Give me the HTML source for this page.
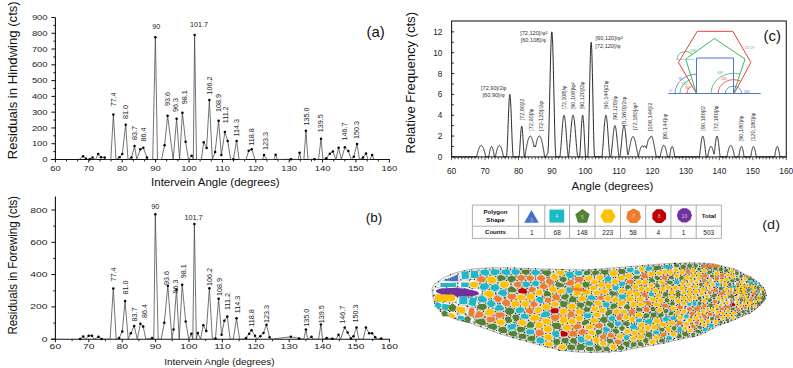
<!DOCTYPE html>
<html><head><meta charset="utf-8"><style>
html,body{margin:0;padding:0;background:#fff;}
body{width:793px;height:368px;overflow:hidden;position:relative;font-family:"Liberation Sans", sans-serif;}
</style></head><body>
<svg width="793" height="368" viewBox="0 0 793 368" style="position:absolute;left:0;top:0">
<g font-family='"Liberation Sans", sans-serif'>
<line x1="55.4" y1="17.48" x2="55.4" y2="160.00" stroke="#111" stroke-width="1.1"/>
<line x1="50.9" y1="159.5" x2="389.90" y2="159.5" stroke="#111" stroke-width="1.1"/>
<line x1="51.4" y1="159.50" x2="55.4" y2="159.50" stroke="#111" stroke-width="1"/>
<line x1="53.4" y1="151.61" x2="55.4" y2="151.61" stroke="#111" stroke-width="1"/>
<line x1="51.4" y1="143.72" x2="55.4" y2="143.72" stroke="#111" stroke-width="1"/>
<line x1="53.4" y1="135.83" x2="55.4" y2="135.83" stroke="#111" stroke-width="1"/>
<line x1="51.4" y1="127.94" x2="55.4" y2="127.94" stroke="#111" stroke-width="1"/>
<line x1="53.4" y1="120.05" x2="55.4" y2="120.05" stroke="#111" stroke-width="1"/>
<line x1="51.4" y1="112.16" x2="55.4" y2="112.16" stroke="#111" stroke-width="1"/>
<line x1="53.4" y1="104.27" x2="55.4" y2="104.27" stroke="#111" stroke-width="1"/>
<line x1="51.4" y1="96.38" x2="55.4" y2="96.38" stroke="#111" stroke-width="1"/>
<line x1="53.4" y1="88.49" x2="55.4" y2="88.49" stroke="#111" stroke-width="1"/>
<line x1="51.4" y1="80.60" x2="55.4" y2="80.60" stroke="#111" stroke-width="1"/>
<line x1="53.4" y1="72.71" x2="55.4" y2="72.71" stroke="#111" stroke-width="1"/>
<line x1="51.4" y1="64.82" x2="55.4" y2="64.82" stroke="#111" stroke-width="1"/>
<line x1="53.4" y1="56.93" x2="55.4" y2="56.93" stroke="#111" stroke-width="1"/>
<line x1="51.4" y1="49.04" x2="55.4" y2="49.04" stroke="#111" stroke-width="1"/>
<line x1="53.4" y1="41.15" x2="55.4" y2="41.15" stroke="#111" stroke-width="1"/>
<line x1="51.4" y1="33.26" x2="55.4" y2="33.26" stroke="#111" stroke-width="1"/>
<line x1="53.4" y1="25.37" x2="55.4" y2="25.37" stroke="#111" stroke-width="1"/>
<line x1="51.4" y1="17.48" x2="55.4" y2="17.48" stroke="#111" stroke-width="1"/>
<text x="47.60" y="162.10" font-size="7.6" text-anchor="end" transform="translate(47.60,0) scale(1.24,1) translate(-47.60,0)" fill="#222">0</text>
<text x="47.60" y="146.32" font-size="7.6" text-anchor="end" transform="translate(47.60,0) scale(1.24,1) translate(-47.60,0)" fill="#222">100</text>
<text x="47.60" y="130.54" font-size="7.6" text-anchor="end" transform="translate(47.60,0) scale(1.24,1) translate(-47.60,0)" fill="#222">200</text>
<text x="47.60" y="114.76" font-size="7.6" text-anchor="end" transform="translate(47.60,0) scale(1.24,1) translate(-47.60,0)" fill="#222">300</text>
<text x="47.60" y="98.98" font-size="7.6" text-anchor="end" transform="translate(47.60,0) scale(1.24,1) translate(-47.60,0)" fill="#222">400</text>
<text x="47.60" y="83.20" font-size="7.6" text-anchor="end" transform="translate(47.60,0) scale(1.24,1) translate(-47.60,0)" fill="#222">500</text>
<text x="47.60" y="67.42" font-size="7.6" text-anchor="end" transform="translate(47.60,0) scale(1.24,1) translate(-47.60,0)" fill="#222">600</text>
<text x="47.60" y="51.64" font-size="7.6" text-anchor="end" transform="translate(47.60,0) scale(1.24,1) translate(-47.60,0)" fill="#222">700</text>
<text x="47.60" y="35.86" font-size="7.6" text-anchor="end" transform="translate(47.60,0) scale(1.24,1) translate(-47.60,0)" fill="#222">800</text>
<text x="47.60" y="20.08" font-size="7.6" text-anchor="end" transform="translate(47.60,0) scale(1.24,1) translate(-47.60,0)" fill="#222">900</text>
<line x1="55.40" y1="159.5" x2="55.40" y2="162.50" stroke="#111" stroke-width="1"/>
<text x="55.40" y="170.90" font-size="7.6" text-anchor="middle" transform="translate(55.40,0) scale(1.24,1) translate(-55.40,0)" fill="#222">60</text>
<line x1="66.53" y1="159.5" x2="66.53" y2="161.50" stroke="#111" stroke-width="0.9"/>
<line x1="77.67" y1="159.5" x2="77.67" y2="161.50" stroke="#111" stroke-width="0.9"/>
<line x1="88.80" y1="159.5" x2="88.80" y2="162.50" stroke="#111" stroke-width="1"/>
<text x="88.80" y="170.90" font-size="7.6" text-anchor="middle" transform="translate(88.80,0) scale(1.24,1) translate(-88.80,0)" fill="#222">70</text>
<line x1="99.93" y1="159.5" x2="99.93" y2="161.50" stroke="#111" stroke-width="0.9"/>
<line x1="111.07" y1="159.5" x2="111.07" y2="161.50" stroke="#111" stroke-width="0.9"/>
<line x1="122.20" y1="159.5" x2="122.20" y2="162.50" stroke="#111" stroke-width="1"/>
<text x="122.20" y="170.90" font-size="7.6" text-anchor="middle" transform="translate(122.20,0) scale(1.24,1) translate(-122.20,0)" fill="#222">80</text>
<line x1="133.33" y1="159.5" x2="133.33" y2="161.50" stroke="#111" stroke-width="0.9"/>
<line x1="144.47" y1="159.5" x2="144.47" y2="161.50" stroke="#111" stroke-width="0.9"/>
<line x1="155.60" y1="159.5" x2="155.60" y2="162.50" stroke="#111" stroke-width="1"/>
<text x="155.60" y="170.90" font-size="7.6" text-anchor="middle" transform="translate(155.60,0) scale(1.24,1) translate(-155.60,0)" fill="#222">90</text>
<line x1="166.73" y1="159.5" x2="166.73" y2="161.50" stroke="#111" stroke-width="0.9"/>
<line x1="177.87" y1="159.5" x2="177.87" y2="161.50" stroke="#111" stroke-width="0.9"/>
<line x1="189.00" y1="159.5" x2="189.00" y2="162.50" stroke="#111" stroke-width="1"/>
<text x="189.00" y="170.90" font-size="7.6" text-anchor="middle" transform="translate(189.00,0) scale(1.24,1) translate(-189.00,0)" fill="#222">100</text>
<line x1="200.13" y1="159.5" x2="200.13" y2="161.50" stroke="#111" stroke-width="0.9"/>
<line x1="211.27" y1="159.5" x2="211.27" y2="161.50" stroke="#111" stroke-width="0.9"/>
<line x1="222.40" y1="159.5" x2="222.40" y2="162.50" stroke="#111" stroke-width="1"/>
<text x="222.40" y="170.90" font-size="7.6" text-anchor="middle" transform="translate(222.40,0) scale(1.24,1) translate(-222.40,0)" fill="#222">110</text>
<line x1="233.53" y1="159.5" x2="233.53" y2="161.50" stroke="#111" stroke-width="0.9"/>
<line x1="244.67" y1="159.5" x2="244.67" y2="161.50" stroke="#111" stroke-width="0.9"/>
<line x1="255.80" y1="159.5" x2="255.80" y2="162.50" stroke="#111" stroke-width="1"/>
<text x="255.80" y="170.90" font-size="7.6" text-anchor="middle" transform="translate(255.80,0) scale(1.24,1) translate(-255.80,0)" fill="#222">120</text>
<line x1="266.93" y1="159.5" x2="266.93" y2="161.50" stroke="#111" stroke-width="0.9"/>
<line x1="278.07" y1="159.5" x2="278.07" y2="161.50" stroke="#111" stroke-width="0.9"/>
<line x1="289.20" y1="159.5" x2="289.20" y2="162.50" stroke="#111" stroke-width="1"/>
<text x="289.20" y="170.90" font-size="7.6" text-anchor="middle" transform="translate(289.20,0) scale(1.24,1) translate(-289.20,0)" fill="#222">130</text>
<line x1="300.33" y1="159.5" x2="300.33" y2="161.50" stroke="#111" stroke-width="0.9"/>
<line x1="311.47" y1="159.5" x2="311.47" y2="161.50" stroke="#111" stroke-width="0.9"/>
<line x1="322.60" y1="159.5" x2="322.60" y2="162.50" stroke="#111" stroke-width="1"/>
<text x="322.60" y="170.90" font-size="7.6" text-anchor="middle" transform="translate(322.60,0) scale(1.24,1) translate(-322.60,0)" fill="#222">140</text>
<line x1="333.73" y1="159.5" x2="333.73" y2="161.50" stroke="#111" stroke-width="0.9"/>
<line x1="344.87" y1="159.5" x2="344.87" y2="161.50" stroke="#111" stroke-width="0.9"/>
<line x1="356.00" y1="159.5" x2="356.00" y2="162.50" stroke="#111" stroke-width="1"/>
<text x="356.00" y="170.90" font-size="7.6" text-anchor="middle" transform="translate(356.00,0) scale(1.24,1) translate(-356.00,0)" fill="#222">150</text>
<line x1="367.13" y1="159.5" x2="367.13" y2="161.50" stroke="#111" stroke-width="0.9"/>
<line x1="378.27" y1="159.5" x2="378.27" y2="161.50" stroke="#111" stroke-width="0.9"/>
<line x1="389.40" y1="159.5" x2="389.40" y2="162.50" stroke="#111" stroke-width="1"/>
<text x="389.40" y="170.90" font-size="7.6" text-anchor="middle" transform="translate(389.40,0) scale(1.24,1) translate(-389.40,0)" fill="#222">160</text>
<polyline fill="none" stroke="#444" stroke-width="0.75" points="79.00,159.50 83.10,156.34 86.00,158.71 88.00,159.50 89.70,159.18 92.50,157.45 95.50,159.50 98.20,153.98 101.00,157.13 104.70,157.45 105.50,159.50 110.80,159.50 113.40,114.53 116.00,159.50 119.50,157.13 122.30,153.98 125.70,124.78 128.00,159.50 131.50,157.45 134.50,146.09 136.80,159.50 140.30,149.24 143.30,147.66 146.90,157.45 148.30,159.50 152.70,159.50 155.40,37.20 157.50,159.50 161.50,159.50 164.60,145.30 167.60,115.79 173.20,159.50 176.60,118.79 179.60,159.50 182.40,112.79 185.60,141.83 188.50,159.50 191.60,155.71 193.30,159.50 194.60,35.00 196.50,159.50 201.40,159.50 203.70,142.14 206.60,147.98 209.40,100.01 212.30,159.50 215.10,152.08 218.60,120.84 221.40,155.08 224.90,132.04 227.70,140.88 230.60,159.50 233.40,159.34 236.60,140.88 239.10,159.50 246.00,159.50 248.70,150.82 251.70,149.24 255.00,159.50 262.50,159.50 264.00,155.08 267.00,159.50 274.00,159.50 275.60,154.77 277.40,159.50 290.90,159.18 298.20,159.50 299.60,152.71 301.20,159.50 303.90,159.50 305.90,130.78 308.00,159.50 314.50,159.18 318.60,159.50 321.00,138.67 323.00,159.50 326.30,158.24 329.80,153.66 332.90,151.61 335.90,159.50 338.60,147.82 341.40,159.50 344.80,147.35 348.30,150.98 351.30,159.50 353.80,156.66 357.00,143.88 359.50,159.50 363.00,157.61 366.00,153.50 368.00,159.50 370.00,159.50 372.10,155.08 374.20,159.50"/>
<circle cx="83.10" cy="156.34" r="1.25" fill="#000"/>
<circle cx="86.00" cy="158.71" r="1.25" fill="#000"/>
<circle cx="89.70" cy="159.18" r="1.25" fill="#000"/>
<circle cx="92.50" cy="157.45" r="1.25" fill="#000"/>
<circle cx="98.20" cy="153.98" r="1.25" fill="#000"/>
<circle cx="101.00" cy="157.13" r="1.25" fill="#000"/>
<circle cx="104.70" cy="157.45" r="1.25" fill="#000"/>
<circle cx="113.40" cy="114.53" r="1.25" fill="#000"/>
<circle cx="119.50" cy="157.13" r="1.25" fill="#000"/>
<circle cx="122.30" cy="153.98" r="1.25" fill="#000"/>
<circle cx="125.70" cy="124.78" r="1.25" fill="#000"/>
<circle cx="131.50" cy="157.45" r="1.25" fill="#000"/>
<circle cx="134.50" cy="146.09" r="1.25" fill="#000"/>
<circle cx="140.30" cy="149.24" r="1.25" fill="#000"/>
<circle cx="143.30" cy="147.66" r="1.25" fill="#000"/>
<circle cx="146.90" cy="157.45" r="1.25" fill="#000"/>
<circle cx="155.40" cy="37.20" r="1.25" fill="#000"/>
<circle cx="164.60" cy="145.30" r="1.25" fill="#000"/>
<circle cx="167.60" cy="115.79" r="1.25" fill="#000"/>
<circle cx="176.60" cy="118.79" r="1.25" fill="#000"/>
<circle cx="182.40" cy="112.79" r="1.25" fill="#000"/>
<circle cx="185.60" cy="141.83" r="1.25" fill="#000"/>
<circle cx="191.60" cy="155.71" r="1.25" fill="#000"/>
<circle cx="194.60" cy="35.00" r="1.25" fill="#000"/>
<circle cx="203.70" cy="142.14" r="1.25" fill="#000"/>
<circle cx="206.60" cy="147.98" r="1.25" fill="#000"/>
<circle cx="209.40" cy="100.01" r="1.25" fill="#000"/>
<circle cx="215.10" cy="152.08" r="1.25" fill="#000"/>
<circle cx="218.60" cy="120.84" r="1.25" fill="#000"/>
<circle cx="221.40" cy="155.08" r="1.25" fill="#000"/>
<circle cx="224.90" cy="132.04" r="1.25" fill="#000"/>
<circle cx="227.70" cy="140.88" r="1.25" fill="#000"/>
<circle cx="233.40" cy="159.34" r="1.25" fill="#000"/>
<circle cx="236.60" cy="140.88" r="1.25" fill="#000"/>
<circle cx="248.70" cy="150.82" r="1.25" fill="#000"/>
<circle cx="251.70" cy="149.24" r="1.25" fill="#000"/>
<circle cx="264.00" cy="155.08" r="1.25" fill="#000"/>
<circle cx="275.60" cy="154.77" r="1.25" fill="#000"/>
<circle cx="290.90" cy="159.18" r="1.25" fill="#000"/>
<circle cx="299.60" cy="152.71" r="1.25" fill="#000"/>
<circle cx="305.90" cy="130.78" r="1.25" fill="#000"/>
<circle cx="314.50" cy="159.18" r="1.25" fill="#000"/>
<circle cx="321.00" cy="138.67" r="1.25" fill="#000"/>
<circle cx="326.30" cy="158.24" r="1.25" fill="#000"/>
<circle cx="329.80" cy="153.66" r="1.25" fill="#000"/>
<circle cx="332.90" cy="151.61" r="1.25" fill="#000"/>
<circle cx="338.60" cy="147.82" r="1.25" fill="#000"/>
<circle cx="344.80" cy="147.35" r="1.25" fill="#000"/>
<circle cx="348.30" cy="150.98" r="1.25" fill="#000"/>
<circle cx="353.80" cy="156.66" r="1.25" fill="#000"/>
<circle cx="357.00" cy="143.88" r="1.25" fill="#000"/>
<circle cx="363.00" cy="157.61" r="1.25" fill="#000"/>
<circle cx="366.00" cy="153.50" r="1.25" fill="#000"/>
<circle cx="372.10" cy="155.08" r="1.25" fill="#000"/>
<text x="0" y="0" font-size="7.2" fill="#222" transform="translate(115.60,106.50) rotate(-90)">77.4</text>
<text x="0" y="0" font-size="7.2" fill="#222" transform="translate(127.90,119.00) rotate(-90)">81.0</text>
<text x="0" y="0" font-size="7.2" fill="#222" transform="translate(136.70,140.00) rotate(-90)">83.7</text>
<text x="0" y="0" font-size="7.2" fill="#222" transform="translate(145.50,141.50) rotate(-90)">86.4</text>
<text x="156.20" y="29.40" font-size="7.2" text-anchor="middle" fill="#222">90</text>
<text x="199.00" y="27.00" font-size="7.2" text-anchor="middle" fill="#222">101.7</text>
<text x="0" y="0" font-size="7.2" fill="#222" transform="translate(169.80,106.00) rotate(-90)">93.6</text>
<text x="0" y="0" font-size="7.2" fill="#222" transform="translate(178.10,112.00) rotate(-90)">96.3</text>
<text x="0" y="0" font-size="7.2" fill="#222" transform="translate(186.50,104.20) rotate(-90)">98.1</text>
<text x="0" y="0" font-size="7.2" fill="#222" transform="translate(211.60,94.50) rotate(-90)">106.2</text>
<text x="0" y="0" font-size="7.2" fill="#222" transform="translate(220.70,112.00) rotate(-90)">108.9</text>
<text x="0" y="0" font-size="7.2" fill="#222" transform="translate(228.30,123.30) rotate(-90)">111.2</text>
<text x="0" y="0" font-size="7.2" fill="#222" transform="translate(238.80,136.50) rotate(-90)">114.3</text>
<text x="0" y="0" font-size="7.2" fill="#222" transform="translate(253.90,145.70) rotate(-90)">118.8</text>
<text x="0" y="0" font-size="7.2" fill="#222" transform="translate(268.40,150.00) rotate(-90)">123.3</text>
<text x="0" y="0" font-size="7.2" fill="#222" transform="translate(309.40,125.50) rotate(-90)">135.0</text>
<text x="0" y="0" font-size="7.2" fill="#222" transform="translate(323.40,132.20) rotate(-90)">139.5</text>
<text x="0" y="0" font-size="7.2" fill="#222" transform="translate(346.50,140.50) rotate(-90)">146.7</text>
<text x="0" y="0" font-size="7.2" fill="#222" transform="translate(359.20,139.00) rotate(-90)">150.3</text>
<text x="0" y="0" font-size="13.6" fill="#111" transform="translate(17.00,159.30) rotate(-90)" textLength="158" lengthAdjust="spacingAndGlyphs">Residuals in Hindwing (cts)</text>
<text x="215.30" y="186.20" font-size="11.5" text-anchor="middle" fill="#111">Intervein Angle (degrees)</text>
<text x="366.50" y="37.00" font-size="15" fill="#111">(a)</text>
<line x1="55.4" y1="196.43" x2="55.4" y2="339.70" stroke="#111" stroke-width="1.1"/>
<line x1="50.9" y1="339.2" x2="389.90" y2="339.2" stroke="#111" stroke-width="1.1"/>
<line x1="51.4" y1="339.20" x2="55.4" y2="339.20" stroke="#111" stroke-width="1"/>
<line x1="53.4" y1="323.05" x2="55.4" y2="323.05" stroke="#111" stroke-width="1"/>
<line x1="51.4" y1="306.90" x2="55.4" y2="306.90" stroke="#111" stroke-width="1"/>
<line x1="53.4" y1="290.75" x2="55.4" y2="290.75" stroke="#111" stroke-width="1"/>
<line x1="51.4" y1="274.60" x2="55.4" y2="274.60" stroke="#111" stroke-width="1"/>
<line x1="53.4" y1="258.45" x2="55.4" y2="258.45" stroke="#111" stroke-width="1"/>
<line x1="51.4" y1="242.30" x2="55.4" y2="242.30" stroke="#111" stroke-width="1"/>
<line x1="53.4" y1="226.15" x2="55.4" y2="226.15" stroke="#111" stroke-width="1"/>
<line x1="51.4" y1="210.00" x2="55.4" y2="210.00" stroke="#111" stroke-width="1"/>
<text x="47.60" y="341.80" font-size="7.4" text-anchor="end" transform="translate(47.60,0) scale(1.4,1) translate(-47.60,0)" fill="#222">0</text>
<text x="47.60" y="309.50" font-size="7.4" text-anchor="end" transform="translate(47.60,0) scale(1.4,1) translate(-47.60,0)" fill="#222">200</text>
<text x="47.60" y="277.20" font-size="7.4" text-anchor="end" transform="translate(47.60,0) scale(1.4,1) translate(-47.60,0)" fill="#222">400</text>
<text x="47.60" y="244.90" font-size="7.4" text-anchor="end" transform="translate(47.60,0) scale(1.4,1) translate(-47.60,0)" fill="#222">600</text>
<text x="47.60" y="212.60" font-size="7.4" text-anchor="end" transform="translate(47.60,0) scale(1.4,1) translate(-47.60,0)" fill="#222">800</text>
<line x1="55.40" y1="339.2" x2="55.40" y2="342.20" stroke="#111" stroke-width="1"/>
<text x="55.40" y="349.00" font-size="7.4" text-anchor="middle" transform="translate(55.40,0) scale(1.4,1) translate(-55.40,0)" fill="#222">60</text>
<line x1="72.10" y1="339.2" x2="72.10" y2="341.20" stroke="#111" stroke-width="0.9"/>
<line x1="88.80" y1="339.2" x2="88.80" y2="342.20" stroke="#111" stroke-width="1"/>
<text x="88.80" y="349.00" font-size="7.4" text-anchor="middle" transform="translate(88.80,0) scale(1.4,1) translate(-88.80,0)" fill="#222">70</text>
<line x1="105.50" y1="339.2" x2="105.50" y2="341.20" stroke="#111" stroke-width="0.9"/>
<line x1="122.20" y1="339.2" x2="122.20" y2="342.20" stroke="#111" stroke-width="1"/>
<text x="122.20" y="349.00" font-size="7.4" text-anchor="middle" transform="translate(122.20,0) scale(1.4,1) translate(-122.20,0)" fill="#222">80</text>
<line x1="138.90" y1="339.2" x2="138.90" y2="341.20" stroke="#111" stroke-width="0.9"/>
<line x1="155.60" y1="339.2" x2="155.60" y2="342.20" stroke="#111" stroke-width="1"/>
<text x="155.60" y="349.00" font-size="7.4" text-anchor="middle" transform="translate(155.60,0) scale(1.4,1) translate(-155.60,0)" fill="#222">90</text>
<line x1="172.30" y1="339.2" x2="172.30" y2="341.20" stroke="#111" stroke-width="0.9"/>
<line x1="189.00" y1="339.2" x2="189.00" y2="342.20" stroke="#111" stroke-width="1"/>
<text x="189.00" y="349.00" font-size="7.4" text-anchor="middle" transform="translate(189.00,0) scale(1.4,1) translate(-189.00,0)" fill="#222">100</text>
<line x1="205.70" y1="339.2" x2="205.70" y2="341.20" stroke="#111" stroke-width="0.9"/>
<line x1="222.40" y1="339.2" x2="222.40" y2="342.20" stroke="#111" stroke-width="1"/>
<text x="222.40" y="349.00" font-size="7.4" text-anchor="middle" transform="translate(222.40,0) scale(1.4,1) translate(-222.40,0)" fill="#222">110</text>
<line x1="239.10" y1="339.2" x2="239.10" y2="341.20" stroke="#111" stroke-width="0.9"/>
<line x1="255.80" y1="339.2" x2="255.80" y2="342.20" stroke="#111" stroke-width="1"/>
<text x="255.80" y="349.00" font-size="7.4" text-anchor="middle" transform="translate(255.80,0) scale(1.4,1) translate(-255.80,0)" fill="#222">120</text>
<line x1="272.50" y1="339.2" x2="272.50" y2="341.20" stroke="#111" stroke-width="0.9"/>
<line x1="289.20" y1="339.2" x2="289.20" y2="342.20" stroke="#111" stroke-width="1"/>
<text x="289.20" y="349.00" font-size="7.4" text-anchor="middle" transform="translate(289.20,0) scale(1.4,1) translate(-289.20,0)" fill="#222">130</text>
<line x1="305.90" y1="339.2" x2="305.90" y2="341.20" stroke="#111" stroke-width="0.9"/>
<line x1="322.60" y1="339.2" x2="322.60" y2="342.20" stroke="#111" stroke-width="1"/>
<text x="322.60" y="349.00" font-size="7.4" text-anchor="middle" transform="translate(322.60,0) scale(1.4,1) translate(-322.60,0)" fill="#222">140</text>
<line x1="339.30" y1="339.2" x2="339.30" y2="341.20" stroke="#111" stroke-width="0.9"/>
<line x1="356.00" y1="339.2" x2="356.00" y2="342.20" stroke="#111" stroke-width="1"/>
<text x="356.00" y="349.00" font-size="7.4" text-anchor="middle" transform="translate(356.00,0) scale(1.4,1) translate(-356.00,0)" fill="#222">150</text>
<line x1="372.70" y1="339.2" x2="372.70" y2="341.20" stroke="#111" stroke-width="0.9"/>
<line x1="389.40" y1="339.2" x2="389.40" y2="342.20" stroke="#111" stroke-width="1"/>
<text x="389.40" y="349.00" font-size="7.4" text-anchor="middle" transform="translate(389.40,0) scale(1.4,1) translate(-389.40,0)" fill="#222">160</text>
<polyline fill="none" stroke="#444" stroke-width="0.75" points="78.50,339.20 80.20,338.88 83.20,336.45 85.70,339.20 88.70,335.65 92.00,335.65 94.20,339.20 98.50,336.78 101.60,338.88 102.80,339.20 110.10,339.20 113.30,288.49 116.20,339.20 119.20,337.91 122.30,331.45 125.10,300.92 128.20,339.20 130.80,333.22 134.20,325.96 137.30,339.20 140.40,323.70 143.20,326.44 145.80,339.20 152.20,337.91 153.80,339.20 155.30,214.20 158.20,339.20 161.20,339.20 164.30,322.73 167.80,285.74 172.00,339.20 173.50,329.51 176.50,289.46 179.20,339.20 182.20,284.77 185.70,321.60 188.80,339.20 191.40,333.87 192.80,339.20 194.40,224.05 196.30,339.20 197.80,332.90 200.60,339.20 203.30,325.15 206.30,331.12 209.40,288.33 212.40,339.20 215.50,338.39 218.60,298.66 221.60,334.84 224.30,320.63 227.30,316.59 230.20,339.20 233.30,339.20 236.50,318.37 239.60,339.20 243.00,339.20 246.10,337.91 249.20,333.71 251.50,330.32 255.00,335.65 256.80,339.20 260.30,336.13 263.50,332.90 266.50,324.66 269.60,337.26 271.80,339.20 290.80,336.78 299.10,338.39 303.80,339.20 305.90,329.51 307.60,339.20 311.50,336.78 313.00,339.20 318.60,339.20 320.90,324.50 322.60,339.20 326.70,337.91 332.40,338.72 336.00,339.20 338.50,334.68 340.50,339.20 344.70,327.41 347.70,332.58 350.90,338.39 353.50,336.13 356.50,327.41 358.80,339.20 363.20,339.20 365.90,327.57 369.10,333.22 372.10,333.22 375.20,337.26 377.70,339.20 381.20,338.39 383.00,339.20"/>
<circle cx="80.20" cy="338.88" r="1.25" fill="#000"/>
<circle cx="83.20" cy="336.45" r="1.25" fill="#000"/>
<circle cx="88.70" cy="335.65" r="1.25" fill="#000"/>
<circle cx="92.00" cy="335.65" r="1.25" fill="#000"/>
<circle cx="98.50" cy="336.78" r="1.25" fill="#000"/>
<circle cx="101.60" cy="338.88" r="1.25" fill="#000"/>
<circle cx="113.30" cy="288.49" r="1.25" fill="#000"/>
<circle cx="119.20" cy="337.91" r="1.25" fill="#000"/>
<circle cx="122.30" cy="331.45" r="1.25" fill="#000"/>
<circle cx="125.10" cy="300.92" r="1.25" fill="#000"/>
<circle cx="130.80" cy="333.22" r="1.25" fill="#000"/>
<circle cx="134.20" cy="325.96" r="1.25" fill="#000"/>
<circle cx="140.40" cy="323.70" r="1.25" fill="#000"/>
<circle cx="143.20" cy="326.44" r="1.25" fill="#000"/>
<circle cx="152.20" cy="337.91" r="1.25" fill="#000"/>
<circle cx="155.30" cy="214.20" r="1.25" fill="#000"/>
<circle cx="164.30" cy="322.73" r="1.25" fill="#000"/>
<circle cx="167.80" cy="285.74" r="1.25" fill="#000"/>
<circle cx="173.50" cy="329.51" r="1.25" fill="#000"/>
<circle cx="176.50" cy="289.46" r="1.25" fill="#000"/>
<circle cx="182.20" cy="284.77" r="1.25" fill="#000"/>
<circle cx="185.70" cy="321.60" r="1.25" fill="#000"/>
<circle cx="191.40" cy="333.87" r="1.25" fill="#000"/>
<circle cx="194.40" cy="224.05" r="1.25" fill="#000"/>
<circle cx="197.80" cy="332.90" r="1.25" fill="#000"/>
<circle cx="203.30" cy="325.15" r="1.25" fill="#000"/>
<circle cx="206.30" cy="331.12" r="1.25" fill="#000"/>
<circle cx="209.40" cy="288.33" r="1.25" fill="#000"/>
<circle cx="215.50" cy="338.39" r="1.25" fill="#000"/>
<circle cx="218.60" cy="298.66" r="1.25" fill="#000"/>
<circle cx="221.60" cy="334.84" r="1.25" fill="#000"/>
<circle cx="224.30" cy="320.63" r="1.25" fill="#000"/>
<circle cx="227.30" cy="316.59" r="1.25" fill="#000"/>
<circle cx="236.50" cy="318.37" r="1.25" fill="#000"/>
<circle cx="246.10" cy="337.91" r="1.25" fill="#000"/>
<circle cx="249.20" cy="333.71" r="1.25" fill="#000"/>
<circle cx="251.50" cy="330.32" r="1.25" fill="#000"/>
<circle cx="255.00" cy="335.65" r="1.25" fill="#000"/>
<circle cx="260.30" cy="336.13" r="1.25" fill="#000"/>
<circle cx="263.50" cy="332.90" r="1.25" fill="#000"/>
<circle cx="266.50" cy="324.66" r="1.25" fill="#000"/>
<circle cx="269.60" cy="337.26" r="1.25" fill="#000"/>
<circle cx="290.80" cy="336.78" r="1.25" fill="#000"/>
<circle cx="299.10" cy="338.39" r="1.25" fill="#000"/>
<circle cx="305.90" cy="329.51" r="1.25" fill="#000"/>
<circle cx="311.50" cy="336.78" r="1.25" fill="#000"/>
<circle cx="320.90" cy="324.50" r="1.25" fill="#000"/>
<circle cx="326.70" cy="337.91" r="1.25" fill="#000"/>
<circle cx="332.40" cy="338.72" r="1.25" fill="#000"/>
<circle cx="338.50" cy="334.68" r="1.25" fill="#000"/>
<circle cx="344.70" cy="327.41" r="1.25" fill="#000"/>
<circle cx="347.70" cy="332.58" r="1.25" fill="#000"/>
<circle cx="350.90" cy="338.39" r="1.25" fill="#000"/>
<circle cx="353.50" cy="336.13" r="1.25" fill="#000"/>
<circle cx="356.50" cy="327.41" r="1.25" fill="#000"/>
<circle cx="365.90" cy="327.57" r="1.25" fill="#000"/>
<circle cx="369.10" cy="333.22" r="1.25" fill="#000"/>
<circle cx="372.10" cy="333.22" r="1.25" fill="#000"/>
<circle cx="375.20" cy="337.26" r="1.25" fill="#000"/>
<circle cx="381.20" cy="338.39" r="1.25" fill="#000"/>
<text x="0" y="0" font-size="7.2" fill="#222" transform="translate(116.20,281.50) rotate(-90)">77.4</text>
<text x="0" y="0" font-size="7.2" fill="#222" transform="translate(127.60,294.50) rotate(-90)">81.0</text>
<text x="0" y="0" font-size="7.2" fill="#222" transform="translate(136.80,321.50) rotate(-90)">83.7</text>
<text x="0" y="0" font-size="7.2" fill="#222" transform="translate(146.60,318.00) rotate(-90)">86.4</text>
<text x="155.20" y="209.30" font-size="7.2" text-anchor="middle" fill="#222">90</text>
<text x="193.50" y="220.00" font-size="7.2" text-anchor="middle" fill="#222">101.7</text>
<text x="0" y="0" font-size="7.2" fill="#222" transform="translate(168.50,285.00) rotate(-90)">93.6</text>
<text x="0" y="0" font-size="7.2" fill="#222" transform="translate(178.10,293.50) rotate(-90)">96.3</text>
<text x="0" y="0" font-size="7.2" fill="#222" transform="translate(186.40,278.20) rotate(-90)">98.1</text>
<text x="0" y="0" font-size="7.2" fill="#222" transform="translate(212.20,286.00) rotate(-90)">106.2</text>
<text x="0" y="0" font-size="7.2" fill="#222" transform="translate(222.20,296.00) rotate(-90)">108.9</text>
<text x="0" y="0" font-size="7.2" fill="#222" transform="translate(230.10,310.00) rotate(-90)">111.2</text>
<text x="0" y="0" font-size="7.2" fill="#222" transform="translate(239.70,313.30) rotate(-90)">114.3</text>
<text x="0" y="0" font-size="7.2" fill="#222" transform="translate(253.80,326.80) rotate(-90)">118.8</text>
<text x="0" y="0" font-size="7.2" fill="#222" transform="translate(268.80,323.00) rotate(-90)">123.3</text>
<text x="0" y="0" font-size="7.2" fill="#222" transform="translate(308.90,326.80) rotate(-90)">135.0</text>
<text x="0" y="0" font-size="7.2" fill="#222" transform="translate(323.90,323.20) rotate(-90)">139.5</text>
<text x="0" y="0" font-size="7.2" fill="#222" transform="translate(345.20,323.70) rotate(-90)">146.7</text>
<text x="0" y="0" font-size="7.2" fill="#222" transform="translate(357.60,322.50) rotate(-90)">150.3</text>
<text x="0" y="0" font-size="12.5" fill="#111" transform="translate(16.80,334.60) rotate(-90)" textLength="138.8" lengthAdjust="spacingAndGlyphs">Residuals in Forewing (cts)</text>
<text x="219.40" y="364.60" font-size="9.9" text-anchor="middle" fill="#111">Intervein Angle (degrees)</text>
<text x="365.80" y="222.00" font-size="13.5" fill="#111">(b)</text>
</g>
<g font-family='"Liberation Sans", sans-serif'>
<rect x="451.60" y="21.0" width="334.70" height="135.90" fill="none" stroke="#222" stroke-width="1.1"/>
<line x1="451.60" y1="156.90" x2="454.20" y2="156.90" stroke="#222" stroke-width="1"/>
<text x="442.40" y="160.00" font-size="9.3" text-anchor="end" fill="#222" transform="translate(442.40,0) scale(0.88,1) translate(-442.40,0)">0</text>
<line x1="451.60" y1="146.48" x2="453.80" y2="146.48" stroke="#222" stroke-width="1"/>
<line x1="451.60" y1="136.06" x2="454.20" y2="136.06" stroke="#222" stroke-width="1"/>
<text x="442.40" y="139.16" font-size="9.3" text-anchor="end" fill="#222" transform="translate(442.40,0) scale(0.88,1) translate(-442.40,0)">2</text>
<line x1="451.60" y1="125.64" x2="453.80" y2="125.64" stroke="#222" stroke-width="1"/>
<line x1="451.60" y1="115.22" x2="454.20" y2="115.22" stroke="#222" stroke-width="1"/>
<text x="442.40" y="118.32" font-size="9.3" text-anchor="end" fill="#222" transform="translate(442.40,0) scale(0.88,1) translate(-442.40,0)">4</text>
<line x1="451.60" y1="104.80" x2="453.80" y2="104.80" stroke="#222" stroke-width="1"/>
<line x1="451.60" y1="94.38" x2="454.20" y2="94.38" stroke="#222" stroke-width="1"/>
<text x="442.40" y="97.48" font-size="9.3" text-anchor="end" fill="#222" transform="translate(442.40,0) scale(0.88,1) translate(-442.40,0)">6</text>
<line x1="451.60" y1="83.96" x2="453.80" y2="83.96" stroke="#222" stroke-width="1"/>
<line x1="451.60" y1="73.54" x2="454.20" y2="73.54" stroke="#222" stroke-width="1"/>
<text x="442.40" y="76.64" font-size="9.3" text-anchor="end" fill="#222" transform="translate(442.40,0) scale(0.88,1) translate(-442.40,0)">8</text>
<line x1="451.60" y1="63.12" x2="453.80" y2="63.12" stroke="#222" stroke-width="1"/>
<line x1="451.60" y1="52.70" x2="454.20" y2="52.70" stroke="#222" stroke-width="1"/>
<text x="442.40" y="55.80" font-size="9.3" text-anchor="end" fill="#222" transform="translate(442.40,0) scale(0.88,1) translate(-442.40,0)">10</text>
<line x1="451.60" y1="42.28" x2="453.80" y2="42.28" stroke="#222" stroke-width="1"/>
<line x1="451.60" y1="31.86" x2="454.20" y2="31.86" stroke="#222" stroke-width="1"/>
<text x="442.40" y="34.96" font-size="9.3" text-anchor="end" fill="#222" transform="translate(442.40,0) scale(0.88,1) translate(-442.40,0)">12</text>
<line x1="451.60" y1="156.90" x2="451.60" y2="160.20" stroke="#333" stroke-width="0.8"/>
<text x="451.60" y="173.80" font-size="9.3" text-anchor="middle" fill="#222" transform="translate(451.60,0) scale(0.9,1) translate(-451.60,0)">60</text>
<line x1="454.95" y1="156.90" x2="454.95" y2="159.30" stroke="#333" stroke-width="0.8"/>
<line x1="458.29" y1="156.90" x2="458.29" y2="159.30" stroke="#333" stroke-width="0.8"/>
<line x1="461.64" y1="156.90" x2="461.64" y2="159.30" stroke="#333" stroke-width="0.8"/>
<line x1="464.99" y1="156.90" x2="464.99" y2="159.30" stroke="#333" stroke-width="0.8"/>
<line x1="468.34" y1="156.90" x2="468.34" y2="159.30" stroke="#333" stroke-width="0.8"/>
<line x1="471.68" y1="156.90" x2="471.68" y2="159.30" stroke="#333" stroke-width="0.8"/>
<line x1="475.03" y1="156.90" x2="475.03" y2="159.30" stroke="#333" stroke-width="0.8"/>
<line x1="478.38" y1="156.90" x2="478.38" y2="159.30" stroke="#333" stroke-width="0.8"/>
<line x1="481.72" y1="156.90" x2="481.72" y2="159.30" stroke="#333" stroke-width="0.8"/>
<line x1="485.07" y1="156.90" x2="485.07" y2="160.20" stroke="#333" stroke-width="0.8"/>
<text x="485.07" y="173.80" font-size="9.3" text-anchor="middle" fill="#222" transform="translate(485.07,0) scale(0.9,1) translate(-485.07,0)">70</text>
<line x1="488.42" y1="156.90" x2="488.42" y2="159.30" stroke="#333" stroke-width="0.8"/>
<line x1="491.76" y1="156.90" x2="491.76" y2="159.30" stroke="#333" stroke-width="0.8"/>
<line x1="495.11" y1="156.90" x2="495.11" y2="159.30" stroke="#333" stroke-width="0.8"/>
<line x1="498.46" y1="156.90" x2="498.46" y2="159.30" stroke="#333" stroke-width="0.8"/>
<line x1="501.81" y1="156.90" x2="501.81" y2="159.30" stroke="#333" stroke-width="0.8"/>
<line x1="505.15" y1="156.90" x2="505.15" y2="159.30" stroke="#333" stroke-width="0.8"/>
<line x1="508.50" y1="156.90" x2="508.50" y2="159.30" stroke="#333" stroke-width="0.8"/>
<line x1="511.85" y1="156.90" x2="511.85" y2="159.30" stroke="#333" stroke-width="0.8"/>
<line x1="515.19" y1="156.90" x2="515.19" y2="159.30" stroke="#333" stroke-width="0.8"/>
<line x1="518.54" y1="156.90" x2="518.54" y2="160.20" stroke="#333" stroke-width="0.8"/>
<text x="518.54" y="173.80" font-size="9.3" text-anchor="middle" fill="#222" transform="translate(518.54,0) scale(0.9,1) translate(-518.54,0)">80</text>
<line x1="521.89" y1="156.90" x2="521.89" y2="159.30" stroke="#333" stroke-width="0.8"/>
<line x1="525.23" y1="156.90" x2="525.23" y2="159.30" stroke="#333" stroke-width="0.8"/>
<line x1="528.58" y1="156.90" x2="528.58" y2="159.30" stroke="#333" stroke-width="0.8"/>
<line x1="531.93" y1="156.90" x2="531.93" y2="159.30" stroke="#333" stroke-width="0.8"/>
<line x1="535.27" y1="156.90" x2="535.27" y2="159.30" stroke="#333" stroke-width="0.8"/>
<line x1="538.62" y1="156.90" x2="538.62" y2="159.30" stroke="#333" stroke-width="0.8"/>
<line x1="541.97" y1="156.90" x2="541.97" y2="159.30" stroke="#333" stroke-width="0.8"/>
<line x1="545.32" y1="156.90" x2="545.32" y2="159.30" stroke="#333" stroke-width="0.8"/>
<line x1="548.66" y1="156.90" x2="548.66" y2="159.30" stroke="#333" stroke-width="0.8"/>
<line x1="552.01" y1="156.90" x2="552.01" y2="160.20" stroke="#333" stroke-width="0.8"/>
<text x="552.01" y="173.80" font-size="9.3" text-anchor="middle" fill="#222" transform="translate(552.01,0) scale(0.9,1) translate(-552.01,0)">90</text>
<line x1="555.36" y1="156.90" x2="555.36" y2="159.30" stroke="#333" stroke-width="0.8"/>
<line x1="558.70" y1="156.90" x2="558.70" y2="159.30" stroke="#333" stroke-width="0.8"/>
<line x1="562.05" y1="156.90" x2="562.05" y2="159.30" stroke="#333" stroke-width="0.8"/>
<line x1="565.40" y1="156.90" x2="565.40" y2="159.30" stroke="#333" stroke-width="0.8"/>
<line x1="568.75" y1="156.90" x2="568.75" y2="159.30" stroke="#333" stroke-width="0.8"/>
<line x1="572.09" y1="156.90" x2="572.09" y2="159.30" stroke="#333" stroke-width="0.8"/>
<line x1="575.44" y1="156.90" x2="575.44" y2="159.30" stroke="#333" stroke-width="0.8"/>
<line x1="578.79" y1="156.90" x2="578.79" y2="159.30" stroke="#333" stroke-width="0.8"/>
<line x1="582.13" y1="156.90" x2="582.13" y2="159.30" stroke="#333" stroke-width="0.8"/>
<line x1="585.48" y1="156.90" x2="585.48" y2="160.20" stroke="#333" stroke-width="0.8"/>
<text x="585.48" y="173.80" font-size="9.3" text-anchor="middle" fill="#222" transform="translate(585.48,0) scale(0.9,1) translate(-585.48,0)">100</text>
<line x1="588.83" y1="156.90" x2="588.83" y2="159.30" stroke="#333" stroke-width="0.8"/>
<line x1="592.17" y1="156.90" x2="592.17" y2="159.30" stroke="#333" stroke-width="0.8"/>
<line x1="595.52" y1="156.90" x2="595.52" y2="159.30" stroke="#333" stroke-width="0.8"/>
<line x1="598.87" y1="156.90" x2="598.87" y2="159.30" stroke="#333" stroke-width="0.8"/>
<line x1="602.22" y1="156.90" x2="602.22" y2="159.30" stroke="#333" stroke-width="0.8"/>
<line x1="605.56" y1="156.90" x2="605.56" y2="159.30" stroke="#333" stroke-width="0.8"/>
<line x1="608.91" y1="156.90" x2="608.91" y2="159.30" stroke="#333" stroke-width="0.8"/>
<line x1="612.26" y1="156.90" x2="612.26" y2="159.30" stroke="#333" stroke-width="0.8"/>
<line x1="615.60" y1="156.90" x2="615.60" y2="159.30" stroke="#333" stroke-width="0.8"/>
<line x1="618.95" y1="156.90" x2="618.95" y2="160.20" stroke="#333" stroke-width="0.8"/>
<text x="618.95" y="173.80" font-size="9.3" text-anchor="middle" fill="#222" transform="translate(618.95,0) scale(0.9,1) translate(-618.95,0)">110</text>
<line x1="622.30" y1="156.90" x2="622.30" y2="159.30" stroke="#333" stroke-width="0.8"/>
<line x1="625.64" y1="156.90" x2="625.64" y2="159.30" stroke="#333" stroke-width="0.8"/>
<line x1="628.99" y1="156.90" x2="628.99" y2="159.30" stroke="#333" stroke-width="0.8"/>
<line x1="632.34" y1="156.90" x2="632.34" y2="159.30" stroke="#333" stroke-width="0.8"/>
<line x1="635.69" y1="156.90" x2="635.69" y2="159.30" stroke="#333" stroke-width="0.8"/>
<line x1="639.03" y1="156.90" x2="639.03" y2="159.30" stroke="#333" stroke-width="0.8"/>
<line x1="642.38" y1="156.90" x2="642.38" y2="159.30" stroke="#333" stroke-width="0.8"/>
<line x1="645.73" y1="156.90" x2="645.73" y2="159.30" stroke="#333" stroke-width="0.8"/>
<line x1="649.07" y1="156.90" x2="649.07" y2="159.30" stroke="#333" stroke-width="0.8"/>
<line x1="652.42" y1="156.90" x2="652.42" y2="160.20" stroke="#333" stroke-width="0.8"/>
<text x="652.42" y="173.80" font-size="9.3" text-anchor="middle" fill="#222" transform="translate(652.42,0) scale(0.9,1) translate(-652.42,0)">120</text>
<line x1="655.77" y1="156.90" x2="655.77" y2="159.30" stroke="#333" stroke-width="0.8"/>
<line x1="659.11" y1="156.90" x2="659.11" y2="159.30" stroke="#333" stroke-width="0.8"/>
<line x1="662.46" y1="156.90" x2="662.46" y2="159.30" stroke="#333" stroke-width="0.8"/>
<line x1="665.81" y1="156.90" x2="665.81" y2="159.30" stroke="#333" stroke-width="0.8"/>
<line x1="669.15" y1="156.90" x2="669.15" y2="159.30" stroke="#333" stroke-width="0.8"/>
<line x1="672.50" y1="156.90" x2="672.50" y2="159.30" stroke="#333" stroke-width="0.8"/>
<line x1="675.85" y1="156.90" x2="675.85" y2="159.30" stroke="#333" stroke-width="0.8"/>
<line x1="679.20" y1="156.90" x2="679.20" y2="159.30" stroke="#333" stroke-width="0.8"/>
<line x1="682.54" y1="156.90" x2="682.54" y2="159.30" stroke="#333" stroke-width="0.8"/>
<line x1="685.89" y1="156.90" x2="685.89" y2="160.20" stroke="#333" stroke-width="0.8"/>
<text x="685.89" y="173.80" font-size="9.3" text-anchor="middle" fill="#222" transform="translate(685.89,0) scale(0.9,1) translate(-685.89,0)">130</text>
<line x1="689.24" y1="156.90" x2="689.24" y2="159.30" stroke="#333" stroke-width="0.8"/>
<line x1="692.58" y1="156.90" x2="692.58" y2="159.30" stroke="#333" stroke-width="0.8"/>
<line x1="695.93" y1="156.90" x2="695.93" y2="159.30" stroke="#333" stroke-width="0.8"/>
<line x1="699.28" y1="156.90" x2="699.28" y2="159.30" stroke="#333" stroke-width="0.8"/>
<line x1="702.62" y1="156.90" x2="702.62" y2="159.30" stroke="#333" stroke-width="0.8"/>
<line x1="705.97" y1="156.90" x2="705.97" y2="159.30" stroke="#333" stroke-width="0.8"/>
<line x1="709.32" y1="156.90" x2="709.32" y2="159.30" stroke="#333" stroke-width="0.8"/>
<line x1="712.67" y1="156.90" x2="712.67" y2="159.30" stroke="#333" stroke-width="0.8"/>
<line x1="716.01" y1="156.90" x2="716.01" y2="159.30" stroke="#333" stroke-width="0.8"/>
<line x1="719.36" y1="156.90" x2="719.36" y2="160.20" stroke="#333" stroke-width="0.8"/>
<text x="719.36" y="173.80" font-size="9.3" text-anchor="middle" fill="#222" transform="translate(719.36,0) scale(0.9,1) translate(-719.36,0)">140</text>
<line x1="722.71" y1="156.90" x2="722.71" y2="159.30" stroke="#333" stroke-width="0.8"/>
<line x1="726.05" y1="156.90" x2="726.05" y2="159.30" stroke="#333" stroke-width="0.8"/>
<line x1="729.40" y1="156.90" x2="729.40" y2="159.30" stroke="#333" stroke-width="0.8"/>
<line x1="732.75" y1="156.90" x2="732.75" y2="159.30" stroke="#333" stroke-width="0.8"/>
<line x1="736.10" y1="156.90" x2="736.10" y2="159.30" stroke="#333" stroke-width="0.8"/>
<line x1="739.44" y1="156.90" x2="739.44" y2="159.30" stroke="#333" stroke-width="0.8"/>
<line x1="742.79" y1="156.90" x2="742.79" y2="159.30" stroke="#333" stroke-width="0.8"/>
<line x1="746.14" y1="156.90" x2="746.14" y2="159.30" stroke="#333" stroke-width="0.8"/>
<line x1="749.48" y1="156.90" x2="749.48" y2="159.30" stroke="#333" stroke-width="0.8"/>
<line x1="752.83" y1="156.90" x2="752.83" y2="160.20" stroke="#333" stroke-width="0.8"/>
<text x="752.83" y="173.80" font-size="9.3" text-anchor="middle" fill="#222" transform="translate(752.83,0) scale(0.9,1) translate(-752.83,0)">150</text>
<line x1="756.18" y1="156.90" x2="756.18" y2="159.30" stroke="#333" stroke-width="0.8"/>
<line x1="759.52" y1="156.90" x2="759.52" y2="159.30" stroke="#333" stroke-width="0.8"/>
<line x1="762.87" y1="156.90" x2="762.87" y2="159.30" stroke="#333" stroke-width="0.8"/>
<line x1="766.22" y1="156.90" x2="766.22" y2="159.30" stroke="#333" stroke-width="0.8"/>
<line x1="769.57" y1="156.90" x2="769.57" y2="159.30" stroke="#333" stroke-width="0.8"/>
<line x1="772.91" y1="156.90" x2="772.91" y2="159.30" stroke="#333" stroke-width="0.8"/>
<line x1="776.26" y1="156.90" x2="776.26" y2="159.30" stroke="#333" stroke-width="0.8"/>
<line x1="779.61" y1="156.90" x2="779.61" y2="159.30" stroke="#333" stroke-width="0.8"/>
<line x1="782.95" y1="156.90" x2="782.95" y2="159.30" stroke="#333" stroke-width="0.8"/>
<line x1="786.30" y1="156.90" x2="786.30" y2="160.20" stroke="#333" stroke-width="0.8"/>
<text x="786.30" y="173.80" font-size="9.3" text-anchor="middle" fill="#222" transform="translate(786.30,0) scale(0.9,1) translate(-786.30,0)">160</text>
<polyline fill="none" stroke="#111" stroke-width="0.9" stroke-linejoin="round" points="451.60,156.90 451.70,156.90 451.80,156.90 451.90,156.90 452.00,156.90 452.10,156.90 452.20,156.90 452.30,156.90 452.40,156.90 452.50,156.90 452.60,156.90 452.70,156.90 452.80,156.90 452.91,156.90 453.01,156.90 453.11,156.90 453.21,156.90 453.31,156.90 453.41,156.90 453.51,156.90 453.61,156.90 453.71,156.90 453.81,156.90 453.91,156.90 454.01,156.90 454.11,156.90 454.21,156.90 454.31,156.90 454.41,156.90 454.51,156.90 454.61,156.90 454.71,156.90 454.81,156.90 454.91,156.90 455.01,156.90 455.11,156.90 455.21,156.90 455.32,156.90 455.42,156.90 455.52,156.90 455.62,156.90 455.72,156.90 455.82,156.90 455.92,156.90 456.02,156.90 456.12,156.90 456.22,156.90 456.32,156.90 456.42,156.90 456.52,156.90 456.62,156.90 456.72,156.90 456.82,156.90 456.92,156.90 457.02,156.90 457.12,156.90 457.22,156.90 457.32,156.90 457.42,156.90 457.52,156.90 457.62,156.90 457.73,156.90 457.83,156.90 457.93,156.90 458.03,156.90 458.13,156.90 458.23,156.90 458.33,156.90 458.43,156.90 458.53,156.90 458.63,156.90 458.73,156.90 458.83,156.90 458.93,156.90 459.03,156.90 459.13,156.90 459.23,156.90 459.33,156.90 459.43,156.90 459.53,156.90 459.63,156.90 459.73,156.90 459.83,156.90 459.93,156.90 460.03,156.90 460.13,156.90 460.24,156.90 460.34,156.90 460.44,156.90 460.54,156.90 460.64,156.90 460.74,156.90 460.84,156.90 460.94,156.90 461.04,156.90 461.14,156.90 461.24,156.90 461.34,156.90 461.44,156.90 461.54,156.90 461.64,156.90 461.74,156.90 461.84,156.90 461.94,156.90 462.04,156.90 462.14,156.90 462.24,156.90 462.34,156.90 462.44,156.90 462.54,156.90 462.65,156.90 462.75,156.90 462.85,156.90 462.95,156.90 463.05,156.90 463.15,156.90 463.25,156.90 463.35,156.90 463.45,156.90 463.55,156.90 463.65,156.90 463.75,156.90 463.85,156.90 463.95,156.90 464.05,156.90 464.15,156.90 464.25,156.90 464.35,156.90 464.45,156.90 464.55,156.90 464.65,156.90 464.75,156.90 464.85,156.90 464.95,156.90 465.05,156.90 465.16,156.90 465.26,156.90 465.36,156.90 465.46,156.90 465.56,156.90 465.66,156.90 465.76,156.90 465.86,156.90 465.96,156.90 466.06,156.90 466.16,156.90 466.26,156.90 466.36,156.90 466.46,156.90 466.56,156.90 466.66,156.90 466.76,156.90 466.86,156.90 466.96,156.90 467.06,156.90 467.16,156.90 467.26,156.90 467.36,156.90 467.46,156.90 467.57,156.90 467.67,156.90 467.77,156.90 467.87,156.90 467.97,156.90 468.07,156.90 468.17,156.90 468.27,156.90 468.37,156.90 468.47,156.90 468.57,156.90 468.67,156.90 468.77,156.90 468.87,156.90 468.97,156.90 469.07,156.90 469.17,156.90 469.27,156.90 469.37,156.90 469.47,156.90 469.57,156.90 469.67,156.90 469.77,156.90 469.87,156.90 469.98,156.90 470.08,156.90 470.18,156.90 470.28,156.90 470.38,156.90 470.48,156.90 470.58,156.90 470.68,156.90 470.78,156.90 470.88,156.90 470.98,156.90 471.08,156.90 471.18,156.90 471.28,156.90 471.38,156.90 471.48,156.90 471.58,156.90 471.68,156.90 471.78,156.90 471.88,156.90 471.98,156.90 472.08,156.90 472.18,156.90 472.28,156.90 472.38,156.90 472.49,156.90 472.59,156.90 472.69,156.90 472.79,156.90 472.89,156.90 472.99,156.90 473.09,156.90 473.19,156.90 473.29,156.90 473.39,156.90 473.49,156.90 473.59,156.90 473.69,156.90 473.79,156.90 473.89,156.90 473.99,156.90 474.09,156.90 474.19,156.90 474.29,156.90 474.39,156.90 474.49,156.90 474.59,156.90 474.69,156.90 474.79,156.90 474.90,156.90 475.00,156.90 475.10,156.90 475.20,156.90 475.30,156.90 475.40,156.90 475.50,156.90 475.60,156.90 475.70,156.90 475.80,156.90 475.90,156.90 476.00,156.90 476.10,156.90 476.20,156.90 476.30,156.90 476.40,156.90 476.50,156.90 476.60,156.90 476.70,156.69 476.80,156.18 476.90,155.71 477.00,155.26 477.10,154.83 477.20,154.41 477.30,153.99 477.41,153.59 477.51,153.20 477.61,152.82 477.71,152.44 477.81,152.07 477.91,151.71 478.01,151.36 478.11,151.02 478.21,150.68 478.31,150.36 478.41,150.04 478.51,149.73 478.61,149.44 478.71,149.15 478.81,148.87 478.91,148.60 479.01,148.34 479.11,148.09 479.21,147.85 479.31,147.62 479.41,147.40 479.51,147.19 479.61,147.00 479.71,146.81 479.82,146.64 479.92,146.47 480.02,146.32 480.12,146.18 480.22,146.05 480.32,145.94 480.42,145.83 480.52,145.74 480.62,145.66 480.72,145.59 480.82,145.54 480.92,145.49 481.02,145.46 481.12,145.44 481.22,145.44 481.32,145.44 481.42,145.46 481.52,145.49 481.62,145.54 481.72,145.59 481.82,145.66 481.92,145.74 482.02,145.83 482.12,145.94 482.23,146.05 482.33,146.18 482.43,146.32 482.53,146.47 482.63,146.64 482.73,146.81 482.83,147.00 482.93,147.19 483.03,147.40 483.13,147.62 483.23,147.85 483.33,148.09 483.43,148.34 483.53,148.60 483.63,148.87 483.73,149.15 483.83,149.44 483.93,149.73 484.03,150.04 484.13,150.36 484.23,150.68 484.33,151.02 484.43,151.36 484.53,151.71 484.63,152.07 484.74,152.44 484.84,152.82 484.94,153.20 485.04,153.59 485.14,153.99 485.24,154.41 485.34,154.83 485.44,155.26 485.54,155.71 485.64,156.18 485.74,156.69 485.84,156.90 485.94,156.90 486.04,156.90 486.14,156.90 486.24,156.90 486.34,156.90 486.44,156.90 486.54,156.90 486.64,156.90 486.74,156.90 486.84,156.90 486.94,156.90 487.04,156.90 487.15,156.90 487.25,156.90 487.35,156.90 487.45,156.90 487.55,156.90 487.65,156.90 487.75,156.90 487.85,156.90 487.95,156.90 488.05,156.90 488.15,156.90 488.25,156.90 488.35,156.90 488.45,156.90 488.55,156.90 488.65,156.90 488.75,156.90 488.85,156.90 488.95,156.10 489.05,155.42 489.15,154.77 489.25,154.15 489.35,153.55 489.45,152.97 489.55,152.42 489.66,151.89 489.76,151.37 489.86,150.88 489.96,150.41 490.06,149.96 490.16,149.54 490.26,149.14 490.36,148.77 490.46,148.42 490.56,148.10 490.66,147.81 490.76,147.54 490.86,147.30 490.96,147.10 491.06,146.92 491.16,146.77 491.26,146.65 491.36,146.56 491.46,146.51 491.56,146.48 491.66,146.49 491.76,146.52 491.86,146.59 491.96,146.69 492.07,146.82 492.17,146.97 492.27,147.16 492.37,147.38 492.47,147.63 492.57,147.90 492.67,148.20 492.77,148.53 492.87,148.89 492.97,149.27 493.07,149.68 493.17,150.11 493.27,150.56 493.37,151.04 493.47,151.54 493.57,152.06 493.67,152.60 493.77,153.16 493.87,153.75 493.97,154.35 494.07,154.98 494.17,155.64 494.27,156.35 494.37,156.90 494.48,156.90 494.58,156.90 494.68,156.90 494.78,156.90 494.88,156.90 494.98,156.90 495.08,156.90 495.18,156.90 495.28,156.90 495.38,156.90 495.48,156.47 495.58,155.92 495.68,155.41 495.78,154.92 495.88,154.44 495.98,153.98 496.08,153.53 496.18,153.09 496.28,152.66 496.38,152.24 496.48,151.83 496.58,151.44 496.68,151.05 496.78,150.68 496.88,150.31 496.99,149.96 497.09,149.61 497.19,149.28 497.29,148.96 497.39,148.66 497.49,148.36 497.59,148.08 497.69,147.81 497.79,147.56 497.89,147.32 497.99,147.09 498.09,146.88 498.19,146.68 498.29,146.49 498.39,146.32 498.49,146.16 498.59,146.02 498.69,145.90 498.79,145.78 498.89,145.69 498.99,145.61 499.09,145.54 499.19,145.49 499.29,145.46 499.40,145.44 499.50,145.44 499.60,145.45 499.70,145.48 499.80,145.52 499.90,145.58 500.00,145.66 500.10,145.75 500.20,145.86 500.30,145.98 500.40,146.11 500.50,146.27 500.60,146.43 500.70,146.61 500.80,146.81 500.90,147.02 501.00,147.24 501.10,147.48 501.20,147.73 501.30,147.99 501.40,148.27 501.50,148.56 501.60,148.86 501.70,149.18 501.81,149.50 501.91,149.84 502.01,150.19 502.11,150.55 502.21,150.92 502.31,151.31 502.41,151.70 502.51,152.11 502.61,152.52 502.71,152.95 502.81,153.38 502.91,153.83 503.01,154.29 503.11,154.76 503.21,155.24 503.31,155.75 503.41,156.28 503.51,156.90 503.61,156.90 503.71,156.90 503.81,156.90 503.91,156.90 504.01,156.90 504.11,156.90 504.21,156.90 504.32,156.90 504.42,156.90 504.52,156.90 504.62,156.90 504.72,156.90 504.82,156.90 504.92,156.90 505.02,156.90 505.12,156.90 505.22,156.90 505.32,156.90 505.42,156.90 505.52,156.90 505.62,156.90 505.72,156.90 505.82,156.90 505.92,156.90 506.02,156.90 506.12,156.90 506.22,156.90 506.32,156.90 506.42,156.77 506.52,156.40 506.62,155.77 506.73,154.91 506.83,153.80 506.93,152.48 507.03,150.93 507.13,149.18 507.23,147.24 507.33,145.13 507.43,142.86 507.53,140.45 507.63,137.93 507.73,135.30 507.83,132.60 507.93,129.84 508.03,127.04 508.13,124.24 508.23,121.44 508.33,118.68 508.43,115.98 508.53,113.35 508.63,110.83 508.73,108.42 508.83,106.15 508.93,104.04 509.03,102.10 509.13,100.35 509.24,98.80 509.34,97.48 509.44,96.37 509.54,95.51 509.64,94.88 509.74,94.51 509.84,94.38 509.94,94.51 510.04,94.88 510.14,95.51 510.24,96.37 510.34,97.48 510.44,98.80 510.54,100.35 510.64,102.10 510.74,104.04 510.84,106.15 510.94,108.42 511.04,110.83 511.14,113.35 511.24,115.98 511.34,118.68 511.44,121.44 511.54,124.24 511.65,127.04 511.75,129.84 511.85,132.60 511.95,135.30 512.05,137.93 512.15,140.45 512.25,142.86 512.35,145.13 512.45,147.24 512.55,149.18 512.65,150.93 512.75,152.48 512.85,153.80 512.95,154.91 513.05,155.77 513.15,156.40 513.25,156.77 513.35,156.90 513.45,156.90 513.55,156.90 513.65,156.90 513.75,156.90 513.85,156.90 513.95,156.90 514.06,156.90 514.16,156.90 514.26,156.90 514.36,156.90 514.46,156.90 514.56,156.90 514.66,156.90 514.76,156.90 514.86,156.90 514.96,156.90 515.06,156.90 515.16,156.90 515.26,156.90 515.36,156.90 515.46,156.90 515.56,156.90 515.66,156.90 515.76,156.90 515.86,156.90 515.96,156.90 516.06,156.90 516.16,156.90 516.26,156.90 516.36,156.90 516.46,156.90 516.57,156.90 516.67,156.90 516.77,156.90 516.87,156.90 516.97,156.90 517.07,156.90 517.17,156.90 517.27,156.90 517.37,156.90 517.47,156.90 517.57,156.90 517.67,156.90 517.77,156.90 517.87,156.90 517.97,156.90 518.07,156.90 518.17,156.90 518.27,156.90 518.37,156.90 518.47,156.90 518.57,156.90 518.67,156.90 518.77,156.90 518.87,156.90 518.98,156.90 519.08,156.84 519.18,156.38 519.28,155.62 519.38,154.65 519.48,153.50 519.58,152.20 519.68,150.79 519.78,149.27 519.88,147.67 519.98,146.02 520.08,144.33 520.18,142.63 520.28,140.93 520.38,139.25 520.48,137.60 520.58,136.02 520.68,134.51 520.78,133.08 520.88,131.76 520.98,130.55 521.08,129.47 521.18,128.53 521.28,127.74 521.38,127.10 521.49,126.62 521.59,126.31 521.69,126.17 521.79,126.20 521.89,126.40 521.99,126.76 522.09,127.30 522.19,127.99 522.29,128.83 522.39,129.82 522.49,130.94 522.59,132.19 522.69,133.55 522.79,135.00 522.89,136.54 522.99,138.15 523.09,139.80 523.19,141.49 523.29,143.20 523.39,144.90 523.49,146.58 523.59,148.21 523.69,149.78 523.79,151.27 523.90,152.65 524.00,153.90 524.10,155.00 524.20,155.90 524.30,156.57 524.40,156.90 524.50,156.90 524.60,156.90 524.70,156.90 524.80,156.90 524.90,156.90 525.00,156.57 525.10,155.76 525.20,155.01 525.30,154.29 525.40,153.60 525.50,152.93 525.60,152.27 525.70,151.63 525.80,151.00 525.90,150.38 526.00,149.78 526.10,149.18 526.20,148.60 526.31,148.03 526.41,147.46 526.51,146.91 526.61,146.38 526.71,145.85 526.81,145.33 526.91,144.83 527.01,144.34 527.11,143.86 527.21,143.39 527.31,142.93 527.41,142.49 527.51,142.06 527.61,141.64 527.71,141.24 527.81,140.85 527.91,140.48 528.01,140.12 528.11,139.77 528.21,139.44 528.31,139.12 528.41,138.82 528.51,138.53 528.61,138.26 528.71,138.00 528.82,137.76 528.92,137.53 529.02,137.32 529.12,137.12 529.22,136.95 529.32,136.78 529.42,136.64 529.52,136.51 529.62,136.39 529.72,136.30 529.82,136.22 529.92,136.15 530.02,136.11 530.12,136.07 530.22,136.06 530.32,136.06 530.42,136.08 530.52,136.12 530.62,136.17 530.72,136.24 530.82,136.33 530.92,136.43 531.02,136.55 531.12,136.68 531.23,136.84 531.33,137.00 531.43,137.19 531.53,137.39 531.63,137.60 531.73,137.83 531.83,138.08 531.93,138.34 532.03,138.62 532.13,138.92 532.23,139.22 532.33,139.55 532.43,139.88 532.53,140.23 532.63,140.60 532.73,140.98 532.83,141.37 532.93,141.78 533.03,142.20 533.13,142.64 533.23,143.08 533.33,143.54 533.43,144.01 533.53,144.50 533.63,144.99 533.74,145.50 533.84,146.02 533.94,146.55 534.04,146.77 534.14,146.51 534.24,146.32 534.34,146.19 534.44,146.08 534.54,146.01 534.64,145.96 534.74,145.94 534.84,145.95 534.94,145.98 535.04,146.03 535.14,146.11 535.24,146.23 535.34,146.38 535.44,146.58 535.54,146.91 535.64,146.38 535.74,145.85 535.84,145.33 535.94,144.83 536.04,144.34 536.15,143.86 536.25,143.39 536.35,142.93 536.45,142.49 536.55,142.06 536.65,141.64 536.75,141.24 536.85,140.85 536.95,140.48 537.05,140.12 537.15,139.77 537.25,139.44 537.35,139.12 537.45,138.82 537.55,138.53 537.65,138.26 537.75,138.00 537.85,137.76 537.95,137.53 538.05,137.32 538.15,137.12 538.25,136.95 538.35,136.78 538.45,136.64 538.56,136.51 538.66,136.39 538.76,136.30 538.86,136.22 538.96,136.15 539.06,136.11 539.16,136.07 539.26,136.06 539.36,136.06 539.46,136.08 539.56,136.12 539.66,136.17 539.76,136.24 539.86,136.33 539.96,136.43 540.06,136.55 540.16,136.68 540.26,136.84 540.36,137.00 540.46,137.19 540.56,137.39 540.66,137.60 540.76,137.83 540.86,138.08 540.96,138.34 541.07,138.62 541.17,138.92 541.27,139.22 541.37,139.55 541.47,139.88 541.57,140.23 541.67,140.60 541.77,140.98 541.87,141.37 541.97,141.78 542.07,142.20 542.17,142.64 542.27,143.08 542.37,143.54 542.47,144.01 542.57,144.50 542.67,144.99 542.77,145.50 542.87,146.02 542.97,146.55 543.07,147.10 543.17,147.65 543.27,148.22 543.37,148.79 543.48,149.38 543.58,149.98 543.68,150.59 543.78,151.21 543.88,151.84 543.98,152.49 544.08,153.15 544.18,153.83 544.28,154.53 544.38,155.25 544.48,156.02 544.58,156.90 544.68,156.90 544.78,156.90 544.88,156.90 544.98,156.90 545.08,156.90 545.18,156.90 545.28,156.90 545.38,156.90 545.48,156.90 545.58,156.90 545.68,156.90 545.78,156.90 545.88,156.90 545.99,156.90 546.09,156.53 546.19,156.21 546.29,155.91 546.39,155.63 546.49,155.36 546.59,155.12 546.69,154.89 546.79,154.68 546.89,154.49 546.99,154.32 547.09,154.17 547.19,154.04 547.29,153.94 547.39,153.86 547.49,153.81 547.59,153.78 547.69,153.76 547.79,153.48 547.89,152.88 547.99,151.95 548.09,150.70 548.19,149.14 548.29,147.27 548.40,145.11 548.50,142.67 548.60,139.96 548.70,137.00 548.80,133.81 548.90,130.40 549.00,126.79 549.10,123.01 549.20,119.09 549.30,115.05 549.40,110.69 549.50,106.10 549.60,101.44 549.70,96.74 549.80,92.02 549.90,87.32 550.00,82.66 550.10,78.07 550.20,73.57 550.30,69.19 550.40,64.95 550.50,60.88 550.60,57.00 550.70,53.33 550.81,49.89 550.91,46.71 551.01,43.80 551.11,41.18 551.21,38.85 551.31,36.85 551.41,35.17 551.51,33.82 551.61,32.83 551.71,32.18 551.81,31.88 551.91,31.94 552.01,32.35 552.11,33.12 552.21,34.23 552.31,35.69 552.41,37.48 552.51,39.59 552.61,42.02 552.71,44.74 552.81,47.74 552.91,51.01 553.01,54.53 553.11,58.27 553.21,62.22 553.32,66.35 553.42,70.64 553.52,75.06 553.62,79.59 553.72,84.21 553.82,88.89 553.92,93.59 554.02,98.31 554.12,102.99 554.22,107.63 554.32,112.20 554.42,116.66 554.52,121.00 554.62,125.19 554.72,129.20 554.82,133.01 554.92,136.60 555.02,139.96 555.12,143.05 555.22,145.87 555.32,148.39 555.42,150.61 555.52,152.51 555.62,154.08 555.73,155.31 555.83,156.19 555.93,156.72 556.03,156.90 556.13,156.90 556.23,156.90 556.33,156.90 556.43,156.90 556.53,156.90 556.63,156.90 556.73,156.90 556.83,156.90 556.93,156.90 557.03,156.90 557.13,156.90 557.23,156.90 557.33,156.90 557.43,156.90 557.53,156.90 557.63,156.90 557.73,156.90 557.83,156.90 557.93,156.90 558.03,156.90 558.14,156.90 558.24,156.90 558.34,156.90 558.44,156.90 558.54,156.90 558.64,156.90 558.74,156.90 558.84,156.90 558.94,156.90 559.04,156.90 559.14,156.90 559.24,156.90 559.34,156.90 559.44,156.90 559.54,156.90 559.64,156.90 559.74,156.90 559.84,156.79 559.94,156.42 560.04,155.89 560.14,155.22 560.24,154.43 560.34,153.54 560.44,152.57 560.54,151.51 560.65,150.38 560.75,149.19 560.85,147.94 560.95,146.64 561.05,145.30 561.15,143.93 561.25,142.53 561.35,141.10 561.45,139.67 561.55,138.22 561.65,136.78 561.75,135.34 561.85,133.91 561.95,132.49 562.05,131.10 562.15,129.74 562.25,128.41 562.35,127.12 562.45,125.88 562.55,124.68 562.65,123.54 562.75,122.46 562.85,121.44 562.95,120.48 563.06,119.60 563.16,118.79 563.26,118.05 563.36,117.40 563.46,116.83 563.56,116.34 563.66,115.94 563.76,115.63 563.86,115.40 563.96,115.27 564.06,115.22 564.16,115.27 564.26,115.40 564.36,115.63 564.46,115.94 564.56,116.34 564.66,116.83 564.76,117.40 564.86,118.05 564.96,118.79 565.06,119.60 565.16,120.48 565.26,121.44 565.36,122.46 565.46,123.54 565.57,124.68 565.67,125.88 565.77,127.12 565.87,128.41 565.97,129.74 566.07,131.10 566.17,132.49 566.27,133.91 566.37,135.34 566.47,136.78 566.57,138.22 566.67,139.67 566.77,141.10 566.87,142.53 566.97,143.93 567.07,145.30 567.17,146.64 567.27,147.94 567.37,149.19 567.47,150.38 567.57,151.51 567.67,152.57 567.77,153.54 567.87,154.43 567.98,155.22 568.08,155.89 568.18,156.42 568.28,156.79 568.38,156.87 568.48,156.62 568.58,156.21 568.68,155.67 568.78,155.04 568.88,154.31 568.98,153.50 569.08,152.62 569.18,151.68 569.28,150.67 569.38,149.61 569.48,148.51 569.58,147.36 569.68,146.17 569.78,144.95 569.88,143.71 569.98,142.45 570.08,141.16 570.18,139.87 570.28,138.57 570.39,137.27 570.49,135.96 570.59,134.67 570.69,133.39 570.79,132.12 570.89,130.87 570.99,129.64 571.09,128.45 571.19,127.28 571.29,126.15 571.39,125.06 571.49,124.02 571.59,123.01 571.69,122.06 571.79,121.16 571.89,120.31 571.99,119.53 572.09,118.80 572.19,118.13 572.29,117.53 572.39,117.00 572.49,116.53 572.59,116.13 572.69,115.81 572.79,115.55 572.90,115.37 573.00,115.26 573.10,115.22 573.20,115.26 573.30,115.37 573.40,115.55 573.50,115.81 573.60,116.13 573.70,116.53 573.80,117.00 573.90,117.53 574.00,118.13 574.10,118.80 574.20,119.53 574.30,120.31 574.40,121.16 574.50,122.06 574.60,123.01 574.70,124.02 574.80,125.06 574.90,126.15 575.00,127.28 575.10,128.45 575.20,129.64 575.31,130.87 575.41,132.12 575.51,133.39 575.61,134.67 575.71,135.96 575.81,137.27 575.91,138.57 576.01,139.87 576.11,141.16 576.21,142.45 576.31,143.71 576.41,144.95 576.51,146.17 576.61,147.36 576.71,148.51 576.81,149.61 576.91,150.67 577.01,151.68 577.11,152.62 577.21,153.50 577.31,154.31 577.41,155.04 577.51,155.67 577.61,156.21 577.71,156.62 577.82,156.87 577.92,156.90 578.02,156.90 578.12,156.90 578.22,156.90 578.32,156.90 578.42,156.90 578.52,156.90 578.62,156.90 578.72,156.90 578.82,156.90 578.92,156.90 579.02,156.90 579.12,156.90 579.22,156.90 579.32,156.90 579.42,156.90 579.52,156.90 579.62,156.71 579.72,156.09 579.82,155.18 579.92,154.06 580.02,152.74 580.12,151.27 580.23,149.66 580.33,147.94 580.43,146.12 580.53,144.23 580.63,142.28 580.73,140.29 580.83,138.29 580.93,136.27 581.03,134.28 581.13,132.31 581.23,130.39 581.33,128.53 581.43,126.74 581.53,125.04 581.63,123.44 581.73,121.96 581.83,120.60 581.93,119.38 582.03,118.30 582.13,117.37 582.23,116.61 582.33,116.00 582.43,115.57 582.53,115.31 582.64,115.22 582.74,115.31 582.84,115.57 582.94,116.00 583.04,116.61 583.14,117.37 583.24,118.30 583.34,119.38 583.44,120.60 583.54,121.96 583.64,123.44 583.74,125.04 583.84,126.74 583.94,128.53 584.04,130.39 584.14,132.31 584.24,134.28 584.34,136.27 584.44,138.29 584.54,140.29 584.64,142.28 584.74,144.23 584.84,146.12 584.94,147.94 585.04,149.66 585.15,151.27 585.25,152.74 585.35,154.06 585.45,155.18 585.55,156.09 585.65,156.71 585.75,156.90 585.85,156.90 585.95,156.90 586.05,156.90 586.15,156.90 586.25,156.90 586.35,156.90 586.45,156.90 586.55,156.90 586.65,156.90 586.75,156.90 586.85,156.90 586.95,156.90 587.05,156.90 587.15,156.90 587.25,156.90 587.35,156.90 587.45,156.90 587.56,156.90 587.66,156.90 587.76,156.67 587.86,155.98 587.96,154.83 588.06,153.25 588.16,151.22 588.26,148.79 588.36,145.95 588.46,142.75 588.56,139.19 588.66,135.32 588.76,131.16 588.86,126.75 588.96,122.11 589.06,117.30 589.16,112.34 589.26,107.28 589.36,102.16 589.46,97.02 589.56,91.90 589.66,86.84 589.76,81.88 589.86,77.07 589.96,72.43 590.07,68.02 590.17,63.86 590.27,59.99 590.37,56.43 590.47,53.23 590.57,50.39 590.67,47.96 590.77,45.93 590.87,44.35 590.97,43.20 591.07,42.51 591.17,42.28 591.27,42.51 591.37,43.20 591.47,44.35 591.57,45.93 591.67,47.96 591.77,50.39 591.87,53.23 591.97,56.43 592.07,59.99 592.17,63.86 592.27,68.02 592.37,72.43 592.48,77.07 592.58,81.88 592.68,86.84 592.78,91.90 592.88,97.02 592.98,102.16 593.08,107.28 593.18,112.34 593.28,117.30 593.38,122.11 593.48,126.75 593.58,131.16 593.68,135.32 593.78,139.19 593.88,142.75 593.98,145.95 594.08,148.79 594.18,151.22 594.28,153.25 594.38,154.83 594.48,155.98 594.58,156.67 594.68,156.90 594.78,156.90 594.89,156.90 594.99,156.90 595.09,156.90 595.19,156.90 595.29,156.90 595.39,156.90 595.49,156.90 595.59,156.90 595.69,156.90 595.79,156.90 595.89,156.90 595.99,156.90 596.09,156.90 596.19,156.90 596.29,156.90 596.39,156.90 596.49,156.90 596.59,156.90 596.69,156.90 596.79,156.90 596.89,156.90 596.99,156.90 597.09,156.90 597.19,156.90 597.29,156.90 597.40,156.90 597.50,156.90 597.60,156.90 597.70,156.90 597.80,156.90 597.90,156.90 598.00,156.90 598.10,156.90 598.20,156.90 598.30,156.90 598.40,156.90 598.50,156.90 598.60,156.90 598.70,156.90 598.80,156.90 598.90,156.90 599.00,156.90 599.10,156.90 599.20,156.90 599.30,156.90 599.40,156.90 599.50,156.90 599.60,156.90 599.70,156.90 599.81,156.90 599.91,156.90 600.01,156.90 600.11,156.90 600.21,156.90 600.31,156.90 600.41,156.90 600.51,156.90 600.61,156.90 600.71,156.90 600.81,156.90 600.91,156.90 601.01,156.90 601.11,156.90 601.21,156.90 601.31,156.90 601.41,156.90 601.51,156.90 601.61,156.90 601.71,156.90 601.81,156.86 601.91,156.54 602.01,156.03 602.11,155.36 602.22,154.56 602.32,153.65 602.42,152.64 602.52,151.55 602.62,150.37 602.72,149.13 602.82,147.83 602.92,146.47 603.02,145.07 603.12,143.64 603.22,142.17 603.32,140.69 603.42,139.19 603.52,137.69 603.62,136.18 603.72,134.69 603.82,133.21 603.92,131.75 604.02,130.32 604.12,128.92 604.22,127.56 604.32,126.25 604.42,124.99 604.52,123.79 604.62,122.65 604.73,121.58 604.83,120.57 604.93,119.65 605.03,118.80 605.13,118.04 605.23,117.36 605.33,116.77 605.43,116.28 605.53,115.87 605.63,115.57 605.73,115.36 605.83,115.24 605.93,115.23 606.03,115.31 606.13,115.49 606.23,115.76 606.33,116.13 606.43,116.60 606.53,117.16 606.63,117.80 606.73,118.54 606.83,119.36 606.93,120.26 607.03,121.23 607.14,122.28 607.24,123.40 607.34,124.58 607.44,125.82 607.54,127.12 607.64,128.46 607.74,129.85 607.84,131.27 607.94,132.72 608.04,134.19 608.14,135.68 608.24,137.18 608.34,138.69 608.44,140.19 608.54,141.68 608.64,143.15 608.74,144.60 608.84,146.01 608.94,147.38 609.04,148.70 609.14,149.97 609.24,151.16 609.34,152.29 609.44,153.33 609.54,154.27 609.65,155.11 609.75,155.82 609.85,156.39 609.95,156.78 610.05,156.90 610.15,156.90 610.25,156.90 610.35,156.90 610.45,156.90 610.55,156.90 610.65,156.90 610.75,156.82 610.85,156.54 610.95,156.13 611.05,155.62 611.15,155.02 611.25,154.35 611.35,153.61 611.45,152.81 611.55,151.95 611.65,151.04 611.75,150.10 611.85,149.11 611.95,148.10 612.06,147.06 612.16,146.00 612.26,144.92 612.36,143.83 612.46,142.74 612.56,141.65 612.66,140.56 612.76,139.48 612.86,138.41 612.96,137.37 613.06,136.34 613.16,135.34 613.26,134.37 613.36,133.44 613.46,132.55 613.56,131.69 613.66,130.88 613.76,130.12 613.86,129.42 613.96,128.76 614.06,128.16 614.16,127.63 614.26,127.15 614.36,126.73 614.47,126.38 614.57,126.10 614.67,125.88 614.77,125.74 614.87,125.66 614.97,125.64 615.07,125.70 615.17,125.83 615.27,126.02 615.37,126.28 615.47,126.61 615.57,127.00 615.67,127.46 615.77,127.98 615.87,128.56 615.97,129.19 616.07,129.88 616.17,130.63 616.27,131.42 616.37,132.26 616.47,133.14 616.57,134.06 616.67,135.02 616.77,136.01 616.87,137.02 616.98,138.06 617.08,139.12 617.18,140.20 617.28,141.28 617.38,142.38 617.48,143.47 617.58,144.56 617.68,145.64 617.78,146.71 617.88,147.75 617.98,148.78 618.08,149.77 618.18,150.73 618.28,151.65 618.38,152.53 618.48,153.35 618.58,154.11 618.68,154.81 618.78,155.43 618.88,155.97 618.98,156.41 619.08,156.74 619.18,156.90 619.28,156.90 619.39,156.90 619.49,156.90 619.59,156.90 619.69,156.90 619.79,156.82 619.89,156.54 619.99,156.13 620.09,155.62 620.19,155.02 620.29,154.35 620.39,153.61 620.49,152.81 620.59,151.95 620.69,151.04 620.79,150.10 620.89,149.11 620.99,148.10 621.09,147.06 621.19,146.00 621.29,144.92 621.39,143.83 621.49,142.74 621.59,141.65 621.69,140.56 621.79,139.48 621.90,138.41 622.00,137.37 622.10,136.34 622.20,135.34 622.30,134.37 622.40,133.44 622.50,132.55 622.60,131.69 622.70,130.88 622.80,130.12 622.90,129.42 623.00,128.76 623.10,128.16 623.20,127.63 623.30,127.15 623.40,126.73 623.50,126.38 623.60,126.10 623.70,125.88 623.80,125.74 623.90,125.66 624.00,125.64 624.10,125.70 624.20,125.83 624.31,126.02 624.41,126.28 624.51,126.61 624.61,127.00 624.71,127.46 624.81,127.98 624.91,128.56 625.01,129.19 625.11,129.88 625.21,130.63 625.31,131.42 625.41,132.26 625.51,133.14 625.61,134.06 625.71,135.02 625.81,136.01 625.91,137.02 626.01,138.06 626.11,139.12 626.21,140.20 626.31,141.28 626.41,142.38 626.51,143.47 626.61,144.56 626.72,145.64 626.82,146.71 626.92,147.75 627.02,148.78 627.12,149.77 627.22,150.73 627.32,151.65 627.42,152.53 627.52,153.35 627.62,153.99 627.72,154.41 627.82,154.71 627.92,154.88 628.02,154.92 628.12,154.82 628.22,154.53 628.32,154.06 628.42,153.58 628.52,153.09 628.62,152.59 628.72,152.07 628.82,151.55 628.92,151.03 629.02,150.50 629.12,149.96 629.23,149.42 629.33,148.89 629.43,148.35 629.53,147.81 629.63,147.28 629.73,146.75 629.83,146.23 629.93,145.71 630.03,145.20 630.13,144.69 630.23,144.20 630.33,143.71 630.43,143.23 630.53,142.77 630.63,142.31 630.73,141.87 630.83,141.45 630.93,141.03 631.03,140.63 631.13,140.25 631.23,139.89 631.33,139.54 631.43,139.20 631.53,138.89 631.64,138.59 631.74,138.31 631.84,138.06 631.94,137.82 632.04,137.60 632.14,137.40 632.24,137.22 632.34,137.07 632.44,136.93 632.54,136.82 632.64,136.73 632.74,136.66 632.84,136.61 632.94,136.59 633.04,136.58 633.14,136.60 633.24,136.64 633.34,136.70 633.44,136.79 633.54,136.89 633.64,137.02 633.74,137.17 633.84,137.34 633.94,137.53 634.04,137.74 634.15,137.97 634.25,138.23 634.35,138.50 634.45,138.79 634.55,139.10 634.65,139.42 634.75,139.77 634.85,140.13 634.95,140.51 635.05,140.90 635.15,141.31 635.25,141.73 635.35,142.17 635.45,142.61 635.55,143.08 635.65,143.55 635.75,144.03 635.85,144.53 635.95,145.03 636.05,145.54 636.15,146.05 636.25,146.58 636.35,147.10 636.45,147.64 636.56,148.17 636.66,148.71 636.76,149.25 636.86,149.78 636.96,150.32 637.06,150.85 637.16,151.38 637.26,151.90 637.36,152.42 637.46,152.92 637.56,153.42 637.66,153.91 637.76,154.38 637.86,154.83 637.96,155.26 638.06,155.67 638.16,156.06 638.26,156.40 638.36,156.70 638.46,156.31 638.56,155.79 638.66,155.31 638.76,154.84 638.86,154.39 638.97,153.95 639.07,153.52 639.17,153.10 639.27,152.69 639.37,152.29 639.47,151.90 639.57,151.52 639.67,151.16 639.77,150.80 639.87,150.45 639.97,150.12 640.07,149.79 640.17,149.48 640.27,149.18 640.37,148.89 640.47,148.61 640.57,148.35 640.67,148.10 640.77,147.86 640.87,147.63 640.97,147.42 641.07,147.22 641.17,147.04 641.27,146.87 641.37,146.71 641.48,146.57 641.58,146.44 641.68,146.33 641.78,146.23 641.88,146.15 641.98,146.08 642.08,146.03 642.18,145.99 642.28,145.97 642.38,145.96 642.48,145.97 642.58,145.99 642.68,146.03 642.78,146.08 642.88,146.15 642.98,146.23 643.08,146.33 643.18,146.44 643.28,146.57 643.38,146.71 643.48,146.87 643.58,147.04 643.68,147.22 643.78,147.04 643.89,146.76 643.99,146.53 644.09,146.34 644.19,146.17 644.29,146.03 644.39,145.92 644.49,145.83 644.59,145.76 644.69,145.72 644.79,145.71 644.89,145.71 644.99,145.75 645.09,145.81 645.19,145.89 645.29,146.01 645.39,146.14 645.49,146.31 645.59,146.50 645.69,146.71 645.79,146.96 645.89,147.23 645.99,147.54 646.09,147.82 646.19,147.93 646.29,148.00 646.40,148.13 646.50,147.65 646.60,147.16 646.70,146.66 646.80,146.16 646.90,145.66 647.00,145.17 647.10,144.69 647.20,144.21 647.30,143.75 647.40,143.29 647.50,142.86 647.60,142.43 647.70,142.02 647.80,141.63 647.90,141.26 648.00,140.91 648.10,140.58 648.20,140.27 648.30,139.98 648.40,139.71 648.50,139.47 648.60,139.25 648.70,139.06 648.81,138.89 648.91,138.74 649.01,138.63 649.11,138.54 649.21,138.48 649.31,138.45 649.41,138.45 649.51,138.48 649.61,138.56 649.71,138.70 649.81,138.56 649.91,138.23 650.01,137.92 650.11,137.64 650.21,137.38 650.31,137.14 650.41,136.92 650.51,136.73 650.61,136.56 650.71,136.41 650.81,136.29 650.91,136.20 651.01,136.13 651.11,136.08 651.22,136.06 651.32,136.07 651.42,136.09 651.52,136.15 651.62,136.23 651.72,136.33 651.82,136.46 651.92,136.61 652.02,136.79 652.12,136.99 652.22,137.21 652.32,137.46 652.42,137.73 652.52,138.02 652.62,138.34 652.72,138.67 652.82,139.02 652.92,139.40 653.02,139.79 653.12,140.20 653.22,140.63 653.32,141.08 653.42,141.54 653.52,142.02 653.62,142.51 653.73,143.01 653.83,143.53 653.93,144.06 654.03,144.60 654.13,145.15 654.23,145.70 654.33,146.27 654.43,146.84 654.53,147.41 654.63,147.99 654.73,148.57 654.83,149.14 654.93,149.72 655.03,150.30 655.13,150.87 655.23,151.44 655.33,152.00 655.43,152.56 655.53,153.10 655.63,153.63 655.73,154.14 655.83,154.63 655.93,155.11 656.03,155.56 656.14,155.97 656.24,156.35 656.34,156.68 656.44,156.90 656.54,156.90 656.64,156.90 656.74,156.90 656.84,156.90 656.94,156.90 657.04,156.90 657.14,156.90 657.24,156.90 657.34,156.90 657.44,156.90 657.54,156.90 657.64,156.90 657.74,156.90 657.84,156.90 657.94,156.90 658.04,156.90 658.14,156.90 658.24,156.90 658.34,156.90 658.44,156.90 658.55,156.90 658.65,156.90 658.75,156.90 658.85,156.90 658.95,156.90 659.05,156.90 659.15,156.90 659.25,156.90 659.35,156.90 659.45,156.90 659.55,156.90 659.65,156.90 659.75,156.90 659.85,156.90 659.95,156.90 660.05,156.90 660.15,156.90 660.25,156.43 660.35,155.82 660.45,155.25 660.55,154.71 660.65,154.18 660.75,153.67 660.85,153.18 660.95,152.69 661.06,152.22 661.16,151.77 661.26,151.33 661.36,150.90 661.46,150.48 661.56,150.08 661.66,149.69 661.76,149.32 661.86,148.96 661.96,148.62 662.06,148.29 662.16,147.98 662.26,147.69 662.36,147.41 662.46,147.15 662.56,146.91 662.66,146.68 662.76,146.47 662.86,146.29 662.96,146.11 663.06,145.96 663.16,145.83 663.26,145.72 663.36,145.62 663.47,145.55 663.57,145.49 663.67,145.46 663.77,145.44 663.87,145.44 663.97,145.47 664.07,145.51 664.17,145.57 664.27,145.65 664.37,145.75 664.47,145.87 664.57,146.01 664.67,146.17 664.77,146.35 664.87,146.54 664.97,146.75 665.07,146.99 665.17,147.23 665.27,147.50 665.37,147.78 665.47,148.08 665.57,148.40 665.67,148.73 665.77,149.08 665.87,149.44 665.98,149.82 666.08,150.21 666.18,150.62 666.28,151.04 666.38,151.47 666.48,151.92 666.58,152.38 666.68,152.85 666.78,153.34 666.88,153.84 666.98,154.35 667.08,154.88 667.18,155.44 667.28,156.01 667.38,156.65 667.48,156.90 667.58,156.90 667.68,156.90 667.78,156.90 667.88,156.90 667.98,156.90 668.08,156.90 668.18,156.90 668.28,156.90 668.39,156.90 668.49,156.90 668.59,156.90 668.69,156.90 668.79,156.90 668.89,156.90 668.99,156.90 669.09,156.90 669.19,156.90 669.29,156.90 669.39,156.90 669.49,156.90 669.59,156.90 669.69,156.58 669.79,155.78 669.89,155.05 669.99,154.37 670.09,153.70 670.19,153.07 670.29,152.46 670.39,151.88 670.49,151.32 670.59,150.78 670.69,150.27 670.80,149.80 670.90,149.34 671.00,148.92 671.10,148.53 671.20,148.17 671.30,147.85 671.40,147.55 671.50,147.29 671.60,147.07 671.70,146.88 671.80,146.73 671.90,146.61 672.00,146.53 672.10,146.49 672.20,146.48 672.30,146.51 672.40,146.58 672.50,146.69 672.60,146.83 672.70,147.00 672.80,147.22 672.90,147.46 673.00,147.75 673.10,148.06 673.20,148.41 673.31,148.79 673.41,149.20 673.51,149.64 673.61,150.11 673.71,150.61 673.81,151.14 673.91,151.69 674.01,152.26 674.11,152.86 674.21,153.49 674.31,154.14 674.41,154.82 674.51,155.53 674.61,156.30 674.71,156.90 674.81,156.90 674.91,156.90 675.01,156.90 675.11,156.90 675.21,156.90 675.31,156.90 675.41,156.90 675.51,156.90 675.61,156.90 675.72,156.90 675.82,156.90 675.92,156.90 676.02,156.90 676.12,156.90 676.22,156.90 676.32,156.90 676.42,156.90 676.52,156.90 676.62,156.90 676.72,156.90 676.82,156.90 676.92,156.90 677.02,156.90 677.12,156.90 677.22,156.90 677.32,156.90 677.42,156.90 677.52,156.90 677.62,156.90 677.72,156.90 677.82,156.90 677.92,156.90 678.02,156.90 678.12,156.90 678.23,156.90 678.33,156.90 678.43,156.90 678.53,156.90 678.63,156.90 678.73,156.90 678.83,156.90 678.93,156.90 679.03,156.90 679.13,156.90 679.23,156.90 679.33,156.90 679.43,156.90 679.53,156.90 679.63,156.90 679.73,156.90 679.83,156.90 679.93,156.90 680.03,156.90 680.13,156.90 680.23,156.90 680.33,156.90 680.43,156.90 680.53,156.90 680.64,156.90 680.74,156.90 680.84,156.90 680.94,156.90 681.04,156.90 681.14,156.90 681.24,156.90 681.34,156.90 681.44,156.90 681.54,156.90 681.64,156.90 681.74,156.90 681.84,156.90 681.94,156.90 682.04,156.90 682.14,156.90 682.24,156.90 682.34,156.90 682.44,156.90 682.54,156.90 682.64,156.90 682.74,156.90 682.84,156.90 682.94,156.90 683.05,156.90 683.15,156.90 683.25,156.90 683.35,156.90 683.45,156.90 683.55,156.90 683.65,156.90 683.75,156.90 683.85,156.90 683.95,156.90 684.05,156.90 684.15,156.90 684.25,156.90 684.35,156.90 684.45,156.90 684.55,156.90 684.65,156.90 684.75,156.90 684.85,156.90 684.95,156.90 685.05,156.90 685.15,156.90 685.25,156.90 685.35,156.90 685.45,156.90 685.56,156.90 685.66,156.90 685.76,156.90 685.86,156.90 685.96,156.90 686.06,156.90 686.16,156.90 686.26,156.90 686.36,156.90 686.46,156.90 686.56,156.90 686.66,156.90 686.76,156.90 686.86,156.90 686.96,156.90 687.06,156.90 687.16,156.90 687.26,156.90 687.36,156.90 687.46,156.90 687.56,156.90 687.66,156.90 687.76,156.90 687.86,156.90 687.97,156.90 688.07,156.90 688.17,156.90 688.27,156.90 688.37,156.90 688.47,156.90 688.57,156.90 688.67,156.90 688.77,156.90 688.87,156.90 688.97,156.90 689.07,156.90 689.17,156.90 689.27,156.90 689.37,156.90 689.47,156.90 689.57,156.90 689.67,156.90 689.77,156.90 689.87,156.90 689.97,156.90 690.07,156.90 690.17,156.90 690.27,156.90 690.37,156.90 690.48,156.90 690.58,156.90 690.68,156.90 690.78,156.90 690.88,156.90 690.98,156.90 691.08,156.90 691.18,156.90 691.28,156.90 691.38,156.90 691.48,156.90 691.58,156.90 691.68,156.90 691.78,156.90 691.88,156.90 691.98,156.90 692.08,156.90 692.18,156.90 692.28,156.90 692.38,156.90 692.48,156.90 692.58,156.90 692.68,156.90 692.78,156.90 692.89,156.90 692.99,156.90 693.09,156.90 693.19,156.90 693.29,156.90 693.39,156.90 693.49,156.90 693.59,156.90 693.69,156.90 693.79,156.90 693.89,156.90 693.99,156.90 694.09,156.90 694.19,156.90 694.29,156.90 694.39,156.90 694.49,156.90 694.59,156.90 694.69,156.90 694.79,156.90 694.89,156.90 694.99,156.90 695.09,156.90 695.19,156.90 695.30,156.90 695.40,156.90 695.50,156.90 695.60,156.90 695.70,156.90 695.80,156.90 695.90,156.90 696.00,156.90 696.10,156.90 696.20,156.90 696.30,156.90 696.40,156.90 696.50,156.90 696.60,156.90 696.70,156.90 696.80,156.90 696.90,156.90 697.00,156.90 697.10,156.90 697.20,156.90 697.30,156.90 697.40,156.90 697.50,156.90 697.60,156.90 697.70,156.90 697.81,156.90 697.91,156.90 698.01,156.90 698.11,156.90 698.21,156.90 698.31,156.90 698.41,156.90 698.51,156.90 698.61,156.90 698.71,156.90 698.81,156.90 698.91,156.90 699.01,156.90 699.11,156.90 699.21,156.90 699.31,156.81 699.41,156.36 699.51,155.79 699.61,155.15 699.71,154.44 699.81,153.69 699.91,152.91 700.01,152.10 700.11,151.27 700.22,150.43 700.32,149.58 700.42,148.72 700.52,147.87 700.62,147.02 700.72,146.18 700.82,145.35 700.92,144.54 701.02,143.75 701.12,142.98 701.22,142.24 701.32,141.53 701.42,140.86 701.52,140.22 701.62,139.61 701.72,139.05 701.82,138.53 701.92,138.06 702.02,137.63 702.12,137.26 702.22,136.93 702.32,136.65 702.42,136.43 702.52,136.25 702.63,136.14 702.73,136.07 702.83,136.06 702.93,136.11 703.03,136.21 703.13,136.36 703.23,136.57 703.33,136.83 703.43,137.14 703.53,137.50 703.63,137.91 703.73,138.37 703.83,138.88 703.93,139.42 704.03,140.01 704.13,140.64 704.23,141.30 704.33,142.00 704.43,142.73 704.53,143.49 704.63,144.27 704.73,145.08 704.83,145.90 704.93,146.74 705.03,147.58 705.14,148.44 705.24,149.29 705.34,150.15 705.44,150.99 705.54,151.83 705.64,152.64 705.74,153.43 705.84,154.20 705.94,154.92 706.04,155.58 706.14,156.18 706.24,156.68 706.34,156.90 706.44,156.90 706.54,156.90 706.64,156.90 706.74,156.90 706.84,156.90 706.94,156.90 707.04,156.90 707.14,156.90 707.24,156.90 707.34,156.90 707.44,156.90 707.55,156.90 707.65,156.90 707.75,156.23 707.85,155.66 707.95,155.11 708.05,154.59 708.15,154.09 708.25,153.60 708.35,153.12 708.45,152.66 708.55,152.21 708.65,151.78 708.75,151.36 708.85,150.96 708.95,150.57 709.05,150.19 709.15,149.83 709.25,149.49 709.35,149.17 709.45,148.86 709.55,148.56 709.65,148.29 709.75,148.03 709.85,147.80 709.95,147.58 710.06,147.38 710.16,147.20 710.26,147.04 710.36,146.90 710.46,146.78 710.56,146.68 710.66,146.60 710.76,146.54 710.86,146.50 710.96,146.48 711.06,146.48 711.16,146.51 711.26,146.55 711.36,146.62 711.46,146.71 711.56,146.81 711.66,146.94 711.76,147.09 711.86,147.25 711.96,147.44 712.06,147.65 712.16,147.87 712.26,148.12 712.36,148.38 712.47,148.66 712.57,148.96 712.67,149.27 712.77,149.60 712.87,149.95 712.97,150.32 713.07,150.70 713.17,151.09 713.27,151.50 713.37,151.92 713.47,152.36 713.57,152.81 713.67,153.28 713.77,153.76 713.87,154.15 713.97,154.15 714.07,154.03 714.17,153.85 714.27,153.64 714.37,153.26 714.47,152.37 714.57,151.46 714.67,150.53 714.77,149.59 714.88,148.65 714.98,147.70 715.08,146.77 715.18,145.84 715.28,144.93 715.38,144.05 715.48,143.19 715.58,142.37 715.68,141.58 715.78,140.83 715.88,140.13 715.98,139.47 716.08,138.87 716.18,138.31 716.28,137.82 716.38,137.38 716.48,137.00 716.58,136.68 716.68,136.43 716.78,136.24 716.88,136.12 716.98,136.06 717.08,136.07 717.18,136.15 717.28,136.30 717.39,136.51 717.49,136.78 717.59,137.12 717.69,137.52 717.79,137.97 717.89,138.49 717.99,139.06 718.09,139.69 718.19,140.36 718.29,141.08 718.39,141.84 718.49,142.64 718.59,143.48 718.69,144.34 718.79,145.23 718.89,146.15 718.99,147.08 719.09,148.02 719.19,148.96 719.29,149.91 719.39,150.84 719.49,151.77 719.59,152.67 719.69,153.54 719.80,154.38 719.90,155.16 720.00,155.87 720.10,156.48 720.20,156.90 720.30,156.90 720.40,156.90 720.50,156.90 720.60,156.90 720.70,156.90 720.80,156.90 720.90,156.90 721.00,156.90 721.10,156.90 721.20,156.90 721.30,156.90 721.40,156.90 721.50,156.90 721.60,156.90 721.70,156.90 721.80,156.90 721.90,156.90 722.00,156.90 722.10,156.90 722.20,156.90 722.31,156.90 722.41,156.90 722.51,156.90 722.61,156.90 722.71,156.90 722.81,156.90 722.91,156.90 723.01,156.90 723.11,156.90 723.21,156.90 723.31,156.90 723.41,156.90 723.51,156.90 723.61,156.90 723.71,156.90 723.81,156.90 723.91,156.90 724.01,156.90 724.11,156.90 724.21,156.90 724.31,156.90 724.41,156.90 724.51,156.90 724.61,156.90 724.72,156.90 724.82,156.90 724.92,156.90 725.02,156.90 725.12,156.90 725.22,156.90 725.32,156.90 725.42,156.90 725.52,156.90 725.62,156.90 725.72,156.90 725.82,156.90 725.92,156.90 726.02,156.90 726.12,156.90 726.22,156.90 726.32,156.90 726.42,156.90 726.52,156.90 726.62,156.90 726.72,156.90 726.82,156.90 726.92,156.90 727.02,156.25 727.13,155.69 727.23,155.15 727.33,154.64 727.43,154.14 727.53,153.66 727.63,153.19 727.73,152.74 727.83,152.29 727.93,151.86 728.03,151.43 728.13,151.02 728.23,150.63 728.33,150.24 728.43,149.87 728.53,149.51 728.63,149.16 728.73,148.83 728.83,148.51 728.93,148.20 729.03,147.91 729.13,147.64 729.23,147.38 729.33,147.13 729.43,146.90 729.53,146.69 729.64,146.49 729.74,146.31 729.84,146.15 729.94,146.00 730.04,145.87 730.14,145.75 730.24,145.66 730.34,145.58 730.44,145.52 730.54,145.47 730.64,145.45 730.74,145.44 730.84,145.45 730.94,145.47 731.04,145.52 731.14,145.58 731.24,145.66 731.34,145.75 731.44,145.87 731.54,146.00 731.64,146.15 731.74,146.31 731.84,146.49 731.94,146.69 732.05,146.90 732.15,147.13 732.25,147.38 732.35,147.64 732.45,147.91 732.55,148.20 732.65,148.51 732.75,148.83 732.85,149.16 732.95,149.51 733.05,149.87 733.15,150.24 733.25,150.63 733.35,151.02 733.45,151.43 733.55,151.86 733.65,152.29 733.75,152.74 733.85,153.19 733.95,153.66 734.05,154.14 734.15,154.64 734.25,155.15 734.35,155.69 734.45,156.25 734.56,156.90 734.66,156.90 734.76,156.90 734.86,156.90 734.96,156.90 735.06,156.90 735.16,156.90 735.26,156.90 735.36,156.90 735.46,156.90 735.56,156.90 735.66,156.90 735.76,156.90 735.86,156.90 735.96,156.90 736.06,156.90 736.16,156.90 736.26,156.90 736.36,156.90 736.46,156.90 736.56,156.90 736.66,156.90 736.76,156.90 736.86,156.90 736.97,156.90 737.07,156.90 737.17,156.90 737.27,156.90 737.37,156.90 737.47,156.90 737.57,156.90 737.67,156.90 737.77,156.90 737.87,156.90 737.97,156.90 738.07,156.90 738.17,156.90 738.27,156.90 738.37,156.90 738.47,156.90 738.57,156.90 738.67,156.90 738.77,156.90 738.87,156.59 738.97,155.82 739.07,155.12 739.17,154.45 739.27,153.81 739.38,153.20 739.48,152.61 739.58,152.04 739.68,151.49 739.78,150.97 739.88,150.47 739.98,150.00 740.08,149.55 740.18,149.14 740.28,148.74 740.38,148.38 740.48,148.05 740.58,147.75 740.68,147.47 740.78,147.23 740.88,147.03 740.98,146.85 741.08,146.71 741.18,146.60 741.28,146.53 741.38,146.49 741.48,146.48 741.58,146.51 741.68,146.57 741.78,146.67 741.89,146.80 741.99,146.96 742.09,147.16 742.19,147.39 742.29,147.65 742.39,147.94 742.49,148.27 742.59,148.62 742.69,149.00 742.79,149.41 742.89,149.85 742.99,150.31 743.09,150.80 743.19,151.32 743.29,151.85 743.39,152.41 743.49,153.00 743.59,153.61 743.69,154.24 743.79,154.89 743.89,155.58 743.99,156.32 744.09,156.90 744.19,156.90 744.30,156.90 744.40,156.90 744.50,156.90 744.60,156.90 744.70,156.90 744.80,156.90 744.90,156.90 745.00,156.90 745.10,156.90 745.20,156.90 745.30,156.90 745.40,156.90 745.50,156.90 745.60,156.90 745.70,156.90 745.80,156.90 745.90,156.90 746.00,156.90 746.10,156.90 746.20,156.90 746.30,156.90 746.40,156.90 746.50,156.90 746.60,156.90 746.70,156.90 746.81,156.90 746.91,156.90 747.01,156.90 747.11,156.90 747.21,156.90 747.31,156.90 747.41,156.90 747.51,156.90 747.61,156.90 747.71,156.90 747.81,156.90 747.91,156.90 748.01,156.90 748.11,156.90 748.21,156.90 748.31,156.90 748.41,156.90 748.51,156.90 748.61,156.90 748.71,156.90 748.81,156.90 748.91,156.90 749.01,156.90 749.11,156.90 749.22,156.90 749.32,156.90 749.42,156.90 749.52,156.90 749.62,156.90 749.72,156.90 749.82,156.90 749.92,156.90 750.02,156.90 750.12,156.90 750.22,156.90 750.32,156.90 750.42,156.90 750.52,156.90 750.62,156.90 750.72,156.90 750.82,156.90 750.92,156.09 751.02,155.38 751.12,154.72 751.22,154.09 751.32,153.48 751.42,152.89 751.52,152.32 751.63,151.78 751.73,151.26 751.83,150.76 751.93,150.29 752.03,149.83 752.13,149.41 752.23,149.01 752.33,148.64 752.43,148.29 752.53,147.97 752.63,147.68 752.73,147.43 752.83,147.20 752.93,147.00 753.03,146.83 753.13,146.70 753.23,146.60 753.33,146.53 753.43,146.49 753.53,146.48 753.63,146.51 753.73,146.57 753.83,146.66 753.93,146.78 754.03,146.94 754.14,147.13 754.24,147.35 754.34,147.59 754.44,147.87 754.54,148.18 754.64,148.52 754.74,148.88 754.84,149.27 754.94,149.69 755.04,150.13 755.14,150.60 755.24,151.09 755.34,151.60 755.44,152.14 755.54,152.70 755.64,153.28 755.74,153.88 755.84,154.51 755.94,155.16 756.04,155.85 756.14,156.60 756.24,156.90 756.34,156.90 756.44,156.90 756.55,156.90 756.65,156.90 756.75,156.90 756.85,156.90 756.95,156.90 757.05,156.90 757.15,156.90 757.25,156.90 757.35,156.90 757.45,156.90 757.55,156.90 757.65,156.90 757.75,156.90 757.85,156.90 757.95,156.90 758.05,156.90 758.15,156.90 758.25,156.90 758.35,156.90 758.45,156.90 758.55,156.90 758.65,156.90 758.75,156.90 758.85,156.90 758.96,156.90 759.06,156.90 759.16,156.90 759.26,156.90 759.36,156.90 759.46,156.90 759.56,156.90 759.66,156.90 759.76,156.90 759.86,156.90 759.96,156.90 760.06,156.90 760.16,156.90 760.26,156.90 760.36,156.90 760.46,156.90 760.56,156.90 760.66,156.90 760.76,156.90 760.86,156.90 760.96,156.90 761.06,156.90 761.16,156.90 761.26,156.90 761.36,156.90 761.47,156.90 761.57,156.90 761.67,156.90 761.77,156.90 761.87,156.90 761.97,156.90 762.07,156.90 762.17,156.90 762.27,156.90 762.37,156.90 762.47,156.90 762.57,156.90 762.67,156.90 762.77,156.90 762.87,156.90 762.97,156.90 763.07,156.90 763.17,156.90 763.27,156.90 763.37,156.90 763.47,156.90 763.57,156.90 763.67,156.90 763.77,156.90 763.88,156.90 763.98,156.90 764.08,156.90 764.18,156.90 764.28,156.90 764.38,156.90 764.48,156.90 764.58,156.90 764.68,156.90 764.78,156.90 764.88,156.90 764.98,156.90 765.08,156.90 765.18,156.90 765.28,156.90 765.38,156.90 765.48,156.90 765.58,156.90 765.68,156.90 765.78,156.90 765.88,156.90 765.98,156.90 766.08,156.90 766.18,156.90 766.28,156.90 766.39,156.90 766.49,156.90 766.59,156.90 766.69,156.90 766.79,156.90 766.89,156.90 766.99,156.90 767.09,156.90 767.19,156.90 767.29,156.90 767.39,156.90 767.49,156.90 767.59,156.90 767.69,156.90 767.79,156.90 767.89,156.90 767.99,156.90 768.09,156.90 768.19,156.90 768.29,156.90 768.39,156.90 768.49,156.90 768.59,156.90 768.69,156.90 768.80,156.90 768.90,156.90 769.00,156.90 769.10,156.90 769.20,156.90 769.30,156.90 769.40,156.90 769.50,156.90 769.60,156.90 769.70,156.90 769.80,156.90 769.90,156.90 770.00,156.90 770.10,156.90 770.20,156.90 770.30,156.90 770.40,156.90 770.50,156.90 770.60,156.90 770.70,156.90 770.80,156.90 770.90,156.90 771.00,156.90 771.10,156.90 771.21,156.90 771.31,156.90 771.41,156.90 771.51,156.90 771.61,156.90 771.71,156.90 771.81,156.90 771.91,156.90 772.01,156.90 772.11,156.90 772.21,156.90 772.31,156.90 772.41,156.90 772.51,156.90 772.61,156.90 772.71,156.90 772.81,156.90 772.91,156.90 773.01,156.90 773.11,156.90 773.21,156.90 773.31,156.90 773.41,156.90 773.51,156.90 773.61,156.90 773.72,156.90 773.82,156.90 773.92,156.90 774.02,156.90 774.12,156.90 774.22,156.90 774.32,156.90 774.42,156.90 774.52,156.90 774.62,156.90 774.72,156.32 774.82,155.58 774.92,154.89 775.02,154.24 775.12,153.61 775.22,153.00 775.32,152.41 775.42,151.85 775.52,151.32 775.62,150.80 775.72,150.31 775.82,149.85 775.92,149.41 776.02,149.00 776.13,148.62 776.23,148.27 776.33,147.94 776.43,147.65 776.53,147.39 776.63,147.16 776.73,146.96 776.83,146.80 776.93,146.67 777.03,146.57 777.13,146.51 777.23,146.48 777.33,146.49 777.43,146.53 777.53,146.60 777.63,146.71 777.73,146.85 777.83,147.03 777.93,147.23 778.03,147.47 778.13,147.75 778.23,148.05 778.33,148.38 778.43,148.74 778.53,149.14 778.64,149.55 778.74,150.00 778.84,150.47 778.94,150.97 779.04,151.49 779.14,152.04 779.24,152.61 779.34,153.20 779.44,153.81 779.54,154.45 779.64,155.12 779.74,155.82 779.84,156.59 779.94,156.90 780.04,156.90 780.14,156.90 780.24,156.90 780.34,156.90 780.44,156.90 780.54,156.90 780.64,156.90 780.74,156.90 780.84,156.90 780.94,156.90 781.05,156.90 781.15,156.90 781.25,156.90 781.35,156.90 781.45,156.90 781.55,156.90 781.65,156.90 781.75,156.90 781.85,156.90 781.95,156.90 782.05,156.90 782.15,156.90 782.25,156.90 782.35,156.90 782.45,156.90 782.55,156.90 782.65,156.90 782.75,156.90 782.85,156.90 782.95,156.90 783.05,156.90 783.15,156.90 783.25,156.90 783.35,156.90 783.46,156.90 783.56,156.90 783.66,156.90 783.76,156.90 783.86,156.90 783.96,156.90 784.06,156.90 784.16,156.90 784.26,156.90 784.36,156.90 784.46,156.90 784.56,156.90 784.66,156.90 784.76,156.90 784.86,156.90 784.96,156.90 785.06,156.90 785.16,156.90 785.26,156.90 785.36,156.90 785.46,156.90 785.56,156.90 785.66,156.90 785.76,156.90 785.86,156.90 785.97,156.90 786.07,156.90 786.17,156.90 786.27,156.90"/>
<text x="0" y="0" font-size="13" fill="#111" transform="translate(415.2,153.5) rotate(-90)" textLength="141.5" lengthAdjust="spacingAndGlyphs">Relative Frequency (cts)</text>
<text x="571.5" y="189.5" font-size="11.5" fill="#111">Angle (degrees)</text>
<text x="763.5" y="40.5" font-size="15" fill="#111">(c)</text>
<text x="493.70" y="90.30" font-size="5.6" fill="#333" text-anchor="middle">[72,90]/2φ</text>
<text x="493.70" y="97.30" font-size="5.6" fill="#333" text-anchor="middle">[60,90]/φ</text>
<text x="533.80" y="34.50" font-size="5.6" fill="#333" text-anchor="middle">[72,120]/φ²</text>
<text x="533.40" y="41.50" font-size="5.6" fill="#333" text-anchor="middle">[60,108]/φ</text>
<text x="609.20" y="40.20" font-size="5.6" fill="#333" text-anchor="middle">[90,120]/φ²</text>
<text x="608.00" y="48.30" font-size="5.6" fill="#333" text-anchor="middle">[72,120]/φ</text>
<text x="0" y="0" font-size="5.6" fill="#333" transform="translate(524.40,120.50) rotate(-90)">[72,90]/2</text>
<text x="0" y="0" font-size="5.6" fill="#333" transform="translate(533.30,130.90) rotate(-90)">[72,60]/φ</text>
<text x="0" y="0" font-size="5.6" fill="#333" transform="translate(543.00,130.90) rotate(-90)" textLength="29.9" lengthAdjust="spacingAndGlyphs">[72-120]/2φ</text>
<text x="0" y="0" font-size="5.6" fill="#333" transform="translate(565.80,109.30) rotate(-90)" textLength="23.7" lengthAdjust="spacingAndGlyphs">[72,108]/φ</text>
<text x="0" y="0" font-size="5.6" fill="#333" transform="translate(575.10,109.30) rotate(-90)" textLength="27" lengthAdjust="spacingAndGlyphs">[90,108]/φ²</text>
<text x="0" y="0" font-size="5.6" fill="#333" transform="translate(584.40,109.30) rotate(-90)" textLength="27.8" lengthAdjust="spacingAndGlyphs">[90,120]/2φ</text>
<text x="0" y="0" font-size="5.6" fill="#333" transform="translate(607.80,109.20) rotate(-90)" textLength="28.5" lengthAdjust="spacingAndGlyphs">[90,144]/2φ</text>
<text x="0" y="0" font-size="5.6" fill="#333" transform="translate(617.40,120.30) rotate(-90)" textLength="24.4" lengthAdjust="spacingAndGlyphs">[90,120]/φ</text>
<text x="0" y="0" font-size="5.6" fill="#333" transform="translate(626.40,126.00) rotate(-90)" textLength="29.4" lengthAdjust="spacingAndGlyphs">[0,360]/2φ</text>
<text x="0" y="0" font-size="5.6" fill="#333" transform="translate(637.20,130.30) rotate(-90)" textLength="27.7" lengthAdjust="spacingAndGlyphs">[72,180]/φ²</text>
<text x="0" y="0" font-size="5.6" fill="#333" transform="translate(651.70,131.30) rotate(-90)" textLength="28.7" lengthAdjust="spacingAndGlyphs">[108,144]/2</text>
<text x="0" y="0" font-size="5.6" fill="#333" transform="translate(667.30,139.60) rotate(-90)" textLength="25.7" lengthAdjust="spacingAndGlyphs">[90,144]/φ</text>
<text x="0" y="0" font-size="5.6" fill="#333" transform="translate(704.50,130.90) rotate(-90)">[90,180]/2</text>
<text x="0" y="0" font-size="5.6" fill="#333" transform="translate(718.30,130.90) rotate(-90)">[72,180]/φ</text>
<text x="0" y="0" font-size="5.6" fill="#333" transform="translate(743.20,141.30) rotate(-90)">[90,180]/φ</text>
<text x="0" y="0" font-size="5.6" fill="#333" transform="translate(755.10,141.30) rotate(-90)">[120,180]/φ</text>
<g fill="none" stroke-width="1.0">
<polygon points="697.2,31.3 732.8,31.3 750.9,62.4 734.1,93.5 696.5,93.5 678.5,62.4" stroke="#e8403c"/>
<polygon points="714.6,38.5 745,59.1 733.5,93.5 696.5,93.5 685.7,59.1" stroke="#3cb56a"/>
<polyline points="696.5,93.5 696.5,58 733.5,58 733.5,93.5" stroke="#4a78d0"/>
<line x1="668.3" y1="93.5" x2="760.7" y2="93.5" stroke="#4a78d0"/>
<line x1="676.2" y1="59.4" x2="694.1" y2="59.4" stroke="#7f9fdc" stroke-width="0.6"/>
<path d="M696.50,74.15 A21.5,19.35 0 0 0 675.00,93.50" stroke="#4a78d0" stroke-width="0.8"/>
<path d="M690.82,79.46 A16.6,14.94 0 0 0 679.90,93.50" stroke="#3cb56a" stroke-width="0.8"/>
<path d="M691.75,86.10 A9.5,8.55 0 0 0 687.00,93.50" stroke="#e8403c" stroke-width="0.8"/>
<path d="M740.45,74.24 A22.5,20.25 0 0 0 711.00,93.50" stroke="#3cb56a" stroke-width="0.8"/>
<path d="M740.73,81.26 A15.4,13.86 0 0 0 718.10,93.50" stroke="#e8403c" stroke-width="0.8"/>
<path d="M741.70,93.50 A8.2,7.38 0 0 0 725.30,93.50" stroke="#4a78d0" stroke-width="0.8"/>
<path d="M692.21,54.18 A8.5,7.65 0 0 0 677.20,59.10" stroke="#3cb56a" stroke-width="0.8"/>
</g>
<text x="678.5" y="79.5" font-size="3.2" fill="#4a78d0">90°</text>
<text x="681.5" y="84.5" font-size="3.2" fill="#3cb56a">120°</text>
<text x="685.5" y="88.5" font-size="3.2" fill="#e8403c">60°</text>
<text x="669.5" y="92" font-size="3.2" fill="#4a78d0">0°</text>
<text x="717" y="73.5" font-size="3.2" fill="#3cb56a">108°</text>
<text x="721" y="80" font-size="3.2" fill="#e8403c">120°</text>
<text x="743.8" y="92.6" font-size="3.2" fill="#4a78d0">180°</text>
<text x="690" y="51.5" font-size="3.2" fill="#3cb56a">108°</text>
<text x="744.2" y="49.2" font-size="3.2" fill="#999">133.29°</text>
</g>
<g font-family='"Liberation Sans", sans-serif'>
<line x1="472.4" y1="205.1" x2="472.4" y2="238.4" stroke="#999" stroke-width="0.8"/>
<line x1="518.6" y1="205.1" x2="518.6" y2="238.4" stroke="#999" stroke-width="0.8"/>
<line x1="544.8" y1="205.1" x2="544.8" y2="238.4" stroke="#999" stroke-width="0.8"/>
<line x1="569.6" y1="205.1" x2="569.6" y2="238.4" stroke="#999" stroke-width="0.8"/>
<line x1="595.0" y1="205.1" x2="595.0" y2="238.4" stroke="#999" stroke-width="0.8"/>
<line x1="620.5" y1="205.1" x2="620.5" y2="238.4" stroke="#999" stroke-width="0.8"/>
<line x1="645.7" y1="205.1" x2="645.7" y2="238.4" stroke="#999" stroke-width="0.8"/>
<line x1="670.9" y1="205.1" x2="670.9" y2="238.4" stroke="#999" stroke-width="0.8"/>
<line x1="696.2" y1="205.1" x2="696.2" y2="238.4" stroke="#999" stroke-width="0.8"/>
<line x1="721.4" y1="205.1" x2="721.4" y2="238.4" stroke="#999" stroke-width="0.8"/>
<line x1="472.4" y1="205.1" x2="721.4" y2="205.1" stroke="#999" stroke-width="0.8"/>
<line x1="472.4" y1="226.2" x2="721.4" y2="226.2" stroke="#999" stroke-width="0.8"/>
<line x1="472.4" y1="238.4" x2="721.4" y2="238.4" stroke="#999" stroke-width="0.8"/>
<text x="495.5" y="214.3" font-size="6.1" font-weight="bold" text-anchor="middle" fill="#111">Polygon</text>
<text x="495.5" y="221.9" font-size="6.1" font-weight="bold" text-anchor="middle" fill="#111">Shape</text>
<text x="495.5" y="234.4" font-size="6.1" font-weight="bold" text-anchor="middle" fill="#111">Counts</text>
<text x="708.8" y="218.2" font-size="6.1" font-weight="bold" text-anchor="middle" fill="#111">Total</text>
<text x="531.70" y="234.6" font-size="6.5" text-anchor="middle" fill="#222">1</text>
<text x="557.20" y="234.6" font-size="6.5" text-anchor="middle" fill="#222">68</text>
<text x="582.30" y="234.6" font-size="6.5" text-anchor="middle" fill="#222">148</text>
<text x="607.75" y="234.6" font-size="6.5" text-anchor="middle" fill="#222">223</text>
<text x="633.10" y="234.6" font-size="6.5" text-anchor="middle" fill="#222">58</text>
<text x="658.30" y="234.6" font-size="6.5" text-anchor="middle" fill="#222">4</text>
<text x="683.55" y="234.6" font-size="6.5" text-anchor="middle" fill="#222">1</text>
<text x="708.80" y="234.6" font-size="6.5" text-anchor="middle" fill="#222">503</text>
<polygon points="531.5,210.0 524.2,222.7 538.8,222.7" fill="#4472c4"/>
<text x="531.5" y="221.5" font-size="4.6" text-anchor="middle" fill="#b5c7ea">3</text>
<rect x="549.4" y="209.6" width="14.8" height="13.0" fill="#1fb8c6"/>
<text x="556.8" y="218.2" font-size="4.8" text-anchor="middle" fill="#c8f0f4">4</text>
<polygon points="582.50,209.00 589.73,214.25 586.97,222.75 578.03,222.75 575.27,214.25" fill="#548235"/>
<polygon points="615.60,216.20 611.80,222.78 604.20,222.78 600.40,216.20 604.20,209.62 611.80,209.62" fill="#ffc000"/>
<polygon points="633.60,208.60 639.54,211.46 641.01,217.89 636.90,223.05 630.30,223.05 626.19,217.89 627.66,211.46" fill="#ed7d31"/>
<polygon points="666.04,219.03 662.03,223.04 656.37,223.04 652.36,219.03 652.36,213.37 656.37,209.36 662.03,209.36 666.04,213.37" fill="#c00000"/>
<polygon points="691.90,215.40 690.47,219.81 686.72,222.53 682.08,222.53 678.33,219.81 676.90,215.40 678.33,210.99 682.08,208.27 686.72,208.27 690.47,210.99" fill="#7030a0"/>
<text x="582.5" y="218.8" font-size="5" text-anchor="middle" fill="#c0d4b4">5</text>
<text x="608" y="218.3" font-size="5" text-anchor="middle" fill="#fff0c0">6</text>
<text x="633.6" y="218.3" font-size="5" text-anchor="middle" fill="#fbd9c0">7</text>
<text x="659.2" y="218.3" font-size="5" text-anchor="middle" fill="#f0b8b8">8</text>
<text x="684.4" y="217.5" font-size="5" text-anchor="middle" fill="#dccbea">10</text>
<text x="762.3" y="229.0" font-size="13.4" fill="#222" transform="translate(762.3,0) scale(1.08,1) translate(-762.3,0)">(d)</text>
</g>
<g>
<polygon points="432.0,288.5 433.8,284.8 437.2,282.1 441.5,279.2 446.2,276.4 453.0,273.6 460.0,271.5 472.3,269.0 490.5,267.8 510.7,267.8 530.9,268.6 551.0,269.2 571.2,269.8 590.0,269.8 604.2,268.6 636.2,266.0 660.0,264.0 687.0,262.8 712.7,263.5 735.2,269.2 751.2,277.3 760.0,283.5 764.1,288.5 766.3,295.0 764.0,301.3 757.0,308.0 751.2,312.6 735.0,319.5 719.2,325.4 700.0,335.1 681.2,339.2 661.0,343.8 640.9,347.2 620.7,351.3 600.5,352.3 580.4,352.3 560.2,350.3 540.0,345.2 505.2,335.5 495.1,332.1 479.0,326.5 469.0,322.6 457.6,319.8 447.8,315.8 439.7,310.9 434.8,303.5 432.4,295.5" fill="#f7f7f7" stroke="#888" stroke-width="0.6"/>
<path d="M510.2,306.5 L505.7,307.7 L503.8,311.3 L506.3,315.5 L510.6,315.8 L515.5,313.2 L514.5,308.5ZM551.3,314.3 L549.4,317.5 L552.5,322.1 L558.3,321.5 L561.0,315.8 L558.9,314.1ZM642.1,272.7 L645.4,271.8 L644.8,266.5 L642.6,265.7 L637.1,266.9 L635.8,268.0ZM517.1,280.4 L511.0,284.0 L511.0,284.6 L517.7,289.0 L522.1,286.9 L521.8,282.0ZM707.7,306.6 L710.6,307.9 L713.3,307.2 L714.1,304.3 L711.7,302.6 L707.4,303.1 L707.3,303.2ZM640.3,275.0 L641.3,278.7 L642.3,279.3 L647.8,279.1 L649.6,277.3 L646.6,272.1 L645.4,271.8 L642.1,272.7ZM640.9,340.5 L645.7,344.7 L648.0,344.5 L648.1,344.4 L649.8,338.6 L645.3,337.0ZM606.2,333.6 L611.1,331.4 L611.8,329.1 L604.8,325.1 L601.6,329.0 L603.8,332.9ZM653.1,270.1 L655.4,271.5 L660.8,270.1 L662.3,268.4 L661.8,265.9 L659.1,264.8 L653.7,265.5 L652.8,266.1ZM687.9,313.2 L682.2,314.8 L684.7,320.0 L690.7,316.9ZM724.3,303.2 L718.9,302.4 L718.1,303.4 L719.9,306.9 L724.2,306.8 L725.2,305.1ZM559.7,330.2 L560.0,337.8 L568.5,336.8 L568.4,331.5 L561.1,329.4ZM578.4,343.2 L575.8,344.9 L576.0,349.9 L578.4,351.2 L584.5,350.8 L586.0,346.3 L583.9,343.4ZM728.8,272.4 L729.5,268.9 L729.4,268.8 L725.5,267.7 L724.7,267.8 L722.4,272.2 L724.6,273.3ZM752.1,300.3 L753.3,303.7 L755.9,303.7 L757.5,301.6 L756.3,299.6 L753.8,299.3ZM637.2,290.5 L641.2,292.8 L644.5,291.7 L644.8,286.2 L641.7,285.2 L639.9,285.6ZM603.8,301.2 L604.9,295.4 L601.1,294.1 L596.3,296.6 L596.2,299.5 L603.0,301.6ZM630.1,347.5 L630.4,341.7 L629.0,340.7 L623.3,340.7 L621.8,344.2 L626.6,348.4ZM661.0,276.5 L655.5,274.6 L652.4,277.1 L657.3,281.5 L660.9,279.3ZM731.5,311.4 L730.3,313.3 L731.6,315.3 L735.9,315.8 L737.3,312.3 L735.3,310.9ZM673.4,284.7 L673.4,280.5 L668.4,279.6 L665.9,281.2 L666.1,284.2 L672.2,285.4ZM713.7,315.9 L714.3,314.8 L713.3,312.8 L709.9,311.5 L707.0,312.4 L706.2,313.5 L708.4,317.1ZM575.2,276.2 L573.6,271.6 L569.4,270.6 L565.9,271.6 L564.3,275.3 L568.5,279.0 L573.1,278.9ZM526.5,328.5 L524.7,332.4 L527.8,335.6 L534.5,334.9 L535.5,329.1 L535.0,328.7ZM669.6,294.6 L674.2,294.7 L676.6,291.2 L671.7,288.9 L667.6,290.9ZM491.4,298.7 L497.7,303.6 L500.0,303.4 L504.4,297.9 L495.9,293.9ZM632.2,278.5 L634.7,280.5 L641.3,278.7 L640.3,275.0 L633.4,274.5ZM728.6,296.0 L728.9,297.8 L733.5,298.9 L735.3,295.4 L731.2,294.2ZM582.0,308.9 L584.1,312.8 L591.5,312.3 L590.7,307.0 L585.5,305.9ZM642.4,318.0 L644.0,319.5 L650.5,317.9 L649.5,312.8 L643.3,312.5ZM622.8,320.7 L622.3,315.2 L620.1,314.2 L615.4,315.2 L615.8,320.4 L622.1,321.2ZM743.4,305.9 L741.7,308.4 L741.9,309.0 L745.8,310.3 L748.4,308.9 L748.6,307.9 L745.9,305.6ZM572.0,325.6 L572.4,329.2 L576.9,330.9 L583.4,327.3 L583.4,326.8 L579.9,322.8 L577.7,322.5ZM511.0,284.6 L505.9,289.1 L508.4,293.1 L516.8,293.1 L517.7,289.0ZM565.6,315.8 L568.8,318.2 L574.4,317.5 L576.2,315.4 L573.8,310.6 L569.2,310.2ZM644.2,301.7 L637.2,302.0 L637.3,306.4 L643.1,307.5 L645.3,306.0ZM661.5,292.6 L659.5,291.9 L655.4,293.6 L654.7,296.4 L657.1,298.5 L662.8,297.1ZM664.9,327.3 L665.5,331.8 L668.6,333.4 L671.8,331.3 L670.6,326.5 L667.5,325.5ZM520.4,301.8 L516.2,299.6 L511.3,300.9 L510.2,306.5 L514.5,308.5 L520.4,305.8ZM625.3,293.7 L627.3,295.8 L632.2,295.5 L634.3,290.8 L631.6,289.0 L626.3,290.2ZM549.3,286.0 L547.3,289.3 L552.8,293.8 L556.4,293.0 L557.8,288.6 L553.6,285.0ZM525.9,294.8 L526.3,299.6 L529.8,301.2 L534.6,300.0 L536.6,296.4 L534.1,293.6 L528.2,292.9ZM685.9,264.0 L687.1,268.2 L690.1,268.8 L692.9,267.6 L692.8,264.0 L689.8,263.0ZM617.1,327.6 L621.5,332.6 L622.0,332.7 L627.1,327.5 L622.1,324.9ZM537.8,287.6 L541.0,282.4 L535.7,279.1 L530.7,282.2 L531.3,285.7ZM697.5,284.5 L700.2,287.5 L703.2,286.7 L703.8,283.2 L700.6,281.4ZM663.3,274.9 L667.3,274.8 L668.2,269.9 L662.3,268.4 L660.8,270.1ZM536.6,296.4 L542.6,296.1 L543.9,290.3 L538.0,288.1 L534.1,293.6ZM717.6,281.5 L720.9,278.3 L718.3,275.8 L715.3,276.0 L713.4,278.6 L714.8,281.6 L715.0,281.7ZM544.7,325.5 L550.5,324.8 L552.5,322.1 L549.4,317.5 L541.1,318.1 L540.1,320.2ZM724.3,303.2 L725.2,305.1 L730.4,304.9 L731.3,302.9 L726.5,300.2ZM510.6,269.4 L507.5,268.2 L500.6,269.4 L500.4,273.5 L506.9,276.7 L511.1,274.6ZM605.9,282.6 L610.1,282.5 L613.5,277.6 L608.7,274.9 L604.7,276.1 L603.3,280.8ZM490.1,284.5 L489.2,289.4 L495.7,292.9 L500.9,288.5 L497.9,282.8ZM705.1,319.2 L700.2,317.1 L698.1,320.3 L700.6,323.4 L704.3,322.1ZM703.1,296.6 L705.6,293.4 L705.3,292.4 L699.7,291.0 L697.5,294.9 L697.7,295.2ZM693.2,284.3 L692.2,286.6 L693.8,289.3 L698.9,289.5 L700.2,287.5 L697.5,284.5ZM550.7,296.7 L544.1,297.1 L543.7,303.0 L549.9,303.9 L553.0,300.6ZM577.6,301.4 L577.1,297.4 L571.3,294.7 L570.8,294.8 L567.2,300.7 L569.1,302.9 L575.7,303.0ZM743.6,274.4 L740.8,273.3 L736.8,276.6 L741.4,279.0 L744.8,275.8ZM740.2,284.1 L744.2,284.4 L746.6,282.2 L746.7,281.8 L741.5,279.7 L739.3,281.9ZM650.3,312.1 L655.9,311.9 L656.8,307.6 L652.2,305.5 L649.7,306.7ZM707.1,264.7 L704.1,263.4 L699.8,264.2 L699.6,266.6 L702.1,268.5 L706.2,268.1ZM569.3,343.3 L566.5,344.8 L566.5,349.7 L571.8,351.1 L576.0,349.9 L575.8,344.9ZM634.3,290.8 L632.2,295.5 L635.6,298.1 L640.6,295.8 L641.2,292.8 L637.2,290.5ZM594.8,328.9 L587.1,330.7 L586.7,333.6 L593.5,336.5 L595.6,335.7 L594.8,328.9ZM549.1,277.1 L547.0,277.5 L544.1,281.8 L549.3,286.0 L553.6,285.0 L555.7,281.4ZM607.6,337.9 L614.4,338.6 L614.9,338.2 L615.7,335.1 L611.1,331.4 L606.2,333.6ZM514.5,308.5 L515.5,313.2 L519.2,314.4 L524.7,312.2 L525.3,308.3 L520.4,305.8ZM569.1,302.9 L566.7,307.7 L569.2,310.2 L573.8,310.6 L577.1,308.2 L575.7,303.0ZM671.4,300.4 L673.5,300.3 L676.3,297.6 L674.2,294.7 L669.6,294.6 L667.7,297.0ZM697.7,295.2 L697.5,294.9 L693.5,294.3 L690.8,297.0 L693.7,300.5 L696.3,300.5ZM604.8,324.6 L599.3,321.7 L593.7,324.6 L594.8,328.9 L594.8,328.9 L601.6,329.0 L604.8,325.1ZM583.2,288.5 L588.6,288.2 L590.9,284.9 L589.4,282.0 L584.4,280.5 L581.0,283.0ZM611.8,329.1 L615.4,327.4 L613.5,321.8 L608.9,321.4 L604.8,324.6 L604.8,325.1ZM576.4,337.2 L569.5,337.5 L569.3,343.3 L575.8,344.9 L578.4,343.2ZM744.3,299.0 L748.0,297.7 L748.3,296.8 L746.2,294.6 L743.0,295.1 L742.0,297.6ZM649.8,338.6 L648.1,344.4 L653.6,344.9 L657.4,342.8 L657.1,341.2 L651.6,338.1ZM698.1,320.3 L693.8,320.6 L692.3,323.1 L696.9,325.6 L700.2,324.3 L700.6,323.4ZM681.8,314.6 L680.3,310.5 L677.4,309.7 L674.3,311.3 L674.5,314.9 L676.7,316.2ZM730.1,278.5 L729.3,277.4 L725.2,276.9 L722.9,278.4 L724.9,281.7 L727.6,282.3 L728.7,281.9ZM651.6,338.1 L657.1,341.2 L660.9,337.5 L659.2,334.9 L653.6,335.0ZM685.8,306.5 L685.2,306.9 L684.8,308.2 L688.5,312.0 L693.2,310.4 L693.2,307.0 L692.6,306.6ZM668.2,269.9 L667.3,274.8 L668.0,275.3 L673.0,274.9 L674.8,272.9 L671.0,268.8ZM622.0,332.7 L621.5,332.6 L615.7,335.1 L614.9,338.2 L622.8,340.1 L623.9,334.2ZM516.1,276.1 L511.1,274.6 L506.9,276.7 L506.4,280.3 L511.0,284.0 L517.1,280.4ZM520.8,319.0 L519.2,314.4 L515.5,313.2 L510.6,315.8 L514.0,322.5 L516.1,323.0ZM687.4,297.0 L685.7,295.4 L682.1,295.2 L679.3,297.7 L681.7,300.7 L685.7,300.6ZM560.3,295.0 L556.4,293.0 L552.8,293.8 L550.7,296.7 L553.0,300.6 L559.2,301.1 L560.9,299.9ZM684.2,275.3 L680.5,275.1 L677.4,279.0 L680.2,280.8 L684.8,279.9ZM660.5,332.8 L665.5,331.8 L664.9,327.3 L659.0,326.9 L657.7,329.1ZM590.5,323.2 L593.7,324.6 L599.3,321.7 L599.0,318.7 L592.5,316.9 L589.2,319.5ZM734.5,278.8 L736.8,276.6 L733.5,273.8 L731.1,274.0 L729.3,277.4 L730.1,278.5ZM735.3,310.9 L737.3,312.3 L739.8,312.0 L741.9,309.0 L741.7,308.4 L736.6,306.9 L736.1,307.2ZM496.8,318.8 L503.5,318.2 L506.3,315.5 L503.8,311.3 L495.3,311.7 L493.9,315.4ZM526.5,328.5 L535.0,328.7 L534.6,322.2 L528.7,320.3 L528.6,320.3 L525.2,326.6ZM626.3,290.2 L631.6,289.0 L631.7,285.2 L626.7,283.6 L623.3,287.6ZM586.5,296.2 L587.2,299.7 L593.6,301.3 L596.2,299.5 L596.3,296.6 L591.4,293.6ZM482.1,293.8 L488.9,299.1 L491.4,298.7 L495.9,293.9 L495.7,292.9 L489.2,289.4 L482.6,291.8ZM534.5,334.9 L536.8,336.8 L542.9,336.5 L545.6,333.5 L542.1,328.8 L535.5,329.1ZM591.6,340.0 L593.5,336.5 L586.7,333.6 L583.5,335.8 L585.9,340.8ZM718.8,301.2 L722.3,298.3 L721.8,296.4 L718.6,295.3 L714.7,298.5ZM516.1,323.0 L514.0,322.5 L506.2,324.5 L505.4,325.6 L508.8,330.8 L515.3,330.0 L517.5,325.3ZM714.9,287.0 L717.3,287.5 L721.2,285.5 L721.2,284.1 L717.6,281.5 L715.0,281.7ZM487.3,323.7 L485.7,326.0 L487.4,328.5 L493.9,331.0 L496.5,330.5 L499.0,326.6 L495.1,322.4ZM622.1,324.9 L627.1,327.5 L628.2,327.5 L631.5,323.2 L628.0,320.5 L622.8,320.7 L622.1,321.2ZM752.9,295.9 L752.2,295.6 L748.3,296.8 L748.0,297.7 L750.0,300.1 L752.1,300.3 L753.8,299.3ZM608.7,274.9 L613.5,277.6 L615.6,277.4 L618.5,274.7 L616.8,269.6 L613.9,269.0 L609.7,270.0ZM525.2,326.6 L528.6,320.3 L520.8,319.0 L516.1,323.0 L517.5,325.3ZM689.3,333.6 L694.1,331.5 L694.5,329.4 L689.4,327.4 L686.7,331.3ZM646.5,331.7 L644.3,334.3 L645.3,337.0 L649.8,338.6 L651.6,338.1 L653.6,335.0 L651.2,330.9ZM515.3,330.0 L518.7,333.3 L524.7,332.4 L526.5,328.5 L525.2,326.6 L517.5,325.3ZM666.8,322.6 L667.5,325.5 L670.6,326.5 L675.9,325.0 L675.6,321.2 L669.8,320.2ZM625.4,280.8 L626.2,279.4 L624.1,275.1 L618.5,274.7 L615.6,277.4 L619.4,281.3ZM649.6,277.3 L652.4,277.1 L655.5,274.6 L655.4,271.5 L653.1,270.1 L646.6,272.1ZM631.7,308.2 L628.1,310.3 L627.9,314.1 L630.3,315.7 L634.3,315.7 L636.6,312.3 L634.3,308.5ZM652.2,305.5 L652.9,302.7 L647.0,299.2 L646.3,299.3 L644.2,301.7 L645.3,306.0 L649.7,306.7ZM684.8,308.2 L680.3,310.5 L681.8,314.6 L682.2,314.8 L687.9,313.2 L688.5,312.0ZM678.3,290.8 L676.6,291.2 L674.2,294.7 L676.3,297.6 L679.3,297.7 L682.1,295.2 L679.9,291.3ZM517.2,293.5 L516.2,299.6 L520.4,301.8 L526.3,299.6 L525.9,294.8ZM599.1,281.3 L596.8,285.2 L599.7,289.0 L604.1,287.8 L605.9,282.6 L603.3,280.8ZM690.8,297.0 L693.5,294.3 L691.9,291.9 L687.7,291.7 L685.7,295.4 L687.4,297.0ZM545.7,341.1 L551.8,340.8 L554.2,338.3 L550.2,333.3 L545.6,333.5 L542.9,336.5ZM495.8,276.5 L490.1,275.2 L486.9,277.0 L486.3,282.0 L490.1,284.5 L497.9,282.8 L498.0,282.7ZM703.3,327.4 L701.4,330.1 L702.2,332.2 L705.4,332.3 L708.9,330.0 L709.3,328.6 L707.4,326.9ZM626.8,272.5 L624.1,275.1 L626.2,279.4 L632.2,278.5 L633.4,274.5 L632.4,273.3ZM607.2,316.8 L613.4,314.3 L612.0,310.0 L609.1,308.6 L607.5,308.8 L603.2,315.2ZM663.9,285.9 L662.0,286.0 L658.6,288.7 L659.5,291.9 L661.5,292.6 L666.9,290.7ZM631.6,330.1 L637.0,329.6 L638.3,328.1 L636.5,323.8 L634.5,322.9 L631.5,323.2 L628.2,327.5ZM607.5,308.8 L609.1,308.6 L611.1,302.5 L610.7,302.2 L603.8,301.2 L603.0,301.6 L601.5,306.5ZM621.0,351.2 L626.2,348.9 L626.6,348.4 L621.8,344.2 L617.5,345.4 L616.4,350.0ZM693.8,320.6 L698.1,320.3 L700.2,317.1 L700.2,317.1 L695.3,315.3 L691.7,317.1ZM615.1,350.6 L616.4,350.0 L617.5,345.4 L613.7,343.1 L608.2,345.0 L608.2,345.0 L611.6,350.4ZM536.8,336.8 L534.9,342.3 L539.5,344.6 L543.3,344.3 L545.7,341.1 L542.9,336.5ZM718.7,319.7 L719.5,319.4 L721.0,315.6 L719.5,314.3 L714.3,314.8 L713.7,315.9 L715.6,319.1ZM478.7,303.1 L475.2,307.1 L477.2,309.7 L483.5,311.4 L488.6,307.8 L485.7,303.0ZM663.5,308.7 L662.3,312.3 L666.0,315.0 L666.5,315.0 L670.1,310.1 L668.8,308.1ZM568.8,318.2 L567.5,323.2 L572.0,325.6 L577.7,322.5 L574.4,317.5ZM529.6,306.8 L533.6,308.2 L540.3,305.2 L540.4,304.8 L534.6,300.0 L529.8,301.2ZM559.6,307.6 L551.7,307.4 L549.1,310.8 L551.3,314.3 L558.9,314.1 L559.9,307.8ZM631.7,285.2 L634.6,283.6 L634.7,280.5 L632.2,278.5 L626.2,279.4 L625.4,280.8 L626.7,283.6ZM691.1,273.1 L689.2,274.5 L691.0,278.1 L694.6,278.7 L696.7,275.7 L695.2,273.2ZM500.4,273.5 L495.8,276.5 L498.0,282.7 L506.4,280.3 L506.9,276.7ZM577.6,301.4 L584.3,302.4 L587.2,299.7 L586.5,296.2 L582.3,294.7 L577.1,297.4ZM672.0,267.2 L671.5,265.2 L669.6,264.2 L664.3,264.3 L661.8,265.9 L662.3,268.4 L668.2,269.9 L671.0,268.8ZM594.4,276.8 L591.5,274.8 L583.7,276.5 L584.4,280.5 L589.4,282.0 L594.5,278.0ZM676.6,291.2 L678.3,290.8 L678.9,285.5 L673.4,284.7 L672.2,285.4 L671.7,288.9ZM696.3,300.5 L693.7,300.5 L691.8,302.0 L692.6,306.6 L693.2,307.0 L697.7,305.8 L696.8,300.7ZM741.6,291.3 L745.8,291.1 L746.8,288.1 L744.9,287.1 L741.0,288.4 L740.6,290.1ZM735.4,281.5 L734.5,278.8 L730.1,278.5 L728.7,281.9 L733.3,283.4ZM540.1,320.2 L541.1,318.1 L539.2,314.6 L534.7,313.3 L529.9,315.4 L528.7,320.3 L534.6,322.2ZM527.8,335.6 L525.9,340.0 L526.6,340.9 L533.1,342.7 L534.9,342.3 L536.8,336.8 L534.5,334.9ZM677.5,326.0 L676.2,331.5 L678.2,332.8 L680.6,332.9 L683.0,331.2 L681.8,326.1ZM736.8,294.4 L736.3,295.1 L739.9,298.1 L742.0,297.6 L743.0,295.1 L741.0,293.4ZM568.5,279.0 L564.8,283.7 L565.6,286.3 L572.8,286.6 L575.8,282.6 L573.1,278.9ZM525.6,280.2 L526.0,276.0 L520.6,273.6 L516.1,276.1 L517.1,280.4 L521.8,282.0ZM674.5,314.9 L669.0,316.4 L669.8,320.2 L675.6,321.2 L676.8,320.2 L676.7,316.2ZM626.8,272.5 L625.3,268.3 L619.8,268.1 L616.8,269.6 L618.5,274.7 L624.1,275.1ZM474.9,319.0 L474.0,322.0 L474.7,323.2 L480.7,326.4 L485.7,326.0 L487.3,323.7 L484.7,317.3ZM578.5,335.4 L576.9,330.9 L572.4,329.2 L568.4,331.5 L568.5,336.8 L569.5,337.5 L576.4,337.2ZM630.9,335.5 L636.2,336.1 L638.8,333.7 L637.0,329.6 L631.6,330.1 L630.1,334.6ZM711.7,269.8 L707.8,269.6 L705.8,273.3 L708.1,275.0 L712.8,273.5 L713.3,271.2ZM642.4,318.0 L636.2,317.6 L634.5,322.9 L636.5,323.8 L643.7,321.4 L644.0,319.5ZM583.2,276.2 L583.0,270.6 L582.6,270.3 L576.1,270.0 L573.6,271.6 L575.2,276.2ZM703.8,283.2 L707.6,282.3 L707.4,278.4 L702.4,278.2 L700.4,280.8 L700.6,281.4ZM674.8,272.9 L677.9,272.5 L680.1,269.2 L679.4,268.2 L672.0,267.2 L671.0,268.8ZM543.7,310.4 L549.1,310.8 L551.7,307.4 L549.9,303.9 L543.7,303.0 L540.4,304.8 L540.3,305.2ZM679.3,297.7 L676.3,297.6 L673.5,300.3 L677.3,304.5 L679.4,304.0 L681.7,300.7ZM500.9,288.5 L495.7,292.9 L495.9,293.9 L504.4,297.9 L505.4,297.7 L508.4,293.1 L505.9,289.1ZM500.4,273.5 L500.6,269.4 L500.3,269.1 L493.0,268.0 L489.7,269.6 L490.1,275.2 L495.8,276.5ZM608.9,321.4 L607.2,316.8 L603.2,315.2 L603.0,315.3 L599.0,318.7 L599.3,321.7 L604.8,324.6ZM550.2,333.3 L553.8,329.9 L550.5,324.8 L544.7,325.5 L542.1,328.8 L545.6,333.5ZM686.1,287.6 L684.7,285.8 L679.8,285.1 L678.9,285.5 L678.3,290.8 L679.9,291.3 L685.7,289.6ZM560.0,276.4 L553.4,271.9 L549.1,277.1 L555.7,281.4 L557.6,280.8ZM687.2,302.0 L685.8,306.5 L692.6,306.6 L691.8,302.0ZM577.1,297.4 L582.3,294.7 L581.3,290.1 L575.0,289.7 L571.3,294.7ZM508.8,330.8 L506.7,334.2 L507.0,334.9 L512.8,337.6 L513.3,337.8 L516.9,337.2 L518.7,333.3 L515.3,330.0ZM680.6,332.9 L683.6,337.4 L687.9,336.8 L689.2,335.9 L689.3,333.6 L686.7,331.3 L683.0,331.2ZM605.2,340.1 L607.6,337.9 L606.2,333.6 L603.8,332.9 L597.9,336.1 L601.1,340.1ZM613.0,285.2 L610.9,289.7 L617.2,291.8 L620.4,287.5 L617.6,284.8ZM736.1,307.2 L736.6,306.9 L737.3,304.4 L733.2,302.1 L731.3,302.9 L730.4,304.9 L731.4,306.6ZM707.9,318.2 L708.4,317.1 L706.2,313.5 L702.3,314.1 L700.2,317.1 L700.2,317.1 L705.1,319.2ZM612.0,296.9 L610.7,302.2 L611.1,302.5 L616.8,303.2 L619.9,299.8 L617.0,295.8ZM697.7,305.8 L700.2,306.5 L703.2,303.2 L700.8,300.7 L696.8,300.7ZM543.7,310.4 L540.3,305.2 L533.6,308.2 L534.7,313.3 L539.2,314.6ZM620.9,307.9 L620.9,307.9 L620.1,314.2 L622.3,315.2 L627.9,314.1 L628.1,310.3ZM599.7,289.0 L599.7,289.0 L596.8,285.2 L590.9,284.9 L588.6,288.2 L591.7,291.6ZM715.6,319.1 L713.7,315.9 L708.4,317.1 L707.9,318.2 L711.7,321.9ZM652.5,318.8 L653.1,323.4 L657.7,324.6 L661.7,320.9 L661.0,318.9 L657.2,317.2ZM562.9,269.6 L561.9,269.5 L556.0,269.8 L553.4,271.7 L553.4,271.9 L560.0,276.4 L564.3,275.3 L565.9,271.6ZM545.4,346.6 L547.8,347.2 L552.5,347.7 L554.6,346.8 L551.8,340.8 L545.7,341.1 L543.3,344.3ZM688.5,312.0 L687.9,313.2 L690.7,316.9 L691.7,317.1 L695.3,315.3 L695.5,311.8 L693.2,310.4ZM713.4,278.6 L708.0,277.9 L707.4,278.4 L707.6,282.3 L708.9,283.0 L714.8,281.6ZM757.5,301.6 L761.6,301.9 L762.2,301.2 L760.2,298.0 L758.3,297.9 L756.3,299.6ZM687.1,268.2 L684.4,269.8 L685.7,274.3 L689.2,274.5 L691.1,273.1 L690.1,268.8ZM608.2,345.0 L613.7,343.1 L614.4,338.6 L607.6,337.9 L605.2,340.1ZM574.4,317.5 L577.7,322.5 L579.9,322.8 L584.5,318.6 L582.4,315.2 L576.2,315.4ZM567.2,300.7 L570.8,294.8 L566.3,292.9 L560.3,295.0 L560.9,299.9ZM655.5,274.6 L661.0,276.5 L663.3,274.9 L660.8,270.1 L655.4,271.5ZM721.8,296.4 L722.3,298.3 L726.5,300.2 L728.9,297.8 L728.6,296.0 L725.0,294.5ZM583.9,343.4 L586.0,346.3 L593.9,346.0 L595.4,344.4 L591.6,340.0 L585.9,340.8ZM735.3,295.4 L733.5,298.9 L734.1,300.0 L738.6,299.8 L739.9,298.1 L736.3,295.1ZM713.7,265.3 L712.9,264.7 L708.7,264.1 L707.1,264.7 L706.2,268.1 L707.8,269.6 L711.7,269.8ZM547.0,277.5 L549.1,277.1 L553.4,271.9 L553.4,271.7 L549.2,269.4 L542.3,269.9 L541.1,270.7 L541.0,273.6ZM511.3,300.9 L505.4,297.7 L504.4,297.9 L500.0,303.4 L505.7,307.7 L510.2,306.5ZM566.7,307.7 L559.9,307.8 L558.9,314.1 L561.0,315.8 L565.6,315.8 L569.2,310.2ZM630.3,315.7 L628.0,320.5 L631.5,323.2 L634.5,322.9 L636.2,317.6 L634.3,315.7ZM599.0,318.7 L603.0,315.3 L598.1,311.5 L591.9,312.6 L592.5,316.9ZM665.9,281.2 L660.9,279.3 L657.3,281.5 L657.1,281.9 L662.0,286.0 L663.9,285.9 L666.1,284.2ZM714.1,304.3 L713.3,307.2 L716.7,309.3 L717.9,309.2 L719.9,306.9 L718.1,303.4ZM623.9,334.2 L622.8,340.1 L623.3,340.7 L629.0,340.7 L630.9,335.5 L630.1,334.6ZM725.6,309.1 L724.5,310.9 L726.2,313.4 L730.3,313.3 L731.5,311.4 L729.7,309.0ZM503.8,311.3 L505.7,307.7 L500.0,303.4 L497.7,303.6 L493.0,308.5 L495.3,311.7ZM719.9,306.9 L717.9,309.2 L720.3,311.4 L724.5,310.9 L725.6,309.1 L724.2,306.8ZM517.7,289.0 L516.8,293.1 L517.2,293.5 L525.9,294.8 L528.2,292.9 L527.1,288.4 L522.1,286.9ZM748.6,307.9 L751.8,306.3 L752.0,304.6 L747.6,303.2 L745.9,305.6ZM572.8,286.6 L575.0,289.7 L581.3,290.1 L583.2,288.5 L581.0,283.0 L575.8,282.6ZM687.3,281.8 L687.0,280.8 L684.8,279.9 L680.2,280.8 L679.8,285.1 L684.7,285.8ZM679.4,304.0 L677.3,304.5 L676.4,305.5 L677.4,309.7 L680.3,310.5 L684.8,308.2 L685.2,306.9ZM662.8,297.1 L657.1,298.5 L656.5,301.0 L661.3,304.0 L664.1,302.6 L663.9,297.6ZM505.4,325.6 L499.0,326.6 L496.5,330.5 L500.1,333.6 L506.7,334.2 L508.8,330.8ZM595.4,344.4 L593.9,346.0 L594.7,350.8 L597.1,351.8 L602.3,351.0 L603.0,347.0 L597.8,344.0ZM729.3,277.4 L731.1,274.0 L728.8,272.4 L724.6,273.3 L725.2,276.9ZM631.6,289.0 L634.3,290.8 L637.2,290.5 L639.9,285.6 L634.6,283.6 L631.7,285.2ZM604.1,287.8 L599.7,289.0 L599.7,289.0 L601.1,294.1 L604.9,295.4 L607.8,294.6 L609.5,290.1ZM700.8,300.7 L703.5,297.7 L703.1,296.6 L697.7,295.2 L696.3,300.5 L696.8,300.7ZM650.2,325.0 L651.3,330.7 L657.7,329.1 L659.0,326.9 L657.7,324.6 L653.1,323.4ZM527.1,288.4 L528.2,292.9 L534.1,293.6 L538.0,288.1 L537.8,287.6 L531.3,285.7ZM738.6,299.8 L740.3,302.9 L740.8,302.9 L744.4,301.1 L744.3,299.0 L742.0,297.6 L739.9,298.1ZM567.2,300.7 L560.9,299.9 L559.2,301.1 L559.6,307.6 L559.9,307.8 L566.7,307.7 L569.1,302.9ZM498.0,282.7 L497.9,282.8 L500.9,288.5 L505.9,289.1 L511.0,284.6 L511.0,284.0 L506.4,280.3ZM646.0,324.4 L643.0,327.9 L646.5,331.7 L651.2,330.9 L651.3,330.7 L650.2,325.0ZM739.3,281.9 L741.5,279.7 L741.4,279.0 L736.8,276.6 L736.8,276.6 L734.5,278.8 L735.4,281.5ZM711.1,297.2 L706.9,298.9 L707.4,303.1 L711.7,302.6 L713.4,298.5ZM755.4,286.2 L754.9,287.9 L757.1,290.2 L759.1,289.9 L761.3,287.1 L760.5,285.7 L759.3,285.1ZM731.2,294.2 L735.3,295.4 L736.3,295.1 L736.8,294.4 L735.7,290.6 L734.9,290.1 L730.9,291.8ZM731.1,286.9 L734.7,289.0 L737.4,286.2 L733.4,283.8ZM723.3,290.8 L719.3,291.2 L717.5,293.1 L718.6,295.3 L721.8,296.4 L725.0,294.5 L724.9,291.8ZM616.8,303.2 L611.1,302.5 L609.1,308.6 L612.0,310.0 L619.5,307.4ZM603.0,301.6 L596.2,299.5 L593.6,301.3 L593.8,305.1 L599.8,307.1 L601.5,306.5ZM590.5,323.2 L583.4,326.8 L583.4,327.3 L587.1,330.7 L594.8,328.9 L593.7,324.6ZM685.7,300.6 L681.7,300.7 L679.4,304.0 L685.2,306.9 L685.8,306.5 L687.2,302.0ZM709.4,285.7 L706.2,287.9 L707.0,290.2 L712.1,290.5 L713.8,287.3ZM522.1,286.9 L527.1,288.4 L531.3,285.7 L530.7,282.2 L525.6,280.2 L521.8,282.0ZM627.3,295.8 L625.2,300.0 L627.3,302.5 L628.5,302.9 L635.5,300.5 L635.6,298.1 L632.2,295.5ZM717.8,270.5 L718.7,266.5 L717.2,265.6 L713.7,265.3 L711.7,269.8 L713.3,271.2ZM691.9,291.9 L693.5,294.3 L697.5,294.9 L699.7,291.0 L698.9,289.5 L693.8,289.3ZM628.5,302.9 L627.3,302.5 L620.9,307.9 L628.1,310.3 L631.7,308.2ZM617.2,291.8 L610.9,289.7 L609.5,290.1 L607.8,294.6 L612.0,296.9 L617.0,295.8 L618.1,293.9ZM486.9,277.0 L490.1,275.2 L489.7,269.6 L485.9,268.3 L478.8,270.0 L478.8,270.1 L480.2,274.9ZM661.0,318.9 L661.7,320.9 L666.8,322.6 L669.8,320.2 L669.0,316.4 L666.5,315.0 L666.0,315.0ZM541.0,273.6 L541.1,270.7 L535.5,268.8 L530.8,270.1 L530.2,274.1 L535.6,277.0ZM559.8,337.9 L561.6,343.5 L566.5,344.8 L569.3,343.3 L569.5,337.5 L568.5,336.8 L560.0,337.8ZM682.5,325.7 L689.1,326.8 L690.9,323.5 L684.6,320.3 L684.1,320.6ZM594.7,350.8 L593.9,346.0 L586.0,346.3 L584.5,350.8 L584.5,350.9 L590.7,352.3 L591.0,352.3ZM730.3,313.3 L726.2,313.4 L724.7,315.5 L726.3,317.7 L729.5,318.1 L731.6,315.3ZM495.1,322.4 L499.0,326.6 L505.4,325.6 L506.2,324.5 L503.5,318.2 L496.8,318.8ZM711.7,322.4 L711.7,321.9 L707.9,318.2 L705.1,319.2 L704.3,322.1 L707.9,324.2ZM604.1,287.8 L609.5,290.1 L610.9,289.7 L613.0,285.2 L610.1,282.5 L605.9,282.6ZM534.6,300.0 L540.4,304.8 L543.7,303.0 L544.1,297.1 L542.6,296.1 L536.6,296.4ZM691.0,278.1 L689.2,274.5 L685.7,274.3 L684.2,275.3 L684.8,279.9 L687.0,280.8ZM761.8,302.9 L761.6,301.9 L757.5,301.6 L755.9,303.7 L757.9,305.7 L759.8,305.3 L760.1,305.1ZM604.7,276.1 L600.2,273.7 L594.4,276.8 L594.5,278.0 L599.1,281.3 L603.3,280.8ZM644.3,334.3 L638.8,333.7 L636.2,336.1 L638.1,340.5 L640.9,340.5 L645.3,337.0ZM621.8,344.2 L623.3,340.7 L622.8,340.1 L614.9,338.2 L614.4,338.6 L613.7,343.1 L617.5,345.4ZM748.9,287.7 L751.0,288.9 L754.9,287.9 L755.4,286.2 L753.0,284.3 L750.0,284.9ZM555.7,281.4 L553.6,285.0 L557.8,288.6 L564.9,287.1 L565.6,286.3 L564.8,283.7 L557.6,280.8ZM489.2,289.4 L490.1,284.5 L486.3,282.0 L479.9,283.6 L478.5,287.9 L482.6,291.8ZM583.4,326.8 L590.5,323.2 L589.2,319.5 L584.5,318.6 L579.9,322.8ZM708.1,275.0 L705.8,273.3 L702.8,273.4 L701.1,275.9 L702.4,278.2 L707.4,278.4 L708.0,277.9ZM558.3,321.5 L552.5,322.1 L550.5,324.8 L553.8,329.9 L559.7,330.2 L561.1,329.4 L562.4,324.5ZM668.4,279.6 L668.0,275.3 L667.3,274.8 L663.3,274.9 L661.0,276.5 L660.9,279.3 L665.9,281.2ZM713.8,287.3 L712.1,290.5 L713.4,292.6 L717.5,293.1 L719.3,291.2 L717.3,287.5 L714.9,287.0ZM710.8,295.3 L705.6,293.4 L703.1,296.6 L703.5,297.7 L706.9,298.9 L711.1,297.2ZM637.3,306.4 L634.3,308.5 L636.6,312.3 L643.2,312.4 L643.1,307.5ZM701.4,330.1 L696.1,328.6 L694.5,329.4 L694.1,331.5 L697.6,334.6 L700.9,333.7 L702.2,332.2ZM657.5,313.0 L657.2,317.2 L661.0,318.9 L666.0,315.0 L662.3,312.3ZM700.9,271.4 L702.1,268.5 L699.6,266.6 L695.4,268.4 L696.6,271.6ZM508.4,293.1 L505.4,297.7 L511.3,300.9 L516.2,299.6 L517.2,293.5 L516.8,293.1ZM654.5,283.5 L649.4,282.7 L646.5,285.8 L651.9,288.8 L654.3,287.5ZM666.9,290.7 L661.5,292.6 L662.8,297.1 L663.9,297.6 L667.7,297.0 L669.6,294.6 L667.6,290.9ZM615.4,327.4 L617.1,327.6 L622.1,324.9 L622.1,321.2 L615.8,320.4 L613.5,321.8ZM637.2,302.0 L635.5,300.5 L628.5,302.9 L631.7,308.2 L634.3,308.5 L637.3,306.4ZM694.6,278.7 L691.0,278.1 L687.0,280.8 L687.3,281.8 L693.1,284.1 L694.9,279.1ZM741.0,288.4 L744.9,287.1 L744.2,284.4 L740.2,284.1 L738.6,286.0ZM520.6,273.6 L520.7,269.4 L514.6,268.0 L514.5,267.9 L510.6,269.4 L511.1,274.6 L516.1,276.1ZM635.5,300.5 L637.2,302.0 L644.2,301.7 L646.3,299.3 L640.6,295.8 L635.6,298.1ZM617.0,295.8 L619.9,299.8 L625.2,300.0 L627.3,295.8 L625.3,293.7 L618.1,293.9ZM670.1,310.1 L674.3,311.3 L677.4,309.7 L676.4,305.5 L669.7,306.3 L668.8,308.1ZM718.2,324.4 L718.7,319.7 L715.6,319.1 L711.7,321.9 L711.7,322.4 L715.9,325.4ZM680.1,269.2 L684.4,269.8 L687.1,268.2 L685.9,264.0 L685.0,263.6 L680.5,264.1 L679.4,268.2ZM731.1,274.0 L733.5,273.8 L735.7,270.8 L733.9,269.1 L729.5,268.9 L728.8,272.4ZM760.2,298.0 L762.3,296.5 L760.9,294.0 L757.4,294.1 L756.6,295.2 L758.3,297.9ZM664.6,338.2 L666.5,341.0 L668.7,341.3 L673.4,339.7 L674.5,338.6 L674.4,338.4 L668.6,334.0ZM741.0,293.4 L743.0,295.1 L746.2,294.6 L747.2,292.6 L745.8,291.1 L741.6,291.3ZM657.7,324.6 L659.0,326.9 L664.9,327.3 L667.5,325.5 L666.8,322.6 L661.7,320.9ZM485.1,316.7 L484.7,317.3 L487.3,323.7 L495.1,322.4 L496.8,318.8 L493.9,315.4ZM648.7,297.3 L654.7,296.4 L655.4,293.6 L651.2,291.1 L647.7,292.6ZM675.6,321.2 L675.9,325.0 L677.5,326.0 L681.8,326.1 L682.5,325.7 L684.1,320.6 L676.8,320.2ZM631.3,266.5 L625.6,267.9 L625.3,268.3 L626.8,272.5 L632.4,273.3 L635.7,268.1ZM729.5,318.1 L730.9,320.0 L731.5,320.1 L735.4,319.2 L737.0,317.1 L735.9,315.8 L731.6,315.3ZM745.4,314.1 L746.1,313.5 L745.8,310.3 L741.9,309.0 L739.8,312.0 L743.1,314.6ZM575.8,282.6 L581.0,283.0 L584.4,280.5 L583.7,276.5 L583.2,276.2 L575.2,276.2 L573.1,278.9ZM652.9,302.7 L656.5,301.0 L657.1,298.5 L654.7,296.4 L648.7,297.3 L647.0,299.2ZM591.9,312.6 L598.1,311.5 L599.8,307.1 L593.8,305.1 L590.7,307.0 L591.5,312.3ZM583.5,335.8 L578.5,335.4 L576.4,337.2 L578.4,343.2 L583.9,343.4 L585.9,340.8ZM671.7,288.9 L672.2,285.4 L666.1,284.2 L663.9,285.9 L666.9,290.7 L667.6,290.9ZM731.5,311.4 L735.3,310.9 L736.1,307.2 L731.4,306.6 L729.7,309.0ZM693.1,284.1 L687.3,281.8 L684.7,285.8 L686.1,287.6 L692.2,286.6 L693.2,284.3ZM636.5,323.8 L638.3,328.1 L643.0,327.9 L646.0,324.4 L643.7,321.4ZM709.3,328.6 L712.7,328.2 L715.8,325.6 L715.9,325.4 L711.7,322.4 L707.9,324.2 L707.4,326.9ZM693.2,310.4 L695.5,311.8 L699.4,311.1 L701.4,308.2 L700.2,306.5 L697.7,305.8 L693.2,307.0ZM582.3,294.7 L586.5,296.2 L591.4,293.6 L591.7,291.6 L588.6,288.2 L583.2,288.5 L581.3,290.1ZM741.4,279.0 L741.5,279.7 L746.7,281.8 L747.2,281.3 L747.8,277.0 L746.8,276.2 L744.8,275.8ZM684.7,320.0 L684.6,320.3 L690.9,323.5 L692.3,323.1 L693.8,320.6 L691.7,317.1 L690.7,316.9ZM708.1,275.0 L708.0,277.9 L713.4,278.6 L715.3,276.0 L712.8,273.5ZM557.8,288.6 L556.4,293.0 L560.3,295.0 L566.3,292.9 L564.9,287.1ZM669.7,306.3 L668.3,303.5 L664.1,302.6 L661.3,304.0 L660.7,306.4 L663.5,308.7 L668.8,308.1ZM551.8,340.8 L554.6,346.8 L555.7,347.0 L561.6,343.5 L559.8,337.9 L554.2,338.3ZM757.1,290.2 L756.2,291.6 L757.4,294.1 L760.9,294.0 L762.5,292.1 L759.1,289.9ZM611.8,329.1 L611.1,331.4 L615.7,335.1 L621.5,332.6 L617.1,327.6 L615.4,327.4ZM559.2,301.1 L553.0,300.6 L549.9,303.9 L551.7,307.4 L559.6,307.6ZM746.6,282.2 L750.0,284.9 L753.0,284.3 L754.1,281.2 L753.3,280.5 L747.2,281.3 L746.7,281.8ZM650.5,317.9 L644.0,319.5 L643.7,321.4 L646.0,324.4 L650.2,325.0 L653.1,323.4 L652.5,318.8ZM702.4,278.2 L701.1,275.9 L696.7,275.7 L694.6,278.7 L694.9,279.1 L700.4,280.8ZM636.6,312.3 L634.3,315.7 L636.2,317.6 L642.4,318.0 L643.3,312.5 L643.2,312.4ZM717.3,287.5 L719.3,291.2 L723.3,290.8 L723.9,287.0 L721.2,285.5ZM649.4,282.7 L647.8,279.1 L642.3,279.3 L641.7,285.2 L644.8,286.2 L646.5,285.8ZM645.3,306.0 L643.1,307.5 L643.2,312.4 L643.3,312.5 L649.5,312.8 L650.3,312.1 L649.7,306.7ZM553.8,329.9 L550.2,333.3 L554.2,338.3 L559.8,337.9 L560.0,337.8 L559.7,330.2ZM655.9,311.9 L657.5,313.0 L662.3,312.3 L663.5,308.7 L660.7,306.4 L656.8,307.6ZM713.3,312.8 L716.7,309.3 L713.3,307.2 L710.6,307.9 L709.9,311.5ZM619.5,307.4 L612.0,310.0 L613.4,314.3 L615.4,315.2 L620.1,314.2 L620.9,307.9ZM573.8,310.6 L576.2,315.4 L582.4,315.2 L584.1,312.8 L582.0,308.9 L577.1,308.2ZM700.2,306.5 L701.4,308.2 L704.1,308.6 L707.7,306.6 L707.3,303.2 L703.2,303.2ZM673.0,274.9 L675.7,279.1 L677.4,279.0 L680.5,275.1 L677.9,272.5 L674.8,272.9ZM718.6,295.3 L717.5,293.1 L713.4,292.6 L710.8,295.3 L711.1,297.2 L713.4,298.5 L714.7,298.5ZM597.9,336.1 L595.6,335.7 L593.5,336.5 L591.6,340.0 L595.4,344.4 L597.8,344.0 L601.1,340.1ZM751.0,288.9 L751.3,292.1 L756.2,291.6 L757.1,290.2 L754.9,287.9ZM575.0,289.7 L572.8,286.6 L565.6,286.3 L564.9,287.1 L566.3,292.9 L570.8,294.8 L571.3,294.7ZM720.7,272.4 L722.4,272.2 L724.7,267.8 L721.5,266.3 L718.7,266.5 L717.8,270.5ZM590.7,307.0 L593.8,305.1 L593.6,301.3 L587.2,299.7 L584.3,302.4 L585.5,305.9ZM656.8,307.6 L660.7,306.4 L661.3,304.0 L656.5,301.0 L652.9,302.7 L652.2,305.5ZM746.8,288.1 L745.8,291.1 L747.2,292.6 L751.3,292.2 L751.3,292.1 L751.0,288.9 L748.9,287.7ZM680.2,280.8 L677.4,279.0 L675.7,279.1 L673.4,280.5 L673.4,284.7 L678.9,285.5 L679.8,285.1ZM533.6,308.2 L529.6,306.8 L525.3,308.3 L524.7,312.2 L529.9,315.4 L534.7,313.3ZM741.0,288.4 L738.6,286.0 L737.4,286.2 L734.7,289.0 L734.9,290.1 L735.7,290.6 L740.6,290.1ZM729.5,318.1 L726.3,317.7 L723.7,320.5 L724.7,322.3 L727.7,322.2 L728.6,321.9 L730.9,320.0ZM692.8,264.0 L692.9,267.6 L695.4,268.4 L699.6,266.6 L699.8,264.2 L699.4,263.9 L694.7,263.1ZM727.3,286.5 L723.9,287.0 L723.3,290.8 L724.9,291.8 L728.7,290.8 L729.0,287.3ZM561.1,329.4 L568.4,331.5 L572.4,329.2 L572.0,325.6 L567.5,323.2 L562.4,324.5ZM744.9,287.1 L746.8,288.1 L748.9,287.7 L750.0,284.9 L746.6,282.2 L744.2,284.4ZM549.4,317.5 L551.3,314.3 L549.1,310.8 L543.7,310.4 L539.2,314.6 L541.1,318.1ZM616.8,303.2 L619.5,307.4 L620.9,307.9 L620.9,307.9 L627.3,302.5 L625.2,300.0 L619.9,299.8ZM583.5,335.8 L586.7,333.6 L587.1,330.7 L583.4,327.3 L576.9,330.9 L578.5,335.4ZM721.2,285.5 L723.9,287.0 L727.3,286.5 L727.6,282.3 L724.9,281.7 L721.2,284.1ZM594.5,278.0 L589.4,282.0 L590.9,284.9 L596.8,285.2 L599.1,281.3ZM752.0,304.6 L751.8,306.3 L754.9,308.3 L757.2,307.3 L757.9,305.7 L755.9,303.7 L753.3,303.7ZM754.1,281.2 L753.0,284.3 L755.4,286.2 L759.3,285.1 L759.1,283.2 L756.1,281.3ZM476.1,297.2 L478.7,303.1 L485.7,303.0 L488.9,299.1 L482.1,293.8ZM479.9,283.6 L486.3,282.0 L486.9,277.0 L480.2,274.9 L474.5,279.4ZM737.0,317.1 L738.7,317.3 L742.2,315.9 L743.1,314.6 L739.8,312.0 L737.3,312.3 L735.9,315.8ZM657.4,342.8 L658.7,343.5 L663.7,343.2 L664.0,343.1 L666.5,341.0 L664.6,338.2 L660.9,337.5 L657.1,341.2ZM596.3,296.6 L601.1,294.1 L599.7,289.0 L591.7,291.6 L591.4,293.6ZM637.3,347.0 L637.4,347.0 L637.1,341.3 L630.4,341.7 L630.1,347.5 L631.8,347.9ZM660.9,337.5 L664.6,338.2 L668.6,334.0 L668.6,333.4 L665.5,331.8 L660.5,332.8 L659.2,334.9ZM713.4,292.6 L712.1,290.5 L707.0,290.2 L705.3,292.4 L705.6,293.4 L710.8,295.3ZM535.5,329.1 L542.1,328.8 L544.7,325.5 L540.1,320.2 L534.6,322.2 L535.0,328.7ZM713.3,312.8 L714.3,314.8 L719.5,314.3 L720.3,311.4 L717.9,309.2 L716.7,309.3ZM726.5,300.2 L726.5,300.2 L731.3,302.9 L733.2,302.1 L734.1,300.0 L733.5,298.9 L728.9,297.8ZM608.7,274.9 L609.7,270.0 L607.8,269.0 L601.6,269.3 L599.9,270.4 L600.2,273.7 L604.7,276.1ZM565.6,315.8 L561.0,315.8 L558.3,321.5 L562.4,324.5 L567.5,323.2 L568.8,318.2ZM748.6,307.9 L748.4,308.9 L751.8,311.2 L754.6,309.3 L754.9,308.3 L751.8,306.3ZM488.9,299.1 L485.7,303.0 L488.6,307.8 L493.0,308.5 L497.7,303.6 L491.4,298.7ZM740.3,302.9 L737.3,304.4 L736.6,306.9 L741.7,308.4 L743.4,305.9 L740.8,302.9ZM677.9,272.5 L680.5,275.1 L684.2,275.3 L685.7,274.3 L684.4,269.8 L680.1,269.2ZM690.8,297.0 L687.4,297.0 L685.7,300.6 L687.2,302.0 L691.8,302.0 L693.7,300.5ZM671.8,331.3 L668.6,333.4 L668.6,334.0 L674.4,338.4 L678.2,332.8 L676.2,331.5ZM485.1,316.7 L483.5,311.4 L477.2,309.7 L473.3,316.9 L474.9,319.0 L484.7,317.3ZM707.9,324.2 L704.3,322.1 L700.6,323.4 L700.2,324.3 L703.3,327.4 L707.4,326.9ZM690.1,268.8 L691.1,273.1 L695.2,273.2 L696.6,271.6 L695.4,268.4 L692.9,267.6ZM686.1,287.6 L685.7,289.6 L687.7,291.7 L691.9,291.9 L693.8,289.3 L692.2,286.6ZM673.5,300.3 L671.4,300.4 L668.3,303.5 L669.7,306.3 L676.4,305.5 L677.3,304.5ZM676.8,320.2 L684.1,320.6 L684.6,320.3 L684.7,320.0 L682.2,314.8 L681.8,314.6 L676.7,316.2ZM541.0,282.4 L537.8,287.6 L538.0,288.1 L543.9,290.3 L547.3,289.3 L549.3,286.0 L544.1,281.8ZM643.0,327.9 L638.3,328.1 L637.0,329.6 L638.8,333.7 L644.3,334.3 L646.5,331.7ZM674.4,338.4 L674.5,338.6 L678.6,339.5 L683.2,337.9 L683.6,337.4 L680.6,332.9 L678.2,332.8ZM599.8,307.1 L598.1,311.5 L603.0,315.3 L603.2,315.2 L607.5,308.8 L601.5,306.5ZM743.4,305.9 L745.9,305.6 L747.6,303.2 L747.4,302.5 L744.4,301.1 L740.8,302.9ZM699.4,311.1 L702.3,314.1 L706.2,313.5 L707.0,312.4 L704.1,308.6 L701.4,308.2ZM613.5,321.8 L615.8,320.4 L615.4,315.2 L613.4,314.3 L607.2,316.8 L608.9,321.4ZM645.4,271.8 L646.6,272.1 L653.1,270.1 L652.8,266.1 L648.2,265.2 L644.8,266.5ZM700.4,280.8 L694.9,279.1 L693.1,284.1 L693.2,284.3 L697.5,284.5 L700.6,281.4ZM651.9,288.8 L651.2,291.1 L655.4,293.6 L659.5,291.9 L658.6,288.7 L654.3,287.5ZM671.5,265.2 L672.0,267.2 L679.4,268.2 L680.5,264.1 L679.9,263.7 L675.6,263.3 L674.5,263.4ZM712.8,273.5 L715.3,276.0 L718.3,275.8 L720.7,272.4 L717.8,270.5 L713.3,271.2ZM731.4,306.6 L730.4,304.9 L725.2,305.1 L724.2,306.8 L725.6,309.1 L729.7,309.0ZM762.3,296.5 L764.5,296.7 L766.1,295.4 L765.4,292.9 L763.7,291.9 L762.5,292.1 L760.9,294.0ZM611.6,350.4 L608.2,345.0 L603.0,347.0 L602.3,351.0 L603.1,351.6 L609.1,351.9 L609.3,351.9ZM649.5,312.8 L650.5,317.9 L652.5,318.8 L657.2,317.2 L657.5,313.0 L655.9,311.9 L650.3,312.1ZM756.6,295.2 L757.4,294.1 L756.2,291.6 L751.3,292.1 L751.3,292.2 L752.2,295.6 L752.9,295.9ZM698.9,289.5 L699.7,291.0 L705.3,292.4 L707.0,290.2 L706.2,287.9 L703.2,286.7 L700.2,287.5ZM584.5,318.6 L589.2,319.5 L592.5,316.9 L591.9,312.6 L591.5,312.3 L584.1,312.8 L582.4,315.2ZM653.6,335.0 L659.2,334.9 L660.5,332.8 L657.7,329.1 L651.3,330.7 L651.2,330.9ZM495.3,311.7 L493.0,308.5 L488.6,307.8 L483.5,311.4 L485.1,316.7 L493.9,315.4ZM506.2,324.5 L514.0,322.5 L510.6,315.8 L506.3,315.5 L503.5,318.2ZM520.4,301.8 L520.4,305.8 L525.3,308.3 L529.6,306.8 L529.8,301.2 L526.3,299.6ZM520.6,273.6 L526.0,276.0 L530.2,274.1 L530.8,270.1 L528.5,268.6 L521.5,268.9 L520.7,269.4ZM664.1,302.6 L668.3,303.5 L671.4,300.4 L667.7,297.0 L663.9,297.6ZM535.7,279.1 L541.0,282.4 L544.1,281.8 L547.0,277.5 L541.0,273.6 L535.6,277.0ZM750.8,277.1 L747.8,277.0 L747.2,281.3 L753.3,280.5 L753.2,279.4ZM748.0,297.7 L744.3,299.0 L744.4,301.1 L747.4,302.5 L750.0,300.1ZM679.9,291.3 L682.1,295.2 L685.7,295.4 L687.7,291.7 L685.7,289.6ZM646.5,285.8 L644.8,286.2 L644.5,291.7 L647.7,292.6 L651.2,291.1 L651.9,288.8ZM733.4,283.8 L737.4,286.2 L738.6,286.0 L740.2,284.1 L739.3,281.9 L735.4,281.5 L733.3,283.4ZM629.0,340.7 L630.4,341.7 L637.1,341.3 L638.1,340.5 L636.2,336.1 L630.9,335.5ZM692.3,323.1 L690.9,323.5 L689.1,326.8 L689.4,327.4 L694.5,329.4 L696.1,328.6 L696.9,325.6ZM658.6,288.7 L662.0,286.0 L657.1,281.9 L654.5,283.5 L654.3,287.5ZM591.2,270.8 L591.5,274.8 L594.4,276.8 L600.2,273.7 L599.9,270.4 L595.7,269.3 L594.9,269.4ZM735.7,290.6 L736.8,294.4 L741.0,293.4 L741.6,291.3 L740.6,290.1ZM724.9,291.8 L725.0,294.5 L728.6,296.0 L731.2,294.2 L730.9,291.8 L728.7,290.8ZM700.2,317.1 L702.3,314.1 L699.4,311.1 L695.5,311.8 L695.3,315.3ZM525.9,340.0 L527.8,335.6 L524.7,332.4 L518.7,333.3 L516.9,337.2 L519.6,339.5 L520.2,339.7ZM601.6,329.0 L594.8,328.9 L595.6,335.7 L597.9,336.1 L603.8,332.9ZM736.8,276.6 L736.8,276.6 L740.8,273.3 L740.4,272.6 L737.1,270.8 L735.7,270.8 L733.5,273.8ZM666.5,315.0 L669.0,316.4 L674.5,314.9 L674.3,311.3 L670.1,310.1ZM720.9,278.3 L722.9,278.4 L725.2,276.9 L724.6,273.3 L722.4,272.2 L720.7,272.4 L718.3,275.8ZM726.3,317.7 L724.7,315.5 L721.0,315.6 L719.5,319.4 L723.7,320.5ZM622.3,315.2 L622.8,320.7 L628.0,320.5 L630.3,315.7 L627.9,314.1ZM696.9,325.6 L696.1,328.6 L701.4,330.1 L703.3,327.4 L700.2,324.3ZM719.5,314.3 L721.0,315.6 L724.7,315.5 L726.2,313.4 L724.5,310.9 L720.3,311.4ZM620.4,287.5 L617.2,291.8 L618.1,293.9 L625.3,293.7 L626.3,290.2 L623.3,287.6ZM677.5,326.0 L675.9,325.0 L670.6,326.5 L671.8,331.3 L676.2,331.5ZM763.4,287.7 L761.3,287.1 L759.1,289.9 L762.5,292.1 L763.7,291.9 L764.7,290.2 L764.7,290.1ZM707.6,282.3 L703.8,283.2 L703.2,286.7 L706.2,287.9 L709.4,285.7 L708.9,283.0ZM564.8,283.7 L568.5,279.0 L564.3,275.3 L560.0,276.4 L557.6,280.8ZM752.2,295.6 L751.3,292.2 L747.2,292.6 L746.2,294.6 L748.3,296.8ZM721.2,284.1 L724.9,281.7 L722.9,278.4 L720.9,278.3 L717.6,281.5ZM547.3,289.3 L543.9,290.3 L542.6,296.1 L544.1,297.1 L550.7,296.7 L552.8,293.8ZM751.8,311.4 L751.8,311.2 L748.4,308.9 L745.8,310.3 L746.1,313.5 L749.2,313.4 L749.6,313.3ZM528.6,320.3 L528.7,320.3 L529.9,315.4 L524.7,312.2 L519.2,314.4 L520.8,319.0ZM615.6,277.4 L613.5,277.6 L610.1,282.5 L613.0,285.2 L617.6,284.8 L619.4,281.3ZM722.3,298.3 L718.8,301.2 L718.9,302.4 L724.3,303.2 L726.5,300.2 L726.5,300.2ZM697.2,335.1 L697.6,334.6 L694.1,331.5 L689.3,333.6 L689.2,335.9 L692.5,336.7 L694.0,336.4ZM654.5,283.5 L657.1,281.9 L657.3,281.5 L652.4,277.1 L649.6,277.3 L647.8,279.1 L649.4,282.7ZM597.8,344.0 L603.0,347.0 L608.2,345.0 L608.2,345.0 L605.2,340.1 L601.1,340.1ZM635.7,268.1 L632.4,273.3 L633.4,274.5 L640.3,275.0 L642.1,272.7 L635.8,268.0ZM702.8,273.4 L700.9,271.4 L696.6,271.6 L695.2,273.2 L696.7,275.7 L701.1,275.9ZM577.1,308.2 L582.0,308.9 L585.5,305.9 L584.3,302.4 L577.6,301.4 L575.7,303.0ZM719.5,319.4 L718.7,319.7 L718.2,324.4 L720.4,324.7 L724.1,323.3 L724.7,322.3 L723.7,320.5ZM641.7,285.2 L642.3,279.3 L641.3,278.7 L634.7,280.5 L634.6,283.6 L639.9,285.6ZM683.0,331.2 L686.7,331.3 L689.4,327.4 L689.1,326.8 L682.5,325.7 L681.8,326.1ZM756.3,299.6 L758.3,297.9 L756.6,295.2 L752.9,295.9 L753.8,299.3ZM626.7,283.6 L625.4,280.8 L619.4,281.3 L617.6,284.8 L620.4,287.5 L623.3,287.6ZM591.5,274.8 L591.2,270.8 L589.1,269.8 L588.6,269.8 L583.0,270.6 L583.2,276.2 L583.7,276.5ZM640.6,295.8 L646.3,299.3 L647.0,299.2 L648.7,297.3 L647.7,292.6 L644.5,291.7 L641.2,292.8ZM673.4,280.5 L675.7,279.1 L673.0,274.9 L668.0,275.3 L668.4,279.6ZM738.6,299.8 L734.1,300.0 L733.2,302.1 L737.3,304.4 L740.3,302.9ZM728.7,290.8 L730.9,291.8 L734.9,290.1 L734.7,289.0 L731.1,286.9 L729.0,287.3ZM631.6,330.1 L628.2,327.5 L627.1,327.5 L622.0,332.7 L623.9,334.2 L630.1,334.6ZM705.8,273.3 L707.8,269.6 L706.2,268.1 L702.1,268.5 L700.9,271.4 L702.8,273.4ZM707.0,312.4 L709.9,311.5 L710.6,307.9 L707.7,306.6 L704.1,308.6ZM731.1,286.9 L733.4,283.8 L733.3,283.4 L728.7,281.9 L727.6,282.3 L727.3,286.5 L729.0,287.3ZM750.0,300.1 L747.4,302.5 L747.6,303.2 L752.0,304.6 L753.3,303.7 L752.1,300.3ZM604.9,295.4 L603.8,301.2 L610.7,302.2 L612.0,296.9 L607.8,294.6ZM714.8,281.6 L708.9,283.0 L709.4,285.7 L713.8,287.3 L714.9,287.0 L715.0,281.7ZM638.1,340.5 L637.1,341.3 L637.4,347.0 L643.0,346.7 L645.7,344.7 L640.9,340.5ZM530.7,282.2 L535.7,279.1 L535.6,277.0 L530.2,274.1 L526.0,276.0 L525.6,280.2ZM703.2,303.2 L707.3,303.2 L707.4,303.1 L706.9,298.9 L703.5,297.7 L700.8,300.7ZM713.4,298.5 L711.7,302.6 L714.1,304.3 L718.1,303.4 L718.9,302.4 L718.8,301.2 L714.7,298.5ZM566.5,344.8 L561.6,343.5 L555.7,347.0 L558.5,349.9 L559.7,350.2 L565.3,350.4 L566.5,349.7ZM764.5,296.7 L762.3,296.5 L760.2,298.0 L762.2,301.2 L763.8,300.8 L764.9,298.9 L765.2,298.0ZM458.1,274.0 L450.5,274.7 L445.8,279.4 L445.7,279.6 L446.3,280.1 L457.7,283.2 L460.9,279.8ZM469.4,271.4 L464.3,270.8 L458.1,273.9 L458.1,274.0 L460.9,279.8 L469.4,280.0 L470.6,279.3ZM474.5,279.4 L480.2,274.9 L478.8,270.1 L471.7,270.0 L469.4,271.4 L470.6,279.3ZM445.7,279.6 L438.6,281.8 L435.4,286.5 L435.5,286.7 L442.3,289.1 L446.6,287.8 L449.8,289.0 L457.2,287.1 L457.8,286.6 L457.7,283.2 L446.3,280.1ZM469.4,280.0 L460.9,279.8 L457.7,283.2 L457.8,286.6 L464.8,288.9 L469.7,287.5ZM472.1,288.6 L478.5,287.9 L479.9,283.6 L474.5,279.4 L470.6,279.3 L469.4,280.0 L469.7,287.5ZM432.9,290.3 L434.0,295.1 L442.2,294.7 L444.8,296.5 L449.8,294.3 L457.2,296.5 L457.7,296.9 L464.8,295.8 L468.8,297.2 L471.9,296.5 L476.1,297.2 L482.1,293.8 L482.6,291.8 L478.5,287.9 L472.1,288.6 L469.7,287.5 L464.8,288.9 L457.8,286.6 L457.2,287.1 L449.8,289.0 L446.6,287.8 L442.3,289.1 L435.5,286.7ZM442.2,294.7 L434.0,295.1 L433.5,295.8 L435.0,301.5 L443.4,302.0 L444.8,301.4 L449.5,303.0 L455.9,302.3 L457.7,296.9 L457.2,296.5 L449.8,294.3 L444.8,296.5ZM464.8,295.8 L457.7,296.9 L455.9,302.3 L458.6,304.7 L467.0,305.9 L468.8,297.2ZM468.8,297.2 L467.0,305.9 L467.7,306.5 L475.2,307.1 L478.7,303.1 L476.1,297.2 L471.9,296.5ZM440.6,309.4 L443.4,302.0 L435.0,301.5 L434.6,301.8 L434.8,303.5 L438.2,308.6ZM441.0,310.0 L448.4,310.5 L449.5,303.0 L444.8,301.4 L443.4,302.0 L440.6,309.4ZM449.6,311.4 L455.4,311.6 L458.6,304.7 L455.9,302.3 L449.5,303.0 L448.4,310.5ZM467.7,306.5 L467.0,305.9 L458.6,304.7 L455.4,311.6 L457.7,313.9 L465.3,313.9ZM465.9,314.6 L473.3,316.9 L477.2,309.7 L475.2,307.1 L467.7,306.5 L465.3,313.9ZM440.4,311.3 L447.8,315.8 L449.6,311.4 L448.4,310.5 L441.0,310.0ZM455.7,318.2 L457.7,313.9 L455.4,311.6 L449.6,311.4 L447.8,315.8 L447.8,315.8 L454.4,318.5ZM465.9,314.6 L465.3,313.9 L457.7,313.9 L455.7,318.2 L457.8,319.8 L462.1,320.9 L463.4,320.7ZM464.7,321.5 L468.9,322.6 L474.0,322.0 L474.9,319.0 L473.3,316.9 L465.9,314.6 L463.4,320.7Z" fill="none" stroke="#b8b8b8" stroke-width="0.45"/>
<path d="M510.6,307.6 L509.6,307.6 L506.8,308.3 L506.3,308.5 L506.0,309.0 L505.1,310.6 L505.0,311.3 L505.2,311.9 L506.4,314.1 L506.9,314.5 L507.5,314.7 L510.0,314.9 L510.8,314.8 L513.6,313.3 L514.2,312.6 L514.3,311.8 L513.9,309.8 L513.6,309.2 L513.1,308.8Z" fill="#548235"/>
<path d="M552.5,315.1 L551.9,315.3 L551.4,315.8 L550.8,316.7 L550.6,317.4 L550.9,318.2 L552.5,320.5 L553.0,321.0 L553.8,321.2 L557.0,320.8 L557.6,320.6 L558.1,320.0 L559.5,317.0 L559.6,316.4 L559.5,315.8 L559.1,315.3 L559.0,315.3 L558.1,315.0Z" fill="#ed7d31"/>
<path d="M639.7,267.1 L639.0,267.5 L638.7,268.2 L638.7,269.0 L639.2,269.6 L641.7,271.5 L642.3,271.7 L642.9,271.7 L643.4,271.5 L644.0,271.2 L644.4,270.7 L644.4,270.1 L644.2,267.9 L643.9,267.2 L643.3,266.8 L643.0,266.6 L642.2,266.6Z" fill="#ffc000"/>
<path d="M514.0,283.2 L513.6,283.7 L513.4,284.4 L513.5,285.0 L514.0,285.6 L517.1,287.6 L517.8,287.8 L518.5,287.7 L520.4,286.8 L521.0,286.2 L521.2,285.4 L521.1,283.5 L520.8,282.8 L520.1,282.3 L517.8,281.5 L517.2,281.5 L516.6,281.7Z" fill="#ed7d31"/>
<path d="M709.4,303.6 L708.7,303.8 L708.3,304.4 L708.2,305.1 L708.2,305.4 L708.5,306.0 L709.0,306.5 L710.2,307.0 L711.2,307.1 L712.0,306.9 L712.6,306.5 L712.9,305.9 L713.0,305.6 L713.0,304.7 L712.5,304.0 L711.9,303.6 L711.0,303.4Z" fill="#548235"/>
<path d="M641.5,274.6 L641.3,275.2 L641.3,275.9 L641.7,277.5 L642.0,278.0 L642.5,278.4 L643.1,278.5 L647.0,278.3 L647.9,277.9 L647.9,277.9 L648.2,277.4 L648.3,276.8 L648.1,276.2 L646.4,273.3 L646.0,272.9 L645.4,272.7 L644.8,272.7 L643.0,273.2 L642.3,273.7Z" fill="#ed7d31"/>
<path d="M643.4,339.5 L642.9,340.1 L642.9,340.9 L643.3,341.6 L645.5,343.5 L646.5,343.9 L646.5,343.9 L647.3,343.6 L647.8,342.8 L648.5,340.3 L648.6,339.7 L648.2,339.0 L647.7,338.6 L646.2,338.1 L645.5,338.0 L644.9,338.3Z" fill="#548235"/>
<path d="M605.7,332.6 L606.6,332.5 L609.5,331.2 L610.0,330.8 L610.3,330.0 L610.1,329.3 L609.6,328.8 L606.0,326.7 L605.4,326.5 L604.8,326.6 L604.2,327.0 L603.2,328.3 L602.8,329.1 L603.0,329.9 L604.1,331.7 L604.9,332.4Z" fill="#1fb8c6"/>
<path d="M654.9,266.1 L654.2,266.3 L653.8,266.9 L653.6,267.6 L653.7,268.9 L653.9,269.6 L654.4,270.0 L655.0,270.4 L655.5,270.6 L656.1,270.5 L660.0,269.6 L660.7,269.1 L661.1,268.7 L661.4,268.1 L661.4,267.5 L661.3,267.2 L661.0,266.6 L660.4,266.2 L659.3,265.7 L658.6,265.6Z" fill="#548235"/>
<path d="M688.2,314.8 L687.6,314.3 L686.7,314.3 L684.9,314.8 L684.2,315.2 L683.8,316.0 L684.0,316.8 L684.4,317.7 L684.9,318.3 L685.6,318.5 L686.3,318.4 L688.2,317.4 L688.7,316.9 L688.9,316.1 L688.6,315.3Z" fill="#1fb8c6"/>
<path d="M721.3,303.4 L720.6,303.5 L720.0,304.0 L719.7,304.7 L719.9,305.4 L719.9,305.5 L720.4,306.0 L721.2,306.2 L721.2,306.2 L721.9,306.0 L722.4,305.5 L722.6,304.9 L722.5,304.2 L722.0,303.7 L721.4,303.4Z" fill="#ffc000"/>
<path d="M562.4,330.7 L561.7,330.6 L561.1,330.9 L560.7,331.4 L560.6,332.1 L560.8,335.4 L561.0,336.1 L561.6,336.6 L562.3,336.7 L566.4,336.3 L567.1,336.0 L567.5,335.5 L567.7,334.8 L567.6,333.2 L567.3,332.4 L566.6,331.9Z" fill="#c00000"/>
<path d="M579.1,344.0 L578.3,344.3 L577.3,344.9 L576.8,345.4 L576.7,346.1 L576.7,348.6 L577.0,349.3 L577.5,349.8 L578.3,350.2 L579.0,350.3 L582.9,350.1 L583.7,349.8 L584.2,349.1 L584.8,347.1 L584.9,346.4 L584.7,345.8 L583.9,344.7 L583.4,344.3 L582.8,344.1Z" fill="#548235"/>
<path d="M724.1,270.4 L724.0,271.2 L724.3,271.9 L724.9,272.3 L725.7,272.4 L727.4,272.0 L728.1,271.6 L728.4,270.9 L728.5,270.5 L728.4,269.9 L728.1,269.3 L727.5,269.0 L726.3,268.6 L725.7,268.6 L725.1,268.8 L724.7,269.3Z" fill="#548235"/>
<path d="M754.8,300.0 L754.1,300.1 L753.6,300.6 L753.3,301.2 L753.3,301.9 L753.4,302.1 L753.9,302.8 L754.7,303.0 L754.9,303.0 L755.5,302.9 L756.0,302.5 L756.1,302.3 L756.4,301.7 L756.3,300.9 L755.8,300.4 L755.2,300.1Z" fill="#ffc000"/>
<path d="M638.9,289.0 L638.7,289.7 L638.9,290.4 L639.4,290.9 L640.8,291.7 L641.3,291.9 L641.9,291.8 L642.9,291.5 L643.6,291.0 L643.9,290.2 L644.0,287.8 L643.9,287.2 L643.5,286.7 L643.0,286.4 L642.1,286.1 L641.3,286.1 L641.0,286.1 L640.5,286.4 L640.1,286.8Z" fill="#ffc000"/>
<path d="M597.9,296.7 L597.4,297.1 L597.2,297.7 L597.2,298.4 L597.6,298.9 L598.1,299.2 L601.6,300.3 L602.4,300.3 L603.1,299.9 L603.4,299.2 L603.8,297.1 L603.8,296.5 L603.4,295.9 L602.9,295.6 L601.8,295.2 L601.2,295.1 L600.7,295.2Z" fill="#ed7d31"/>
<path d="M628.4,347.1 L629.1,346.7 L629.4,345.8 L629.6,342.9 L629.4,342.2 L628.9,341.7 L628.2,341.5 L624.7,341.5 L624.0,341.7 L623.5,342.3 L623.1,343.0 L623.0,343.9 L623.5,344.6 L626.2,347.1 L626.8,347.4 L627.5,347.4Z" fill="#548235"/>
<path d="M660.2,278.1 L659.9,277.2 L659.2,276.7 L656.3,275.7 L655.6,275.7 L655.0,276.0 L654.8,276.1 L654.4,276.7 L654.4,277.5 L654.8,278.2 L656.6,279.9 L657.4,280.3 L658.3,280.1 L659.5,279.3 L660.0,278.8 L660.2,278.2Z" fill="#548235"/>
<path d="M732.6,311.9 L732.0,312.2 L731.5,312.7 L731.4,313.4 L731.6,314.1 L731.6,314.1 L732.1,314.5 L732.7,314.7 L734.4,314.9 L735.3,314.8 L735.9,314.1 L736.1,313.6 L736.2,313.0 L736.0,312.4 L735.6,311.9 L735.5,311.9 L734.6,311.7Z" fill="#ffc000"/>
<path d="M671.0,284.5 L671.8,284.4 L672.4,283.9 L672.7,283.1 L672.7,282.3 L672.5,281.7 L672.1,281.2 L671.5,280.9 L669.1,280.4 L668.0,280.6 L667.3,281.1 L666.9,281.6 L666.7,282.3 L666.7,282.5 L666.9,283.1 L667.3,283.5 L667.8,283.8Z" fill="#548235"/>
<path d="M708.5,312.7 L708.0,313.0 L707.6,313.5 L707.6,314.1 L707.8,314.7 L708.2,315.5 L708.9,316.0 L709.7,316.1 L711.7,315.7 L712.3,315.3 L712.7,314.7 L712.7,314.0 L712.4,313.4 L711.8,313.0 L710.3,312.4 L709.4,312.4Z" fill="#ed7d31"/>
<path d="M573.8,276.6 L574.1,276.0 L574.0,275.3 L573.2,273.0 L572.8,272.4 L572.2,272.1 L569.8,271.5 L569.1,271.6 L567.2,272.1 L566.6,272.4 L566.3,272.9 L565.7,274.2 L565.6,275.0 L566.1,275.8 L568.4,277.9 L569.4,278.2 L572.0,278.1 L572.6,278.0 L573.1,277.6Z" fill="#1fb8c6"/>
<path d="M528.0,329.3 L527.2,329.6 L526.7,330.2 L526.1,331.4 L526.0,332.2 L526.4,333.0 L527.6,334.2 L528.1,334.6 L528.8,334.6 L532.8,334.2 L533.6,333.9 L534.0,333.1 L534.3,331.1 L534.2,330.3 L533.7,329.7 L533.0,329.5Z" fill="#1fb8c6"/>
<path d="M669.6,293.2 L670.1,293.7 L670.8,293.9 L673.1,293.9 L673.7,293.8 L674.3,293.3 L674.5,292.9 L674.8,292.1 L674.6,291.4 L674.0,290.8 L672.3,290.0 L671.7,289.9 L671.1,290.0 L669.9,290.6 L669.3,291.0 L669.1,291.8 L669.3,292.5Z" fill="#ffc000"/>
<path d="M493.7,297.5 L493.3,298.2 L493.4,298.9 L493.9,299.5 L497.5,302.4 L498.5,302.6 L499.0,302.6 L499.5,302.4 L499.9,302.1 L501.9,299.6 L502.2,298.8 L502.1,298.0 L501.4,297.5 L497.0,295.3 L496.1,295.2 L495.4,295.7Z" fill="#ed7d31"/>
<path d="M633.4,277.3 L633.4,278.1 L633.8,278.8 L634.3,279.2 L634.9,279.5 L635.6,279.4 L639.0,278.5 L639.6,278.1 L640.0,277.5 L640.0,276.8 L639.9,276.7 L639.5,276.0 L638.7,275.7 L635.0,275.4 L634.4,275.5 L633.9,275.9 L633.6,276.4Z" fill="#548235"/>
<path d="M729.1,296.2 L729.3,297.4 L733.2,298.4 L734.7,295.7 L731.3,294.7Z" fill="#548235"/>
<path d="M583.9,308.3 L583.5,308.8 L583.4,309.4 L583.6,310.0 L584.1,311.1 L584.7,311.7 L585.5,311.9 L589.0,311.7 L589.8,311.4 L590.2,310.8 L590.3,310.1 L590.1,308.7 L589.8,307.9 L589.0,307.5 L586.4,306.9 L585.7,306.9 L585.2,307.2Z" fill="#548235"/>
<path d="M643.3,316.9 L643.4,317.6 L643.8,318.2 L644.4,318.5 L645.1,318.5 L648.3,317.6 L649.0,317.3 L649.3,316.7 L649.4,316.0 L649.1,314.6 L648.8,314.0 L648.4,313.6 L647.8,313.4 L645.2,313.3 L644.5,313.5 L644.0,313.9 L643.7,314.5Z" fill="#548235"/>
<path d="M620.3,320.2 L621.1,320.1 L621.7,319.5 L621.9,318.7 L621.7,316.5 L621.4,315.9 L620.9,315.4 L620.4,315.2 L619.5,315.1 L617.4,315.5 L616.8,315.8 L616.4,316.4 L616.3,317.0 L616.5,318.6 L616.7,319.2 L617.1,319.6 L617.7,319.9Z" fill="#ed7d31"/>
<path d="M744.5,306.4 L743.8,306.7 L743.4,307.3 L743.3,308.0 L743.7,308.7 L744.3,309.1 L745.2,309.4 L745.7,309.4 L746.2,309.3 L746.3,309.3 L746.8,308.8 L747.0,308.2 L746.9,307.5 L746.5,307.0 L746.2,306.6 L745.7,306.4 L745.1,306.3Z" fill="#ed7d31"/>
<path d="M573.7,325.6 L573.1,326.2 L573.0,327.0 L573.1,327.8 L573.4,328.5 L574.0,328.9 L576.3,329.8 L576.9,329.8 L577.4,329.7 L580.9,327.8 L581.5,327.2 L581.6,326.4 L581.3,325.6 L579.8,324.0 L579.0,323.5 L578.3,323.4 L577.4,323.6Z" fill="#ed7d31"/>
<path d="M512.0,286.3 L511.1,286.0 L510.3,286.4 L507.9,288.5 L507.5,289.0 L507.5,289.7 L507.7,290.3 L508.5,291.6 L509.0,292.1 L509.7,292.2 L515.0,292.2 L515.6,292.1 L516.1,291.7 L516.4,291.1 L516.5,290.3 L516.5,289.5 L515.9,288.9Z" fill="#548235"/>
<path d="M567.4,314.5 L567.2,315.1 L567.3,315.8 L567.7,316.4 L568.6,317.0 L569.6,317.2 L573.4,316.8 L574.3,316.3 L574.6,316.0 L574.9,315.2 L574.8,314.5 L573.6,312.1 L573.2,311.5 L572.5,311.3 L570.5,311.1 L569.7,311.2 L569.2,311.7Z" fill="#ed7d31"/>
<path d="M643.9,303.6 L643.6,303.0 L643.1,302.6 L642.5,302.5 L639.4,302.6 L638.7,302.8 L638.2,303.4 L638.0,304.1 L638.1,304.7 L638.2,305.3 L638.6,305.8 L639.2,306.0 L642.3,306.6 L643.4,306.4 L643.6,306.2 L644.1,305.6 L644.2,304.7Z" fill="#ffc000"/>
<path d="M661.1,293.9 L660.8,293.3 L660.3,293.0 L660.0,292.9 L659.0,292.9 L656.7,293.9 L656.1,294.3 L655.8,294.9 L655.7,295.4 L655.8,296.1 L656.2,296.7 L656.7,297.2 L657.3,297.6 L658.0,297.6 L660.5,297.0 L661.1,296.6 L661.5,296.0 L661.5,295.2Z" fill="#ffc000"/>
<path d="M666.4,327.2 L665.9,327.8 L665.8,328.5 L666.1,330.6 L666.3,331.3 L666.8,331.7 L667.8,332.2 L668.5,332.3 L669.2,332.1 L670.1,331.5 L670.7,330.8 L670.7,330.0 L670.2,327.8 L669.8,327.2 L669.3,326.8 L668.3,326.5 L667.7,326.5 L667.1,326.7Z" fill="#ffc000"/>
<path d="M519.6,303.1 L519.4,302.4 L518.8,301.9 L516.6,300.7 L515.6,300.6 L512.9,301.4 L512.2,301.8 L511.9,302.5 L511.4,305.0 L511.4,305.6 L511.7,306.1 L512.2,306.5 L513.9,307.3 L514.5,307.4 L515.1,307.3 L518.7,305.7 L519.4,305.1 L519.6,304.4Z" fill="#ffc000"/>
<path d="M626.4,292.7 L626.4,293.4 L626.7,294.0 L627.2,294.5 L627.6,294.8 L628.2,294.9 L630.9,294.8 L631.6,294.6 L632.1,294.0 L632.9,292.2 L633.0,291.5 L632.8,290.9 L632.4,290.4 L632.0,290.2 L631.5,289.9 L630.9,290.0 L627.7,290.7 L627.1,291.0 L626.7,291.7Z" fill="#ffc000"/>
<path d="M550.4,286.6 L549.9,286.8 L549.5,287.2 L549.0,288.1 L548.8,288.7 L548.9,289.4 L549.3,289.9 L552.5,292.5 L553.0,292.8 L553.7,292.8 L555.0,292.5 L555.6,292.1 L556.0,291.5 L556.6,289.8 L556.6,289.0 L556.2,288.3 L553.9,286.4 L553.3,286.1 L552.7,286.1Z" fill="#ffc000"/>
<path d="M527.4,294.7 L527.0,295.2 L526.9,295.9 L527.1,298.2 L527.3,298.9 L527.9,299.4 L529.5,300.1 L530.4,300.2 L533.4,299.4 L533.9,299.2 L534.3,298.8 L535.1,297.3 L535.2,296.5 L534.9,295.8 L534.0,294.8 L533.1,294.3 L529.1,293.8 L528.5,293.9 L528.0,294.1Z" fill="#ffc000"/>
<path d="M688.1,264.1 L687.5,264.5 L687.2,265.1 L687.2,265.9 L687.4,266.8 L687.8,267.4 L688.5,267.8 L689.6,268.0 L690.4,267.9 L691.3,267.5 L691.9,267.0 L692.2,266.2 L692.1,265.5 L691.9,264.7 L691.2,264.2 L690.1,263.8 L689.3,263.8Z" fill="#548235"/>
<path d="M619.9,327.0 L619.3,327.6 L619.1,328.4 L619.5,329.1 L620.8,330.7 L621.5,331.1 L622.2,331.1 L622.9,330.7 L624.5,329.1 L624.8,328.5 L624.9,327.9 L624.6,327.3 L624.1,326.9 L622.8,326.1 L622.1,326.0 L621.5,326.1Z" fill="#548235"/>
<path d="M536.4,286.3 L537.0,286.4 L537.5,286.2 L538.0,285.7 L539.1,283.8 L539.3,283.1 L539.1,282.4 L538.7,281.9 L536.4,280.5 L535.7,280.3 L535.0,280.5 L532.4,282.1 L531.9,282.7 L531.8,283.6 L531.9,284.2 L532.2,284.9 L532.9,285.3Z" fill="#1fb8c6"/>
<path d="M699.4,283.6 L699.0,284.2 L699.0,284.9 L699.3,285.5 L699.8,286.1 L700.5,286.5 L701.2,286.5 L701.7,286.4 L702.4,286.0 L702.7,285.3 L702.9,284.5 L702.7,283.7 L702.1,283.1 L701.6,282.8 L700.7,282.6 L700.0,283.0Z" fill="#548235"/>
<path d="M664.0,269.6 L663.2,269.6 L662.6,270.1 L662.3,270.8 L662.4,271.6 L663.3,273.4 L663.8,273.9 L664.6,274.1 L665.5,274.1 L666.1,274.0 L666.6,273.6 L666.9,273.0 L667.1,271.7 L667.1,271.1 L666.7,270.5 L666.1,270.1Z" fill="#ffc000"/>
<path d="M536.5,295.0 L537.0,295.4 L537.6,295.5 L540.8,295.3 L541.7,295.0 L542.1,294.2 L542.6,292.0 L542.6,291.3 L542.3,290.8 L541.8,290.4 L539.3,289.5 L538.7,289.4 L538.1,289.5 L537.7,290.0 L535.8,292.6 L535.6,293.2 L535.6,293.8 L535.9,294.3Z" fill="#ffc000"/>
<path d="M714.9,280.1 L715.4,280.7 L716.2,280.9 L716.8,280.9 L717.7,280.5 L718.9,279.3 L719.2,278.7 L719.2,277.9 L718.9,277.3 L718.4,276.9 L718.0,276.6 L717.4,276.5 L716.3,276.6 L715.7,276.8 L715.3,277.2 L714.7,278.0 L714.4,278.7 L714.5,279.4Z" fill="#ed7d31"/>
<path d="M543.0,318.8 L542.2,319.1 L541.8,319.7 L541.7,320.5 L542.0,321.2 L544.5,324.1 L545.1,324.5 L545.8,324.5 L549.4,324.1 L550.0,323.9 L550.4,323.5 L550.9,322.9 L551.2,322.1 L550.9,321.3 L549.5,319.0 L548.9,318.6 L548.2,318.4Z" fill="#ffc000"/>
<path d="M725.9,302.2 L725.6,302.9 L725.8,303.7 L726.3,304.2 L727.1,304.4 L727.3,304.4 L728.0,304.2 L728.4,303.7 L728.6,303.0 L728.4,302.3 L727.9,301.8 L727.8,301.7 L727.1,301.5 L726.5,301.7 L726.0,302.1Z" fill="#ffc000"/>
<path d="M509.9,270.9 L509.6,270.2 L509.0,269.7 L507.8,269.2 L507.0,269.1 L502.5,269.9 L502.0,270.1 L501.6,270.6 L501.4,271.2 L501.3,272.1 L501.5,272.9 L502.1,273.4 L506.3,275.5 L506.9,275.6 L507.6,275.5 L509.3,274.5 L509.9,274.0 L510.1,273.2Z" fill="#1fb8c6"/>
<path d="M605.8,281.6 L606.6,281.8 L609.0,281.8 L609.6,281.6 L610.1,281.2 L611.5,279.1 L611.7,278.4 L611.5,277.7 L611.0,277.1 L609.1,276.1 L608.6,275.9 L608.0,275.9 L606.0,276.6 L605.4,276.9 L605.1,277.5 L604.5,279.5 L604.5,280.3 L605.0,281.0Z" fill="#1fb8c6"/>
<path d="M491.7,285.0 L491.0,285.4 L490.7,286.1 L490.3,287.9 L490.4,288.8 L491.0,289.4 L494.8,291.5 L495.6,291.6 L496.4,291.3 L499.0,289.0 L499.4,288.5 L499.5,287.9 L499.3,287.3 L497.9,284.7 L497.3,284.1 L496.4,284.0Z" fill="#1fb8c6"/>
<path d="M703.9,320.8 L703.9,320.1 L703.6,319.6 L703.1,319.2 L701.5,318.5 L700.9,318.3 L700.3,318.5 L699.8,319.0 L699.5,319.4 L699.3,320.2 L699.6,321.1 L700.2,321.8 L700.9,322.3 L701.7,322.2 L703.0,321.8 L703.6,321.5 L703.9,320.9Z" fill="#ffc000"/>
<path d="M699.4,293.1 L699.2,293.7 L699.3,294.3 L699.6,294.8 L700.2,295.1 L701.9,295.6 L702.7,295.5 L703.4,295.1 L703.7,294.7 L703.9,294.1 L703.9,293.4 L703.5,292.8 L702.9,292.5 L701.1,292.1 L700.2,292.2 L699.5,292.7Z" fill="#ffc000"/>
<path d="M694.6,285.1 L693.8,285.3 L693.3,285.9 L693.3,285.9 L693.1,286.6 L693.3,287.2 L693.8,288.0 L694.3,288.5 L694.9,288.6 L697.1,288.7 L697.9,288.5 L698.4,287.9 L698.6,287.1 L698.2,286.4 L697.5,285.6 L697.1,285.3 L696.6,285.2Z" fill="#ffc000"/>
<path d="M550.7,298.3 L550.1,297.8 L549.4,297.6 L546.1,297.8 L545.5,298.0 L545.0,298.5 L544.8,299.1 L544.7,301.0 L544.8,301.7 L545.2,302.2 L545.9,302.5 L548.9,302.9 L549.5,302.9 L550.1,302.5 L551.3,301.3 L551.6,300.5 L551.4,299.6Z" fill="#ed7d31"/>
<path d="M572.4,296.1 L571.7,296.0 L571.1,296.2 L570.6,296.6 L568.8,299.7 L568.6,300.6 L568.9,301.4 L569.1,301.6 L569.6,302.0 L570.1,302.1 L574.9,302.2 L575.8,301.9 L576.1,301.6 L576.5,301.0 L576.6,300.3 L576.4,298.7 L576.2,298.0 L575.6,297.6Z" fill="#548235"/>
<path d="M742.7,276.9 L743.0,276.3 L743.1,275.6 L742.8,275.0 L742.2,274.6 L741.6,274.4 L740.9,274.3 L740.3,274.6 L739.6,275.2 L739.2,275.7 L739.1,276.4 L739.3,277.0 L739.8,277.5 L740.4,277.8 L741.2,277.9 L742.0,277.5Z" fill="#548235"/>
<path d="M740.9,281.2 L740.5,281.9 L740.6,282.7 L741.0,283.3 L741.8,283.6 L742.2,283.6 L743.0,283.5 L743.6,282.9 L743.8,282.2 L743.5,281.4 L742.9,280.9 L742.5,280.8 L741.7,280.7 L741.0,281.1Z" fill="#ffc000"/>
<path d="M650.8,310.1 L651.1,310.7 L651.6,311.2 L652.3,311.3 L654.2,311.2 L655.0,310.9 L655.5,310.1 L655.7,309.1 L655.7,308.5 L655.4,307.9 L654.9,307.6 L652.9,306.6 L652.2,306.4 L651.6,306.6 L651.4,306.7 L650.8,307.3 L650.6,308.1Z" fill="#548235"/>
<path d="M701.9,264.5 L701.2,264.8 L700.7,265.5 L700.8,266.3 L701.2,267.0 L701.9,267.5 L702.3,267.7 L702.9,267.8 L704.7,267.5 L705.5,267.2 L705.9,266.5 L706.0,266.2 L706.0,265.6 L705.7,265.0 L705.2,264.6 L704.4,264.3 L703.6,264.2Z" fill="#548235"/>
<path d="M569.9,344.3 L568.9,344.5 L568.0,344.9 L567.5,345.5 L567.3,346.2 L567.3,348.0 L567.6,348.9 L568.4,349.4 L571.4,350.2 L572.2,350.2 L574.1,349.6 L574.6,349.3 L575.0,348.8 L575.1,348.2 L575.1,346.6 L574.9,346.1 L574.5,345.6 L574.0,345.3Z" fill="#548235"/>
<path d="M635.7,291.4 L635.0,291.7 L634.5,292.2 L633.6,294.3 L633.5,294.9 L633.6,295.5 L634.0,296.0 L635.0,296.7 L635.7,297.0 L636.5,296.9 L639.3,295.6 L639.8,295.2 L640.1,294.6 L640.2,294.2 L640.1,293.3 L639.5,292.7 L637.4,291.5 L636.6,291.3Z" fill="#ffc000"/>
<path d="M589.1,331.0 L588.5,331.3 L588.1,331.9 L588.0,332.6 L588.3,333.3 L588.9,333.7 L592.7,335.3 L593.4,335.4 L594.0,335.1 L594.5,334.6 L594.6,333.8 L594.3,331.4 L594.0,330.7 L593.4,330.3 L592.6,330.2Z" fill="#ffc000"/>
<path d="M549.4,278.3 L548.9,278.1 L548.3,278.1 L548.1,278.1 L547.2,278.7 L546.0,280.6 L545.7,281.2 L545.8,281.9 L546.2,282.4 L549.0,284.7 L549.5,284.9 L550.2,284.9 L552.5,284.4 L553.0,284.2 L553.4,283.8 L553.9,282.8 L554.1,282.2 L554.0,281.5 L553.5,281.0Z" fill="#ed7d31"/>
<path d="M607.9,336.3 L608.3,336.9 L609.1,337.2 L613.0,337.7 L613.7,337.6 L614.2,337.2 L614.5,336.6 L614.6,336.3 L614.6,335.5 L614.1,334.9 L611.6,332.8 L610.9,332.5 L610.2,332.6 L608.3,333.5 L607.8,333.9 L607.5,334.5 L607.5,335.2Z" fill="#ed7d31"/>
<path d="M516.5,308.5 L516.0,308.9 L515.7,309.4 L515.7,310.1 L516.0,311.8 L516.4,312.4 L517.0,312.8 L518.7,313.4 L519.7,313.3 L523.2,311.9 L523.8,311.4 L524.1,310.8 L524.2,309.8 L524.1,309.0 L523.5,308.4 L521.0,307.1 L520.4,306.9 L519.8,307.1Z" fill="#1fb8c6"/>
<path d="M570.5,303.7 L569.8,303.9 L569.2,304.5 L568.2,306.6 L568.1,307.5 L568.4,308.2 L569.2,309.0 L570.1,309.4 L573.1,309.7 L574.0,309.4 L575.4,308.5 L575.9,307.8 L575.9,306.9 L575.3,304.8 L574.8,304.1 L574.0,303.8Z" fill="#ffc000"/>
<path d="M671.2,299.3 L671.7,299.6 L672.2,299.7 L672.6,299.6 L673.5,299.3 L674.5,298.3 L674.8,297.8 L674.9,297.1 L674.6,296.5 L674.2,296.0 L673.8,295.5 L673.1,295.4 L670.6,295.3 L670.0,295.5 L669.5,295.9 L669.5,295.9 L669.2,296.6 L669.2,297.2 L669.6,297.8Z" fill="#ffc000"/>
<path d="M696.5,297.0 L696.5,296.3 L696.0,295.6 L695.3,295.3 L694.4,295.1 L693.8,295.2 L693.2,295.5 L692.6,296.1 L692.3,296.7 L692.2,297.4 L692.5,298.0 L693.6,299.3 L694.1,299.7 L694.7,299.8 L694.7,299.8 L695.5,299.5 L696.0,298.8Z" fill="#ffc000"/>
<path d="M595.1,327.1 L595.4,327.6 L595.9,328.0 L596.5,328.1 L600.6,328.2 L601.2,328.0 L601.6,327.7 L602.7,326.3 L603.1,325.6 L602.9,324.8 L602.3,324.2 L600.0,323.0 L599.3,322.8 L598.7,323.0 L595.6,324.6 L595.2,324.9 L594.9,325.5 L594.9,326.1Z" fill="#ed7d31"/>
<path d="M583.3,286.7 L583.9,287.4 L584.7,287.6 L587.5,287.5 L588.1,287.3 L588.6,286.9 L589.5,285.6 L589.8,284.8 L589.6,284.1 L589.1,283.2 L588.8,282.7 L588.3,282.5 L585.2,281.6 L584.6,281.6 L584.0,281.8 L582.9,282.7 L582.3,283.4 L582.4,284.3Z" fill="#548235"/>
<path d="M607.5,323.5 L607.0,324.0 L606.9,324.7 L607.1,325.3 L607.6,325.8 L611.2,327.9 L611.9,328.1 L612.5,327.9 L613.3,327.5 L613.8,327.1 L614.1,326.5 L614.0,325.8 L613.2,323.4 L612.7,322.8 L612.0,322.5 L609.7,322.2 L608.7,322.5Z" fill="#548235"/>
<path d="M576.1,339.0 L575.6,338.3 L574.7,338.1 L571.6,338.2 L570.9,338.4 L570.5,338.9 L570.3,339.6 L570.2,341.6 L570.3,342.2 L570.7,342.7 L571.2,343.0 L575.1,343.9 L575.7,343.9 L576.2,343.7 L576.6,343.5 L577.1,342.7 L577.1,341.8Z" fill="#548235"/>
<path d="M744.3,298.5 L747.7,297.3 L747.8,296.9 L746.1,295.0 L743.3,295.5 L742.6,297.4Z" fill="#ffc000"/>
<path d="M652.2,339.3 L651.4,339.1 L650.6,339.4 L650.2,340.1 L649.6,342.1 L649.6,342.9 L650.0,343.6 L650.8,343.9 L653.0,344.1 L653.8,343.9 L655.0,343.3 L655.5,342.8 L655.7,342.1 L655.5,341.4 L655.0,340.8Z" fill="#ffc000"/>
<path d="M695.6,321.2 L695.0,321.4 L694.5,321.9 L694.3,322.6 L694.5,323.3 L695.1,323.8 L696.4,324.5 L697.0,324.7 L697.6,324.6 L698.2,324.3 L698.7,324.0 L699.0,323.4 L699.0,322.7 L698.7,322.2 L698.2,321.6 L697.7,321.2 L697.0,321.1Z" fill="#ed7d31"/>
<path d="M679.5,314.6 L680.1,314.2 L680.4,313.5 L680.4,312.8 L680.0,311.8 L679.7,311.2 L679.1,310.9 L678.0,310.6 L677.0,310.7 L675.8,311.3 L675.2,311.9 L675.1,312.7 L675.1,313.7 L675.3,314.4 L675.8,314.9 L676.3,315.1 L676.8,315.3 L677.4,315.2Z" fill="#ffc000"/>
<path d="M725.9,277.6 L725.1,277.7 L724.5,278.2 L724.3,279.0 L724.5,279.7 L725.0,280.6 L725.4,281.0 L725.9,281.3 L726.9,281.5 L727.5,281.4 L728.1,281.1 L728.5,280.6 L728.8,279.8 L728.9,279.2 L728.7,278.6 L728.3,278.1 L727.7,277.9Z" fill="#ffc000"/>
<path d="M653.5,336.6 L653.3,337.3 L653.5,338.1 L654.0,338.6 L656.1,339.8 L656.9,339.9 L657.7,339.5 L659.1,338.2 L659.5,337.6 L659.6,337.0 L659.3,336.4 L659.3,336.3 L658.7,335.8 L658.1,335.6 L654.8,335.7 L654.1,335.9 L653.7,336.4Z" fill="#ffc000"/>
<path d="M688.2,307.3 L687.4,307.5 L686.9,308.1 L686.8,308.9 L687.1,309.6 L688.0,310.6 L688.7,311.0 L689.5,310.9 L691.6,310.2 L692.2,309.7 L692.5,308.9 L692.5,308.7 L692.3,308.0 L691.8,307.5 L691.1,307.3Z" fill="#ed7d31"/>
<path d="M668.4,272.8 L668.4,273.4 L668.7,274.0 L669.3,274.3 L669.9,274.4 L672.0,274.2 L672.7,273.9 L673.2,273.3 L673.3,272.6 L672.9,271.9 L671.5,270.4 L670.8,269.9 L670.0,270.0 L669.5,270.2 L669.0,270.6 L668.7,271.2Z" fill="#ffc000"/>
<path d="M617.1,335.4 L616.5,335.8 L616.3,336.4 L616.3,337.1 L616.7,337.7 L617.3,338.0 L620.8,338.8 L621.5,338.8 L622.2,338.4 L622.5,337.7 L622.9,335.3 L622.8,334.6 L622.4,334.0 L622.3,333.9 L621.6,333.6 L620.9,333.7Z" fill="#ffc000"/>
<path d="M515.6,277.6 L515.2,276.9 L514.6,276.5 L511.7,275.7 L510.7,275.8 L508.3,277.0 L507.8,277.4 L507.6,278.0 L507.4,279.1 L507.5,279.9 L507.9,280.5 L510.3,282.4 L511.1,282.7 L511.9,282.5 L515.2,280.5 L515.8,279.9 L515.9,279.0Z" fill="#548235"/>
<path d="M514.3,321.2 L514.9,321.7 L515.7,321.9 L516.5,321.6 L519.1,319.4 L519.5,318.7 L519.5,317.9 L518.8,315.8 L518.4,315.2 L517.9,314.9 L516.1,314.3 L515.6,314.3 L515.0,314.4 L513.0,315.5 L512.4,316.0 L512.2,316.7 L512.4,317.4Z" fill="#548235"/>
<path d="M686.1,298.0 L686.2,297.4 L686.0,296.7 L685.6,296.2 L684.9,296.0 L682.9,295.9 L682.4,296.0 L681.9,296.3 L681.2,296.9 L680.9,297.5 L680.8,298.2 L681.1,298.8 L681.6,299.5 L682.1,299.8 L682.7,300.0 L684.3,299.9 L685.1,299.7 L685.6,299.1Z" fill="#ffc000"/>
<path d="M559.6,296.3 L559.4,295.7 L558.9,295.2 L556.8,294.1 L555.8,294.0 L553.8,294.4 L553.0,295.0 L552.2,296.0 L552.0,296.8 L552.2,297.5 L553.1,299.2 L553.6,299.7 L554.2,299.9 L558.4,300.2 L559.2,300.0 L559.8,299.4 L559.9,298.6Z" fill="#ed7d31"/>
<path d="M683.7,277.1 L683.5,276.5 L683.0,276.1 L682.4,275.9 L681.5,275.8 L680.9,276.0 L680.3,276.4 L679.4,277.6 L679.1,278.3 L679.2,279.1 L679.8,279.7 L679.9,279.7 L680.9,279.9 L682.7,279.5 L683.3,279.2 L683.7,278.7 L683.8,278.0Z" fill="#548235"/>
<path d="M660.5,327.8 L659.8,328.0 L659.2,328.5 L659.1,329.3 L659.3,330.0 L660.3,331.3 L660.9,331.7 L661.6,331.8 L663.4,331.5 L664.0,331.2 L664.4,330.6 L664.5,329.9 L664.4,329.2 L664.2,328.6 L663.7,328.1 L663.1,328.0Z" fill="#548235"/>
<path d="M590.9,322.0 L591.2,322.5 L591.7,322.9 L593.1,323.5 L593.7,323.6 L594.3,323.4 L597.6,321.7 L598.2,321.1 L598.4,320.3 L598.4,320.3 L598.0,319.5 L597.3,319.1 L593.3,318.0 L592.7,318.0 L592.1,318.2 L590.9,319.2 L590.4,319.9 L590.5,320.7Z" fill="#ffc000"/>
<path d="M730.9,275.9 L730.7,276.5 L730.9,277.2 L731.4,277.7 L732.0,277.9 L733.5,278.1 L734.2,277.9 L734.8,277.5 L735.0,276.9 L735.0,276.2 L734.6,275.6 L733.7,274.9 L732.7,274.5 L732.3,274.6 L731.6,274.8 L731.2,275.3Z" fill="#ffc000"/>
<path d="M738.1,308.0 L737.3,308.0 L736.7,308.4 L736.3,309.1 L736.2,309.7 L736.3,310.5 L736.8,311.1 L737.1,311.3 L738.0,311.6 L738.8,311.5 L739.4,311.3 L739.8,310.9 L740.1,310.5 L740.3,309.9 L740.2,309.3 L739.9,308.7 L739.3,308.4Z" fill="#ed7d31"/>
<path d="M496.7,317.4 L497.2,317.8 L497.9,317.9 L502.6,317.5 L503.5,317.1 L504.4,316.1 L504.8,315.6 L504.8,315.0 L504.6,314.4 L503.7,312.9 L503.2,312.4 L502.5,312.2 L496.8,312.4 L496.1,312.7 L495.6,313.4 L495.2,314.5 L495.1,315.2 L495.4,315.9Z" fill="#ed7d31"/>
<path d="M526.7,325.6 L526.5,326.3 L526.7,327.0 L527.2,327.5 L527.9,327.7 L532.6,327.8 L533.3,327.6 L533.8,327.1 L534.0,326.3 L533.9,323.7 L533.6,323.0 L532.9,322.5 L530.2,321.6 L529.5,321.6 L528.9,321.8 L528.5,322.3Z" fill="#548235"/>
<path d="M626.0,288.9 L626.5,289.2 L627.2,289.2 L629.8,288.6 L630.4,288.4 L630.8,287.9 L630.9,287.3 L630.9,286.8 L630.7,285.9 L629.9,285.4 L627.8,284.8 L627.0,284.8 L626.3,285.2 L625.3,286.4 L624.9,287.1 L625.0,287.8 L625.4,288.4Z" fill="#548235"/>
<path d="M588.3,296.2 L587.7,296.8 L587.6,297.7 L587.7,298.2 L588.0,298.9 L588.7,299.3 L592.8,300.3 L593.4,300.3 L594.0,300.1 L594.9,299.5 L595.3,299.0 L595.5,298.4 L595.5,297.8 L595.3,297.1 L594.8,296.6 L592.1,294.9 L591.4,294.7 L590.6,294.9Z" fill="#1fb8c6"/>
<path d="M484.6,292.0 L484.0,292.4 L483.7,293.1 L483.8,293.8 L484.2,294.4 L488.7,297.8 L489.2,298.1 L489.7,298.1 L490.5,298.0 L491.3,297.5 L493.8,294.8 L494.2,294.1 L494.0,293.3 L493.4,292.7 L489.7,290.6 L489.1,290.5 L488.5,290.6Z" fill="#ffc000"/>
<path d="M535.6,333.8 L535.6,334.5 L536.1,335.1 L536.7,335.6 L537.6,335.9 L541.9,335.7 L542.5,335.6 L542.9,335.3 L543.8,334.3 L544.1,333.7 L544.1,333.1 L543.9,332.5 L542.1,330.2 L541.6,329.8 L540.9,329.7 L537.3,329.8 L536.7,330.0 L536.3,330.4 L536.0,331.0Z" fill="#ed7d31"/>
<path d="M590.4,339.3 L591.0,339.1 L591.4,338.6 L591.6,338.3 L591.8,337.5 L591.5,336.8 L590.9,336.3 L587.5,334.8 L586.8,334.7 L586.2,335.0 L585.5,335.4 L585.1,335.9 L584.9,336.5 L585.0,337.2 L585.9,339.0 L586.5,339.6 L587.4,339.8Z" fill="#ffc000"/>
<path d="M717.8,299.8 L718.7,300.0 L719.5,299.7 L720.5,298.9 L720.9,298.3 L720.9,297.6 L720.6,296.9 L720.0,296.5 L719.5,296.3 L718.7,296.2 L718.1,296.6 L717.3,297.2 L716.9,297.8 L716.8,298.4 L717.0,299.0 L717.4,299.5Z" fill="#ffc000"/>
<path d="M508.1,324.9 L507.5,325.2 L507.1,325.7 L507.1,326.4 L507.3,327.0 L508.7,329.2 L509.3,329.7 L510.1,329.8 L514.0,329.3 L514.6,329.0 L515.1,328.5 L516.2,326.1 L516.3,325.4 L516.1,324.7 L515.8,324.2 L515.0,323.6 L514.4,323.4 L513.6,323.4Z" fill="#1fb8c6"/>
<path d="M715.6,285.2 L715.7,285.9 L716.1,286.4 L716.7,286.6 L716.8,286.7 L717.7,286.5 L719.0,285.9 L719.6,285.4 L719.8,284.7 L719.7,284.0 L719.2,283.5 L717.9,282.5 L717.2,282.3 L716.4,282.4 L715.9,282.9 L715.6,283.6Z" fill="#1fb8c6"/>
<path d="M488.4,324.4 L487.9,324.6 L487.5,325.0 L487.3,325.3 L487.1,326.1 L487.3,326.8 L487.7,327.4 L488.4,328.0 L493.6,329.9 L494.3,330.0 L495.4,329.8 L495.9,329.6 L496.3,329.2 L497.3,327.6 L497.5,326.7 L497.2,325.9 L495.3,323.9 L494.7,323.5 L494.1,323.5Z" fill="#548235"/>
<path d="M624.2,321.4 L623.5,321.6 L623.0,322.1 L622.9,322.8 L622.9,323.6 L623.1,324.3 L623.6,324.8 L626.6,326.4 L627.2,326.6 L627.8,326.4 L628.3,326.0 L629.6,324.4 L629.8,323.7 L629.7,323.0 L629.3,322.4 L628.2,321.6 L627.2,321.3Z" fill="#548235"/>
<path d="M750.6,296.8 L750.0,297.1 L749.7,297.7 L749.7,298.4 L750.0,299.0 L750.0,299.0 L750.4,299.4 L751.0,299.5 L751.3,299.6 L751.9,299.4 L752.5,299.1 L752.8,298.5 L752.8,297.8 L752.7,297.7 L752.3,297.0 L751.7,296.6 L750.9,296.7Z" fill="#ed7d31"/>
<path d="M609.8,273.5 L609.9,274.4 L610.5,275.0 L613.3,276.6 L614.1,276.8 L614.8,276.7 L615.6,276.3 L616.9,275.1 L617.3,274.4 L617.3,273.6 L616.5,271.1 L616.1,270.5 L615.4,270.1 L614.2,269.9 L613.6,269.9 L611.2,270.4 L610.5,270.8 L610.2,271.5Z" fill="#ffc000"/>
<path d="M518.3,322.3 L517.8,322.9 L517.8,323.7 L518.2,324.4 L519.0,324.7 L523.8,325.5 L524.6,325.4 L525.2,324.8 L526.4,322.7 L526.6,322.0 L526.4,321.4 L526.0,320.9 L525.4,320.6 L521.7,320.0 L521.1,320.1 L520.5,320.3Z" fill="#ffc000"/>
<path d="M688.8,332.2 L689.5,332.5 L690.3,332.4 L691.8,331.7 L692.5,331.2 L692.7,330.4 L692.4,329.6 L691.8,329.1 L690.7,328.7 L690.0,328.6 L689.5,328.8 L689.0,329.2 L688.3,330.2 L688.1,330.8 L688.2,331.4 L688.6,332.0Z" fill="#ffc000"/>
<path d="M647.4,332.3 L646.6,332.8 L645.7,333.8 L645.4,334.5 L645.4,335.2 L645.7,335.8 L646.0,336.3 L646.5,336.6 L649.4,337.7 L650.3,337.7 L650.7,337.6 L651.5,337.0 L652.3,335.7 L652.5,335.0 L652.3,334.3 L651.3,332.5 L650.7,332.0 L649.9,331.9Z" fill="#548235"/>
<path d="M516.8,328.9 L516.7,329.7 L517.0,330.5 L518.5,331.9 L519.0,332.2 L519.6,332.3 L523.4,331.8 L524.0,331.5 L524.5,331.0 L525.2,329.3 L525.4,328.6 L525.1,327.9 L525.1,327.8 L524.7,327.5 L524.2,327.3 L519.0,326.4 L518.2,326.6 L517.5,327.2Z" fill="#548235"/>
<path d="M668.3,322.3 L667.9,322.9 L667.8,323.7 L667.9,324.2 L668.3,324.8 L668.9,325.2 L670.2,325.6 L671.0,325.6 L674.0,324.8 L674.6,324.5 L674.9,323.9 L675.0,323.3 L675.0,322.9 L674.8,322.3 L674.4,321.8 L673.8,321.6 L670.6,321.1 L670.1,321.1 L669.5,321.3Z" fill="#ffc000"/>
<path d="M623.6,280.1 L624.3,279.9 L624.7,279.4 L624.9,278.8 L624.7,278.1 L624.0,276.6 L623.5,276.0 L622.8,275.8 L619.3,275.6 L618.8,275.6 L618.3,275.9 L617.7,276.5 L617.3,277.1 L617.3,277.8 L617.7,278.5 L619.2,280.1 L619.8,280.4 L620.4,280.5Z" fill="#ffc000"/>
<path d="M649.6,275.8 L650.1,276.3 L650.9,276.4 L651.7,276.4 L652.5,276.1 L654.2,274.7 L654.6,274.2 L654.7,273.6 L654.7,272.6 L654.5,272.0 L654.0,271.5 L653.5,271.2 L653.0,271.0 L652.4,271.1 L649.4,272.0 L648.7,272.5 L648.4,273.3 L648.6,274.1Z" fill="#ffc000"/>
<path d="M632.4,309.0 L631.5,309.2 L629.5,310.4 L629.0,310.9 L628.8,311.5 L628.7,312.9 L628.9,313.6 L629.3,314.1 L630.2,314.7 L631.0,315.0 L633.1,314.9 L633.8,314.8 L634.3,314.3 L635.2,313.0 L635.5,312.2 L635.3,311.5 L634.2,309.8 L633.8,309.3 L633.2,309.1Z" fill="#ed7d31"/>
<path d="M647.8,300.5 L647.2,300.3 L646.6,300.4 L646.0,300.8 L645.5,301.4 L645.2,301.9 L645.2,302.6 L645.7,304.5 L646.1,305.2 L646.8,305.5 L649.1,305.9 L650.0,305.8 L651.0,305.2 L651.5,304.9 L651.7,304.3 L651.8,304.1 L651.7,303.2 L651.2,302.6Z" fill="#ed7d31"/>
<path d="M681.9,312.8 L682.3,313.4 L682.9,313.7 L683.6,313.7 L685.7,313.1 L686.3,312.8 L686.6,312.1 L686.7,311.4 L686.3,310.8 L685.4,309.8 L684.6,309.4 L683.7,309.5 L682.3,310.3 L681.8,310.7 L681.6,311.3 L681.6,312.0Z" fill="#ffc000"/>
<path d="M678.7,291.7 L677.9,291.6 L677.5,291.7 L676.7,292.3 L675.6,293.8 L675.4,294.7 L675.7,295.5 L676.3,296.3 L676.8,296.7 L677.4,296.9 L678.4,296.9 L679.0,296.9 L679.4,296.6 L680.3,295.8 L680.7,295.3 L680.8,294.6 L680.6,294.0 L679.7,292.4 L678.9,291.8Z" fill="#548235"/>
<path d="M519.2,294.7 L518.5,294.7 L517.9,295.2 L517.7,295.8 L517.3,298.1 L517.4,299.0 L518.0,299.6 L519.9,300.6 L520.5,300.7 L521.1,300.6 L524.4,299.4 L525.1,298.8 L525.3,297.9 L525.2,296.6 L525.0,296.0 L524.6,295.6 L524.0,295.4Z" fill="#ffc000"/>
<path d="M600.3,281.9 L599.7,282.1 L599.3,282.6 L598.2,284.3 L598.0,285.1 L598.3,285.9 L599.4,287.3 L600.1,287.8 L600.9,287.8 L602.8,287.3 L603.3,287.0 L603.7,286.5 L604.6,283.9 L604.6,283.0 L604.1,282.3 L603.5,281.9 L602.5,281.6Z" fill="#ffc000"/>
<path d="M687.2,294.2 L687.0,294.9 L687.2,295.6 L687.7,296.1 L688.4,296.3 L689.9,296.3 L690.9,295.9 L691.8,295.0 L692.1,294.5 L692.2,293.8 L692.0,293.2 L691.9,293.2 L691.4,292.7 L690.8,292.5 L689.0,292.4 L688.3,292.6 L687.7,293.2Z" fill="#ffc000"/>
<path d="M545.7,339.5 L546.2,340.1 L547.0,340.2 L550.8,340.0 L551.8,339.6 L552.2,339.1 L552.6,338.6 L552.6,337.9 L552.3,337.3 L550.3,334.7 L549.7,334.3 L549.1,334.2 L546.6,334.3 L546.0,334.4 L545.6,334.7 L544.6,335.8 L544.3,336.6 L544.5,337.5Z" fill="#ffc000"/>
<path d="M495.4,277.9 L495.0,277.3 L494.4,277.0 L490.8,276.2 L489.8,276.4 L488.3,277.2 L487.8,277.7 L487.6,278.3 L487.3,280.7 L487.5,281.4 L487.9,282.0 L489.8,283.3 L490.3,283.5 L490.9,283.5 L495.3,282.5 L496.0,282.1 L496.4,281.5 L496.4,280.7Z" fill="#ffc000"/>
<path d="M702.8,329.3 L702.5,330.0 L702.7,330.8 L703.2,331.3 L703.9,331.5 L704.8,331.6 L705.6,331.3 L707.2,330.3 L707.7,329.8 L707.8,329.0 L707.6,328.3 L707.0,327.9 L706.2,327.8 L704.3,328.0 L703.8,328.2 L703.3,328.6Z" fill="#1fb8c6"/>
<path d="M627.8,273.4 L627.1,273.4 L626.6,273.8 L625.8,274.6 L625.4,275.3 L625.5,276.2 L626.2,277.7 L626.8,278.3 L627.7,278.4 L630.7,277.9 L631.5,277.6 L631.9,276.9 L632.2,275.6 L632.2,274.8 L631.8,274.2 L631.1,273.8Z" fill="#ffc000"/>
<path d="M606.7,315.8 L607.7,315.7 L611.2,314.3 L611.8,313.9 L612.1,313.3 L612.1,312.6 L611.6,311.1 L611.3,310.6 L610.8,310.3 L609.4,309.6 L608.7,309.5 L608.1,309.6 L607.6,310.1 L605.4,313.4 L605.1,314.2 L605.4,315.0 L606.0,315.5Z" fill="#548235"/>
<path d="M664.0,287.4 L663.4,286.9 L662.7,286.7 L662.7,286.7 L661.9,287.0 L660.1,288.4 L659.7,289.1 L659.7,289.9 L659.9,290.6 L660.2,291.2 L660.8,291.6 L661.1,291.7 L662.0,291.7 L664.2,290.9 L664.8,290.4 L665.1,289.6 L664.9,288.8Z" fill="#ffc000"/>
<path d="M631.4,329.0 L632.4,329.3 L635.8,328.9 L636.4,328.7 L636.9,328.3 L637.1,327.6 L637.0,327.0 L636.1,324.9 L635.4,324.1 L634.7,323.8 L634.0,323.7 L632.5,323.8 L631.9,324.0 L631.5,324.4 L630.1,326.2 L629.8,326.9 L629.9,327.6 L630.3,328.2Z" fill="#1fb8c6"/>
<path d="M604.9,302.1 L604.2,302.2 L603.7,302.5 L603.3,303.1 L602.8,304.7 L602.8,305.4 L603.1,306.1 L603.6,306.5 L607.0,307.8 L607.7,307.8 L608.4,307.5 L608.8,306.9 L609.6,304.5 L609.6,303.7 L609.2,303.0 L608.5,302.6Z" fill="#1fb8c6"/>
<path d="M620.5,350.2 L621.4,350.2 L623.4,349.3 L624.0,348.9 L624.2,348.2 L624.2,347.5 L623.8,347.0 L622.2,345.5 L621.5,345.2 L620.9,345.2 L619.0,345.8 L618.3,346.1 L618.0,346.8 L617.7,348.1 L617.7,348.8 L618.1,349.4 L618.7,349.8Z" fill="#548235"/>
<path d="M693.7,319.1 L694.3,319.7 L695.1,319.8 L697.0,319.7 L697.6,319.5 L698.1,319.1 L698.2,318.9 L698.4,318.1 L698.1,317.3 L697.5,316.8 L695.9,316.2 L695.3,316.2 L694.8,316.3 L694.0,316.7 L693.5,317.2 L693.3,317.9 L693.5,318.7Z" fill="#ffc000"/>
<path d="M614.5,349.8 L615.1,349.7 L615.6,349.3 L615.9,348.7 L616.4,346.8 L616.3,345.9 L615.7,345.2 L614.1,344.3 L613.6,344.1 L613.0,344.2 L611.1,344.9 L610.4,345.3 L610.1,346.1 L610.3,346.9 L611.6,349.0 L612.1,349.5 L612.7,349.7Z" fill="#ffc000"/>
<path d="M538.3,337.6 L537.6,337.8 L537.1,338.5 L536.3,340.7 L536.3,341.3 L536.5,342.0 L537.0,342.4 L539.3,343.6 L540.1,343.7 L542.3,343.5 L542.8,343.3 L543.3,343.0 L544.1,341.8 L544.4,341.1 L544.2,340.3 L542.9,338.1 L542.3,337.6 L541.6,337.4Z" fill="#1fb8c6"/>
<path d="M716.5,315.3 L715.8,315.5 L715.3,316.0 L715.2,316.7 L715.4,317.4 L715.7,317.9 L716.1,318.3 L716.6,318.6 L717.8,318.8 L718.4,318.8 L719.0,318.5 L719.4,317.9 L719.7,317.0 L719.8,316.3 L719.5,315.6 L719.0,315.2 L718.3,315.1Z" fill="#ed7d31"/>
<path d="M479.7,303.9 L479.1,304.1 L478.7,304.4 L477.1,306.2 L476.7,306.8 L476.7,307.4 L477.0,308.0 L477.4,308.5 L478.1,309.0 L482.7,310.3 L483.3,310.3 L483.8,310.1 L486.4,308.3 L486.8,307.8 L487.0,307.1 L486.8,306.4 L485.6,304.6 L485.1,304.1 L484.4,303.9Z" fill="#548235"/>
<path d="M664.9,309.3 L664.2,309.6 L663.7,310.3 L663.5,311.0 L663.5,311.9 L664.0,312.6 L665.0,313.4 L665.7,313.6 L666.4,313.5 L667.0,313.1 L668.3,311.3 L668.6,310.5 L668.4,309.8 L667.8,309.2 L667.0,309.1Z" fill="#548235"/>
<path d="M570.4,318.8 L569.6,319.1 L569.2,319.8 L568.7,321.7 L568.7,322.4 L569.0,322.9 L569.4,323.3 L571.3,324.3 L572.0,324.5 L572.7,324.3 L575.2,322.9 L575.7,322.4 L575.9,321.7 L575.7,320.9 L574.4,319.1 L573.9,318.6 L573.1,318.5Z" fill="#ffc000"/>
<path d="M530.5,305.2 L530.8,306.0 L531.4,306.5 L533.1,307.1 L534.1,307.1 L537.1,305.7 L537.6,305.3 L537.9,304.7 L537.8,304.0 L537.4,303.4 L534.9,301.4 L534.3,301.1 L533.7,301.1 L531.7,301.6 L530.9,302.1 L530.6,302.9Z" fill="#ed7d31"/>
<path d="M558.7,309.9 L558.6,309.2 L558.1,308.6 L557.4,308.3 L552.8,308.3 L552.1,308.4 L551.6,308.8 L550.7,310.1 L550.4,310.9 L550.6,311.7 L551.3,312.8 L551.8,313.3 L552.5,313.4 L557.0,313.3 L557.7,313.2 L558.1,312.8 L558.4,312.1Z" fill="#c00000"/>
<path d="M627.8,280.0 L627.2,280.2 L626.8,280.7 L626.6,281.3 L626.7,281.9 L627.0,282.4 L627.3,282.9 L627.8,283.2 L631.1,284.2 L631.6,284.2 L632.2,284.0 L633.2,283.5 L633.7,283.0 L633.9,282.3 L633.9,281.5 L633.8,280.9 L633.4,280.4 L632.5,279.7 L632.0,279.4 L631.4,279.4Z" fill="#ed7d31"/>
<path d="M692.0,273.8 L691.3,274.0 L690.7,274.5 L690.5,275.2 L690.7,275.9 L691.2,276.8 L691.6,277.3 L692.2,277.5 L693.4,277.8 L694.2,277.7 L694.8,277.2 L695.3,276.4 L695.6,275.7 L695.4,274.9 L695.2,274.6 L694.7,274.1 L694.0,273.9Z" fill="#ffc000"/>
<path d="M501.2,274.8 L500.5,274.7 L499.8,274.9 L497.8,276.2 L497.3,276.7 L497.1,277.3 L497.2,277.9 L498.1,280.4 L498.4,281.0 L499.1,281.3 L499.8,281.3 L504.7,279.9 L505.4,279.5 L505.7,278.8 L505.8,278.2 L505.7,277.4 L505.1,276.8Z" fill="#548235"/>
<path d="M578.2,299.6 L578.4,300.2 L578.8,300.6 L579.4,300.9 L583.4,301.4 L584.0,301.4 L584.5,301.1 L585.7,300.0 L586.1,299.4 L586.1,298.7 L585.9,297.6 L585.6,297.0 L585.1,296.6 L583.0,295.8 L582.4,295.7 L581.8,295.8 L578.8,297.4 L578.2,298.0 L578.1,298.8Z" fill="#ffc000"/>
<path d="M663.7,265.6 L663.2,266.2 L663.0,267.0 L663.4,267.7 L664.1,268.1 L667.7,269.1 L668.6,269.0 L670.1,268.4 L670.8,267.8 L670.9,267.5 L671.1,266.5 L671.0,266.3 L670.8,265.8 L670.3,265.4 L669.7,265.1 L669.0,264.9 L664.9,265.0 L664.2,265.2Z" fill="#1fb8c6"/>
<path d="M592.4,278.6 L592.8,278.1 L592.9,277.5 L592.7,276.8 L592.3,276.4 L591.8,276.0 L591.3,275.8 L590.7,275.8 L585.9,276.9 L585.3,277.2 L584.9,277.8 L584.9,278.5 L585.0,279.0 L585.3,279.7 L585.9,280.1 L588.5,280.9 L589.2,280.9 L589.8,280.6Z" fill="#ffc000"/>
<path d="M674.3,285.6 L673.6,285.7 L673.0,286.1 L672.7,286.8 L672.6,287.5 L672.8,288.4 L673.4,289.0 L675.8,290.1 L676.5,290.2 L677.1,290.0 L677.6,289.6 L677.8,289.0 L678.0,287.5 L677.9,286.8 L677.5,286.2 L676.8,286.0Z" fill="#ffc000"/>
<path d="M693.0,304.8 L693.3,305.5 L694.0,305.9 L694.7,305.9 L695.6,305.6 L696.2,305.3 L696.6,304.7 L696.7,304.0 L696.4,302.4 L696.1,301.8 L695.6,301.3 L694.9,301.2 L694.4,301.2 L693.6,301.5 L693.2,301.8 L692.8,302.4 L692.7,303.1Z" fill="#1fb8c6"/>
<path d="M741.8,290.8 L745.5,290.7 L746.3,288.3 L744.9,287.6 L741.4,288.8 L741.1,289.9Z" fill="#ffc000"/>
<path d="M734.0,281.9 L734.4,281.2 L734.4,280.4 L734.3,280.3 L733.8,279.6 L733.1,279.3 L731.5,279.2 L730.7,279.4 L730.1,280.1 L730.1,280.1 L730.0,280.8 L730.3,281.5 L731.0,282.0 L732.4,282.4 L733.1,282.5 L733.8,282.1Z" fill="#548235"/>
<path d="M539.0,319.7 L539.7,319.0 L539.8,318.8 L540.0,318.2 L539.8,317.5 L538.9,315.8 L538.6,315.4 L538.1,315.2 L535.3,314.4 L534.3,314.4 L531.3,315.7 L530.7,316.1 L530.5,316.7 L530.0,318.4 L530.0,319.1 L530.4,319.7 L530.9,320.1 L534.2,321.1 L535.0,321.1Z" fill="#ffc000"/>
<path d="M527.4,338.6 L527.3,339.4 L527.7,340.1 L528.3,340.5 L532.7,341.7 L533.5,341.8 L533.5,341.7 L534.1,341.4 L534.5,340.8 L535.5,338.0 L535.5,337.1 L535.1,336.4 L534.7,336.1 L534.2,335.9 L533.7,335.8 L529.2,336.3 L528.5,336.6 L528.0,337.1Z" fill="#548235"/>
<path d="M679.2,326.7 L678.6,326.8 L678.1,327.2 L677.8,327.8 L677.2,330.2 L677.3,331.0 L677.8,331.7 L678.1,331.9 L678.8,332.1 L679.9,332.1 L680.7,331.9 L681.4,331.4 L681.9,330.8 L682.0,330.0 L681.5,327.8 L681.2,327.3 L680.8,326.9 L680.2,326.7Z" fill="#1fb8c6"/>
<path d="M739.9,294.4 L739.3,294.7 L738.9,295.4 L738.9,296.2 L739.4,296.8 L739.5,296.9 L740.1,297.2 L740.7,297.2 L740.8,297.2 L741.4,296.9 L741.8,296.4 L741.8,296.2 L741.9,295.4 L741.5,294.7 L741.4,294.6 L740.8,294.3 L740.1,294.3Z" fill="#ffc000"/>
<path d="M569.6,279.8 L569.0,280.0 L568.5,280.3 L566.1,283.3 L565.8,283.9 L565.9,284.6 L565.9,284.6 L566.4,285.3 L567.2,285.6 L571.7,285.7 L572.3,285.6 L572.8,285.2 L574.1,283.5 L574.4,282.6 L574.1,281.8 L573.1,280.3 L572.6,279.9 L571.9,279.8Z" fill="#ed7d31"/>
<path d="M524.0,280.0 L524.6,279.6 L524.8,278.9 L525.0,277.5 L524.8,276.7 L524.2,276.1 L521.3,274.8 L520.6,274.7 L520.0,274.9 L518.0,276.0 L517.4,276.7 L517.3,277.5 L517.6,279.0 L518.0,279.6 L518.6,280.0 L521.3,280.9 L522.3,280.8Z" fill="#ed7d31"/>
<path d="M674.9,316.0 L673.8,315.9 L671.2,316.6 L670.6,316.9 L670.2,317.5 L670.2,318.2 L670.2,318.6 L670.6,319.3 L671.4,319.7 L674.4,320.2 L675.2,320.1 L675.8,319.6 L676.0,318.8 L676.0,317.4 L675.8,316.7 L675.3,316.2Z" fill="#1fb8c6"/>
<path d="M625.3,272.9 L625.7,272.2 L625.6,271.4 L625.1,269.9 L624.6,269.3 L623.8,269.0 L620.3,268.9 L619.6,269.1 L618.8,269.5 L618.3,269.9 L618.1,270.5 L618.1,271.1 L618.8,273.1 L619.2,273.8 L620.0,274.1 L623.2,274.3 L623.8,274.2 L624.3,273.9Z" fill="#548235"/>
<path d="M475.1,321.2 L475.1,321.8 L475.3,322.4 L475.8,322.8 L480.6,325.3 L481.3,325.5 L484.6,325.3 L485.2,325.1 L485.6,324.7 L485.9,324.2 L486.2,323.6 L486.1,322.9 L484.6,319.3 L484.2,318.8 L483.7,318.5 L483.0,318.5 L476.4,319.6 L475.7,320.0 L475.3,320.6Z" fill="#548235"/>
<path d="M569.3,335.3 L569.5,336.0 L570.1,336.5 L570.8,336.7 L575.6,336.4 L576.4,336.1 L576.8,335.7 L577.3,335.0 L577.2,334.2 L576.5,332.1 L576.2,331.6 L575.7,331.3 L573.1,330.3 L572.5,330.3 L572.0,330.4 L570.0,331.6 L569.4,332.1 L569.3,332.8Z" fill="#ed7d31"/>
<path d="M631.4,333.1 L631.4,333.9 L631.8,334.6 L632.6,334.9 L635.3,335.3 L635.9,335.2 L636.4,334.9 L637.1,334.2 L637.6,333.4 L637.5,332.6 L636.9,331.3 L636.3,330.7 L635.5,330.5 L633.1,330.7 L632.3,331.0 L631.9,331.7Z" fill="#ffc000"/>
<path d="M707.3,272.0 L707.1,272.7 L707.3,273.3 L707.7,273.8 L708.3,274.1 L709.0,274.0 L711.4,273.2 L712.0,272.8 L712.3,272.2 L712.2,271.5 L711.9,270.9 L711.8,270.8 L711.0,270.5 L709.1,270.4 L708.4,270.5 L707.8,271.1Z" fill="#548235"/>
<path d="M635.9,320.9 L635.9,321.6 L636.3,322.3 L637.0,322.6 L637.7,322.6 L641.5,321.4 L642.1,320.9 L642.4,320.2 L642.3,319.5 L641.8,318.9 L641.1,318.6 L637.8,318.5 L637.2,318.6 L636.7,318.9 L636.4,319.4Z" fill="#1fb8c6"/>
<path d="M582.3,272.4 L582.1,271.7 L581.6,271.2 L581.0,271.0 L576.7,270.9 L576.0,271.1 L575.5,271.3 L575.1,271.8 L574.9,272.3 L575.0,273.0 L575.5,274.4 L576.0,275.1 L576.8,275.4 L580.9,275.4 L581.7,275.2 L582.2,274.6 L582.3,273.9Z" fill="#1fb8c6"/>
<path d="M702.2,279.6 L701.9,280.4 L702.0,281.2 L702.6,281.7 L703.4,282.2 L704.4,282.3 L705.8,282.0 L706.3,281.7 L706.7,281.2 L706.8,280.6 L706.8,280.4 L706.6,279.7 L706.1,279.2 L705.5,279.0 L703.4,279.0 L702.8,279.1 L702.3,279.5Z" fill="#ed7d31"/>
<path d="M674.9,268.3 L674.3,268.4 L673.7,268.8 L673.4,269.4 L673.4,270.0 L673.7,270.6 L674.6,271.6 L675.1,271.9 L675.8,272.0 L676.8,271.9 L677.4,271.7 L677.8,271.3 L678.2,270.8 L678.4,270.1 L678.3,269.4 L677.9,268.9 L677.2,268.6Z" fill="#ffc000"/>
<path d="M542.6,304.5 L542.1,305.1 L541.9,305.8 L542.1,306.5 L543.8,309.1 L544.3,309.5 L544.9,309.7 L547.9,309.9 L548.6,309.8 L549.1,309.4 L550.2,308.0 L550.4,307.3 L550.3,306.6 L549.7,305.3 L549.3,304.8 L548.6,304.6 L544.3,304.0 L543.4,304.1Z" fill="#ffc000"/>
<path d="M679.3,298.9 L678.9,298.5 L678.3,298.4 L677.2,298.3 L676.6,298.4 L676.2,298.7 L675.4,299.4 L675.1,300.0 L675.1,300.7 L675.4,301.4 L676.9,303.1 L677.6,303.5 L678.3,303.5 L678.4,303.4 L679.2,302.9 L680.2,301.6 L680.4,301.0 L680.4,300.4 L680.1,299.9Z" fill="#ffc000"/>
<path d="M498.3,291.9 L497.9,292.5 L497.8,293.1 L498.0,293.8 L498.6,294.2 L503.6,296.6 L504.3,296.8 L504.9,296.6 L505.4,296.1 L506.9,293.8 L507.1,293.1 L506.9,292.3 L505.8,290.5 L505.3,290.0 L504.8,289.8 L501.8,289.4 L501.2,289.5 L500.7,289.8Z" fill="#1fb8c6"/>
<path d="M499.0,273.4 L499.4,273.0 L499.6,272.3 L499.7,271.2 L499.5,270.5 L499.1,270.0 L498.5,269.7 L493.6,269.0 L492.7,269.1 L491.4,269.7 L490.8,270.3 L490.6,271.1 L490.8,273.5 L491.2,274.3 L491.9,274.7 L495.1,275.4 L496.1,275.2Z" fill="#1fb8c6"/>
<path d="M604.0,316.4 L603.2,316.3 L602.6,316.6 L600.4,318.5 L600.0,319.1 L599.9,319.7 L600.0,320.5 L600.2,321.1 L600.7,321.6 L603.9,323.2 L604.7,323.4 L605.4,323.1 L607.2,321.7 L607.7,321.0 L607.6,320.1 L606.8,318.0 L606.5,317.5 L606.0,317.2Z" fill="#548235"/>
<path d="M549.3,332.5 L550.2,332.1 L551.9,330.5 L552.2,330.0 L552.3,329.4 L552.1,328.8 L550.6,326.4 L550.0,325.9 L549.2,325.8 L545.7,326.2 L544.8,326.7 L543.8,327.9 L543.6,328.5 L543.5,329.1 L543.8,329.6 L545.6,332.0 L546.1,332.5 L546.8,332.6Z" fill="#ffc000"/>
<path d="M679.3,288.7 L679.4,289.4 L679.8,290.0 L680.4,290.3 L681.1,290.2 L684.1,289.3 L684.7,289.0 L685.0,288.4 L685.1,287.7 L684.8,287.1 L684.6,286.9 L683.8,286.4 L681.1,286.0 L680.3,286.1 L679.7,286.5 L679.5,287.2Z" fill="#ffc000"/>
<path d="M558.3,277.8 L558.5,277.2 L558.3,276.5 L557.9,276.0 L554.6,273.7 L553.9,273.5 L553.3,273.6 L552.7,274.0 L551.3,275.7 L551.0,276.4 L551.1,277.1 L551.6,277.7 L555.3,280.2 L555.9,280.4 L556.5,280.3 L556.6,280.3 L557.3,279.6Z" fill="#ffc000"/>
<path d="M688.7,302.7 L687.9,303.0 L687.4,303.7 L687.3,304.1 L687.3,304.7 L687.5,305.3 L688.0,305.7 L688.6,305.8 L690.1,305.9 L690.8,305.7 L691.4,305.0 L691.5,304.2 L691.4,303.8 L691.1,303.3 L690.6,302.8 L690.0,302.7Z" fill="#1fb8c6"/>
<path d="M576.5,296.2 L577.1,296.3 L577.7,296.1 L580.4,294.7 L580.9,294.3 L581.1,293.8 L581.1,293.2 L580.8,291.9 L580.4,291.2 L579.6,290.8 L576.2,290.6 L575.5,290.7 L574.9,291.1 L573.6,293.0 L573.3,293.7 L573.5,294.5 L574.1,295.1Z" fill="#ffc000"/>
<path d="M508.5,332.9 L508.3,333.6 L508.5,334.4 L509.1,334.9 L512.9,336.7 L513.7,336.8 L515.6,336.5 L516.2,336.3 L516.6,335.7 L517.2,334.3 L517.3,333.5 L517.0,332.8 L515.5,331.3 L515.0,331.0 L514.4,331.0 L509.9,331.5 L509.4,331.7 L508.9,332.2Z" fill="#548235"/>
<path d="M682.7,332.3 L682.2,332.8 L682.1,333.5 L682.3,334.2 L683.5,335.9 L684.1,336.4 L684.8,336.5 L687.2,336.2 L687.9,335.9 L687.9,335.9 L688.4,335.4 L688.5,334.8 L688.5,334.6 L688.4,334.0 L688.1,333.5 L686.8,332.3 L685.9,332.0 L683.7,331.9 L682.8,332.2Z" fill="#548235"/>
<path d="M604.4,339.3 L605.3,338.9 L606.0,338.2 L606.4,337.6 L606.4,336.8 L605.8,334.9 L605.5,334.3 L604.9,334.0 L604.5,333.9 L603.4,334.0 L600.6,335.6 L600.0,336.1 L599.8,336.9 L600.1,337.7 L601.0,338.8 L601.5,339.2 L602.2,339.3Z" fill="#ed7d31"/>
<path d="M614.4,285.8 L613.7,286.1 L613.2,286.6 L612.6,287.8 L612.5,288.6 L612.8,289.3 L613.5,289.7 L615.9,290.5 L616.8,290.6 L617.5,290.1 L618.6,288.6 L618.9,288.0 L618.8,287.3 L618.5,286.7 L617.8,286.0 L617.3,285.7 L616.7,285.7Z" fill="#1fb8c6"/>
<path d="M731.5,304.1 L731.3,304.8 L731.5,305.4 L732.0,305.9 L732.6,306.1 L733.8,306.3 L734.5,306.1 L735.1,305.7 L735.4,304.9 L735.2,304.2 L734.7,303.7 L733.8,303.2 L733.2,303.0 L732.5,303.1 L732.3,303.2 L731.6,303.9Z" fill="#c00000"/>
<path d="M702.2,315.4 L702.0,316.2 L702.2,317.0 L702.8,317.5 L704.6,318.3 L705.6,318.3 L706.2,318.1 L706.9,317.6 L707.1,316.8 L706.9,316.0 L706.3,315.0 L705.7,314.5 L704.9,314.4 L703.3,314.6 L702.8,314.8 L702.4,315.2Z" fill="#ed7d31"/>
<path d="M612.0,300.3 L612.0,301.0 L612.5,301.7 L613.2,302.0 L615.8,302.3 L616.4,302.2 L617.0,301.8 L618.1,300.6 L618.4,300.0 L618.5,299.4 L618.2,298.8 L617.2,297.4 L616.6,296.9 L615.8,296.9 L613.5,297.4 L612.8,297.8 L612.5,298.4Z" fill="#ffc000"/>
<path d="M698.1,304.4 L698.5,305.1 L699.1,305.5 L699.1,305.5 L699.9,305.5 L700.6,305.1 L701.4,304.2 L701.7,303.6 L701.7,302.9 L701.4,302.3 L701.0,301.8 L700.5,301.5 L699.9,301.4 L699.3,301.4 L698.5,301.6 L698.0,302.2 L697.9,303.0Z" fill="#548235"/>
<path d="M541.8,311.1 L542.1,310.6 L542.2,309.9 L542.0,309.3 L540.6,307.3 L540.1,306.8 L539.5,306.6 L538.9,306.8 L535.6,308.2 L535.1,308.6 L534.8,309.2 L534.8,309.8 L535.3,311.9 L535.6,312.5 L536.3,312.9 L538.2,313.5 L538.9,313.5 L539.6,313.1Z" fill="#ffc000"/>
<path d="M623.2,309.4 L622.3,309.4 L621.7,309.8 L621.3,310.6 L621.0,312.7 L621.2,313.6 L621.8,314.2 L622.0,314.2 L622.9,314.3 L626.1,313.6 L626.7,313.4 L627.1,312.9 L627.2,312.3 L627.3,311.9 L627.0,311.1 L626.3,310.5Z" fill="#ffc000"/>
<path d="M596.5,289.2 L597.1,288.8 L597.4,288.3 L597.5,287.6 L597.2,287.0 L596.8,286.5 L596.3,286.1 L595.7,285.9 L592.1,285.8 L591.4,285.9 L590.9,286.4 L590.3,287.3 L590.0,287.9 L590.1,288.5 L590.4,289.0 L591.3,290.0 L592.0,290.5 L592.8,290.4Z" fill="#ffc000"/>
<path d="M711.0,317.2 L710.3,317.6 L710.0,318.2 L710.0,319.0 L710.3,319.6 L710.9,320.2 L711.5,320.5 L712.1,320.6 L712.7,320.3 L713.7,319.6 L714.1,319.1 L714.2,318.4 L714.0,317.8 L713.9,317.6 L713.3,317.0 L712.4,316.9Z" fill="#548235"/>
<path d="M654.5,318.9 L653.9,319.2 L653.6,319.8 L653.5,320.4 L653.7,321.8 L654.0,322.6 L654.7,323.0 L656.8,323.6 L657.5,323.6 L658.1,323.2 L660.0,321.5 L660.4,320.9 L660.5,320.2 L660.2,319.6 L659.6,319.1 L657.6,318.3 L656.6,318.2Z" fill="#ffc000"/>
<path d="M557.4,270.6 L556.7,270.8 L556.2,271.3 L556.0,271.9 L556.2,272.6 L556.6,273.1 L559.7,275.2 L560.2,275.4 L560.8,275.4 L563.1,274.8 L563.6,274.5 L564.0,274.0 L564.5,272.9 L564.6,272.3 L564.4,271.7 L563.9,271.2 L563.0,270.6 L562.3,270.4 L561.9,270.4 L561.8,270.4Z" fill="#ffc000"/>
<path d="M545.6,345.5 L546.3,345.9 L547.8,346.3 L548.0,346.4 L551.3,346.8 L552.0,346.7 L552.6,346.2 L552.9,345.5 L552.7,344.8 L551.7,342.5 L551.1,341.9 L550.3,341.7 L546.8,341.9 L546.2,342.1 L545.7,342.5 L545.1,343.3 L544.8,343.9 L544.9,344.5 L545.2,345.1Z" fill="#ffc000"/>
<path d="M690.3,312.1 L689.7,312.5 L689.4,313.1 L689.4,313.7 L689.6,314.3 L690.6,315.6 L691.1,316.0 L691.7,316.2 L692.3,316.0 L693.9,315.2 L694.4,314.7 L694.7,314.0 L694.7,313.0 L694.6,312.3 L694.1,311.7 L693.7,311.5 L693.1,311.3 L692.5,311.4Z" fill="#ed7d31"/>
<path d="M709.8,278.8 L709.0,279.0 L708.4,279.5 L708.2,280.3 L708.2,280.8 L708.5,281.5 L709.2,282.0 L710.0,282.0 L711.3,281.7 L711.9,281.4 L712.3,280.7 L712.3,279.9 L711.8,279.3 L711.1,279.0Z" fill="#ffc000"/>
<path d="M757.7,301.2 L761.4,301.4 L761.6,301.2 L759.9,298.4 L758.5,298.4 L756.8,299.7Z" fill="#ffc000"/>
<path d="M687.7,269.1 L686.7,269.3 L686.2,269.6 L685.7,270.0 L685.5,270.6 L685.5,271.2 L685.9,272.7 L686.4,273.4 L687.2,273.7 L688.5,273.7 L689.3,273.5 L689.5,273.3 L690.0,272.7 L690.1,271.9 L689.7,270.3 L689.3,269.6 L688.6,269.3Z" fill="#ed7d31"/>
<path d="M608.0,343.1 L608.4,343.5 L609.0,343.8 L609.6,343.7 L612.2,342.8 L612.8,342.4 L613.1,341.7 L613.2,340.7 L613.2,340.0 L612.7,339.4 L612.0,339.1 L608.5,338.8 L607.9,338.8 L607.4,339.1 L607.0,339.4 L606.7,339.9 L606.6,340.6 L606.8,341.2Z" fill="#548235"/>
<path d="M576.1,316.8 L575.7,317.6 L576.0,318.5 L577.8,321.2 L578.2,321.6 L578.8,321.9 L579.0,321.9 L579.6,321.8 L580.1,321.5 L582.6,319.2 L583.0,318.7 L583.1,318.1 L582.9,317.5 L582.4,316.7 L581.9,316.2 L581.2,316.0 L577.1,316.2 L576.6,316.3 L576.1,316.7Z" fill="#ffc000"/>
<path d="M565.9,299.7 L566.7,299.6 L567.3,299.0 L568.8,296.5 L569.0,295.8 L568.7,295.0 L568.1,294.5 L566.8,294.0 L565.7,294.0 L562.3,295.2 L561.7,295.6 L561.4,296.1 L561.3,296.7 L561.5,298.1 L561.7,298.7 L562.1,299.1 L562.7,299.3Z" fill="#548235"/>
<path d="M657.3,271.8 L656.7,272.1 L656.3,272.7 L656.3,273.4 L656.6,274.1 L657.2,274.4 L660.0,275.4 L660.7,275.5 L661.3,275.2 L661.7,274.7 L661.9,274.1 L661.7,273.4 L661.0,272.0 L660.6,271.5 L660.0,271.2 L659.4,271.3Z" fill="#ffc000"/>
<path d="M724.0,295.9 L723.5,296.4 L723.3,297.2 L723.5,297.9 L724.1,298.4 L725.5,299.0 L726.3,299.1 L727.0,298.7 L727.4,298.3 L727.8,297.7 L727.8,297.1 L727.5,296.4 L727.0,296.0 L725.7,295.5 L725.1,295.4 L724.5,295.6Z" fill="#ffc000"/>
<path d="M585.5,342.6 L585.2,343.4 L585.5,344.2 L585.9,344.8 L586.4,345.3 L587.1,345.4 L592.1,345.3 L592.8,345.0 L593.3,344.4 L593.4,343.7 L593.1,343.0 L591.8,341.4 L591.2,341.0 L590.5,340.9 L586.9,341.5 L586.0,342.0Z" fill="#1fb8c6"/>
<path d="M735.1,297.2 L735.0,297.9 L735.2,298.6 L735.7,299.1 L736.4,299.3 L736.5,299.2 L737.1,299.1 L737.6,298.6 L737.8,298.0 L737.7,297.3 L737.3,296.8 L737.3,296.8 L736.5,296.4 L735.7,296.6 L735.1,297.2Z" fill="#ffc000"/>
<path d="M712.2,267.0 L712.3,266.2 L711.8,265.5 L711.1,265.1 L709.1,264.9 L708.5,264.9 L708.4,265.0 L707.8,265.3 L707.5,265.9 L707.2,267.0 L707.2,267.8 L707.6,268.4 L707.8,268.6 L708.6,269.0 L710.3,269.1 L711.1,268.9 L711.7,268.2Z" fill="#548235"/>
<path d="M543.2,270.6 L542.6,270.9 L542.1,271.3 L541.9,272.0 L541.9,272.4 L542.0,273.1 L542.5,273.6 L546.7,276.3 L547.7,276.5 L548.1,276.4 L548.9,275.9 L551.1,273.3 L551.4,272.6 L551.3,271.8 L550.7,271.2 L549.4,270.4 L548.6,270.3Z" fill="#548235"/>
<path d="M506.1,299.0 L505.4,298.9 L504.8,299.0 L504.3,299.4 L502.1,302.1 L501.8,302.8 L501.9,303.5 L502.4,304.1 L505.3,306.4 L505.9,306.6 L506.5,306.6 L508.6,306.1 L509.3,305.7 L509.6,305.0 L510.1,302.4 L510.0,301.5 L509.4,300.9Z" fill="#ed7d31"/>
<path d="M566.8,308.9 L566.4,308.6 L565.8,308.5 L561.8,308.6 L561.1,308.7 L560.7,309.2 L560.4,309.8 L559.9,313.0 L560.0,313.7 L560.4,314.3 L560.9,314.7 L561.8,315.0 L564.4,315.0 L565.0,314.8 L565.5,314.3 L567.5,311.2 L567.8,310.6 L567.7,310.0 L567.4,309.5Z" fill="#ffc000"/>
<path d="M631.7,316.5 L630.9,316.7 L630.4,317.3 L629.5,319.2 L629.3,319.8 L629.5,320.4 L629.9,320.9 L631.2,322.0 L632.2,322.3 L633.0,322.2 L633.8,321.9 L634.2,321.3 L635.0,318.6 L635.1,317.9 L634.7,317.2 L634.4,316.9 L633.9,316.6 L633.4,316.5Z" fill="#ffc000"/>
<path d="M598.1,317.6 L598.8,317.6 L599.4,317.3 L600.4,316.4 L600.8,315.7 L600.8,314.9 L600.3,314.2 L598.4,312.7 L597.9,312.5 L597.3,312.5 L594.1,313.0 L593.5,313.3 L593.1,313.9 L593.0,314.6 L593.1,315.4 L593.4,316.1 L594.1,316.6Z" fill="#ffc000"/>
<path d="M659.8,280.8 L659.4,281.3 L659.2,281.9 L659.3,282.6 L659.7,283.1 L661.8,284.9 L662.8,285.2 L663.2,285.2 L664.0,284.9 L664.8,284.3 L665.2,283.8 L665.3,283.1 L665.3,282.6 L665.0,281.9 L664.4,281.4 L661.6,280.4 L661.0,280.3 L660.4,280.5Z" fill="#ffc000"/>
<path d="M715.5,304.7 L714.8,305.0 L714.4,305.7 L714.4,305.9 L714.3,306.5 L714.6,307.0 L715.0,307.5 L716.3,308.3 L716.9,308.5 L717.6,308.4 L718.1,308.0 L718.5,307.5 L718.8,306.8 L718.7,306.0 L718.2,305.2 L717.9,304.7 L717.3,304.4 L716.7,304.4Z" fill="#ffc000"/>
<path d="M623.9,338.3 L624.0,339.1 L624.5,339.7 L625.3,339.9 L627.5,339.9 L628.3,339.7 L628.8,339.0 L629.5,337.1 L629.6,336.5 L629.4,335.9 L628.9,335.5 L628.3,335.3 L625.8,335.1 L625.1,335.2 L624.6,335.7 L624.3,336.3Z" fill="#1fb8c6"/>
<path d="M727.2,309.7 L726.5,309.9 L725.9,310.5 L725.8,311.2 L726.0,311.9 L726.1,312.1 L726.7,312.5 L727.3,312.7 L728.9,312.7 L729.6,312.4 L730.1,311.9 L730.2,311.1 L729.9,310.4 L729.8,310.3 L729.3,309.8 L728.7,309.7Z" fill="#ffc000"/>
<path d="M502.5,310.5 L503.1,310.3 L503.6,309.8 L504.0,309.0 L504.2,308.4 L504.1,307.7 L503.6,307.2 L500.2,304.6 L499.2,304.3 L498.6,304.3 L497.7,304.8 L494.9,307.7 L494.6,308.3 L494.5,308.9 L494.8,309.5 L495.3,310.2 L495.8,310.6 L496.4,310.8Z" fill="#1fb8c6"/>
<path d="M720.8,307.6 L720.3,307.7 L719.8,308.1 L719.7,308.1 L719.4,308.8 L719.5,309.5 L719.9,310.1 L720.0,310.3 L720.6,310.5 L721.1,310.6 L723.3,310.3 L723.9,310.1 L724.4,309.6 L724.5,308.9 L724.3,308.2 L724.3,308.2 L723.8,307.7 L723.0,307.5Z" fill="#ed7d31"/>
<path d="M518.1,291.3 L518.1,292.0 L518.5,292.6 L519.2,293.0 L525.1,293.8 L525.6,293.8 L526.1,293.5 L526.6,293.1 L527.0,292.5 L527.1,291.7 L526.6,289.9 L526.3,289.2 L525.7,288.9 L522.7,287.9 L521.6,288.0 L519.0,289.3 L518.6,289.7 L518.3,290.3Z" fill="#c00000"/>
<path d="M748.7,307.3 L751.4,306.0 L751.5,304.9 L747.8,303.7 L746.5,305.5Z" fill="#ffc000"/>
<path d="M574.4,285.8 L574.1,286.6 L574.4,287.4 L575.1,288.4 L575.5,288.8 L576.1,288.9 L580.4,289.3 L580.9,289.2 L581.4,288.9 L581.5,288.9 L581.9,288.2 L581.8,287.3 L580.8,284.6 L580.3,284.0 L579.6,283.7 L576.9,283.5 L576.2,283.7 L575.7,284.1Z" fill="#ffc000"/>
<path d="M685.8,282.9 L686.0,282.1 L685.8,281.3 L685.2,280.8 L685.1,280.8 L684.3,280.7 L681.9,281.2 L681.1,281.6 L680.8,282.4 L680.7,283.2 L680.8,283.9 L681.2,284.4 L681.9,284.7 L683.5,284.9 L684.2,284.8 L684.8,284.3Z" fill="#ffc000"/>
<path d="M678.5,304.9 L677.8,305.3 L677.5,305.9 L677.4,306.6 L677.8,308.3 L678.2,308.9 L678.8,309.3 L679.7,309.6 L680.7,309.5 L682.3,308.7 L682.8,308.2 L683.0,307.4 L682.8,306.7 L682.2,306.2 L679.7,304.9 L678.8,304.8Z" fill="#ed7d31"/>
<path d="M658.9,298.9 L658.3,299.1 L658.0,299.7 L657.9,300.3 L658.1,301.0 L658.5,301.4 L660.7,302.7 L661.4,302.9 L662.1,302.8 L662.5,302.6 L663.1,302.0 L663.3,301.3 L663.2,299.5 L663.0,298.8 L662.3,298.3 L661.5,298.2Z" fill="#ffc000"/>
<path d="M505.5,327.3 L504.9,326.8 L504.1,326.7 L500.1,327.3 L499.6,327.5 L499.1,327.9 L498.3,329.3 L498.1,330.0 L498.1,330.6 L498.5,331.1 L500.1,332.5 L500.9,332.9 L505.4,333.2 L506.1,333.1 L506.7,332.6 L507.3,331.6 L507.5,330.8 L507.3,330.1Z" fill="#548235"/>
<path d="M596.3,345.1 L595.5,345.5 L595.2,345.8 L594.9,346.3 L594.9,346.9 L595.3,349.5 L595.6,350.1 L596.1,350.6 L596.8,350.8 L597.6,350.9 L600.6,350.5 L601.4,350.1 L601.8,349.4 L602.0,348.4 L601.9,347.5 L601.3,346.9 L598.1,345.1 L597.2,344.9Z" fill="#548235"/>
<path d="M728.0,276.6 L728.8,276.4 L729.4,275.8 L729.7,275.3 L729.9,274.6 L729.7,274.0 L729.3,273.5 L729.2,273.4 L728.7,273.2 L728.1,273.2 L726.6,273.5 L726.0,273.9 L725.6,274.4 L725.6,275.1 L725.6,275.3 L726.0,276.0 L726.8,276.4Z" fill="#ffc000"/>
<path d="M632.4,287.8 L632.6,288.5 L633.1,289.0 L634.1,289.7 L635.0,289.9 L636.0,289.8 L636.7,289.6 L637.1,289.1 L638.1,287.4 L638.2,286.7 L638.0,285.9 L637.3,285.4 L635.3,284.6 L634.7,284.5 L634.1,284.7 L633.2,285.2 L632.7,285.7 L632.5,286.4Z" fill="#ffc000"/>
<path d="M602.0,289.2 L601.4,289.5 L601.0,290.2 L601.0,290.9 L601.6,292.8 L601.9,293.4 L602.5,293.7 L604.5,294.5 L605.4,294.5 L606.6,294.1 L607.1,293.8 L607.5,293.3 L608.1,291.8 L608.1,291.1 L607.9,290.5 L607.3,290.0 L604.4,288.8 L603.5,288.8Z" fill="#ffc000"/>
<path d="M697.6,298.2 L697.6,298.9 L697.8,299.5 L698.4,299.9 L699.0,300.0 L699.9,300.0 L700.5,299.9 L700.9,299.5 L701.4,299.0 L701.7,298.4 L701.7,297.7 L701.4,297.1 L700.7,296.7 L699.6,296.4 L698.8,296.4 L698.2,296.7 L697.8,297.4Z" fill="#548235"/>
<path d="M652.0,324.9 L651.4,325.5 L651.3,326.4 L651.6,328.4 L652.0,329.0 L652.6,329.4 L653.4,329.5 L656.7,328.6 L657.2,328.4 L657.5,328.0 L657.7,327.6 L657.9,326.9 L657.8,326.3 L657.5,325.7 L657.1,325.3 L656.6,325.0 L653.8,324.3 L652.7,324.4Z" fill="#ffc000"/>
<path d="M528.9,288.3 L528.4,288.9 L528.3,289.8 L528.7,291.2 L529.1,291.9 L529.9,292.2 L532.9,292.6 L533.6,292.5 L534.2,292.0 L535.7,289.8 L536.0,289.2 L535.9,288.6 L535.6,288.0 L535.0,287.7 L532.1,286.8 L531.5,286.7 L530.9,287.0Z" fill="#ed7d31"/>
<path d="M740.1,301.1 L740.5,301.6 L741.2,301.8 L741.9,301.7 L742.6,301.3 L743.2,300.8 L743.4,300.1 L743.2,299.4 L742.7,298.8 L742.3,298.6 L741.3,298.4 L740.8,298.6 L739.9,299.1 L739.9,299.1 L739.6,299.9 L739.8,300.7Z" fill="#548235"/>
<path d="M560.3,305.6 L560.5,306.3 L561.0,306.8 L561.7,306.9 L565.4,306.9 L566.1,306.7 L566.6,306.1 L567.7,303.8 L567.9,303.0 L567.5,302.3 L567.2,301.9 L566.3,301.4 L561.7,300.9 L560.9,301.0 L560.3,301.5 L560.1,302.3Z" fill="#548235"/>
<path d="M500.7,282.8 L500.0,283.2 L499.7,284.0 L499.9,284.8 L501.1,287.0 L501.6,287.5 L502.2,287.8 L505.0,288.1 L505.6,288.1 L506.1,287.8 L508.8,285.4 L509.2,284.7 L509.2,283.9 L508.8,283.3 L506.7,281.7 L506.1,281.4 L505.5,281.4Z" fill="#ffc000"/>
<path d="M647.0,325.3 L646.3,325.4 L645.8,325.8 L644.8,326.9 L644.5,327.5 L644.5,328.2 L644.8,328.8 L646.3,330.3 L646.8,330.7 L647.5,330.7 L649.1,330.5 L649.7,330.2 L650.2,329.6 L650.2,328.8 L649.8,326.6 L649.4,325.9 L648.6,325.5Z" fill="#ffc000"/>
<path d="M737.8,277.9 L737.0,277.7 L736.2,278.1 L735.9,278.4 L735.5,279.0 L735.5,279.8 L735.6,280.0 L736.1,280.7 L736.8,281.0 L738.1,281.1 L738.9,281.0 L739.5,280.5 L739.7,279.8 L739.5,279.0 L738.9,278.5Z" fill="#548235"/>
<path d="M712.0,300.2 L712.1,299.5 L711.9,298.9 L711.4,298.4 L710.8,298.2 L710.1,298.3 L708.6,298.9 L708.0,299.5 L707.8,300.4 L707.8,301.0 L708.1,301.6 L708.7,302.1 L709.4,302.2 L710.4,302.1 L711.0,301.8 L711.5,301.2Z" fill="#548235"/>
<path d="M757.1,286.3 L756.5,286.7 L756.2,287.3 L756.2,288.0 L756.5,288.6 L756.8,289.0 L757.4,289.3 L758.0,289.4 L758.2,289.4 L759.1,288.9 L759.5,288.3 L759.8,287.7 L759.8,287.0 L759.4,286.4 L758.8,286.1 L758.1,286.1Z" fill="#548235"/>
<path d="M733.3,291.5 L732.8,291.9 L732.5,292.6 L732.5,293.2 L732.9,293.8 L733.5,294.2 L733.8,294.3 L734.6,294.3 L735.2,293.9 L735.6,293.3 L735.6,292.5 L735.5,292.3 L735.1,291.6 L734.4,291.3 L733.6,291.4Z" fill="#ed7d31"/>
<path d="M731.8,286.8 L734.6,288.4 L736.7,286.3 L733.5,284.4Z" fill="#1fb8c6"/>
<path d="M723.5,291.8 L722.6,291.6 L720.1,291.8 L719.2,292.2 L719.0,292.5 L718.6,293.2 L718.7,294.0 L718.8,294.2 L719.6,294.9 L721.1,295.5 L721.7,295.5 L722.3,295.4 L723.6,294.5 L724.1,294.0 L724.3,293.3 L724.3,293.0 L724.1,292.3 L723.6,291.8Z" fill="#ed7d31"/>
<path d="M616.7,304.5 L616.2,304.0 L615.7,303.8 L612.7,303.5 L612.1,303.6 L611.6,303.9 L611.3,304.4 L610.4,307.0 L610.4,307.6 L610.6,308.3 L611.2,308.7 L611.6,308.9 L612.6,308.9 L616.6,307.5 L617.3,307.1 L617.6,306.3 L617.3,305.5Z" fill="#548235"/>
<path d="M599.3,306.1 L600.0,306.1 L600.6,305.8 L601.0,305.2 L601.6,303.4 L601.6,302.7 L601.3,302.0 L600.6,301.7 L597.0,300.6 L596.4,300.5 L595.8,300.7 L595.1,301.3 L594.6,301.8 L594.4,302.5 L594.5,303.6 L594.8,304.3 L595.5,304.8Z" fill="#ffc000"/>
<path d="M586.2,326.2 L585.7,326.7 L585.5,327.3 L585.6,328.0 L585.9,328.5 L586.8,329.3 L587.4,329.6 L588.1,329.6 L592.4,328.6 L593.1,328.3 L593.4,327.7 L593.5,326.9 L593.2,325.9 L592.9,325.3 L592.4,324.9 L591.1,324.3 L590.5,324.2 L589.9,324.4Z" fill="#ffc000"/>
<path d="M683.7,305.3 L684.5,305.5 L685.3,305.2 L685.7,304.5 L686.1,303.1 L686.1,302.5 L685.9,301.9 L685.3,301.5 L684.7,301.3 L682.8,301.4 L682.2,301.6 L681.7,302.0 L681.4,302.4 L681.1,303.1 L681.3,303.9 L681.9,304.4Z" fill="#ffc000"/>
<path d="M708.6,287.1 L708.1,287.6 L708.0,288.3 L708.2,289.0 L708.6,289.5 L709.3,289.7 L710.4,289.7 L711.2,289.6 L711.8,289.0 L711.9,288.2 L711.6,287.5 L711.0,287.0 L710.2,286.7 L709.5,286.7 L708.9,286.9Z" fill="#ffc000"/>
<path d="M522.8,285.3 L523.1,286.1 L523.8,286.5 L526.4,287.3 L527.0,287.4 L527.6,287.1 L529.6,285.8 L530.1,285.2 L530.2,284.4 L530.1,283.6 L529.8,283.0 L529.2,282.5 L526.1,281.4 L525.6,281.3 L525.0,281.4 L523.6,282.1 L522.9,282.6 L522.7,283.4Z" fill="#1fb8c6"/>
<path d="M627.4,301.5 L628.1,302.0 L628.9,301.9 L633.6,300.3 L634.3,299.9 L634.6,299.2 L634.5,298.5 L634.0,297.9 L632.4,296.6 L631.5,296.3 L628.6,296.5 L627.9,296.7 L627.4,297.2 L626.5,299.1 L626.3,299.9 L626.7,300.6Z" fill="#ffc000"/>
<path d="M713.1,268.4 L713.0,269.1 L713.3,269.8 L713.9,270.2 L714.6,270.3 L716.3,270.1 L717.1,269.7 L717.5,269.0 L717.7,267.9 L717.7,267.1 L717.2,266.5 L716.5,266.2 L715.1,266.1 L714.3,266.3 L713.7,266.9Z" fill="#548235"/>
<path d="M693.3,291.1 L693.1,291.9 L693.3,292.7 L693.6,293.1 L694.0,293.5 L694.5,293.7 L696.2,294.0 L697.0,293.9 L697.6,293.3 L698.2,292.2 L698.4,291.6 L698.2,290.9 L697.7,290.4 L697.1,290.1 L694.9,290.0 L694.2,290.2 L693.7,290.6Z" fill="#ffc000"/>
<path d="M628.6,304.5 L628.0,304.0 L627.3,303.9 L626.5,304.2 L624.4,306.0 L623.9,306.6 L623.9,307.3 L624.2,308.0 L624.8,308.4 L627.4,309.3 L628.0,309.4 L628.6,309.2 L629.5,308.7 L630.0,308.1 L630.2,307.4 L630.0,306.7Z" fill="#548235"/>
<path d="M611.6,290.7 L610.9,290.7 L610.2,291.0 L609.8,291.6 L609.2,293.1 L609.2,293.8 L609.4,294.4 L609.9,294.8 L611.7,295.8 L612.7,296.0 L615.9,295.3 L616.4,295.0 L616.8,294.6 L616.9,294.5 L617.1,293.9 L616.9,293.2 L616.8,293.0 L616.5,292.5 L616.0,292.2Z" fill="#548235"/>
<path d="M481.3,270.3 L480.6,270.7 L480.2,271.3 L480.3,272.1 L480.7,273.5 L481.0,274.1 L481.6,274.5 L486.2,275.9 L486.8,276.0 L487.3,275.8 L488.4,275.2 L489.0,274.6 L489.1,273.9 L488.9,271.2 L488.6,270.4 L488.0,269.9 L486.3,269.4 L485.5,269.3Z" fill="#1fb8c6"/>
<path d="M663.0,318.3 L662.6,318.9 L662.5,319.6 L662.8,320.3 L663.5,320.7 L666.0,321.5 L666.6,321.6 L667.3,321.3 L668.3,320.4 L668.8,319.8 L668.8,319.0 L668.5,317.5 L668.3,317.0 L667.8,316.6 L667.1,316.2 L666.3,316.0 L665.5,316.3Z" fill="#1fb8c6"/>
<path d="M539.6,273.6 L540.0,273.1 L540.2,272.4 L540.2,272.3 L540.0,271.5 L539.3,271.0 L535.9,269.8 L535.0,269.8 L532.4,270.5 L531.8,270.9 L531.4,271.7 L531.3,272.7 L531.4,273.5 L532.0,274.1 L534.9,275.7 L535.6,275.8 L536.3,275.6Z" fill="#1fb8c6"/>
<path d="M562.6,338.3 L561.8,338.6 L561.4,339.3 L561.4,340.1 L562.0,342.1 L562.4,342.7 L563.0,343.0 L565.8,343.8 L566.9,343.7 L567.8,343.2 L568.3,342.7 L568.5,342.0 L568.6,339.3 L568.4,338.5 L567.9,338.0 L567.1,337.8Z" fill="#548235"/>
<path d="M686.2,321.9 L685.4,321.8 L684.6,322.1 L684.2,322.7 L683.9,323.6 L683.9,324.4 L684.3,325.0 L685.0,325.4 L687.7,325.8 L688.6,325.7 L689.2,325.1 L689.2,325.1 L689.4,324.4 L689.2,323.7 L688.6,323.2Z" fill="#ffc000"/>
<path d="M586.0,348.8 L585.9,349.6 L586.3,350.3 L587.0,350.6 L590.4,351.4 L591.2,351.3 L592.7,350.7 L593.3,350.4 L593.6,349.8 L593.6,349.2 L593.4,348.0 L593.2,347.4 L592.7,347.0 L592.0,346.9 L587.5,347.0 L586.7,347.3 L586.2,348.0Z" fill="#548235"/>
<path d="M730.1,316.2 L730.3,315.5 L730.2,314.8 L729.7,314.2 L728.9,314.0 L727.3,314.0 L726.6,314.2 L726.2,314.6 L726.1,314.7 L725.9,315.5 L726.1,316.4 L726.3,316.6 L727.2,317.1 L728.4,317.3 L729.1,317.2 L729.7,316.7Z" fill="#ffc000"/>
<path d="M496.5,321.4 L496.4,322.2 L496.8,322.9 L498.8,325.1 L499.3,325.5 L500.0,325.6 L503.6,325.0 L504.2,324.8 L504.7,324.3 L504.8,323.7 L504.7,323.1 L503.4,320.0 L502.8,319.4 L502.0,319.2 L498.2,319.5 L497.5,319.8 L497.0,320.3Z" fill="#ffc000"/>
<path d="M709.1,322.9 L709.6,322.5 L709.8,321.9 L709.8,321.2 L709.4,320.6 L708.4,319.6 L707.7,319.2 L706.9,319.3 L706.3,319.5 L705.8,319.9 L705.4,320.5 L705.4,320.8 L705.3,321.4 L705.6,321.9 L706.0,322.3 L707.3,323.1 L707.9,323.3 L708.6,323.1Z" fill="#ffc000"/>
<path d="M605.5,286.1 L605.4,286.8 L605.7,287.5 L606.3,287.9 L608.9,289.0 L609.6,289.1 L610.2,288.8 L610.7,288.3 L611.6,286.3 L611.7,285.4 L611.3,284.7 L610.2,283.7 L609.2,283.3 L607.4,283.4 L606.6,283.6 L606.1,284.3Z" fill="#ffc000"/>
<path d="M536.2,298.8 L536.0,299.4 L536.1,300.0 L536.5,300.6 L539.8,303.2 L540.5,303.5 L541.3,303.4 L542.2,302.9 L542.7,302.4 L542.9,301.8 L543.2,298.5 L543.0,297.7 L542.5,297.1 L541.7,297.0 L537.9,297.1 L537.2,297.4 L536.7,297.9Z" fill="#1fb8c6"/>
<path d="M686.5,275.0 L685.7,275.2 L685.2,275.8 L685.1,276.6 L685.4,278.6 L685.6,279.3 L686.2,279.7 L686.2,279.7 L686.9,279.8 L687.6,279.6 L689.1,278.5 L689.5,278.0 L689.7,277.4 L689.5,276.7 L689.1,275.9 L688.6,275.3 L687.9,275.1Z" fill="#ffc000"/>
<path d="M761.3,302.8 L761.2,302.3 L757.7,302.1 L756.5,303.6 L758.0,305.2 L759.6,304.9 L759.7,304.8Z" fill="#548235"/>
<path d="M597.0,276.3 L596.5,276.8 L596.3,277.5 L596.4,278.1 L596.9,278.7 L598.9,280.1 L599.9,280.4 L601.8,280.1 L602.5,279.8 L602.9,279.2 L603.4,277.6 L603.4,277.0 L603.2,276.4 L602.7,276.0 L600.8,275.0 L600.2,274.8 L599.5,275.0Z" fill="#ffc000"/>
<path d="M643.6,337.4 L644.0,336.9 L644.1,336.3 L643.9,335.6 L643.5,335.2 L642.9,334.9 L639.7,334.6 L639.1,334.6 L638.6,334.9 L637.8,335.6 L637.4,336.4 L637.5,337.2 L638.2,338.9 L638.7,339.5 L639.5,339.7 L640.2,339.7 L641.0,339.4Z" fill="#ffc000"/>
<path d="M616.6,339.4 L615.8,339.4 L615.2,339.9 L614.8,340.6 L614.7,341.8 L614.8,342.6 L615.3,343.2 L617.1,344.2 L617.6,344.4 L618.2,344.4 L620.6,343.7 L621.1,343.4 L621.5,342.9 L621.7,342.4 L621.8,341.6 L621.5,340.8 L620.8,340.4Z" fill="#ed7d31"/>
<path d="M749.4,287.5 L751.1,288.4 L754.5,287.5 L754.8,286.3 L752.9,284.8 L750.4,285.3Z" fill="#ffc000"/>
<path d="M556.8,282.0 L556.0,282.6 L555.3,283.8 L555.1,284.4 L555.2,285.1 L555.6,285.6 L557.5,287.3 L558.1,287.6 L558.7,287.6 L563.1,286.7 L563.8,286.3 L564.2,285.8 L564.2,285.1 L563.9,284.4 L563.4,284.0 L558.1,281.9 L557.1,281.8Z" fill="#548235"/>
<path d="M487.7,289.0 L488.3,288.6 L488.6,288.0 L489.0,285.8 L488.9,285.0 L488.4,284.4 L486.7,283.2 L486.1,283.0 L485.6,283.0 L481.3,284.1 L480.7,284.5 L480.4,285.0 L479.8,286.8 L479.8,287.6 L480.1,288.3 L482.2,290.2 L482.8,290.6 L483.6,290.5Z" fill="#1fb8c6"/>
<path d="M582.9,325.0 L583.7,325.4 L584.6,325.3 L588.4,323.3 L588.9,322.9 L589.1,322.3 L589.1,321.6 L588.8,321.0 L588.4,320.4 L587.8,320.1 L585.5,319.6 L584.8,319.6 L584.2,319.9 L582.0,322.0 L581.6,322.6 L581.6,323.3 L581.9,323.9Z" fill="#548235"/>
<path d="M705.9,277.7 L706.6,277.5 L707.2,277.0 L707.4,276.3 L707.4,276.1 L707.2,275.4 L706.8,274.9 L706.0,274.3 L705.1,274.0 L703.8,274.1 L703.2,274.3 L702.8,274.7 L702.4,275.2 L702.1,275.9 L702.3,276.7 L702.4,276.9 L702.9,277.4 L703.6,277.6Z" fill="#ed7d31"/>
<path d="M558.5,322.7 L557.5,322.4 L553.6,322.9 L553.0,323.0 L552.6,323.4 L552.1,324.0 L551.8,324.8 L552.0,325.7 L553.8,328.5 L554.3,328.9 L554.9,329.1 L559.1,329.3 L559.7,329.2 L560.2,328.8 L560.5,328.3 L561.2,325.8 L561.1,325.0 L560.7,324.3Z" fill="#548235"/>
<path d="M667.4,276.9 L667.2,276.2 L666.7,275.7 L666.0,275.6 L664.0,275.6 L663.1,275.9 L662.3,276.5 L661.9,277.0 L661.7,277.6 L661.7,277.8 L661.9,278.6 L662.6,279.2 L665.2,280.1 L665.8,280.2 L666.4,280.0 L666.9,279.6 L667.4,279.1 L667.5,278.4Z" fill="#ed7d31"/>
<path d="M715.5,287.8 L714.6,287.9 L714.0,288.5 L713.3,289.8 L713.1,290.5 L713.3,291.2 L713.4,291.4 L713.9,291.8 L714.5,292.0 L716.6,292.3 L717.2,292.2 L717.8,291.8 L717.8,291.8 L718.1,291.1 L718.0,290.2 L717.2,288.7 L716.8,288.2 L716.2,287.9Z" fill="#ed7d31"/>
<path d="M704.8,295.5 L704.6,296.1 L704.6,296.7 L704.9,297.3 L705.5,297.6 L706.4,298.0 L707.4,298.0 L708.1,297.7 L708.7,297.3 L709.0,296.7 L709.0,296.0 L708.6,295.4 L708.1,295.0 L706.8,294.5 L705.9,294.5 L705.2,295.0Z" fill="#ffc000"/>
<path d="M638.1,307.3 L637.0,307.6 L636.5,308.0 L636.0,308.5 L635.8,309.2 L636.0,309.8 L636.7,310.9 L637.2,311.4 L637.8,311.5 L640.9,311.6 L641.7,311.4 L642.2,310.9 L642.4,310.2 L642.4,309.3 L642.2,308.7 L641.8,308.2 L641.2,307.9Z" fill="#548235"/>
<path d="M697.0,329.5 L696.2,329.5 L695.6,329.9 L695.2,330.5 L695.2,331.3 L695.6,331.9 L697.2,333.3 L697.8,333.6 L698.5,333.6 L700.1,333.2 L700.8,332.7 L700.8,332.7 L701.1,332.1 L701.1,331.4 L700.8,330.8 L700.2,330.5Z" fill="#548235"/>
<path d="M659.3,313.5 L658.7,313.7 L658.3,314.2 L658.1,314.8 L658.0,315.8 L658.2,316.6 L658.8,317.2 L660.1,317.7 L660.9,317.8 L661.5,317.6 L663.4,316.1 L663.8,315.6 L663.9,315.0 L663.8,314.4 L663.3,313.9 L662.6,313.4 L662.1,313.1 L661.6,313.1Z" fill="#548235"/>
<path d="M697.8,268.1 L697.2,268.6 L697.0,269.3 L697.2,270.1 L697.7,270.6 L698.4,270.8 L699.5,270.8 L700.3,270.5 L700.8,269.9 L700.9,269.7 L700.9,268.9 L700.4,268.1 L700.2,267.9 L699.5,267.6 L698.7,267.7Z" fill="#548235"/>
<path d="M509.6,293.9 L509.0,294.1 L508.4,294.6 L507.4,296.2 L507.2,296.9 L507.4,297.6 L507.9,298.1 L510.9,299.8 L511.9,299.9 L514.6,299.1 L515.3,298.7 L515.6,298.0 L516.0,295.5 L515.9,294.8 L515.4,294.2 L514.6,293.9Z" fill="#ed7d31"/>
<path d="M653.7,285.4 L653.5,284.7 L653.1,284.2 L652.5,283.9 L650.4,283.6 L649.7,283.7 L649.1,284.1 L648.9,284.3 L648.6,285.1 L648.7,285.9 L649.3,286.5 L651.2,287.6 L651.9,287.7 L652.5,287.6 L652.9,287.4 L653.4,286.9 L653.6,286.2Z" fill="#ffc000"/>
<path d="M663.2,295.7 L663.5,296.3 L664.1,296.7 L664.8,296.7 L666.7,296.4 L667.6,295.9 L668.1,295.2 L668.4,294.5 L668.3,293.7 L667.6,292.5 L667.2,292.0 L666.5,291.7 L665.9,291.8 L663.7,292.6 L663.1,293.0 L662.8,293.7 L662.8,294.3Z" fill="#548235"/>
<path d="M615.6,325.6 L616.1,326.3 L616.8,326.6 L617.6,326.4 L620.6,324.8 L621.1,324.3 L621.3,323.6 L621.3,323.1 L621.2,322.5 L620.7,322.0 L620.1,321.7 L616.5,321.3 L615.6,321.5 L615.4,321.6 L614.9,322.0 L614.7,322.6 L614.8,323.2Z" fill="#1fb8c6"/>
<path d="M636.5,303.0 L636.4,302.4 L636.0,301.9 L635.9,301.9 L635.3,301.6 L634.6,301.6 L631.3,302.7 L630.6,303.2 L630.4,304.0 L630.6,304.8 L631.8,306.9 L632.3,307.4 L632.9,307.6 L633.6,307.6 L634.6,307.4 L636.0,306.5 L636.4,306.0 L636.6,305.3Z" fill="#ffc000"/>
<path d="M689.9,279.7 L689.4,280.3 L689.3,281.0 L689.5,281.7 L690.1,282.2 L691.3,282.6 L692.1,282.7 L692.8,282.4 L693.2,281.8 L693.5,280.9 L693.5,280.1 L693.1,279.4 L692.4,279.0 L691.8,278.9 L690.7,279.1Z" fill="#ffc000"/>
<path d="M741.1,287.9 L744.3,286.8 L743.8,284.9 L740.4,284.6 L739.2,286.0Z" fill="#ffc000"/>
<path d="M515.0,268.9 L514.2,269.0 L512.5,269.6 L511.8,270.2 L511.6,271.0 L511.8,273.0 L512.1,273.8 L512.8,274.2 L515.4,275.0 L516.0,275.1 L516.5,274.9 L519.1,273.5 L519.6,273.0 L519.8,272.3 L519.8,271.2 L519.7,270.6 L519.3,270.1 L518.7,269.8Z" fill="#1fb8c6"/>
<path d="M637.1,298.3 L636.6,298.7 L636.3,299.4 L636.4,300.1 L636.8,300.6 L637.1,300.9 L638.0,301.2 L642.7,301.0 L643.4,300.8 L643.9,300.3 L644.0,299.6 L643.9,298.9 L643.4,298.4 L641.2,297.1 L640.5,296.9 L639.9,297.0Z" fill="#ffc000"/>
<path d="M619.8,294.6 L619.1,294.8 L618.6,295.4 L618.5,296.1 L618.7,296.8 L619.9,298.5 L620.4,298.9 L621.0,299.1 L623.8,299.2 L624.6,299.0 L625.1,298.4 L625.9,296.8 L626.0,295.9 L625.7,295.2 L625.4,294.9 L624.9,294.6 L624.4,294.5Z" fill="#1fb8c6"/>
<path d="M671.3,306.8 L670.6,307.1 L670.2,307.6 L670.0,308.3 L670.3,309.0 L670.3,309.1 L671.1,309.6 L673.6,310.4 L674.7,310.3 L675.6,309.8 L676.1,309.4 L676.3,308.9 L676.3,308.3 L676.2,307.5 L675.9,306.9 L675.3,306.5 L674.6,306.4Z" fill="#ffc000"/>
<path d="M714.1,321.0 L713.6,321.5 L713.5,322.2 L713.6,322.8 L714.1,323.3 L715.3,324.2 L716.0,324.4 L716.7,324.3 L716.8,324.3 L717.4,323.8 L717.6,323.2 L717.8,321.5 L717.7,320.8 L717.3,320.3 L716.7,320.0 L716.4,319.9 L715.8,319.9 L715.2,320.2Z" fill="#ffc000"/>
<path d="M680.5,266.9 L680.5,267.7 L680.9,268.4 L681.6,268.7 L683.7,269.0 L684.6,268.8 L685.3,268.4 L685.9,267.8 L685.9,266.9 L685.6,265.5 L685.3,264.9 L684.7,264.5 L684.1,264.4 L682.0,264.7 L681.3,265.0 L680.8,265.7Z" fill="#548235"/>
<path d="M730.9,273.0 L731.8,273.3 L732.5,273.2 L733.1,273.1 L733.5,272.7 L734.0,272.0 L734.3,271.3 L734.2,270.6 L733.7,270.0 L733.0,269.8 L731.3,269.6 L730.6,269.8 L730.1,270.2 L729.8,270.8 L729.7,271.2 L729.8,272.0 L730.3,272.6Z" fill="#ffc000"/>
<path d="M760.0,297.5 L761.7,296.3 L760.6,294.4 L757.6,294.6 L757.1,295.2 L758.6,297.5Z" fill="#ffc000"/>
<path d="M666.3,337.5 L666.0,338.0 L666.0,338.6 L666.2,339.2 L666.6,339.8 L667.0,340.2 L667.5,340.4 L668.3,340.5 L668.9,340.5 L671.3,339.7 L671.9,339.3 L672.2,338.6 L672.1,337.8 L671.7,337.2 L669.7,335.7 L669.1,335.5 L668.4,335.5 L667.8,335.9Z" fill="#1fb8c6"/>
<path d="M741.5,293.3 L743.1,294.6 L745.9,294.1 L746.6,292.7 L745.6,291.6 L742.0,291.7Z" fill="#ffc000"/>
<path d="M659.5,323.9 L659.1,324.6 L659.2,325.4 L659.6,326.0 L660.4,326.3 L664.2,326.6 L665.1,326.3 L665.9,325.7 L666.4,325.1 L666.5,324.3 L666.4,323.9 L666.0,323.3 L665.4,322.9 L662.7,322.0 L661.9,321.9 L661.3,322.3Z" fill="#ffc000"/>
<path d="M487.4,317.2 L486.7,317.6 L486.3,318.3 L486.4,319.1 L487.4,321.7 L487.8,322.2 L488.3,322.5 L489.0,322.6 L493.8,321.8 L494.4,321.5 L494.9,321.0 L495.4,319.7 L495.5,319.0 L495.2,318.3 L494.1,316.9 L493.5,316.5 L492.8,316.4Z" fill="#ed7d31"/>
<path d="M649.0,295.2 L649.4,295.8 L649.9,296.2 L650.6,296.3 L652.9,295.9 L653.6,295.7 L654.0,295.1 L654.1,294.5 L653.9,293.8 L653.5,293.3 L651.8,292.3 L651.2,292.1 L650.5,292.2 L649.6,292.6 L649.1,293.0 L648.8,293.5 L648.8,294.2Z" fill="#1fb8c6"/>
<path d="M677.9,321.0 L677.1,321.1 L676.6,321.7 L676.4,322.5 L676.5,323.8 L676.7,324.5 L677.2,324.9 L677.4,325.1 L678.1,325.3 L680.8,325.3 L681.7,325.1 L682.2,324.3 L682.6,323.0 L682.6,322.1 L682.1,321.4 L681.4,321.2Z" fill="#ed7d31"/>
<path d="M627.7,268.2 L627.0,268.6 L626.7,269.3 L626.7,270.1 L627.1,271.0 L627.5,271.6 L628.2,271.9 L631.1,272.3 L631.9,272.2 L632.5,271.7 L633.6,270.0 L633.8,269.2 L633.5,268.4 L632.9,267.9 L631.7,267.5 L630.9,267.4Z" fill="#1fb8c6"/>
<path d="M731.2,317.0 L730.9,317.6 L731.0,318.3 L731.3,318.9 L731.9,319.2 L732.6,319.2 L733.8,318.9 L734.4,318.5 L734.8,317.9 L734.8,317.1 L734.3,316.5 L733.6,316.2 L732.7,316.1 L732.0,316.2 L731.4,316.6Z" fill="#ffc000"/>
<path d="M744.2,313.7 L744.8,313.4 L745.2,312.8 L745.3,312.2 L745.2,311.7 L744.9,310.9 L744.3,310.5 L743.2,310.1 L742.3,310.1 L741.6,310.6 L741.5,310.8 L741.2,311.5 L741.3,312.2 L741.7,312.7 L742.7,313.5 L743.3,313.8 L743.9,313.8Z" fill="#548235"/>
<path d="M575.8,281.3 L576.3,281.7 L576.8,281.9 L580.3,282.2 L581.2,281.9 L582.8,280.7 L583.3,280.1 L583.4,279.3 L583.2,278.1 L582.9,277.5 L582.4,277.1 L581.8,277.0 L576.3,277.0 L575.7,277.1 L575.2,277.5 L574.7,278.1 L574.4,278.9 L574.7,279.8Z" fill="#ed7d31"/>
<path d="M650.8,297.7 L650.2,298.0 L649.8,298.5 L649.6,299.2 L649.8,299.8 L650.3,300.3 L652.3,301.5 L652.9,301.7 L653.6,301.6 L655.2,300.8 L655.7,300.4 L656.0,299.9 L656.1,299.6 L656.0,298.9 L655.6,298.2 L655.0,297.6 L654.5,297.3 L653.8,297.3Z" fill="#ffc000"/>
<path d="M592.0,310.3 L592.3,311.0 L592.9,311.4 L593.6,311.5 L596.7,310.9 L597.4,310.6 L597.8,310.1 L598.2,308.9 L598.3,308.2 L598.0,307.5 L597.3,307.1 L594.5,306.2 L593.9,306.1 L593.3,306.3 L592.3,307.0 L591.8,307.6 L591.7,308.3Z" fill="#ffc000"/>
<path d="M583.3,337.3 L582.8,336.8 L582.1,336.5 L579.3,336.3 L578.8,336.3 L578.3,336.6 L578.0,336.8 L577.6,337.5 L577.6,338.4 L578.7,341.5 L579.2,342.2 L580.0,342.4 L582.8,342.5 L583.4,342.4 L583.9,342.0 L584.4,341.4 L584.7,340.7 L584.6,339.9Z" fill="#1fb8c6"/>
<path d="M667.1,285.1 L666.3,285.2 L665.6,285.7 L665.4,286.4 L665.6,287.2 L666.7,289.1 L667.2,289.5 L667.9,289.7 L668.5,289.6 L670.3,288.8 L670.8,288.3 L671.1,287.7 L671.2,287.3 L671.1,286.6 L670.7,286.1 L670.1,285.7Z" fill="#ffc000"/>
<path d="M731.3,310.0 L731.9,310.5 L732.6,310.6 L733.7,310.4 L734.5,310.1 L734.9,309.3 L734.9,309.3 L734.9,308.5 L734.5,307.9 L733.8,307.6 L732.5,307.4 L731.8,307.5 L731.2,308.0 L731.1,308.2 L730.8,309.0 L731.1,309.8Z" fill="#548235"/>
<path d="M686.4,284.4 L686.2,285.2 L686.4,286.0 L687.0,286.5 L687.8,286.6 L689.7,286.3 L690.3,286.0 L690.8,285.4 L690.8,284.7 L690.5,284.1 L690.0,283.6 L688.7,283.1 L688.1,283.0 L687.4,283.2 L687.0,283.6Z" fill="#ffc000"/>
<path d="M638.9,323.8 L638.3,324.2 L638.0,324.9 L638.1,325.7 L638.4,326.4 L638.9,327.1 L639.7,327.3 L642.0,327.2 L642.6,327.0 L643.0,326.7 L644.3,325.2 L644.6,324.7 L644.6,324.1 L644.3,323.5 L644.0,323.1 L643.3,322.6 L642.5,322.6Z" fill="#ffc000"/>
<path d="M709.1,327.5 L709.6,327.8 L710.2,327.8 L712.0,327.6 L712.8,327.3 L713.5,326.7 L713.9,326.0 L713.9,325.1 L713.4,324.5 L712.3,323.7 L711.6,323.4 L710.8,323.5 L709.1,324.4 L708.7,324.8 L708.4,325.4 L708.3,325.9 L708.4,326.6 L708.7,327.2Z" fill="#1fb8c6"/>
<path d="M693.9,309.2 L694.1,309.9 L694.6,310.4 L695.2,310.8 L696.2,311.0 L698.4,310.6 L699.0,310.4 L699.4,310.0 L700.0,309.1 L700.2,308.5 L700.1,307.8 L699.8,307.3 L699.2,307.0 L698.0,306.6 L697.3,306.6 L694.9,307.3 L694.2,307.8 L693.9,308.6Z" fill="#ed7d31"/>
<path d="M582.8,293.3 L583.1,293.9 L583.7,294.3 L585.8,295.1 L586.4,295.2 L587.0,295.0 L589.9,293.5 L590.5,292.9 L590.6,292.0 L590.3,291.3 L588.7,289.6 L588.2,289.2 L587.6,289.1 L584.0,289.2 L583.1,289.6 L582.8,289.9 L582.4,290.5 L582.3,291.2Z" fill="#ffc000"/>
<path d="M743.7,277.7 L743.3,278.3 L743.3,279.0 L743.5,279.6 L744.1,280.0 L744.9,280.4 L745.5,280.5 L746.1,280.3 L746.6,279.9 L746.8,279.3 L747.0,278.2 L746.9,277.6 L746.5,277.0 L745.9,276.7 L745.7,276.6 L745.0,276.7 L744.4,277.0Z" fill="#ffc000"/>
<path d="M688.3,318.9 L687.8,319.5 L687.6,320.2 L687.8,320.9 L688.3,321.4 L690.3,322.4 L691.0,322.6 L691.6,322.4 L692.1,321.9 L692.5,321.3 L692.7,320.6 L692.5,319.9 L691.8,318.6 L691.3,318.1 L690.6,317.9 L689.9,318.1Z" fill="#ffc000"/>
<path d="M710.8,274.9 L710.1,275.3 L709.8,276.0 L709.9,276.7 L710.3,277.3 L711.0,277.6 L712.3,277.7 L713.0,277.6 L713.6,277.2 L713.7,277.0 L714.0,276.4 L713.9,275.7 L713.6,275.2 L713.2,274.9 L712.6,274.5 L711.8,274.5Z" fill="#548235"/>
<path d="M559.3,289.2 L558.6,289.5 L558.2,290.1 L557.8,291.5 L557.7,292.1 L558.0,292.7 L558.5,293.1 L559.8,293.9 L560.4,294.0 L561.0,293.9 L564.1,292.8 L564.7,292.4 L565.0,291.8 L565.0,291.2 L564.6,289.4 L564.3,288.8 L563.7,288.4 L563.0,288.4Z" fill="#ffc000"/>
<path d="M667.4,307.6 L668.0,307.3 L668.5,306.8 L668.7,306.2 L668.5,305.5 L668.1,304.7 L667.7,304.3 L667.1,304.0 L664.6,303.5 L663.8,303.6 L662.5,304.2 L662.1,304.6 L661.8,305.1 L661.7,305.3 L661.7,306.1 L662.2,306.7 L663.2,307.6 L663.7,307.8 L664.3,307.9Z" fill="#ed7d31"/>
<path d="M553.4,340.3 L553.1,341.0 L553.2,341.8 L554.6,344.9 L555.1,345.4 L555.9,345.7 L556.6,345.5 L559.7,343.7 L560.1,343.2 L560.3,342.7 L560.3,342.0 L559.6,339.9 L559.3,339.3 L558.8,339.0 L558.2,338.9 L555.1,339.1 L554.2,339.5Z" fill="#548235"/>
<path d="M758.4,290.6 L757.8,290.9 L757.4,291.3 L757.2,292.0 L757.3,292.6 L757.3,292.6 L757.9,293.2 L758.7,293.4 L758.7,293.4 L759.4,293.2 L759.9,292.7 L760.1,292.1 L759.9,291.4 L759.5,290.9 L759.4,290.8 L758.4,290.6Z" fill="#1fb8c6"/>
<path d="M613.0,329.4 L612.5,329.9 L612.3,330.5 L612.4,331.2 L612.8,331.7 L615.2,333.7 L615.9,334.0 L616.6,333.9 L618.5,333.1 L619.0,332.7 L619.3,332.1 L619.3,331.5 L619.0,330.9 L617.0,328.7 L616.2,328.2 L615.9,328.2 L615.1,328.3Z" fill="#548235"/>
<path d="M558.5,303.1 L558.3,302.4 L557.8,302.0 L557.2,301.8 L554.0,301.5 L553.4,301.6 L552.9,302.0 L551.6,303.3 L551.2,304.1 L551.3,304.9 L551.8,305.8 L552.3,306.4 L553.0,306.6 L557.2,306.7 L557.9,306.5 L558.5,305.9 L558.6,305.2Z" fill="#ffc000"/>
<path d="M747.1,282.0 L750.2,284.4 L752.7,283.9 L753.6,281.4 L753.2,281.0 L747.4,281.8Z" fill="#1fb8c6"/>
<path d="M645.9,319.8 L645.3,320.1 L644.9,320.7 L644.8,321.4 L645.1,322.0 L646.0,323.2 L646.4,323.6 L647.0,323.8 L649.6,324.1 L650.5,324.0 L651.5,323.4 L652.1,322.8 L652.2,322.0 L652.0,320.1 L651.7,319.4 L651.1,319.0 L650.9,318.9 L650.0,318.8Z" fill="#1fb8c6"/>
<path d="M698.0,276.5 L697.3,276.7 L696.7,277.3 L696.6,278.0 L696.9,278.8 L697.6,279.2 L699.2,279.7 L700.0,279.7 L700.7,279.2 L701.0,278.9 L701.3,278.2 L701.1,277.4 L701.0,277.2 L700.5,276.7 L699.8,276.5Z" fill="#ffc000"/>
<path d="M637.8,313.1 L637.1,313.2 L636.6,313.7 L635.9,314.7 L635.7,315.3 L635.7,315.9 L636.1,316.4 L636.1,316.5 L637.0,316.9 L640.5,317.1 L641.2,317.0 L641.7,316.6 L642.0,315.9 L642.2,314.8 L642.1,314.0 L641.6,313.4 L640.8,313.1Z" fill="#ffc000"/>
<path d="M719.5,287.1 L719.0,287.6 L718.7,288.3 L718.9,289.0 L719.2,289.6 L719.8,290.2 L720.6,290.4 L721.6,290.3 L722.2,290.1 L722.6,289.7 L722.9,289.1 L723.0,288.4 L722.9,287.5 L722.3,286.9 L721.9,286.7 L721.2,286.5 L720.6,286.6Z" fill="#548235"/>
<path d="M647.9,283.2 L648.2,282.5 L648.1,281.8 L647.7,280.7 L647.2,280.1 L646.3,279.9 L644.2,279.9 L643.6,280.1 L643.1,280.6 L642.9,281.2 L642.7,283.6 L642.7,284.2 L643.1,284.7 L643.6,285.0 L644.5,285.3 L645.2,285.4 L645.7,285.3 L646.5,284.8Z" fill="#ffc000"/>
<path d="M643.9,310.5 L644.1,311.2 L644.6,311.6 L645.2,311.8 L647.9,311.9 L648.7,311.8 L649.2,311.2 L649.4,310.4 L649.1,308.4 L648.8,307.6 L648.0,307.2 L646.0,306.9 L645.0,307.1 L644.5,307.5 L644.0,308.0 L643.8,308.7Z" fill="#ed7d31"/>
<path d="M554.7,330.7 L554.1,330.8 L553.6,331.1 L552.2,332.5 L551.9,333.0 L551.8,333.7 L552.1,334.3 L554.1,336.9 L554.6,337.3 L555.3,337.4 L557.8,337.2 L558.5,337.0 L559.0,336.5 L559.1,335.8 L559.0,332.2 L558.8,331.6 L558.3,331.1 L557.6,330.9Z" fill="#1fb8c6"/>
<path d="M656.9,310.4 L657.0,311.1 L657.3,311.7 L657.8,312.0 L658.5,312.1 L660.9,311.7 L661.6,311.4 L662.0,310.8 L662.3,309.9 L662.3,309.1 L661.9,308.4 L661.1,307.7 L660.5,307.4 L659.8,307.5 L658.2,308.0 L657.6,308.3 L657.3,309.0Z" fill="#ffc000"/>
<path d="M712.3,311.7 L713.1,311.7 L713.8,311.3 L714.4,310.7 L714.8,310.0 L714.7,309.1 L714.1,308.5 L713.7,308.3 L713.2,308.1 L712.6,308.1 L712.0,308.3 L711.4,308.7 L711.0,309.3 L710.9,309.9 L710.9,310.6 L711.3,311.2 L711.8,311.5Z" fill="#ffc000"/>
<path d="M619.8,310.2 L619.7,309.5 L619.3,309.0 L618.7,308.7 L618.0,308.7 L614.3,310.0 L613.7,310.4 L613.4,311.0 L613.4,311.7 L613.8,313.1 L614.1,313.7 L614.6,314.0 L615.1,314.2 L615.9,314.3 L618.4,313.7 L619.1,313.3 L619.5,312.5Z" fill="#ffc000"/>
<path d="M575.8,310.2 L575.4,310.6 L575.2,311.3 L575.4,311.9 L576.3,313.8 L576.8,314.3 L577.6,314.5 L581.3,314.4 L581.9,314.2 L582.4,313.8 L582.7,313.4 L582.9,312.7 L582.8,312.0 L581.9,310.2 L581.4,309.7 L580.8,309.5 L577.9,309.1 L576.9,309.4Z" fill="#ffc000"/>
<path d="M702.2,305.4 L701.8,306.1 L701.9,306.8 L702.3,307.4 L703.0,307.7 L703.5,307.8 L704.4,307.6 L706.1,306.7 L706.7,306.1 L706.8,305.3 L706.8,305.1 L706.6,304.5 L706.1,304.1 L705.4,303.9 L704.2,303.9 L703.6,304.0 L703.1,304.4Z" fill="#ed7d31"/>
<path d="M674.6,274.1 L674.3,274.7 L674.3,275.3 L674.5,275.8 L675.4,277.3 L675.9,277.8 L676.6,278.0 L677.2,277.8 L677.7,277.4 L678.7,276.1 L679.0,275.5 L679.0,274.8 L678.6,274.3 L678.1,273.7 L677.6,273.4 L677.0,273.4 L675.7,273.5 L674.8,273.9Z" fill="#ffc000"/>
<path d="M712.1,295.0 L711.7,295.7 L711.8,296.5 L712.4,297.1 L713.2,297.7 L714.0,297.8 L714.0,297.8 L714.9,297.5 L716.6,296.0 L717.1,295.3 L717.1,294.5 L716.6,293.9 L715.9,293.6 L714.3,293.4 L713.7,293.5 L713.2,293.8Z" fill="#548235"/>
<path d="M597.8,337.3 L597.0,336.8 L596.1,336.6 L595.3,336.7 L594.5,337.0 L593.8,337.6 L593.0,339.0 L592.8,339.9 L593.2,340.6 L595.2,343.0 L595.8,343.4 L596.5,343.4 L596.9,343.3 L597.8,342.9 L599.3,341.0 L599.6,340.4 L599.6,339.8 L599.4,339.2Z" fill="#ffc000"/>
<path d="M751.5,289.2 L751.7,291.6 L755.9,291.2 L756.5,290.2 L754.7,288.4Z" fill="#ffc000"/>
<path d="M567.6,287.2 L567.0,287.4 L566.5,287.7 L566.2,288.3 L566.2,288.9 L566.8,291.6 L567.1,292.2 L567.6,292.6 L569.8,293.5 L570.4,293.6 L571.0,293.4 L571.5,293.0 L573.4,290.5 L573.7,289.7 L573.4,288.8 L572.8,288.0 L572.3,287.5 L571.7,287.4Z" fill="#1fb8c6"/>
<path d="M720.3,271.4 L721.1,271.6 L721.8,271.4 L722.4,270.9 L723.1,269.4 L723.3,268.7 L723.0,268.0 L722.4,267.5 L721.7,267.2 L721.0,267.0 L720.3,267.1 L719.5,267.4 L719.0,268.2 L718.8,269.3 L718.9,270.1 L719.4,270.7Z" fill="#548235"/>
<path d="M590.0,306.1 L591.0,305.9 L592.3,305.1 L592.8,304.6 L592.9,303.9 L592.9,303.0 L592.6,302.2 L591.8,301.7 L588.1,300.8 L587.4,300.8 L586.8,301.1 L585.9,302.0 L585.5,302.7 L585.5,303.5 L585.8,304.5 L586.2,305.1 L586.9,305.4Z" fill="#548235"/>
<path d="M656.4,306.6 L657.4,306.7 L659.0,306.2 L659.7,305.7 L660.0,305.0 L659.9,304.2 L659.3,303.6 L657.1,302.3 L656.4,302.1 L655.8,302.2 L654.1,303.0 L653.6,303.4 L653.4,303.9 L653.4,304.0 L653.4,304.6 L653.6,305.1 L654.1,305.5Z" fill="#ffc000"/>
<path d="M746.9,290.0 L746.8,290.7 L747.1,291.3 L747.6,291.7 L748.3,291.8 L749.2,291.7 L749.9,291.5 L750.4,290.9 L750.5,290.2 L750.5,290.0 L750.2,289.4 L749.8,288.9 L749.2,288.6 L748.3,288.4 L748.1,288.5 L747.5,288.8 L747.0,289.4Z" fill="#548235"/>
<path d="M677.6,284.6 L678.4,284.5 L679.0,284.1 L679.2,283.4 L679.4,282.0 L679.2,281.3 L678.7,280.7 L677.5,280.0 L676.8,279.8 L676.3,279.8 L675.6,280.0 L674.8,280.5 L674.3,281.0 L674.1,281.7 L674.1,282.9 L674.3,283.5 L674.7,284.0 L675.3,284.3Z" fill="#1fb8c6"/>
<path d="M533.1,309.6 L532.8,309.0 L532.2,308.6 L530.1,307.8 L529.1,307.8 L526.8,308.7 L526.2,309.1 L525.9,309.8 L525.7,310.8 L525.9,311.6 L526.4,312.2 L529.4,314.1 L530.0,314.3 L530.7,314.2 L532.7,313.3 L533.2,312.9 L533.5,312.3 L533.5,311.7Z" fill="#ed7d31"/>
<path d="M740.5,288.5 L738.5,286.5 L737.6,286.6 L735.2,289.2 L735.3,289.8 L735.8,290.1 L740.2,289.6Z" fill="#ffc000"/>
<path d="M725.8,319.2 L725.4,320.0 L725.5,320.7 L726.1,321.4 L726.8,321.6 L727.3,321.6 L727.8,321.5 L728.0,321.4 L728.4,321.2 L728.6,321.0 L729.1,320.4 L729.1,319.6 L728.6,318.9 L727.9,318.5 L727.3,318.5 L726.6,318.5 L726.1,318.9Z" fill="#548235"/>
<path d="M694.4,264.0 L693.8,264.6 L693.5,265.3 L693.6,266.1 L693.8,266.9 L694.5,267.4 L694.9,267.5 L695.9,267.5 L697.2,266.9 L697.8,266.4 L698.1,265.7 L698.0,265.0 L697.5,264.5 L696.9,264.2 L695.2,263.9 L694.4,264.0Z" fill="#548235"/>
<path d="M724.2,289.3 L724.3,290.0 L724.6,290.6 L725.3,290.9 L726.0,290.9 L727.1,290.5 L727.8,290.1 L728.1,289.3 L728.2,288.8 L728.0,287.9 L727.4,287.4 L726.6,287.3 L725.4,287.5 L724.7,287.8 L724.3,288.6Z" fill="#ffc000"/>
<path d="M562.4,327.5 L562.4,328.3 L562.8,328.9 L563.4,329.2 L567.7,330.5 L568.3,330.5 L568.8,330.3 L570.8,329.3 L571.3,328.7 L571.5,327.9 L571.3,326.8 L571.1,326.2 L570.6,325.8 L567.9,324.4 L566.9,324.2 L563.8,325.0 L563.2,325.4 L562.8,326.0Z" fill="#ffc000"/>
<path d="M745.3,286.1 L745.5,286.6 L746.0,287.0 L746.5,287.2 L747.4,287.3 L747.7,287.2 L748.3,287.0 L748.7,286.4 L748.8,286.1 L748.9,285.2 L748.4,284.5 L747.6,283.8 L747.0,283.5 L746.4,283.5 L745.8,283.8 L745.5,284.1 L745.1,284.7 L745.1,285.5Z" fill="#ffc000"/>
<path d="M548.2,316.8 L548.8,316.5 L549.3,316.1 L549.9,315.0 L550.1,314.3 L549.8,313.6 L549.0,312.2 L548.5,311.8 L547.9,311.6 L544.6,311.3 L544.1,311.4 L543.6,311.7 L541.0,314.0 L540.7,314.6 L540.6,315.2 L540.8,315.7 L541.2,316.5 L541.7,317.0 L542.5,317.2Z" fill="#1fb8c6"/>
<path d="M618.5,302.4 L618.2,303.0 L618.1,303.6 L618.3,304.2 L619.5,306.0 L620.1,306.5 L620.9,306.6 L621.6,306.3 L625.1,303.4 L625.5,302.8 L625.6,302.0 L625.3,301.4 L625.2,301.3 L624.7,300.9 L624.2,300.8 L620.9,300.6 L620.3,300.7 L619.8,301.1Z" fill="#ffc000"/>
<path d="M582.8,334.9 L583.7,334.7 L585.5,333.5 L585.9,333.1 L586.1,332.5 L586.2,331.7 L586.1,331.0 L585.7,330.5 L584.0,329.0 L583.2,328.6 L582.4,328.8 L579.0,330.7 L578.5,331.1 L578.2,331.7 L578.3,332.4 L578.8,333.8 L579.3,334.4 L580.0,334.7Z" fill="#ed7d31"/>
<path d="M723.3,283.6 L722.8,284.1 L722.6,284.8 L722.8,285.5 L723.4,286.0 L723.6,286.1 L724.5,286.3 L725.6,286.1 L726.2,285.8 L726.6,285.4 L726.8,284.8 L726.8,284.0 L726.7,283.4 L726.3,282.9 L725.7,282.6 L725.6,282.6 L724.6,282.8Z" fill="#ffc000"/>
<path d="M595.4,279.6 L594.5,279.3 L593.7,279.6 L591.3,281.5 L590.9,282.0 L590.8,282.6 L590.9,283.2 L591.1,283.4 L591.5,284.0 L592.2,284.2 L595.5,284.3 L596.2,284.1 L596.8,283.6 L597.4,282.6 L597.6,281.9 L597.5,281.3 L597.0,280.7Z" fill="#ffc000"/>
<path d="M754.6,304.3 L754.0,304.5 L753.4,305.0 L753.2,305.7 L753.4,306.3 L753.9,306.9 L754.3,307.2 L755.0,307.4 L755.7,307.3 L755.8,307.2 L756.4,306.8 L756.6,306.2 L756.6,305.5 L756.3,304.9 L756.0,304.7 L755.6,304.4 L755.0,304.3Z" fill="#ffc000"/>
<path d="M756.3,282.2 L755.5,282.0 L754.7,282.2 L754.2,282.9 L754.1,283.2 L754.1,284.0 L754.6,284.7 L754.9,285.0 L755.5,285.3 L756.2,285.3 L756.6,285.2 L757.3,284.7 L757.6,284.0 L757.5,283.2 L757.0,282.6Z" fill="#1fb8c6"/>
<path d="M478.3,296.9 L477.8,297.4 L477.6,298.0 L477.7,298.7 L478.9,301.4 L479.4,302.0 L480.2,302.2 L484.6,302.2 L485.2,302.0 L485.7,301.7 L486.8,300.3 L487.1,299.7 L487.0,298.9 L486.5,298.4 L482.7,295.4 L482.0,295.1 L481.2,295.3Z" fill="#1fb8c6"/>
<path d="M479.6,282.2 L480.1,282.5 L480.8,282.5 L484.6,281.5 L485.3,281.1 L485.7,280.3 L485.8,278.8 L485.7,278.2 L485.4,277.6 L484.9,277.3 L481.1,276.1 L480.4,276.1 L479.8,276.3 L477.3,278.3 L476.8,279.0 L476.8,279.8 L477.3,280.5Z" fill="#ed7d31"/>
<path d="M737.0,314.7 L736.9,315.3 L737.1,315.9 L737.6,316.4 L738.2,316.6 L738.2,316.6 L738.9,316.5 L740.3,315.9 L740.9,315.5 L741.2,314.9 L741.1,314.1 L740.7,313.6 L740.1,313.1 L739.6,312.8 L739.1,312.8 L738.6,312.8 L737.9,313.1 L737.5,313.7Z" fill="#548235"/>
<path d="M659.1,340.2 L658.8,340.8 L658.7,341.5 L659.0,342.1 L659.5,342.5 L660.2,342.6 L663.2,342.5 L664.0,342.1 L664.6,341.7 L665.0,341.1 L665.1,340.5 L664.8,339.8 L664.5,339.4 L664.1,339.0 L663.6,338.8 L661.9,338.4 L661.2,338.5 L660.6,338.8Z" fill="#548235"/>
<path d="M594.2,291.6 L593.5,292.1 L593.2,292.8 L593.4,293.6 L593.9,294.2 L595.7,295.3 L596.3,295.5 L597.0,295.3 L599.2,294.2 L599.7,293.8 L599.9,293.2 L599.9,292.6 L599.6,291.4 L599.2,290.8 L598.5,290.4 L597.8,290.5Z" fill="#ffc000"/>
<path d="M631.0,345.6 L631.2,346.4 L631.8,346.9 L632.6,347.0 L635.4,346.6 L636.0,346.3 L636.4,345.8 L636.5,345.1 L636.5,343.5 L636.2,342.8 L635.7,342.3 L635.0,342.2 L632.4,342.3 L631.7,342.5 L631.3,343.0 L631.1,343.7Z" fill="#548235"/>
<path d="M661.0,336.3 L661.4,336.7 L662.0,337.0 L663.6,337.3 L664.3,337.2 L664.9,336.9 L666.5,335.2 L666.8,334.6 L666.9,334.0 L666.6,333.4 L666.1,333.0 L665.8,332.8 L664.9,332.7 L661.6,333.3 L661.0,333.5 L660.6,334.0 L660.5,334.1 L660.3,334.9 L660.6,335.6Z" fill="#ed7d31"/>
<path d="M709.1,291.0 L708.3,291.2 L707.8,291.8 L707.6,292.5 L707.9,293.3 L708.5,293.7 L709.7,294.2 L710.5,294.3 L711.2,293.9 L711.6,293.5 L711.9,292.8 L711.9,292.0 L711.4,291.4 L710.6,291.1Z" fill="#ed7d31"/>
<path d="M535.7,326.9 L535.9,327.6 L536.5,328.0 L537.2,328.2 L541.1,328.0 L541.6,327.8 L542.1,327.5 L542.9,326.4 L543.2,325.9 L543.1,325.2 L542.8,324.6 L540.5,321.9 L539.8,321.5 L538.9,321.5 L536.5,322.4 L535.8,322.9 L535.5,323.8Z" fill="#ffc000"/>
<path d="M715.5,311.5 L715.2,312.1 L715.1,312.8 L715.4,313.4 L716.0,313.8 L716.6,313.9 L718.0,313.8 L718.8,313.4 L719.2,312.7 L719.3,312.4 L719.3,311.7 L718.9,311.0 L718.3,310.5 L717.7,310.2 L717.0,310.2 L716.4,310.6Z" fill="#ffc000"/>
<path d="M731.5,299.1 L730.7,299.1 L730.1,299.6 L729.8,300.3 L729.9,301.1 L730.5,301.7 L730.7,301.8 L731.3,302.0 L732.0,301.9 L732.1,301.8 L732.6,301.4 L732.9,300.8 L732.8,300.1 L732.4,299.5 L731.8,299.2Z" fill="#ed7d31"/>
<path d="M607.2,274.6 L607.8,274.2 L608.2,273.5 L608.6,271.5 L608.5,270.7 L608.0,270.1 L607.2,269.8 L602.3,270.0 L601.5,270.3 L601.4,270.4 L600.9,270.9 L600.8,271.6 L600.9,272.5 L601.1,273.1 L601.6,273.6 L604.2,275.0 L605.3,275.1Z" fill="#548235"/>
<path d="M565.7,316.9 L564.8,316.6 L562.4,316.6 L561.6,316.8 L561.1,317.4 L559.8,320.2 L559.7,320.9 L559.8,321.5 L560.3,322.0 L562.0,323.2 L562.6,323.5 L563.2,323.5 L566.0,322.8 L566.7,322.4 L567.1,321.7 L567.6,319.4 L567.6,318.6 L567.1,317.9Z" fill="#ffc000"/>
<path d="M751.0,307.4 L750.5,307.8 L750.3,308.5 L750.4,309.2 L750.9,309.8 L751.0,309.9 L751.8,310.1 L752.6,309.9 L752.6,309.9 L753.1,309.4 L753.2,308.7 L753.1,308.1 L752.6,307.6 L752.4,307.4 L751.7,307.2 L751.0,307.4Z" fill="#548235"/>
<path d="M489.9,299.8 L489.0,300.3 L487.4,302.3 L487.0,303.1 L487.2,303.9 L488.8,306.5 L489.2,306.9 L489.8,307.1 L491.9,307.5 L492.6,307.4 L493.2,307.1 L495.3,304.8 L495.7,304.1 L495.6,303.3 L495.2,302.7 L491.7,300.0 L491.1,299.7 L490.6,299.7Z" fill="#1fb8c6"/>
<path d="M738.8,304.4 L738.3,304.8 L738.1,305.4 L738.1,306.1 L738.5,306.6 L739.1,307.0 L740.4,307.4 L741.1,307.4 L741.8,307.0 L742.1,306.4 L742.2,305.7 L741.8,305.1 L741.2,304.3 L740.4,303.9 L739.5,304.0Z" fill="#ffc000"/>
<path d="M679.5,271.5 L679.2,272.1 L679.3,272.7 L679.6,273.3 L680.4,274.0 L681.3,274.4 L683.1,274.5 L683.7,274.4 L684.2,273.9 L684.5,273.3 L684.5,272.7 L684.1,271.3 L683.6,270.6 L682.9,270.3 L681.3,270.1 L680.6,270.2 L680.0,270.7Z" fill="#ffc000"/>
<path d="M687.1,299.3 L686.9,300.0 L687.2,300.6 L687.7,301.1 L688.3,301.3 L690.4,301.3 L691.2,301.1 L691.7,300.5 L691.8,299.7 L691.5,299.0 L690.9,298.2 L690.4,297.8 L689.8,297.7 L688.7,297.7 L688.0,297.9 L687.5,298.5Z" fill="#ffc000"/>
<path d="M671.1,332.6 L670.6,333.1 L670.4,333.7 L670.6,334.4 L671.0,334.9 L673.1,336.5 L673.8,336.7 L674.5,336.6 L675.1,336.1 L676.3,334.3 L676.5,333.6 L676.4,332.9 L675.9,332.4 L675.2,332.1 L672.5,332.0 L671.6,332.2Z" fill="#ffc000"/>
<path d="M474.8,315.8 L474.6,316.6 L474.9,317.3 L475.5,317.8 L476.3,317.9 L482.6,316.8 L483.3,316.4 L483.7,315.8 L483.7,315.0 L483.0,312.8 L482.7,312.3 L482.1,311.9 L478.7,311.0 L478.1,310.9 L477.5,311.2 L477.1,311.7Z" fill="#ed7d31"/>
<path d="M703.0,323.3 L702.4,323.7 L702.1,324.3 L702.1,325.0 L702.5,325.6 L703.1,326.2 L703.6,326.5 L704.3,326.6 L705.4,326.5 L706.0,326.2 L706.5,325.7 L706.6,325.0 L706.4,324.4 L705.9,323.9 L704.7,323.2 L704.2,323.0 L703.6,323.1Z" fill="#ffc000"/>
<path d="M692.0,268.8 L691.4,269.2 L691.2,269.7 L691.2,270.4 L691.4,271.3 L691.6,271.9 L692.1,272.3 L692.7,272.4 L694.1,272.5 L694.8,272.3 L695.3,271.9 L695.6,271.2 L695.5,270.6 L695.1,269.6 L694.8,269.1 L694.3,268.8 L693.4,268.5 L692.4,268.6Z" fill="#ffc000"/>
<path d="M688.2,288.0 L687.5,288.3 L687.1,288.9 L687.0,289.7 L687.4,290.3 L687.7,290.6 L688.6,291.0 L690.8,291.1 L691.5,291.0 L692.0,290.5 L692.4,290.0 L692.6,289.3 L692.4,288.5 L692.3,288.2 L691.7,287.7 L690.9,287.5Z" fill="#ffc000"/>
<path d="M673.6,301.6 L673.1,301.2 L672.5,301.1 L672.2,301.1 L671.3,301.5 L669.9,302.9 L669.5,303.7 L669.6,304.6 L669.7,304.7 L670.3,305.2 L671.1,305.4 L673.8,305.1 L674.5,304.8 L675.0,304.2 L675.0,303.4 L674.7,302.7Z" fill="#548235"/>
<path d="M677.5,318.2 L677.6,318.9 L678.1,319.4 L678.8,319.6 L681.5,319.7 L682.2,319.6 L682.7,319.1 L683.0,318.4 L682.8,317.7 L682.3,316.5 L681.8,316.0 L681.2,315.7 L680.6,315.7 L678.4,316.4 L677.7,316.9 L677.5,317.7Z" fill="#ffc000"/>
<path d="M539.7,286.1 L539.5,286.8 L539.8,287.6 L540.4,288.1 L543.5,289.3 L544.4,289.3 L546.2,288.8 L547.1,288.1 L547.6,287.2 L547.8,286.6 L547.7,285.9 L547.3,285.4 L544.4,283.1 L543.9,282.8 L543.3,282.8 L542.1,283.0 L541.6,283.2 L541.2,283.7Z" fill="#ed7d31"/>
<path d="M639.5,328.8 L638.9,329.0 L638.4,329.4 L638.2,330.1 L638.3,330.8 L639.0,332.3 L639.4,332.8 L640.1,333.1 L643.2,333.5 L643.9,333.4 L644.4,333.0 L644.7,332.6 L645.0,332.0 L645.0,331.4 L644.7,330.8 L643.1,329.1 L642.6,328.8 L642.0,328.7Z" fill="#ffc000"/>
<path d="M676.7,336.4 L676.4,337.0 L676.5,337.7 L676.9,338.2 L677.5,338.5 L678.2,338.7 L678.9,338.6 L681.0,337.9 L681.5,337.6 L681.9,337.0 L681.9,336.4 L681.7,335.8 L680.6,334.2 L680.1,333.7 L679.5,333.6 L679.3,333.6 L678.6,333.7 L678.1,334.2Z" fill="#548235"/>
<path d="M602.0,307.5 L601.2,307.4 L600.6,307.7 L600.1,308.3 L599.4,310.3 L599.4,311.2 L599.9,311.9 L601.7,313.3 L602.4,313.6 L603.2,313.5 L603.8,313.0 L605.3,310.7 L605.6,309.9 L605.3,309.1 L604.7,308.6Z" fill="#ffc000"/>
<path d="M743.2,304.6 L743.8,305.0 L744.4,305.1 L744.9,305.0 L745.5,304.8 L745.9,304.4 L745.9,304.4 L746.2,303.6 L746.0,302.8 L745.4,302.3 L745.0,302.1 L744.4,302.0 L743.8,302.2 L743.5,302.3 L743.0,302.7 L742.7,303.3 L742.8,303.9 L743.1,304.5Z" fill="#ffc000"/>
<path d="M701.0,310.1 L700.7,310.7 L700.8,311.3 L701.1,311.8 L702.1,312.8 L702.6,313.2 L703.3,313.2 L704.1,313.1 L704.7,312.8 L705.2,312.3 L705.3,311.6 L705.0,310.9 L704.1,309.7 L703.7,309.3 L703.1,309.1 L702.6,309.1 L701.8,309.2 L701.3,309.7Z" fill="#ffc000"/>
<path d="M612.8,321.0 L613.7,320.8 L614.3,320.4 L614.8,319.9 L614.9,319.1 L614.7,316.6 L614.5,316.0 L614.1,315.5 L613.5,315.3 L612.8,315.4 L609.5,316.7 L608.9,317.1 L608.6,317.8 L608.7,318.5 L609.2,319.8 L609.6,320.4 L610.3,320.7Z" fill="#1fb8c6"/>
<path d="M645.9,269.8 L646.2,270.5 L646.9,271.0 L647.7,271.0 L651.2,269.9 L651.8,269.6 L652.1,269.0 L652.2,268.4 L652.2,267.8 L651.8,267.0 L651.0,266.5 L648.6,266.1 L647.9,266.2 L646.6,266.6 L645.9,267.2 L645.7,268.1Z" fill="#1fb8c6"/>
<path d="M694.6,281.9 L694.6,282.5 L694.8,283.1 L695.3,283.6 L695.9,283.7 L696.6,283.8 L697.2,283.7 L697.6,283.4 L698.0,283.0 L698.4,282.4 L698.4,281.6 L698.1,281.0 L697.5,280.6 L696.6,280.4 L695.9,280.3 L695.3,280.7 L694.9,281.2Z" fill="#ffc000"/>
<path d="M653.2,288.9 L652.6,289.4 L652.4,290.1 L652.6,290.8 L653.1,291.4 L654.8,292.4 L655.4,292.6 L656.1,292.5 L657.5,291.9 L658.0,291.5 L658.3,290.9 L658.3,290.3 L658.2,290.1 L657.8,289.5 L657.2,289.1 L654.9,288.5 L653.9,288.6Z" fill="#ffc000"/>
<path d="M674.4,264.3 L673.9,264.8 L673.7,265.4 L673.9,266.1 L674.3,266.6 L675.0,266.9 L677.7,267.2 L678.3,267.1 L678.9,266.8 L679.2,266.2 L679.3,266.0 L679.2,265.2 L678.8,264.5 L678.0,264.2 L675.6,264.0 L675.5,264.0 L675.1,264.1 L674.4,264.3Z" fill="#548235"/>
<path d="M715.1,271.6 L714.4,271.9 L714.0,272.6 L713.9,273.3 L714.3,274.0 L715.1,274.8 L715.6,275.1 L716.2,275.2 L717.2,275.2 L717.8,275.0 L718.3,274.6 L718.9,273.8 L719.1,273.1 L719.0,272.3 L718.5,271.8 L718.1,271.5 L717.1,271.3Z" fill="#ffc000"/>
<path d="M730.8,306.6 L730.1,305.4 L725.5,305.6 L724.8,306.8 L725.9,308.6 L729.5,308.6Z" fill="#ed7d31"/>
<path d="M764.2,292.9 L763.6,292.7 L762.9,292.8 L762.4,293.2 L762.3,293.3 L762.0,294.1 L762.1,294.9 L762.3,295.3 L762.8,295.7 L763.4,296.0 L763.6,296.0 L764.3,295.9 L764.8,295.5 L765.1,294.9 L765.1,294.2 L765.0,293.8 L764.4,293.0Z" fill="#548235"/>
<path d="M603.4,349.2 L603.5,350.0 L604.0,350.6 L604.7,350.9 L608.5,351.1 L609.2,350.9 L609.8,350.4 L610.0,349.6 L609.7,348.9 L608.5,347.0 L608.1,346.5 L607.5,346.3 L606.8,346.4 L604.5,347.3 L603.9,347.7 L603.6,348.3Z" fill="#548235"/>
<path d="M651.9,312.8 L651.1,313.1 L650.6,313.7 L650.6,314.5 L651.0,316.6 L651.3,317.2 L651.8,317.6 L652.1,317.8 L653.1,317.8 L655.6,317.0 L656.2,316.5 L656.5,315.8 L656.6,314.2 L656.5,313.5 L656.0,312.9 L656.0,312.9 L655.2,312.6Z" fill="#548235"/>
<path d="M751.8,292.5 L752.6,295.2 L753.0,295.4 L756.3,294.8 L756.8,294.1 L755.9,292.1Z" fill="#ed7d31"/>
<path d="M701.2,288.0 L700.6,288.3 L700.2,289.0 L700.3,289.7 L700.6,290.3 L701.3,290.7 L704.2,291.4 L705.0,291.3 L705.6,290.9 L705.8,290.7 L706.0,290.1 L706.0,289.4 L705.9,289.1 L705.6,288.5 L705.1,288.2 L703.6,287.6 L702.7,287.6Z" fill="#ffc000"/>
<path d="M584.7,317.3 L585.1,317.8 L585.6,318.0 L588.4,318.5 L588.9,318.5 L589.5,318.3 L591.0,317.1 L591.4,316.5 L591.5,315.8 L591.3,314.4 L591.1,313.8 L590.6,313.3 L589.9,313.2 L585.2,313.5 L584.6,313.7 L584.1,314.1 L583.9,314.4 L583.7,315.2 L583.9,316.0Z" fill="#1fb8c6"/>
<path d="M654.1,330.8 L653.5,331.1 L653.2,331.6 L653.0,332.3 L653.2,332.9 L653.6,333.6 L654.2,334.1 L654.9,334.2 L657.8,334.2 L658.6,334.0 L659.1,333.4 L659.2,332.6 L658.9,331.9 L658.0,330.7 L657.4,330.2 L656.5,330.2Z" fill="#1fb8c6"/>
<path d="M494.1,312.5 L494.1,311.8 L493.9,311.2 L492.8,309.8 L491.9,309.2 L489.4,308.8 L488.3,309.0 L485.3,311.2 L484.8,311.9 L484.8,312.7 L485.4,314.6 L485.7,315.1 L486.2,315.5 L486.9,315.6 L492.4,314.7 L493.1,314.4 L493.6,313.8Z" fill="#ffc000"/>
<path d="M506.3,322.4 L506.7,322.9 L507.2,323.2 L507.9,323.2 L511.1,322.3 L511.8,321.9 L512.1,321.2 L512.0,320.3 L510.4,317.3 L510.0,316.8 L509.3,316.6 L507.2,316.4 L506.6,316.5 L506.1,316.8 L505.2,317.7 L504.8,318.5 L504.9,319.3Z" fill="#548235"/>
<path d="M522.2,302.0 L521.5,302.5 L521.3,303.3 L521.3,304.5 L521.5,305.2 L522.0,305.7 L524.8,307.1 L525.4,307.3 L525.9,307.2 L527.9,306.5 L528.6,306.0 L528.8,305.2 L528.9,302.7 L528.7,301.9 L528.1,301.3 L526.8,300.7 L526.3,300.6 L525.7,300.7Z" fill="#ffc000"/>
<path d="M521.5,272.1 L521.7,272.9 L522.3,273.4 L525.4,274.8 L526.0,274.9 L526.5,274.8 L528.7,273.9 L529.3,273.4 L529.6,272.8 L529.8,271.4 L529.7,270.6 L529.1,270.0 L528.7,269.7 L527.9,269.5 L522.8,269.7 L522.2,269.9 L521.7,270.4 L521.5,271.0Z" fill="#548235"/>
<path d="M664.8,300.9 L664.9,301.5 L665.3,302.0 L665.9,302.3 L667.3,302.6 L668.0,302.5 L668.6,302.2 L669.3,301.5 L669.6,300.8 L669.6,300.1 L669.2,299.5 L667.9,298.3 L667.4,297.9 L666.8,297.9 L665.9,298.0 L665.3,298.3 L664.8,298.8 L664.7,299.5Z" fill="#548235"/>
<path d="M537.5,276.8 L537.0,277.4 L536.9,278.0 L537.0,278.7 L537.5,279.2 L540.7,281.2 L541.7,281.4 L543.1,281.1 L543.6,280.9 L544.0,280.5 L545.1,278.9 L545.3,278.2 L545.1,277.5 L544.6,277.0 L541.8,275.1 L541.0,274.9 L540.3,275.1Z" fill="#ed7d31"/>
<path d="M750.6,277.6 L748.2,277.5 L747.7,280.8 L752.8,280.1 L752.8,279.6Z" fill="#548235"/>
<path d="M747.9,298.2 L744.8,299.3 L744.8,300.8 L747.3,302.0 L749.4,300.1Z" fill="#ffc000"/>
<path d="M682.6,291.3 L682.0,291.7 L681.6,292.5 L681.8,293.3 L682.1,293.8 L682.6,294.3 L683.3,294.5 L684.4,294.6 L685.2,294.4 L685.8,293.9 L686.4,292.7 L686.5,291.8 L686.1,291.1 L686.1,291.0 L685.4,290.6 L684.7,290.6Z" fill="#ffc000"/>
<path d="M647.5,287.2 L646.9,287.1 L646.2,287.2 L645.7,287.7 L645.5,288.4 L645.4,290.0 L645.5,290.7 L645.8,291.2 L646.4,291.5 L647.2,291.7 L648.1,291.6 L649.6,291.0 L650.2,290.5 L650.5,289.8 L650.3,289.0 L649.8,288.5Z" fill="#ffc000"/>
<path d="M737.5,282.4 L736.8,282.5 L736.2,283.0 L736.0,283.7 L736.1,284.4 L736.7,285.0 L737.0,285.1 L737.6,285.3 L738.2,285.2 L738.7,284.8 L738.9,284.7 L739.2,284.0 L739.1,283.3 L738.6,282.7 L737.9,282.4Z" fill="#ed7d31"/>
<path d="M630.5,339.0 L630.4,339.7 L630.7,340.3 L631.2,340.7 L631.9,340.8 L635.3,340.6 L635.9,340.4 L636.4,340.0 L636.6,339.3 L636.4,338.7 L636.0,337.6 L635.5,337.0 L634.8,336.7 L632.5,336.5 L631.9,336.5 L631.4,336.9 L631.0,337.4Z" fill="#ffc000"/>
<path d="M690.6,325.4 L690.4,326.2 L690.7,327.0 L691.3,327.4 L693.8,328.4 L694.6,328.5 L695.3,328.1 L695.7,327.5 L695.8,327.0 L695.8,326.4 L695.6,325.9 L695.1,325.4 L692.9,324.2 L692.2,324.0 L691.5,324.2 L691.0,324.8Z" fill="#ed7d31"/>
<path d="M657.7,287.7 L658.4,287.7 L659.0,287.4 L659.5,287.0 L659.9,286.4 L659.9,285.6 L659.5,284.9 L657.8,283.5 L657.0,283.1 L656.2,283.3 L655.9,283.5 L655.4,284.0 L655.2,284.7 L655.1,285.9 L655.2,286.5 L655.6,287.0 L656.2,287.3Z" fill="#548235"/>
<path d="M593.0,270.9 L592.3,271.5 L592.1,272.4 L592.2,273.7 L592.4,274.3 L592.8,274.8 L593.8,275.4 L594.5,275.7 L595.2,275.5 L598.5,273.7 L599.1,273.2 L599.3,272.4 L599.2,272.1 L598.9,271.3 L598.2,270.8 L595.9,270.2 L595.4,270.1 L595.2,270.2 L594.9,270.2Z" fill="#548235"/>
<path d="M736.3,291.0 L737.1,293.9 L740.7,293.0 L741.1,291.4 L740.4,290.5Z" fill="#ffc000"/>
<path d="M727.1,291.9 L726.5,292.3 L726.1,292.8 L726.1,293.5 L726.4,294.1 L726.9,294.6 L727.9,294.9 L728.5,295.0 L729.2,294.8 L729.8,294.4 L730.3,293.8 L730.4,293.1 L730.2,292.4 L729.6,292.0 L729.1,291.7 L728.1,291.6Z" fill="#ffc000"/>
<path d="M698.9,315.9 L699.5,316.0 L700.1,315.8 L700.6,315.4 L700.8,315.1 L701.0,314.5 L701.0,313.9 L700.6,313.3 L699.7,312.4 L699.1,312.0 L698.5,312.0 L697.3,312.2 L696.7,312.4 L696.3,312.9 L696.1,313.5 L696.1,313.7 L696.3,314.6 L697.0,315.1Z" fill="#ffc000"/>
<path d="M519.7,338.5 L520.6,338.8 L524.4,339.1 L525.2,338.9 L525.8,338.2 L526.4,336.6 L526.5,335.8 L526.1,335.1 L524.9,333.8 L524.3,333.5 L523.7,333.4 L520.0,333.9 L519.4,334.2 L518.9,334.8 L518.4,336.0 L518.3,336.9 L518.7,337.6Z" fill="#548235"/>
<path d="M596.2,334.0 L596.5,334.6 L597.0,335.0 L597.6,335.2 L598.3,335.0 L601.5,333.3 L602.0,332.8 L602.2,332.1 L602.0,331.3 L601.5,330.5 L601.0,329.9 L600.3,329.8 L597.3,329.7 L596.5,329.9 L596.0,330.5 L595.9,331.3Z" fill="#548235"/>
<path d="M737.4,271.7 L736.7,271.6 L736.1,271.7 L735.6,272.1 L735.2,272.7 L734.9,273.3 L735.0,274.0 L735.4,274.6 L735.9,275.0 L736.5,275.3 L737.1,275.3 L737.7,275.0 L738.4,274.5 L738.8,273.9 L738.9,273.2 L738.7,272.6 L738.2,272.1Z" fill="#548235"/>
<path d="M668.7,313.2 L668.5,313.8 L668.6,314.5 L668.9,315.0 L669.6,315.4 L670.2,315.3 L672.6,314.7 L673.2,314.4 L673.5,313.9 L673.6,313.3 L673.6,312.9 L673.3,312.1 L672.6,311.6 L671.3,311.2 L670.5,311.2 L669.8,311.7Z" fill="#548235"/>
<path d="M720.8,277.3 L721.7,277.7 L722.2,277.7 L723.1,277.5 L723.7,277.0 L724.2,276.4 L724.3,275.7 L724.1,274.5 L723.8,273.9 L723.3,273.5 L722.6,273.1 L721.9,273.0 L721.7,273.0 L721.1,273.2 L720.7,273.6 L719.8,274.7 L719.6,275.4 L719.7,276.0 L720.0,276.6Z" fill="#ed7d31"/>
<path d="M724.6,318.6 L724.9,317.9 L724.8,317.1 L724.3,316.5 L723.5,316.2 L722.4,316.3 L721.6,316.5 L721.1,317.2 L721.0,317.5 L720.9,318.3 L721.3,319.0 L721.9,319.4 L722.6,319.6 L723.4,319.6 L724.0,319.2Z" fill="#ffc000"/>
<path d="M624.4,315.6 L623.8,315.9 L623.4,316.4 L623.3,317.1 L623.4,318.6 L623.6,319.2 L624.2,319.7 L624.9,319.8 L626.7,319.7 L627.4,319.5 L627.9,319.0 L628.8,317.0 L629.0,316.4 L628.8,315.8 L628.4,315.3 L628.3,315.2 L627.7,315.0 L627.2,315.0Z" fill="#ffc000"/>
<path d="M698.2,325.8 L697.7,326.3 L697.4,326.9 L697.4,327.6 L697.8,328.1 L698.4,328.5 L700.2,329.0 L701.0,329.0 L701.7,328.5 L701.7,328.5 L702.0,327.9 L701.9,327.2 L701.6,326.6 L700.7,325.8 L700.0,325.4 L699.1,325.4Z" fill="#548235"/>
<path d="M720.5,313.2 L720.5,313.8 L720.7,314.4 L721.2,314.8 L721.9,314.9 L723.6,314.9 L724.3,314.7 L724.7,314.3 L724.8,314.2 L725.1,313.4 L724.9,312.6 L724.7,312.3 L724.1,311.8 L723.3,311.7 L721.7,311.9 L721.0,312.2 L720.6,312.9Z" fill="#ffc000"/>
<path d="M618.9,290.8 L618.6,291.5 L618.7,292.3 L619.3,292.9 L620.0,293.1 L623.7,293.0 L624.5,292.7 L625.0,291.9 L625.2,291.3 L625.2,290.5 L624.8,289.9 L623.3,288.7 L622.5,288.3 L621.5,288.3 L620.9,288.4 L620.4,288.8Z" fill="#ffc000"/>
<path d="M676.4,327.8 L676.3,327.1 L676.0,326.4 L675.3,326.1 L674.6,326.1 L672.8,326.6 L672.2,327.0 L671.8,327.6 L671.8,328.3 L672.1,329.6 L672.6,330.3 L673.4,330.6 L674.5,330.7 L675.1,330.5 L675.6,330.2 L675.9,329.6Z" fill="#548235"/>
<path d="M763.1,288.1 L761.5,287.6 L759.7,289.8 L762.6,291.7 L763.4,291.5 L764.2,290.1Z" fill="#ffc000"/>
<path d="M708.4,284.3 L708.1,283.6 L707.5,283.2 L706.8,283.2 L705.3,283.5 L704.6,283.9 L704.2,284.6 L704.2,285.2 L704.2,285.8 L704.5,286.3 L705.0,286.7 L705.5,286.9 L706.1,286.9 L706.7,286.7 L707.9,285.9 L708.4,285.3 L708.5,284.5Z" fill="#ffc000"/>
<path d="M563.5,282.3 L564.4,282.3 L565.2,281.9 L566.5,280.2 L566.8,279.5 L566.8,278.8 L566.4,278.2 L564.7,276.7 L564.1,276.4 L563.4,276.4 L561.2,277.0 L560.6,277.3 L560.3,277.7 L559.6,279.0 L559.4,279.8 L559.7,280.5 L560.3,281.0Z" fill="#548235"/>
<path d="M748.8,293.1 L748.1,293.3 L747.6,294.0 L747.5,294.7 L747.9,295.4 L747.9,295.4 L748.6,295.8 L749.4,295.8 L749.5,295.8 L750.0,295.4 L750.4,294.8 L750.4,294.2 L750.1,293.5 L749.6,293.1 L748.9,293.0Z" fill="#548235"/>
<path d="M720.5,282.7 L721.3,283.0 L722.0,282.8 L722.8,282.3 L723.3,281.7 L723.5,281.0 L723.3,280.4 L722.9,279.7 L722.4,279.2 L721.8,279.0 L721.8,279.0 L721.2,279.1 L720.7,279.4 L719.8,280.3 L719.5,281.0 L719.5,281.8 L720.0,282.4Z" fill="#ffc000"/>
<path d="M543.8,294.5 L543.8,295.2 L544.1,295.7 L544.6,296.1 L545.2,296.2 L549.6,296.0 L550.2,295.8 L550.7,295.4 L550.9,295.0 L551.1,294.4 L551.1,293.7 L550.6,293.1 L547.7,290.7 L547.1,290.4 L546.4,290.4 L545.4,290.7 L544.7,291.1 L544.4,291.8Z" fill="#548235"/>
<path d="M747.3,310.2 L746.8,310.7 L746.5,311.4 L746.7,312.1 L747.3,312.6 L748.0,312.8 L748.5,312.8 L749.2,312.6 L749.7,312.1 L749.9,311.5 L749.7,310.8 L749.3,310.3 L749.0,310.1 L748.3,309.9 L747.6,310.0Z" fill="#548235"/>
<path d="M526.8,319.1 L527.5,319.1 L528.0,318.7 L528.4,318.1 L528.7,316.8 L528.6,315.9 L528.1,315.2 L525.2,313.5 L524.6,313.3 L524.0,313.4 L521.5,314.4 L520.9,314.8 L520.6,315.5 L520.7,316.1 L521.1,317.5 L521.6,318.1 L522.2,318.4Z" fill="#1fb8c6"/>
<path d="M615.7,278.7 L615.2,278.4 L614.6,278.3 L614.6,278.3 L614.0,278.5 L613.6,278.9 L611.8,281.4 L611.6,282.0 L611.7,282.7 L612.0,283.2 L612.9,284.0 L613.4,284.2 L613.9,284.3 L616.3,284.1 L617.0,283.9 L617.5,283.4 L618.0,282.4 L618.1,281.5 L617.7,280.8Z" fill="#ffc000"/>
<path d="M721.6,299.7 L721.1,300.4 L721.1,301.2 L721.6,301.9 L722.3,302.2 L722.8,302.3 L723.6,302.2 L724.2,301.6 L724.4,300.9 L724.2,300.1 L723.6,299.6 L723.2,299.4 L722.4,299.3 L721.7,299.6Z" fill="#ffc000"/>
<path d="M691.8,333.3 L691.3,333.7 L691.0,334.3 L691.1,335.0 L691.4,335.6 L692.0,335.9 L692.2,335.9 L692.8,335.9 L693.7,335.7 L693.9,335.7 L694.5,335.5 L695.0,335.1 L695.3,334.4 L695.3,333.7 L694.9,333.1 L694.7,332.9 L693.9,332.6 L693.2,332.7Z" fill="#548235"/>
<path d="M653.6,282.6 L654.3,282.5 L654.8,282.1 L655.1,281.5 L655.1,280.8 L654.7,280.2 L652.6,278.2 L652.1,278.0 L651.6,277.9 L650.5,278.0 L649.6,278.4 L649.4,278.6 L649.0,279.3 L649.1,280.1 L649.6,281.3 L650.0,281.9 L650.7,282.2Z" fill="#548235"/>
<path d="M600.1,342.5 L599.8,343.2 L599.9,344.0 L600.5,344.6 L602.5,345.8 L603.1,346.0 L603.7,345.9 L605.5,345.2 L606.1,344.7 L606.4,344.0 L606.2,343.2 L605.2,341.5 L604.7,341.0 L604.0,340.9 L602.1,340.9 L601.5,341.0 L601.1,341.4Z" fill="#ffc000"/>
<path d="M634.2,271.8 L634.0,272.4 L634.2,273.1 L634.7,273.7 L635.3,273.9 L638.4,274.1 L639.1,274.0 L639.7,273.5 L639.9,272.9 L639.8,272.2 L639.4,271.6 L637.2,270.0 L636.4,269.7 L635.7,269.8 L635.1,270.3Z" fill="#1fb8c6"/>
<path d="M697.8,272.2 L697.1,272.4 L696.6,272.9 L696.5,273.6 L696.7,274.3 L696.7,274.4 L697.2,274.9 L697.8,275.1 L700.0,275.1 L700.6,275.0 L701.1,274.6 L701.2,274.4 L701.5,273.8 L701.4,273.2 L701.1,272.7 L701.1,272.6 L700.6,272.3 L700.0,272.2Z" fill="#ffc000"/>
<path d="M577.5,306.6 L577.9,307.3 L578.7,307.6 L581.2,307.9 L581.7,307.9 L582.3,307.6 L583.8,306.3 L584.3,305.6 L584.2,304.8 L584.0,303.9 L583.5,303.3 L582.8,303.0 L578.4,302.3 L577.9,302.4 L577.3,302.7 L577.3,302.7 L576.8,303.4 L576.8,304.2Z" fill="#548235"/>
<path d="M720.9,320.5 L720.1,320.5 L719.5,321.0 L719.2,321.7 L719.1,322.3 L719.2,323.0 L719.6,323.6 L720.3,323.9 L721.0,323.8 L722.0,323.4 L722.5,323.0 L722.8,322.4 L722.8,321.7 L722.4,321.1 L721.8,320.7Z" fill="#548235"/>
<path d="M636.4,280.8 L635.8,281.1 L635.5,281.7 L635.4,282.4 L635.8,283.0 L636.3,283.4 L639.3,284.6 L639.9,284.6 L640.5,284.4 L641.0,284.0 L641.2,283.4 L641.4,281.4 L641.3,280.7 L640.9,280.2 L640.3,279.9 L639.6,279.9Z" fill="#ffc000"/>
<path d="M684.7,326.8 L684.0,326.8 L683.5,327.2 L683.1,327.8 L683.1,328.4 L683.3,329.4 L683.6,330.0 L684.1,330.4 L684.7,330.5 L685.6,330.6 L686.2,330.4 L686.8,329.9 L687.3,329.2 L687.5,328.6 L687.4,327.9 L687.0,327.3 L686.3,327.0Z" fill="#ffc000"/>
<path d="M755.3,296.1 L754.6,296.4 L754.2,297.1 L754.2,297.9 L754.7,298.5 L755.4,298.8 L755.4,298.8 L756.2,298.7 L756.8,298.2 L757.0,297.4 L756.8,296.7 L756.8,296.7 L756.2,296.1 L755.3,296.0Z" fill="#548235"/>
<path d="M625.2,284.2 L625.5,283.5 L625.4,282.7 L625.3,282.5 L624.7,281.8 L623.9,281.7 L620.7,282.0 L620.0,282.2 L619.6,282.7 L619.0,283.7 L618.9,284.6 L619.3,285.4 L620.4,286.4 L621.3,286.7 L622.3,286.8 L622.9,286.6 L623.3,286.3Z" fill="#1fb8c6"/>
<path d="M584.0,274.0 L584.2,274.7 L584.8,275.2 L585.7,275.3 L589.4,274.5 L590.0,274.2 L590.4,273.6 L590.5,273.0 L590.5,272.1 L590.2,271.4 L589.7,271.0 L589.2,270.7 L588.4,270.6 L585.1,271.1 L584.5,271.3 L584.1,271.9 L583.9,272.5Z" fill="#548235"/>
<path d="M641.6,294.5 L641.7,295.3 L642.3,296.0 L645.5,298.0 L646.2,298.2 L646.8,298.1 L647.3,297.7 L647.4,297.6 L647.8,297.0 L647.8,296.4 L647.3,294.0 L646.9,293.4 L646.3,293.0 L644.9,292.6 L644.1,292.6 L642.6,293.1 L642.0,293.5 L641.7,294.2Z" fill="#ed7d31"/>
<path d="M672.3,279.6 L673.1,279.5 L673.8,279.0 L674.0,278.2 L673.8,277.4 L673.1,276.3 L672.5,275.8 L671.8,275.7 L670.2,275.8 L669.5,276.1 L669.1,276.6 L668.9,277.3 L669.0,277.9 L669.3,278.7 L670.1,279.1Z" fill="#548235"/>
<path d="M737.1,300.5 L736.4,300.7 L735.9,301.3 L735.7,302.0 L735.9,302.7 L736.4,303.2 L736.7,303.3 L737.3,303.5 L738.0,303.3 L738.1,303.3 L738.6,302.8 L738.9,302.0 L738.7,301.3 L738.6,301.2 L738.1,300.7 L737.4,300.5Z" fill="#ffc000"/>
<path d="M729.5,289.4 L729.6,290.2 L730.3,290.8 L730.4,290.8 L730.9,291.0 L731.5,290.9 L731.9,290.7 L732.5,290.2 L732.7,289.5 L732.6,288.8 L732.0,288.2 L731.6,288.0 L730.9,287.8 L730.2,287.9 L729.7,288.4 L729.5,289.0Z" fill="#ffc000"/>
<path d="M624.6,331.2 L624.2,331.9 L624.3,332.7 L624.7,333.3 L625.5,333.6 L628.5,333.7 L629.3,333.5 L629.9,332.8 L630.4,331.3 L630.4,330.5 L629.9,329.8 L628.6,328.8 L628.0,328.5 L627.4,328.6 L626.8,328.9Z" fill="#ffc000"/>
<path d="M704.6,272.7 L705.3,272.5 L705.8,271.9 L706.3,271.0 L706.5,270.2 L706.2,269.5 L705.7,269.0 L704.9,268.9 L703.4,269.1 L702.7,269.4 L702.3,270.0 L702.1,270.5 L702.0,271.2 L702.4,271.9 L702.7,272.3 L703.2,272.6 L703.7,272.7Z" fill="#ffc000"/>
<path d="M706.7,310.8 L707.4,311.3 L708.2,311.3 L708.5,311.2 L709.1,310.8 L709.5,310.2 L709.6,309.4 L709.6,308.8 L709.3,308.3 L708.8,307.9 L708.3,307.7 L707.7,307.6 L707.1,307.7 L706.6,308.0 L706.0,308.6 L705.8,309.3 L706.1,310.1Z" fill="#ffc000"/>
<path d="M728.1,285.0 L728.3,285.8 L728.9,286.4 L729.7,286.5 L730.2,286.4 L731.1,285.8 L731.4,285.4 L731.6,284.8 L731.6,284.2 L731.3,283.6 L730.7,283.3 L730.0,283.0 L729.3,283.0 L728.7,283.2 L728.3,283.7 L728.1,284.3Z" fill="#548235"/>
<path d="M750.2,300.6 L747.9,302.6 L748.0,302.8 L751.9,304.1 L752.8,303.5 L751.8,300.7Z" fill="#ffc000"/>
<path d="M606.4,295.8 L605.8,296.2 L605.4,296.9 L605.0,299.1 L605.1,299.8 L605.5,300.4 L606.2,300.7 L608.9,301.1 L609.6,301.0 L610.1,300.7 L610.5,300.1 L610.9,298.4 L610.8,297.5 L610.2,296.8 L608.3,295.7 L607.7,295.6 L607.2,295.6Z" fill="#ffc000"/>
<path d="M711.6,283.1 L711.0,283.4 L710.6,284.0 L710.6,284.7 L710.9,285.3 L711.5,285.7 L712.4,286.1 L713.0,286.1 L713.6,285.9 L714.1,285.4 L714.2,284.8 L714.3,284.2 L714.1,283.6 L713.7,283.1 L713.2,282.8 L712.5,282.8Z" fill="#ffc000"/>
<path d="M639.3,341.2 L638.6,341.4 L638.1,342.0 L637.9,342.7 L638.0,344.8 L638.3,345.5 L638.8,346.0 L639.5,346.1 L642.3,346.0 L643.1,345.7 L643.1,345.7 L643.6,345.0 L643.6,344.2 L643.2,343.5 L641.0,341.6 L640.1,341.2Z" fill="#548235"/>
<path d="M529.9,281.0 L530.6,281.1 L531.2,280.9 L533.7,279.3 L534.2,278.8 L534.4,278.1 L534.2,277.4 L533.6,276.9 L530.8,275.4 L530.2,275.2 L529.6,275.3 L527.5,276.2 L526.9,276.7 L526.7,277.4 L526.6,278.6 L526.8,279.5 L527.4,280.1Z" fill="#ed7d31"/>
<path d="M703.1,302.1 L703.6,302.4 L704.1,302.5 L705.1,302.5 L705.8,302.3 L706.3,301.7 L706.5,300.9 L706.4,300.3 L706.1,299.6 L705.5,299.1 L704.6,298.8 L703.8,298.8 L703.1,299.2 L702.7,299.7 L702.3,300.3 L702.3,301.0 L702.7,301.6Z" fill="#ffc000"/>
<path d="M715.4,299.8 L714.6,299.5 L713.9,299.8 L713.3,300.4 L713.0,301.3 L712.8,301.9 L713.0,302.5 L713.5,303.0 L713.8,303.2 L714.3,303.4 L714.9,303.4 L716.2,303.2 L716.9,302.8 L717.3,302.1 L717.2,301.3 L716.7,300.6Z" fill="#ed7d31"/>
<path d="M565.7,346.5 L565.4,345.7 L564.6,345.2 L562.3,344.5 L561.7,344.5 L561.2,344.7 L558.5,346.3 L558.0,346.9 L557.9,347.7 L558.2,348.4 L558.6,348.8 L559.3,349.2 L559.7,349.3 L560.0,349.4 L564.2,349.5 L565.0,349.4 L565.5,348.9 L565.7,348.1Z" fill="#ffc000"/>
<path d="M764.2,297.1 L762.4,296.9 L760.8,298.1 L762.4,300.7 L763.5,300.4 L764.5,298.7 L764.7,298.1Z" fill="#548235"/>
<path d="M703.3,327.4m-0.6,0a0.6,0.6 0 1,0 1.2,0a0.6,0.6 0 1,0 -1.2,0M539.5,344.6m-0.6,0a0.6,0.6 0 1,0 1.2,0a0.6,0.6 0 1,0 -1.2,0M668.8,308.1m-0.6,0a0.6,0.6 0 1,0 1.2,0a0.6,0.6 0 1,0 -1.2,0M615.7,335.1m-0.6,0a0.6,0.6 0 1,0 1.2,0a0.6,0.6 0 1,0 -1.2,0M666.9,290.7m-0.6,0a0.6,0.6 0 1,0 1.2,0a0.6,0.6 0 1,0 -1.2,0M733.9,269.1m-0.6,0a0.6,0.6 0 1,0 1.2,0a0.6,0.6 0 1,0 -1.2,0M729.0,287.3m-0.6,0a0.6,0.6 0 1,0 1.2,0a0.6,0.6 0 1,0 -1.2,0M625.2,300.0m-0.6,0a0.6,0.6 0 1,0 1.2,0a0.6,0.6 0 1,0 -1.2,0M669.6,294.6m-0.6,0a0.6,0.6 0 1,0 1.2,0a0.6,0.6 0 1,0 -1.2,0M604.9,295.4m-0.6,0a0.6,0.6 0 1,0 1.2,0a0.6,0.6 0 1,0 -1.2,0M698.1,320.3m-0.6,0a0.6,0.6 0 1,0 1.2,0a0.6,0.6 0 1,0 -1.2,0M719.3,291.2m-0.6,0a0.6,0.6 0 1,0 1.2,0a0.6,0.6 0 1,0 -1.2,0M641.2,292.8m-0.6,0a0.6,0.6 0 1,0 1.2,0a0.6,0.6 0 1,0 -1.2,0M722.9,278.4m-0.6,0a0.6,0.6 0 1,0 1.2,0a0.6,0.6 0 1,0 -1.2,0M516.2,299.6m-0.6,0a0.6,0.6 0 1,0 1.2,0a0.6,0.6 0 1,0 -1.2,0M505.9,289.1m-0.6,0a0.6,0.6 0 1,0 1.2,0a0.6,0.6 0 1,0 -1.2,0M680.3,310.5m-0.6,0a0.6,0.6 0 1,0 1.2,0a0.6,0.6 0 1,0 -1.2,0M707.9,318.2m-0.6,0a0.6,0.6 0 1,0 1.2,0a0.6,0.6 0 1,0 -1.2,0M594.7,350.8m-0.6,0a0.6,0.6 0 1,0 1.2,0a0.6,0.6 0 1,0 -1.2,0M754.9,308.3m-0.6,0a0.6,0.6 0 1,0 1.2,0a0.6,0.6 0 1,0 -1.2,0M765.2,298.0m-0.6,0a0.6,0.6 0 1,0 1.2,0a0.6,0.6 0 1,0 -1.2,0M540.4,304.8m-0.6,0a0.6,0.6 0 1,0 1.2,0a0.6,0.6 0 1,0 -1.2,0M667.6,290.9m-0.6,0a0.6,0.6 0 1,0 1.2,0a0.6,0.6 0 1,0 -1.2,0M446.3,280.1m-0.6,0a0.6,0.6 0 1,0 1.2,0a0.6,0.6 0 1,0 -1.2,0M534.5,334.9m-0.6,0a0.6,0.6 0 1,0 1.2,0a0.6,0.6 0 1,0 -1.2,0M505.4,297.7m-0.6,0a0.6,0.6 0 1,0 1.2,0a0.6,0.6 0 1,0 -1.2,0M703.2,303.2m-0.6,0a0.6,0.6 0 1,0 1.2,0a0.6,0.6 0 1,0 -1.2,0M671.4,300.4m-0.6,0a0.6,0.6 0 1,0 1.2,0a0.6,0.6 0 1,0 -1.2,0M555.7,347.0m-0.6,0a0.6,0.6 0 1,0 1.2,0a0.6,0.6 0 1,0 -1.2,0M589.1,269.8m-0.6,0a0.6,0.6 0 1,0 1.2,0a0.6,0.6 0 1,0 -1.2,0M724.1,323.3m-0.6,0a0.6,0.6 0 1,0 1.2,0a0.6,0.6 0 1,0 -1.2,0M625.4,280.8m-0.6,0a0.6,0.6 0 1,0 1.2,0a0.6,0.6 0 1,0 -1.2,0M643.0,327.9m-0.6,0a0.6,0.6 0 1,0 1.2,0a0.6,0.6 0 1,0 -1.2,0M764.9,298.9m-0.6,0a0.6,0.6 0 1,0 1.2,0a0.6,0.6 0 1,0 -1.2,0M590.7,352.3m-0.6,0a0.6,0.6 0 1,0 1.2,0a0.6,0.6 0 1,0 -1.2,0M696.6,271.6m-0.6,0a0.6,0.6 0 1,0 1.2,0a0.6,0.6 0 1,0 -1.2,0M674.2,294.7m-0.6,0a0.6,0.6 0 1,0 1.2,0a0.6,0.6 0 1,0 -1.2,0M700.6,323.4m-0.6,0a0.6,0.6 0 1,0 1.2,0a0.6,0.6 0 1,0 -1.2,0M535.6,277.0m-0.6,0a0.6,0.6 0 1,0 1.2,0a0.6,0.6 0 1,0 -1.2,0M444.8,296.5m-0.6,0a0.6,0.6 0 1,0 1.2,0a0.6,0.6 0 1,0 -1.2,0M547.0,277.5m-0.6,0a0.6,0.6 0 1,0 1.2,0a0.6,0.6 0 1,0 -1.2,0M682.1,295.2m-0.6,0a0.6,0.6 0 1,0 1.2,0a0.6,0.6 0 1,0 -1.2,0M636.2,336.1m-0.6,0a0.6,0.6 0 1,0 1.2,0a0.6,0.6 0 1,0 -1.2,0M549.3,286.0m-0.6,0a0.6,0.6 0 1,0 1.2,0a0.6,0.6 0 1,0 -1.2,0M724.9,281.7m-0.6,0a0.6,0.6 0 1,0 1.2,0a0.6,0.6 0 1,0 -1.2,0M720.9,278.3m-0.6,0a0.6,0.6 0 1,0 1.2,0a0.6,0.6 0 1,0 -1.2,0M717.6,281.5m-0.6,0a0.6,0.6 0 1,0 1.2,0a0.6,0.6 0 1,0 -1.2,0M713.4,278.6m-0.6,0a0.6,0.6 0 1,0 1.2,0a0.6,0.6 0 1,0 -1.2,0M560.3,295.0m-0.6,0a0.6,0.6 0 1,0 1.2,0a0.6,0.6 0 1,0 -1.2,0M601.6,269.3m-0.6,0a0.6,0.6 0 1,0 1.2,0a0.6,0.6 0 1,0 -1.2,0M652.4,277.1m-0.6,0a0.6,0.6 0 1,0 1.2,0a0.6,0.6 0 1,0 -1.2,0M707.3,303.2m-0.6,0a0.6,0.6 0 1,0 1.2,0a0.6,0.6 0 1,0 -1.2,0M569.4,270.6m-0.6,0a0.6,0.6 0 1,0 1.2,0a0.6,0.6 0 1,0 -1.2,0M584.1,312.8m-0.6,0a0.6,0.6 0 1,0 1.2,0a0.6,0.6 0 1,0 -1.2,0M657.2,317.2m-0.6,0a0.6,0.6 0 1,0 1.2,0a0.6,0.6 0 1,0 -1.2,0M699.4,263.9m-0.6,0a0.6,0.6 0 1,0 1.2,0a0.6,0.6 0 1,0 -1.2,0M520.2,339.7m-0.6,0a0.6,0.6 0 1,0 1.2,0a0.6,0.6 0 1,0 -1.2,0M720.4,324.7m-0.6,0a0.6,0.6 0 1,0 1.2,0a0.6,0.6 0 1,0 -1.2,0M649.4,282.7m-0.6,0a0.6,0.6 0 1,0 1.2,0a0.6,0.6 0 1,0 -1.2,0M727.7,322.2m-0.6,0a0.6,0.6 0 1,0 1.2,0a0.6,0.6 0 1,0 -1.2,0M489.2,289.4m-0.6,0a0.6,0.6 0 1,0 1.2,0a0.6,0.6 0 1,0 -1.2,0M574.4,317.5m-0.6,0a0.6,0.6 0 1,0 1.2,0a0.6,0.6 0 1,0 -1.2,0M673.5,300.3m-0.6,0a0.6,0.6 0 1,0 1.2,0a0.6,0.6 0 1,0 -1.2,0M723.9,287.0m-0.6,0a0.6,0.6 0 1,0 1.2,0a0.6,0.6 0 1,0 -1.2,0M679.9,291.3m-0.6,0a0.6,0.6 0 1,0 1.2,0a0.6,0.6 0 1,0 -1.2,0M720.7,272.4m-0.6,0a0.6,0.6 0 1,0 1.2,0a0.6,0.6 0 1,0 -1.2,0M753.2,279.4m-0.6,0a0.6,0.6 0 1,0 1.2,0a0.6,0.6 0 1,0 -1.2,0M657.1,341.2m-0.6,0a0.6,0.6 0 1,0 1.2,0a0.6,0.6 0 1,0 -1.2,0M543.7,310.4m-0.6,0a0.6,0.6 0 1,0 1.2,0a0.6,0.6 0 1,0 -1.2,0M717.2,265.6m-0.6,0a0.6,0.6 0 1,0 1.2,0a0.6,0.6 0 1,0 -1.2,0M583.9,343.4m-0.6,0a0.6,0.6 0 1,0 1.2,0a0.6,0.6 0 1,0 -1.2,0M550.5,324.8m-0.6,0a0.6,0.6 0 1,0 1.2,0a0.6,0.6 0 1,0 -1.2,0M617.5,345.4m-0.6,0a0.6,0.6 0 1,0 1.2,0a0.6,0.6 0 1,0 -1.2,0M565.6,315.8m-0.6,0a0.6,0.6 0 1,0 1.2,0a0.6,0.6 0 1,0 -1.2,0M681.7,300.7m-0.6,0a0.6,0.6 0 1,0 1.2,0a0.6,0.6 0 1,0 -1.2,0M739.9,298.1m-0.6,0a0.6,0.6 0 1,0 1.2,0a0.6,0.6 0 1,0 -1.2,0M591.4,293.6m-0.6,0a0.6,0.6 0 1,0 1.2,0a0.6,0.6 0 1,0 -1.2,0M578.5,335.4m-0.6,0a0.6,0.6 0 1,0 1.2,0a0.6,0.6 0 1,0 -1.2,0M664.3,264.3m-0.6,0a0.6,0.6 0 1,0 1.2,0a0.6,0.6 0 1,0 -1.2,0M701.1,275.9m-0.6,0a0.6,0.6 0 1,0 1.2,0a0.6,0.6 0 1,0 -1.2,0M598.1,311.5m-0.6,0a0.6,0.6 0 1,0 1.2,0a0.6,0.6 0 1,0 -1.2,0M728.7,290.8m-0.6,0a0.6,0.6 0 1,0 1.2,0a0.6,0.6 0 1,0 -1.2,0M493.9,315.4m-0.6,0a0.6,0.6 0 1,0 1.2,0a0.6,0.6 0 1,0 -1.2,0M615.8,320.4m-0.6,0a0.6,0.6 0 1,0 1.2,0a0.6,0.6 0 1,0 -1.2,0M669.8,320.2m-0.6,0a0.6,0.6 0 1,0 1.2,0a0.6,0.6 0 1,0 -1.2,0M465.9,314.6m-0.6,0a0.6,0.6 0 1,0 1.2,0a0.6,0.6 0 1,0 -1.2,0M631.7,308.2m-0.6,0a0.6,0.6 0 1,0 1.2,0a0.6,0.6 0 1,0 -1.2,0M670.6,326.5m-0.6,0a0.6,0.6 0 1,0 1.2,0a0.6,0.6 0 1,0 -1.2,0M577.1,297.4m-0.6,0a0.6,0.6 0 1,0 1.2,0a0.6,0.6 0 1,0 -1.2,0M687.4,297.0m-0.6,0a0.6,0.6 0 1,0 1.2,0a0.6,0.6 0 1,0 -1.2,0M678.6,339.5m-0.6,0a0.6,0.6 0 1,0 1.2,0a0.6,0.6 0 1,0 -1.2,0M746.1,313.5m-0.6,0a0.6,0.6 0 1,0 1.2,0a0.6,0.6 0 1,0 -1.2,0M489.7,269.6m-0.6,0a0.6,0.6 0 1,0 1.2,0a0.6,0.6 0 1,0 -1.2,0M719.5,319.4m-0.6,0a0.6,0.6 0 1,0 1.2,0a0.6,0.6 0 1,0 -1.2,0M747.8,277.0m-0.6,0a0.6,0.6 0 1,0 1.2,0a0.6,0.6 0 1,0 -1.2,0M707.6,282.3m-0.6,0a0.6,0.6 0 1,0 1.2,0a0.6,0.6 0 1,0 -1.2,0M603.0,301.6m-0.6,0a0.6,0.6 0 1,0 1.2,0a0.6,0.6 0 1,0 -1.2,0M657.5,313.0m-0.6,0a0.6,0.6 0 1,0 1.2,0a0.6,0.6 0 1,0 -1.2,0M744.9,287.1m-0.6,0a0.6,0.6 0 1,0 1.2,0a0.6,0.6 0 1,0 -1.2,0M667.3,274.8m-0.6,0a0.6,0.6 0 1,0 1.2,0a0.6,0.6 0 1,0 -1.2,0M691.1,273.1m-0.6,0a0.6,0.6 0 1,0 1.2,0a0.6,0.6 0 1,0 -1.2,0M625.3,268.3m-0.6,0a0.6,0.6 0 1,0 1.2,0a0.6,0.6 0 1,0 -1.2,0M552.5,347.7m-0.6,0a0.6,0.6 0 1,0 1.2,0a0.6,0.6 0 1,0 -1.2,0M582.3,294.7m-0.6,0a0.6,0.6 0 1,0 1.2,0a0.6,0.6 0 1,0 -1.2,0M687.0,280.8m-0.6,0a0.6,0.6 0 1,0 1.2,0a0.6,0.6 0 1,0 -1.2,0M500.1,333.6m-0.6,0a0.6,0.6 0 1,0 1.2,0a0.6,0.6 0 1,0 -1.2,0M476.1,297.2m-0.6,0a0.6,0.6 0 1,0 1.2,0a0.6,0.6 0 1,0 -1.2,0M677.3,304.5m-0.6,0a0.6,0.6 0 1,0 1.2,0a0.6,0.6 0 1,0 -1.2,0M611.1,331.4m-0.6,0a0.6,0.6 0 1,0 1.2,0a0.6,0.6 0 1,0 -1.2,0M510.6,269.4m-0.6,0a0.6,0.6 0 1,0 1.2,0a0.6,0.6 0 1,0 -1.2,0M644.8,286.2m-0.6,0a0.6,0.6 0 1,0 1.2,0a0.6,0.6 0 1,0 -1.2,0M692.3,323.1m-0.6,0a0.6,0.6 0 1,0 1.2,0a0.6,0.6 0 1,0 -1.2,0M679.8,285.1m-0.6,0a0.6,0.6 0 1,0 1.2,0a0.6,0.6 0 1,0 -1.2,0M740.3,302.9m-0.6,0a0.6,0.6 0 1,0 1.2,0a0.6,0.6 0 1,0 -1.2,0M474.7,323.2m-0.6,0a0.6,0.6 0 1,0 1.2,0a0.6,0.6 0 1,0 -1.2,0M747.2,292.6m-0.6,0a0.6,0.6 0 1,0 1.2,0a0.6,0.6 0 1,0 -1.2,0M752.0,304.6m-0.6,0a0.6,0.6 0 1,0 1.2,0a0.6,0.6 0 1,0 -1.2,0M747.2,281.3m-0.6,0a0.6,0.6 0 1,0 1.2,0a0.6,0.6 0 1,0 -1.2,0M741.7,308.4m-0.6,0a0.6,0.6 0 1,0 1.2,0a0.6,0.6 0 1,0 -1.2,0M485.9,268.3m-0.6,0a0.6,0.6 0 1,0 1.2,0a0.6,0.6 0 1,0 -1.2,0M603.8,332.9m-0.6,0a0.6,0.6 0 1,0 1.2,0a0.6,0.6 0 1,0 -1.2,0M517.2,293.5m-0.6,0a0.6,0.6 0 1,0 1.2,0a0.6,0.6 0 1,0 -1.2,0M677.4,279.0m-0.6,0a0.6,0.6 0 1,0 1.2,0a0.6,0.6 0 1,0 -1.2,0M736.3,295.1m-0.6,0a0.6,0.6 0 1,0 1.2,0a0.6,0.6 0 1,0 -1.2,0M513.3,337.8m-0.6,0a0.6,0.6 0 1,0 1.2,0a0.6,0.6 0 1,0 -1.2,0M643.0,346.7m-0.6,0a0.6,0.6 0 1,0 1.2,0a0.6,0.6 0 1,0 -1.2,0M599.8,307.1m-0.6,0a0.6,0.6 0 1,0 1.2,0a0.6,0.6 0 1,0 -1.2,0M672.2,285.4m-0.6,0a0.6,0.6 0 1,0 1.2,0a0.6,0.6 0 1,0 -1.2,0M760.9,294.0m-0.6,0a0.6,0.6 0 1,0 1.2,0a0.6,0.6 0 1,0 -1.2,0M636.2,317.6m-0.6,0a0.6,0.6 0 1,0 1.2,0a0.6,0.6 0 1,0 -1.2,0M562.9,269.6m-0.6,0a0.6,0.6 0 1,0 1.2,0a0.6,0.6 0 1,0 -1.2,0M737.1,270.8m-0.6,0a0.6,0.6 0 1,0 1.2,0a0.6,0.6 0 1,0 -1.2,0M761.6,301.9m-0.6,0a0.6,0.6 0 1,0 1.2,0a0.6,0.6 0 1,0 -1.2,0M609.5,290.1m-0.6,0a0.6,0.6 0 1,0 1.2,0a0.6,0.6 0 1,0 -1.2,0M743.6,274.4m-0.6,0a0.6,0.6 0 1,0 1.2,0a0.6,0.6 0 1,0 -1.2,0M708.9,283.0m-0.6,0a0.6,0.6 0 1,0 1.2,0a0.6,0.6 0 1,0 -1.2,0M757.9,305.7m-0.6,0a0.6,0.6 0 1,0 1.2,0a0.6,0.6 0 1,0 -1.2,0M565.9,271.6m-0.6,0a0.6,0.6 0 1,0 1.2,0a0.6,0.6 0 1,0 -1.2,0M676.2,331.5m-0.6,0a0.6,0.6 0 1,0 1.2,0a0.6,0.6 0 1,0 -1.2,0M564.3,275.3m-0.6,0a0.6,0.6 0 1,0 1.2,0a0.6,0.6 0 1,0 -1.2,0M487.3,323.7m-0.6,0a0.6,0.6 0 1,0 1.2,0a0.6,0.6 0 1,0 -1.2,0M685.8,306.5m-0.6,0a0.6,0.6 0 1,0 1.2,0a0.6,0.6 0 1,0 -1.2,0M568.5,336.8m-0.6,0a0.6,0.6 0 1,0 1.2,0a0.6,0.6 0 1,0 -1.2,0M661.7,320.9m-0.6,0a0.6,0.6 0 1,0 1.2,0a0.6,0.6 0 1,0 -1.2,0M551.3,314.3m-0.6,0a0.6,0.6 0 1,0 1.2,0a0.6,0.6 0 1,0 -1.2,0M668.3,303.5m-0.6,0a0.6,0.6 0 1,0 1.2,0a0.6,0.6 0 1,0 -1.2,0M571.8,351.1m-0.6,0a0.6,0.6 0 1,0 1.2,0a0.6,0.6 0 1,0 -1.2,0M542.9,336.5m-0.6,0a0.6,0.6 0 1,0 1.2,0a0.6,0.6 0 1,0 -1.2,0M470.6,279.3m-0.6,0a0.6,0.6 0 1,0 1.2,0a0.6,0.6 0 1,0 -1.2,0M648.7,297.3m-0.6,0a0.6,0.6 0 1,0 1.2,0a0.6,0.6 0 1,0 -1.2,0M545.7,341.1m-0.6,0a0.6,0.6 0 1,0 1.2,0a0.6,0.6 0 1,0 -1.2,0M526.5,328.5m-0.6,0a0.6,0.6 0 1,0 1.2,0a0.6,0.6 0 1,0 -1.2,0M718.8,301.2m-0.6,0a0.6,0.6 0 1,0 1.2,0a0.6,0.6 0 1,0 -1.2,0M653.1,323.4m-0.6,0a0.6,0.6 0 1,0 1.2,0a0.6,0.6 0 1,0 -1.2,0M684.8,279.9m-0.6,0a0.6,0.6 0 1,0 1.2,0a0.6,0.6 0 1,0 -1.2,0M684.8,308.2m-0.6,0a0.6,0.6 0 1,0 1.2,0a0.6,0.6 0 1,0 -1.2,0M584.5,318.6m-0.6,0a0.6,0.6 0 1,0 1.2,0a0.6,0.6 0 1,0 -1.2,0M729.5,318.1m-0.6,0a0.6,0.6 0 1,0 1.2,0a0.6,0.6 0 1,0 -1.2,0M561.0,315.8m-0.6,0a0.6,0.6 0 1,0 1.2,0a0.6,0.6 0 1,0 -1.2,0M568.4,331.5m-0.6,0a0.6,0.6 0 1,0 1.2,0a0.6,0.6 0 1,0 -1.2,0M551.8,340.8m-0.6,0a0.6,0.6 0 1,0 1.2,0a0.6,0.6 0 1,0 -1.2,0M745.4,314.1m-0.6,0a0.6,0.6 0 1,0 1.2,0a0.6,0.6 0 1,0 -1.2,0M743.1,314.6m-0.6,0a0.6,0.6 0 1,0 1.2,0a0.6,0.6 0 1,0 -1.2,0M696.8,300.7m-0.6,0a0.6,0.6 0 1,0 1.2,0a0.6,0.6 0 1,0 -1.2,0M649.6,277.3m-0.6,0a0.6,0.6 0 1,0 1.2,0a0.6,0.6 0 1,0 -1.2,0M700.6,281.4m-0.6,0a0.6,0.6 0 1,0 1.2,0a0.6,0.6 0 1,0 -1.2,0M702.2,332.2m-0.6,0a0.6,0.6 0 1,0 1.2,0a0.6,0.6 0 1,0 -1.2,0M662.3,312.3m-0.6,0a0.6,0.6 0 1,0 1.2,0a0.6,0.6 0 1,0 -1.2,0M549.4,317.5m-0.6,0a0.6,0.6 0 1,0 1.2,0a0.6,0.6 0 1,0 -1.2,0M475.2,307.1m-0.6,0a0.6,0.6 0 1,0 1.2,0a0.6,0.6 0 1,0 -1.2,0M693.8,289.3m-0.6,0a0.6,0.6 0 1,0 1.2,0a0.6,0.6 0 1,0 -1.2,0M715.3,276.0m-0.6,0a0.6,0.6 0 1,0 1.2,0a0.6,0.6 0 1,0 -1.2,0M576.9,330.9m-0.6,0a0.6,0.6 0 1,0 1.2,0a0.6,0.6 0 1,0 -1.2,0M578.4,351.2m-0.6,0a0.6,0.6 0 1,0 1.2,0a0.6,0.6 0 1,0 -1.2,0M541.0,282.4m-0.6,0a0.6,0.6 0 1,0 1.2,0a0.6,0.6 0 1,0 -1.2,0M734.5,278.8m-0.6,0a0.6,0.6 0 1,0 1.2,0a0.6,0.6 0 1,0 -1.2,0M685.0,263.6m-0.6,0a0.6,0.6 0 1,0 1.2,0a0.6,0.6 0 1,0 -1.2,0M618.5,274.7m-0.6,0a0.6,0.6 0 1,0 1.2,0a0.6,0.6 0 1,0 -1.2,0M676.4,305.5m-0.6,0a0.6,0.6 0 1,0 1.2,0a0.6,0.6 0 1,0 -1.2,0M584.5,350.9m-0.6,0a0.6,0.6 0 1,0 1.2,0a0.6,0.6 0 1,0 -1.2,0M746.6,282.2m-0.6,0a0.6,0.6 0 1,0 1.2,0a0.6,0.6 0 1,0 -1.2,0M549.9,303.9m-0.6,0a0.6,0.6 0 1,0 1.2,0a0.6,0.6 0 1,0 -1.2,0M684.7,320.0m-0.6,0a0.6,0.6 0 1,0 1.2,0a0.6,0.6 0 1,0 -1.2,0M760.2,298.0m-0.6,0a0.6,0.6 0 1,0 1.2,0a0.6,0.6 0 1,0 -1.2,0M668.6,333.4m-0.6,0a0.6,0.6 0 1,0 1.2,0a0.6,0.6 0 1,0 -1.2,0M706.2,287.9m-0.6,0a0.6,0.6 0 1,0 1.2,0a0.6,0.6 0 1,0 -1.2,0M727.3,286.5m-0.6,0a0.6,0.6 0 1,0 1.2,0a0.6,0.6 0 1,0 -1.2,0M630.3,315.7m-0.6,0a0.6,0.6 0 1,0 1.2,0a0.6,0.6 0 1,0 -1.2,0M433.5,295.8m-0.6,0a0.6,0.6 0 1,0 1.2,0a0.6,0.6 0 1,0 -1.2,0M689.2,274.5m-0.6,0a0.6,0.6 0 1,0 1.2,0a0.6,0.6 0 1,0 -1.2,0M659.5,291.9m-0.6,0a0.6,0.6 0 1,0 1.2,0a0.6,0.6 0 1,0 -1.2,0M699.6,266.6m-0.6,0a0.6,0.6 0 1,0 1.2,0a0.6,0.6 0 1,0 -1.2,0M585.9,340.8m-0.6,0a0.6,0.6 0 1,0 1.2,0a0.6,0.6 0 1,0 -1.2,0M646.3,299.3m-0.6,0a0.6,0.6 0 1,0 1.2,0a0.6,0.6 0 1,0 -1.2,0M668.0,275.3m-0.6,0a0.6,0.6 0 1,0 1.2,0a0.6,0.6 0 1,0 -1.2,0M626.3,290.2m-0.6,0a0.6,0.6 0 1,0 1.2,0a0.6,0.6 0 1,0 -1.2,0M723.3,290.8m-0.6,0a0.6,0.6 0 1,0 1.2,0a0.6,0.6 0 1,0 -1.2,0M691.0,278.1m-0.6,0a0.6,0.6 0 1,0 1.2,0a0.6,0.6 0 1,0 -1.2,0M663.5,308.7m-0.6,0a0.6,0.6 0 1,0 1.2,0a0.6,0.6 0 1,0 -1.2,0M616.8,303.2m-0.6,0a0.6,0.6 0 1,0 1.2,0a0.6,0.6 0 1,0 -1.2,0M663.9,297.6m-0.6,0a0.6,0.6 0 1,0 1.2,0a0.6,0.6 0 1,0 -1.2,0M748.6,307.9m-0.6,0a0.6,0.6 0 1,0 1.2,0a0.6,0.6 0 1,0 -1.2,0M480.2,274.9m-0.6,0a0.6,0.6 0 1,0 1.2,0a0.6,0.6 0 1,0 -1.2,0M516.1,276.1m-0.6,0a0.6,0.6 0 1,0 1.2,0a0.6,0.6 0 1,0 -1.2,0M661.3,304.0m-0.6,0a0.6,0.6 0 1,0 1.2,0a0.6,0.6 0 1,0 -1.2,0M627.3,302.5m-0.6,0a0.6,0.6 0 1,0 1.2,0a0.6,0.6 0 1,0 -1.2,0M753.3,280.5m-0.6,0a0.6,0.6 0 1,0 1.2,0a0.6,0.6 0 1,0 -1.2,0M653.6,344.9m-0.6,0a0.6,0.6 0 1,0 1.2,0a0.6,0.6 0 1,0 -1.2,0M561.1,329.4m-0.6,0a0.6,0.6 0 1,0 1.2,0a0.6,0.6 0 1,0 -1.2,0M525.9,294.8m-0.6,0a0.6,0.6 0 1,0 1.2,0a0.6,0.6 0 1,0 -1.2,0M493.9,331.0m-0.6,0a0.6,0.6 0 1,0 1.2,0a0.6,0.6 0 1,0 -1.2,0M706.2,268.1m-0.6,0a0.6,0.6 0 1,0 1.2,0a0.6,0.6 0 1,0 -1.2,0M752.9,295.9m-0.6,0a0.6,0.6 0 1,0 1.2,0a0.6,0.6 0 1,0 -1.2,0M455.7,318.2m-0.6,0a0.6,0.6 0 1,0 1.2,0a0.6,0.6 0 1,0 -1.2,0M599.1,281.3m-0.6,0a0.6,0.6 0 1,0 1.2,0a0.6,0.6 0 1,0 -1.2,0M743.4,305.9m-0.6,0a0.6,0.6 0 1,0 1.2,0a0.6,0.6 0 1,0 -1.2,0M718.1,303.4m-0.6,0a0.6,0.6 0 1,0 1.2,0a0.6,0.6 0 1,0 -1.2,0M569.2,310.2m-0.6,0a0.6,0.6 0 1,0 1.2,0a0.6,0.6 0 1,0 -1.2,0M590.5,323.2m-0.6,0a0.6,0.6 0 1,0 1.2,0a0.6,0.6 0 1,0 -1.2,0M660.9,337.5m-0.6,0a0.6,0.6 0 1,0 1.2,0a0.6,0.6 0 1,0 -1.2,0M721.0,315.6m-0.6,0a0.6,0.6 0 1,0 1.2,0a0.6,0.6 0 1,0 -1.2,0M493.0,268.0m-0.6,0a0.6,0.6 0 1,0 1.2,0a0.6,0.6 0 1,0 -1.2,0M686.1,287.6m-0.6,0a0.6,0.6 0 1,0 1.2,0a0.6,0.6 0 1,0 -1.2,0M761.3,287.1m-0.6,0a0.6,0.6 0 1,0 1.2,0a0.6,0.6 0 1,0 -1.2,0M741.0,293.4m-0.6,0a0.6,0.6 0 1,0 1.2,0a0.6,0.6 0 1,0 -1.2,0M646.5,331.7m-0.6,0a0.6,0.6 0 1,0 1.2,0a0.6,0.6 0 1,0 -1.2,0M442.2,294.7m-0.6,0a0.6,0.6 0 1,0 1.2,0a0.6,0.6 0 1,0 -1.2,0M696.1,328.6m-0.6,0a0.6,0.6 0 1,0 1.2,0a0.6,0.6 0 1,0 -1.2,0M675.7,279.1m-0.6,0a0.6,0.6 0 1,0 1.2,0a0.6,0.6 0 1,0 -1.2,0M710.6,307.9m-0.6,0a0.6,0.6 0 1,0 1.2,0a0.6,0.6 0 1,0 -1.2,0M564.9,287.1m-0.6,0a0.6,0.6 0 1,0 1.2,0a0.6,0.6 0 1,0 -1.2,0M626.7,283.6m-0.6,0a0.6,0.6 0 1,0 1.2,0a0.6,0.6 0 1,0 -1.2,0M675.9,325.0m-0.6,0a0.6,0.6 0 1,0 1.2,0a0.6,0.6 0 1,0 -1.2,0M706.2,313.5m-0.6,0a0.6,0.6 0 1,0 1.2,0a0.6,0.6 0 1,0 -1.2,0M520.4,301.8m-0.6,0a0.6,0.6 0 1,0 1.2,0a0.6,0.6 0 1,0 -1.2,0M697.7,305.8m-0.6,0a0.6,0.6 0 1,0 1.2,0a0.6,0.6 0 1,0 -1.2,0M534.1,293.6m-0.6,0a0.6,0.6 0 1,0 1.2,0a0.6,0.6 0 1,0 -1.2,0M607.5,308.8m-0.6,0a0.6,0.6 0 1,0 1.2,0a0.6,0.6 0 1,0 -1.2,0M542.6,296.1m-0.6,0a0.6,0.6 0 1,0 1.2,0a0.6,0.6 0 1,0 -1.2,0M684.4,269.8m-0.6,0a0.6,0.6 0 1,0 1.2,0a0.6,0.6 0 1,0 -1.2,0M645.3,337.0m-0.6,0a0.6,0.6 0 1,0 1.2,0a0.6,0.6 0 1,0 -1.2,0M733.4,283.8m-0.6,0a0.6,0.6 0 1,0 1.2,0a0.6,0.6 0 1,0 -1.2,0M622.3,315.2m-0.6,0a0.6,0.6 0 1,0 1.2,0a0.6,0.6 0 1,0 -1.2,0M617.1,327.6m-0.6,0a0.6,0.6 0 1,0 1.2,0a0.6,0.6 0 1,0 -1.2,0M447.8,315.8m-0.6,0a0.6,0.6 0 1,0 1.2,0a0.6,0.6 0 1,0 -1.2,0M765.4,292.9m-0.6,0a0.6,0.6 0 1,0 1.2,0a0.6,0.6 0 1,0 -1.2,0M613.0,285.2m-0.6,0a0.6,0.6 0 1,0 1.2,0a0.6,0.6 0 1,0 -1.2,0M638.3,328.1m-0.6,0a0.6,0.6 0 1,0 1.2,0a0.6,0.6 0 1,0 -1.2,0M651.2,291.1m-0.6,0a0.6,0.6 0 1,0 1.2,0a0.6,0.6 0 1,0 -1.2,0M679.3,297.7m-0.6,0a0.6,0.6 0 1,0 1.2,0a0.6,0.6 0 1,0 -1.2,0M560.0,337.8m-0.6,0a0.6,0.6 0 1,0 1.2,0a0.6,0.6 0 1,0 -1.2,0M565.6,286.3m-0.6,0a0.6,0.6 0 1,0 1.2,0a0.6,0.6 0 1,0 -1.2,0M713.3,271.2m-0.6,0a0.6,0.6 0 1,0 1.2,0a0.6,0.6 0 1,0 -1.2,0M722.3,298.3m-0.6,0a0.6,0.6 0 1,0 1.2,0a0.6,0.6 0 1,0 -1.2,0M554.2,338.3m-0.6,0a0.6,0.6 0 1,0 1.2,0a0.6,0.6 0 1,0 -1.2,0M712.8,273.5m-0.6,0a0.6,0.6 0 1,0 1.2,0a0.6,0.6 0 1,0 -1.2,0M757.2,307.3m-0.6,0a0.6,0.6 0 1,0 1.2,0a0.6,0.6 0 1,0 -1.2,0M511.0,284.0m-0.6,0a0.6,0.6 0 1,0 1.2,0a0.6,0.6 0 1,0 -1.2,0M589.4,282.0m-0.6,0a0.6,0.6 0 1,0 1.2,0a0.6,0.6 0 1,0 -1.2,0M549.1,277.1m-0.6,0a0.6,0.6 0 1,0 1.2,0a0.6,0.6 0 1,0 -1.2,0M435.5,286.7m-0.6,0a0.6,0.6 0 1,0 1.2,0a0.6,0.6 0 1,0 -1.2,0M627.1,327.5m-0.6,0a0.6,0.6 0 1,0 1.2,0a0.6,0.6 0 1,0 -1.2,0M637.3,347.0m-0.6,0a0.6,0.6 0 1,0 1.2,0a0.6,0.6 0 1,0 -1.2,0M612.0,296.9m-0.6,0a0.6,0.6 0 1,0 1.2,0a0.6,0.6 0 1,0 -1.2,0M467.0,305.9m-0.6,0a0.6,0.6 0 1,0 1.2,0a0.6,0.6 0 1,0 -1.2,0M713.3,307.2m-0.6,0a0.6,0.6 0 1,0 1.2,0a0.6,0.6 0 1,0 -1.2,0M696.9,325.6m-0.6,0a0.6,0.6 0 1,0 1.2,0a0.6,0.6 0 1,0 -1.2,0M515.3,330.0m-0.6,0a0.6,0.6 0 1,0 1.2,0a0.6,0.6 0 1,0 -1.2,0M666.5,315.0m-0.6,0a0.6,0.6 0 1,0 1.2,0a0.6,0.6 0 1,0 -1.2,0M677.9,272.5m-0.6,0a0.6,0.6 0 1,0 1.2,0a0.6,0.6 0 1,0 -1.2,0M741.0,288.4m-0.6,0a0.6,0.6 0 1,0 1.2,0a0.6,0.6 0 1,0 -1.2,0M486.9,277.0m-0.6,0a0.6,0.6 0 1,0 1.2,0a0.6,0.6 0 1,0 -1.2,0M711.1,297.2m-0.6,0a0.6,0.6 0 1,0 1.2,0a0.6,0.6 0 1,0 -1.2,0M533.6,308.2m-0.6,0a0.6,0.6 0 1,0 1.2,0a0.6,0.6 0 1,0 -1.2,0M725.6,309.1m-0.6,0a0.6,0.6 0 1,0 1.2,0a0.6,0.6 0 1,0 -1.2,0M639.9,285.6m-0.6,0a0.6,0.6 0 1,0 1.2,0a0.6,0.6 0 1,0 -1.2,0M630.1,347.5m-0.6,0a0.6,0.6 0 1,0 1.2,0a0.6,0.6 0 1,0 -1.2,0M457.2,287.1m-0.6,0a0.6,0.6 0 1,0 1.2,0a0.6,0.6 0 1,0 -1.2,0M541.1,318.1m-0.6,0a0.6,0.6 0 1,0 1.2,0a0.6,0.6 0 1,0 -1.2,0M514.0,322.5m-0.6,0a0.6,0.6 0 1,0 1.2,0a0.6,0.6 0 1,0 -1.2,0M585.5,305.9m-0.6,0a0.6,0.6 0 1,0 1.2,0a0.6,0.6 0 1,0 -1.2,0M469.4,271.4m-0.6,0a0.6,0.6 0 1,0 1.2,0a0.6,0.6 0 1,0 -1.2,0M646.6,272.1m-0.6,0a0.6,0.6 0 1,0 1.2,0a0.6,0.6 0 1,0 -1.2,0M520.4,305.8m-0.6,0a0.6,0.6 0 1,0 1.2,0a0.6,0.6 0 1,0 -1.2,0M717.5,293.1m-0.6,0a0.6,0.6 0 1,0 1.2,0a0.6,0.6 0 1,0 -1.2,0M750.0,300.1m-0.6,0a0.6,0.6 0 1,0 1.2,0a0.6,0.6 0 1,0 -1.2,0M528.5,268.6m-0.6,0a0.6,0.6 0 1,0 1.2,0a0.6,0.6 0 1,0 -1.2,0M441.0,310.0m-0.6,0a0.6,0.6 0 1,0 1.2,0a0.6,0.6 0 1,0 -1.2,0M739.3,281.9m-0.6,0a0.6,0.6 0 1,0 1.2,0a0.6,0.6 0 1,0 -1.2,0M708.1,275.0m-0.6,0a0.6,0.6 0 1,0 1.2,0a0.6,0.6 0 1,0 -1.2,0M713.7,315.9m-0.6,0a0.6,0.6 0 1,0 1.2,0a0.6,0.6 0 1,0 -1.2,0M604.8,324.6m-0.6,0a0.6,0.6 0 1,0 1.2,0a0.6,0.6 0 1,0 -1.2,0M699.8,264.2m-0.6,0a0.6,0.6 0 1,0 1.2,0a0.6,0.6 0 1,0 -1.2,0M609.1,351.9m-0.6,0a0.6,0.6 0 1,0 1.2,0a0.6,0.6 0 1,0 -1.2,0M544.1,281.8m-0.6,0a0.6,0.6 0 1,0 1.2,0a0.6,0.6 0 1,0 -1.2,0M645.7,344.7m-0.6,0a0.6,0.6 0 1,0 1.2,0a0.6,0.6 0 1,0 -1.2,0M621.8,344.2m-0.6,0a0.6,0.6 0 1,0 1.2,0a0.6,0.6 0 1,0 -1.2,0M713.4,298.5m-0.6,0a0.6,0.6 0 1,0 1.2,0a0.6,0.6 0 1,0 -1.2,0M690.9,323.5m-0.6,0a0.6,0.6 0 1,0 1.2,0a0.6,0.6 0 1,0 -1.2,0M702.4,278.2m-0.6,0a0.6,0.6 0 1,0 1.2,0a0.6,0.6 0 1,0 -1.2,0M628.5,302.9m-0.6,0a0.6,0.6 0 1,0 1.2,0a0.6,0.6 0 1,0 -1.2,0M673.0,274.9m-0.6,0a0.6,0.6 0 1,0 1.2,0a0.6,0.6 0 1,0 -1.2,0M483.5,311.4m-0.6,0a0.6,0.6 0 1,0 1.2,0a0.6,0.6 0 1,0 -1.2,0M609.7,270.0m-0.6,0a0.6,0.6 0 1,0 1.2,0a0.6,0.6 0 1,0 -1.2,0M660.8,270.1m-0.6,0a0.6,0.6 0 1,0 1.2,0a0.6,0.6 0 1,0 -1.2,0M503.5,318.2m-0.6,0a0.6,0.6 0 1,0 1.2,0a0.6,0.6 0 1,0 -1.2,0M652.8,266.1m-0.6,0a0.6,0.6 0 1,0 1.2,0a0.6,0.6 0 1,0 -1.2,0M742.2,315.9m-0.6,0a0.6,0.6 0 1,0 1.2,0a0.6,0.6 0 1,0 -1.2,0M525.2,326.6m-0.6,0a0.6,0.6 0 1,0 1.2,0a0.6,0.6 0 1,0 -1.2,0M650.5,317.9m-0.6,0a0.6,0.6 0 1,0 1.2,0a0.6,0.6 0 1,0 -1.2,0M746.2,294.6m-0.6,0a0.6,0.6 0 1,0 1.2,0a0.6,0.6 0 1,0 -1.2,0M640.9,340.5m-0.6,0a0.6,0.6 0 1,0 1.2,0a0.6,0.6 0 1,0 -1.2,0M521.8,282.0m-0.6,0a0.6,0.6 0 1,0 1.2,0a0.6,0.6 0 1,0 -1.2,0M449.5,303.0m-0.6,0a0.6,0.6 0 1,0 1.2,0a0.6,0.6 0 1,0 -1.2,0M617.0,295.8m-0.6,0a0.6,0.6 0 1,0 1.2,0a0.6,0.6 0 1,0 -1.2,0M631.5,323.2m-0.6,0a0.6,0.6 0 1,0 1.2,0a0.6,0.6 0 1,0 -1.2,0M553.8,329.9m-0.6,0a0.6,0.6 0 1,0 1.2,0a0.6,0.6 0 1,0 -1.2,0M536.8,336.8m-0.6,0a0.6,0.6 0 1,0 1.2,0a0.6,0.6 0 1,0 -1.2,0M569.3,343.3m-0.6,0a0.6,0.6 0 1,0 1.2,0a0.6,0.6 0 1,0 -1.2,0M748.3,296.8m-0.6,0a0.6,0.6 0 1,0 1.2,0a0.6,0.6 0 1,0 -1.2,0M666.8,322.6m-0.6,0a0.6,0.6 0 1,0 1.2,0a0.6,0.6 0 1,0 -1.2,0M692.2,286.6m-0.6,0a0.6,0.6 0 1,0 1.2,0a0.6,0.6 0 1,0 -1.2,0M514.5,267.9m-0.6,0a0.6,0.6 0 1,0 1.2,0a0.6,0.6 0 1,0 -1.2,0M709.4,285.7m-0.6,0a0.6,0.6 0 1,0 1.2,0a0.6,0.6 0 1,0 -1.2,0M687.9,336.8m-0.6,0a0.6,0.6 0 1,0 1.2,0a0.6,0.6 0 1,0 -1.2,0M531.3,285.7m-0.6,0a0.6,0.6 0 1,0 1.2,0a0.6,0.6 0 1,0 -1.2,0M705.3,292.4m-0.6,0a0.6,0.6 0 1,0 1.2,0a0.6,0.6 0 1,0 -1.2,0M634.3,308.5m-0.6,0a0.6,0.6 0 1,0 1.2,0a0.6,0.6 0 1,0 -1.2,0M529.9,315.4m-0.6,0a0.6,0.6 0 1,0 1.2,0a0.6,0.6 0 1,0 -1.2,0M626.6,348.4m-0.6,0a0.6,0.6 0 1,0 1.2,0a0.6,0.6 0 1,0 -1.2,0M495.7,292.9m-0.6,0a0.6,0.6 0 1,0 1.2,0a0.6,0.6 0 1,0 -1.2,0M655.9,311.9m-0.6,0a0.6,0.6 0 1,0 1.2,0a0.6,0.6 0 1,0 -1.2,0M670.1,310.1m-0.6,0a0.6,0.6 0 1,0 1.2,0a0.6,0.6 0 1,0 -1.2,0M468.8,297.2m-0.6,0a0.6,0.6 0 1,0 1.2,0a0.6,0.6 0 1,0 -1.2,0M693.1,284.1m-0.6,0a0.6,0.6 0 1,0 1.2,0a0.6,0.6 0 1,0 -1.2,0M697.5,284.5m-0.6,0a0.6,0.6 0 1,0 1.2,0a0.6,0.6 0 1,0 -1.2,0M685.7,300.6m-0.6,0a0.6,0.6 0 1,0 1.2,0a0.6,0.6 0 1,0 -1.2,0M457.7,313.9m-0.6,0a0.6,0.6 0 1,0 1.2,0a0.6,0.6 0 1,0 -1.2,0M539.2,314.6m-0.6,0a0.6,0.6 0 1,0 1.2,0a0.6,0.6 0 1,0 -1.2,0M695.2,273.2m-0.6,0a0.6,0.6 0 1,0 1.2,0a0.6,0.6 0 1,0 -1.2,0M631.3,266.5m-0.6,0a0.6,0.6 0 1,0 1.2,0a0.6,0.6 0 1,0 -1.2,0M559.2,301.1m-0.6,0a0.6,0.6 0 1,0 1.2,0a0.6,0.6 0 1,0 -1.2,0M600.2,273.7m-0.6,0a0.6,0.6 0 1,0 1.2,0a0.6,0.6 0 1,0 -1.2,0M641.3,278.7m-0.6,0a0.6,0.6 0 1,0 1.2,0a0.6,0.6 0 1,0 -1.2,0M704.1,308.6m-0.6,0a0.6,0.6 0 1,0 1.2,0a0.6,0.6 0 1,0 -1.2,0M634.5,322.9m-0.6,0a0.6,0.6 0 1,0 1.2,0a0.6,0.6 0 1,0 -1.2,0M530.2,274.1m-0.6,0a0.6,0.6 0 1,0 1.2,0a0.6,0.6 0 1,0 -1.2,0M566.7,307.7m-0.6,0a0.6,0.6 0 1,0 1.2,0a0.6,0.6 0 1,0 -1.2,0M592.5,316.9m-0.6,0a0.6,0.6 0 1,0 1.2,0a0.6,0.6 0 1,0 -1.2,0M705.4,332.3m-0.6,0a0.6,0.6 0 1,0 1.2,0a0.6,0.6 0 1,0 -1.2,0M724.3,303.2m-0.6,0a0.6,0.6 0 1,0 1.2,0a0.6,0.6 0 1,0 -1.2,0M514.6,268.0m-0.6,0a0.6,0.6 0 1,0 1.2,0a0.6,0.6 0 1,0 -1.2,0M715.9,325.4m-0.6,0a0.6,0.6 0 1,0 1.2,0a0.6,0.6 0 1,0 -1.2,0M693.2,310.4m-0.6,0a0.6,0.6 0 1,0 1.2,0a0.6,0.6 0 1,0 -1.2,0M685.2,306.9m-0.6,0a0.6,0.6 0 1,0 1.2,0a0.6,0.6 0 1,0 -1.2,0M608.7,274.9m-0.6,0a0.6,0.6 0 1,0 1.2,0a0.6,0.6 0 1,0 -1.2,0M528.7,320.3m-0.6,0a0.6,0.6 0 1,0 1.2,0a0.6,0.6 0 1,0 -1.2,0M535.5,268.8m-0.6,0a0.6,0.6 0 1,0 1.2,0a0.6,0.6 0 1,0 -1.2,0M605.9,282.6m-0.6,0a0.6,0.6 0 1,0 1.2,0a0.6,0.6 0 1,0 -1.2,0M629.0,340.7m-0.6,0a0.6,0.6 0 1,0 1.2,0a0.6,0.6 0 1,0 -1.2,0M736.1,307.2m-0.6,0a0.6,0.6 0 1,0 1.2,0a0.6,0.6 0 1,0 -1.2,0M593.8,305.1m-0.6,0a0.6,0.6 0 1,0 1.2,0a0.6,0.6 0 1,0 -1.2,0M759.1,289.9m-0.6,0a0.6,0.6 0 1,0 1.2,0a0.6,0.6 0 1,0 -1.2,0M709.3,328.6m-0.6,0a0.6,0.6 0 1,0 1.2,0a0.6,0.6 0 1,0 -1.2,0M468.9,322.6m-0.6,0a0.6,0.6 0 1,0 1.2,0a0.6,0.6 0 1,0 -1.2,0M485.1,316.7m-0.6,0a0.6,0.6 0 1,0 1.2,0a0.6,0.6 0 1,0 -1.2,0M637.2,302.0m-0.6,0a0.6,0.6 0 1,0 1.2,0a0.6,0.6 0 1,0 -1.2,0M748.0,297.7m-0.6,0a0.6,0.6 0 1,0 1.2,0a0.6,0.6 0 1,0 -1.2,0M662.0,286.0m-0.6,0a0.6,0.6 0 1,0 1.2,0a0.6,0.6 0 1,0 -1.2,0M671.5,265.2m-0.6,0a0.6,0.6 0 1,0 1.2,0a0.6,0.6 0 1,0 -1.2,0M752.1,300.3m-0.6,0a0.6,0.6 0 1,0 1.2,0a0.6,0.6 0 1,0 -1.2,0M687.7,291.7m-0.6,0a0.6,0.6 0 1,0 1.2,0a0.6,0.6 0 1,0 -1.2,0M601.5,306.5m-0.6,0a0.6,0.6 0 1,0 1.2,0a0.6,0.6 0 1,0 -1.2,0M703.5,297.7m-0.6,0a0.6,0.6 0 1,0 1.2,0a0.6,0.6 0 1,0 -1.2,0M582.4,315.2m-0.6,0a0.6,0.6 0 1,0 1.2,0a0.6,0.6 0 1,0 -1.2,0M676.6,291.2m-0.6,0a0.6,0.6 0 1,0 1.2,0a0.6,0.6 0 1,0 -1.2,0M724.7,267.8m-0.6,0a0.6,0.6 0 1,0 1.2,0a0.6,0.6 0 1,0 -1.2,0M679.4,304.0m-0.6,0a0.6,0.6 0 1,0 1.2,0a0.6,0.6 0 1,0 -1.2,0M587.2,299.7m-0.6,0a0.6,0.6 0 1,0 1.2,0a0.6,0.6 0 1,0 -1.2,0M500.3,269.1m-0.6,0a0.6,0.6 0 1,0 1.2,0a0.6,0.6 0 1,0 -1.2,0M443.4,302.0m-0.6,0a0.6,0.6 0 1,0 1.2,0a0.6,0.6 0 1,0 -1.2,0M488.6,307.8m-0.6,0a0.6,0.6 0 1,0 1.2,0a0.6,0.6 0 1,0 -1.2,0M662.8,297.1m-0.6,0a0.6,0.6 0 1,0 1.2,0a0.6,0.6 0 1,0 -1.2,0M680.5,275.1m-0.6,0a0.6,0.6 0 1,0 1.2,0a0.6,0.6 0 1,0 -1.2,0M724.6,273.3m-0.6,0a0.6,0.6 0 1,0 1.2,0a0.6,0.6 0 1,0 -1.2,0M658.6,288.7m-0.6,0a0.6,0.6 0 1,0 1.2,0a0.6,0.6 0 1,0 -1.2,0M691.8,302.0m-0.6,0a0.6,0.6 0 1,0 1.2,0a0.6,0.6 0 1,0 -1.2,0M700.9,333.7m-0.6,0a0.6,0.6 0 1,0 1.2,0a0.6,0.6 0 1,0 -1.2,0M577.7,322.5m-0.6,0a0.6,0.6 0 1,0 1.2,0a0.6,0.6 0 1,0 -1.2,0M588.6,269.8m-0.6,0a0.6,0.6 0 1,0 1.2,0a0.6,0.6 0 1,0 -1.2,0M599.9,270.4m-0.6,0a0.6,0.6 0 1,0 1.2,0a0.6,0.6 0 1,0 -1.2,0M652.9,302.7m-0.6,0a0.6,0.6 0 1,0 1.2,0a0.6,0.6 0 1,0 -1.2,0M746.7,281.8m-0.6,0a0.6,0.6 0 1,0 1.2,0a0.6,0.6 0 1,0 -1.2,0M517.7,289.0m-0.6,0a0.6,0.6 0 1,0 1.2,0a0.6,0.6 0 1,0 -1.2,0M631.6,330.1m-0.6,0a0.6,0.6 0 1,0 1.2,0a0.6,0.6 0 1,0 -1.2,0M525.6,280.2m-0.6,0a0.6,0.6 0 1,0 1.2,0a0.6,0.6 0 1,0 -1.2,0M457.7,296.9m-0.6,0a0.6,0.6 0 1,0 1.2,0a0.6,0.6 0 1,0 -1.2,0M506.2,324.5m-0.6,0a0.6,0.6 0 1,0 1.2,0a0.6,0.6 0 1,0 -1.2,0M711.7,269.8m-0.6,0a0.6,0.6 0 1,0 1.2,0a0.6,0.6 0 1,0 -1.2,0M595.6,335.7m-0.6,0a0.6,0.6 0 1,0 1.2,0a0.6,0.6 0 1,0 -1.2,0M593.7,324.6m-0.6,0a0.6,0.6 0 1,0 1.2,0a0.6,0.6 0 1,0 -1.2,0M749.2,313.4m-0.6,0a0.6,0.6 0 1,0 1.2,0a0.6,0.6 0 1,0 -1.2,0M703.8,283.2m-0.6,0a0.6,0.6 0 1,0 1.2,0a0.6,0.6 0 1,0 -1.2,0M450.5,274.7m-0.6,0a0.6,0.6 0 1,0 1.2,0a0.6,0.6 0 1,0 -1.2,0M607.2,316.8m-0.6,0a0.6,0.6 0 1,0 1.2,0a0.6,0.6 0 1,0 -1.2,0M623.3,340.7m-0.6,0a0.6,0.6 0 1,0 1.2,0a0.6,0.6 0 1,0 -1.2,0M717.3,287.5m-0.6,0a0.6,0.6 0 1,0 1.2,0a0.6,0.6 0 1,0 -1.2,0M444.8,301.4m-0.6,0a0.6,0.6 0 1,0 1.2,0a0.6,0.6 0 1,0 -1.2,0M620.9,307.9m-0.6,0a0.6,0.6 0 1,0 1.2,0a0.6,0.6 0 1,0 -1.2,0M593.6,301.3m-0.6,0a0.6,0.6 0 1,0 1.2,0a0.6,0.6 0 1,0 -1.2,0M520.7,269.4m-0.6,0a0.6,0.6 0 1,0 1.2,0a0.6,0.6 0 1,0 -1.2,0M643.7,321.4m-0.6,0a0.6,0.6 0 1,0 1.2,0a0.6,0.6 0 1,0 -1.2,0M464.8,288.9m-0.6,0a0.6,0.6 0 1,0 1.2,0a0.6,0.6 0 1,0 -1.2,0M490.1,284.5m-0.6,0a0.6,0.6 0 1,0 1.2,0a0.6,0.6 0 1,0 -1.2,0M457.2,296.5m-0.6,0a0.6,0.6 0 1,0 1.2,0a0.6,0.6 0 1,0 -1.2,0M616.4,350.0m-0.6,0a0.6,0.6 0 1,0 1.2,0a0.6,0.6 0 1,0 -1.2,0M763.8,300.8m-0.6,0a0.6,0.6 0 1,0 1.2,0a0.6,0.6 0 1,0 -1.2,0M637.1,341.3m-0.6,0a0.6,0.6 0 1,0 1.2,0a0.6,0.6 0 1,0 -1.2,0M455.4,311.6m-0.6,0a0.6,0.6 0 1,0 1.2,0a0.6,0.6 0 1,0 -1.2,0M711.7,321.9m-0.6,0a0.6,0.6 0 1,0 1.2,0a0.6,0.6 0 1,0 -1.2,0M561.6,343.5m-0.6,0a0.6,0.6 0 1,0 1.2,0a0.6,0.6 0 1,0 -1.2,0M573.1,278.9m-0.6,0a0.6,0.6 0 1,0 1.2,0a0.6,0.6 0 1,0 -1.2,0M684.2,275.3m-0.6,0a0.6,0.6 0 1,0 1.2,0a0.6,0.6 0 1,0 -1.2,0M609.1,308.6m-0.6,0a0.6,0.6 0 1,0 1.2,0a0.6,0.6 0 1,0 -1.2,0M753.0,284.3m-0.6,0a0.6,0.6 0 1,0 1.2,0a0.6,0.6 0 1,0 -1.2,0M630.4,341.7m-0.6,0a0.6,0.6 0 1,0 1.2,0a0.6,0.6 0 1,0 -1.2,0M591.5,312.3m-0.6,0a0.6,0.6 0 1,0 1.2,0a0.6,0.6 0 1,0 -1.2,0M714.1,304.3m-0.6,0a0.6,0.6 0 1,0 1.2,0a0.6,0.6 0 1,0 -1.2,0M681.8,314.6m-0.6,0a0.6,0.6 0 1,0 1.2,0a0.6,0.6 0 1,0 -1.2,0M552.5,322.1m-0.6,0a0.6,0.6 0 1,0 1.2,0a0.6,0.6 0 1,0 -1.2,0M542.3,269.9m-0.6,0a0.6,0.6 0 1,0 1.2,0a0.6,0.6 0 1,0 -1.2,0M684.1,320.6m-0.6,0a0.6,0.6 0 1,0 1.2,0a0.6,0.6 0 1,0 -1.2,0M469.7,287.5m-0.6,0a0.6,0.6 0 1,0 1.2,0a0.6,0.6 0 1,0 -1.2,0M645.4,271.8m-0.6,0a0.6,0.6 0 1,0 1.2,0a0.6,0.6 0 1,0 -1.2,0M590.9,284.9m-0.6,0a0.6,0.6 0 1,0 1.2,0a0.6,0.6 0 1,0 -1.2,0M601.1,294.1m-0.6,0a0.6,0.6 0 1,0 1.2,0a0.6,0.6 0 1,0 -1.2,0M561.9,269.5m-0.6,0a0.6,0.6 0 1,0 1.2,0a0.6,0.6 0 1,0 -1.2,0M752.2,295.6m-0.6,0a0.6,0.6 0 1,0 1.2,0a0.6,0.6 0 1,0 -1.2,0M677.4,309.7m-0.6,0a0.6,0.6 0 1,0 1.2,0a0.6,0.6 0 1,0 -1.2,0M495.9,293.9m-0.6,0a0.6,0.6 0 1,0 1.2,0a0.6,0.6 0 1,0 -1.2,0M642.1,272.7m-0.6,0a0.6,0.6 0 1,0 1.2,0a0.6,0.6 0 1,0 -1.2,0M537.8,287.6m-0.6,0a0.6,0.6 0 1,0 1.2,0a0.6,0.6 0 1,0 -1.2,0M668.6,334.0m-0.6,0a0.6,0.6 0 1,0 1.2,0a0.6,0.6 0 1,0 -1.2,0M685.7,295.4m-0.6,0a0.6,0.6 0 1,0 1.2,0a0.6,0.6 0 1,0 -1.2,0M705.1,319.2m-0.6,0a0.6,0.6 0 1,0 1.2,0a0.6,0.6 0 1,0 -1.2,0M711.7,302.6m-0.6,0a0.6,0.6 0 1,0 1.2,0a0.6,0.6 0 1,0 -1.2,0M634.7,280.5m-0.6,0a0.6,0.6 0 1,0 1.2,0a0.6,0.6 0 1,0 -1.2,0M725.2,305.1m-0.6,0a0.6,0.6 0 1,0 1.2,0a0.6,0.6 0 1,0 -1.2,0M760.1,305.1m-0.6,0a0.6,0.6 0 1,0 1.2,0a0.6,0.6 0 1,0 -1.2,0M687.2,302.0m-0.6,0a0.6,0.6 0 1,0 1.2,0a0.6,0.6 0 1,0 -1.2,0M738.6,286.0m-0.6,0a0.6,0.6 0 1,0 1.2,0a0.6,0.6 0 1,0 -1.2,0M622.8,340.1m-0.6,0a0.6,0.6 0 1,0 1.2,0a0.6,0.6 0 1,0 -1.2,0M460.9,279.8m-0.6,0a0.6,0.6 0 1,0 1.2,0a0.6,0.6 0 1,0 -1.2,0M464.7,321.5m-0.6,0a0.6,0.6 0 1,0 1.2,0a0.6,0.6 0 1,0 -1.2,0M692.9,267.6m-0.6,0a0.6,0.6 0 1,0 1.2,0a0.6,0.6 0 1,0 -1.2,0M698.9,289.5m-0.6,0a0.6,0.6 0 1,0 1.2,0a0.6,0.6 0 1,0 -1.2,0M583.0,270.6m-0.6,0a0.6,0.6 0 1,0 1.2,0a0.6,0.6 0 1,0 -1.2,0M721.2,285.5m-0.6,0a0.6,0.6 0 1,0 1.2,0a0.6,0.6 0 1,0 -1.2,0M542.1,328.8m-0.6,0a0.6,0.6 0 1,0 1.2,0a0.6,0.6 0 1,0 -1.2,0M541.0,273.6m-0.6,0a0.6,0.6 0 1,0 1.2,0a0.6,0.6 0 1,0 -1.2,0M627.9,314.1m-0.6,0a0.6,0.6 0 1,0 1.2,0a0.6,0.6 0 1,0 -1.2,0M568.8,318.2m-0.6,0a0.6,0.6 0 1,0 1.2,0a0.6,0.6 0 1,0 -1.2,0M621.5,332.6m-0.6,0a0.6,0.6 0 1,0 1.2,0a0.6,0.6 0 1,0 -1.2,0M445.8,279.4m-0.6,0a0.6,0.6 0 1,0 1.2,0a0.6,0.6 0 1,0 -1.2,0M449.8,289.0m-0.6,0a0.6,0.6 0 1,0 1.2,0a0.6,0.6 0 1,0 -1.2,0M586.5,296.2m-0.6,0a0.6,0.6 0 1,0 1.2,0a0.6,0.6 0 1,0 -1.2,0M619.9,299.8m-0.6,0a0.6,0.6 0 1,0 1.2,0a0.6,0.6 0 1,0 -1.2,0M731.5,320.1m-0.6,0a0.6,0.6 0 1,0 1.2,0a0.6,0.6 0 1,0 -1.2,0M556.0,269.8m-0.6,0a0.6,0.6 0 1,0 1.2,0a0.6,0.6 0 1,0 -1.2,0M497.9,282.8m-0.6,0a0.6,0.6 0 1,0 1.2,0a0.6,0.6 0 1,0 -1.2,0M575.8,282.6m-0.6,0a0.6,0.6 0 1,0 1.2,0a0.6,0.6 0 1,0 -1.2,0M761.8,302.9m-0.6,0a0.6,0.6 0 1,0 1.2,0a0.6,0.6 0 1,0 -1.2,0M694.7,263.1m-0.6,0a0.6,0.6 0 1,0 1.2,0a0.6,0.6 0 1,0 -1.2,0M623.3,287.6m-0.6,0a0.6,0.6 0 1,0 1.2,0a0.6,0.6 0 1,0 -1.2,0M613.4,314.3m-0.6,0a0.6,0.6 0 1,0 1.2,0a0.6,0.6 0 1,0 -1.2,0M668.4,279.6m-0.6,0a0.6,0.6 0 1,0 1.2,0a0.6,0.6 0 1,0 -1.2,0M745.9,305.6m-0.6,0a0.6,0.6 0 1,0 1.2,0a0.6,0.6 0 1,0 -1.2,0M526.6,340.9m-0.6,0a0.6,0.6 0 1,0 1.2,0a0.6,0.6 0 1,0 -1.2,0M581.3,290.1m-0.6,0a0.6,0.6 0 1,0 1.2,0a0.6,0.6 0 1,0 -1.2,0M712.7,328.2m-0.6,0a0.6,0.6 0 1,0 1.2,0a0.6,0.6 0 1,0 -1.2,0M472.1,288.6m-0.6,0a0.6,0.6 0 1,0 1.2,0a0.6,0.6 0 1,0 -1.2,0M554.6,346.8m-0.6,0a0.6,0.6 0 1,0 1.2,0a0.6,0.6 0 1,0 -1.2,0M748.4,308.9m-0.6,0a0.6,0.6 0 1,0 1.2,0a0.6,0.6 0 1,0 -1.2,0M507.0,334.9m-0.6,0a0.6,0.6 0 1,0 1.2,0a0.6,0.6 0 1,0 -1.2,0M671.7,288.9m-0.6,0a0.6,0.6 0 1,0 1.2,0a0.6,0.6 0 1,0 -1.2,0M533.1,342.7m-0.6,0a0.6,0.6 0 1,0 1.2,0a0.6,0.6 0 1,0 -1.2,0M521.5,268.9m-0.6,0a0.6,0.6 0 1,0 1.2,0a0.6,0.6 0 1,0 -1.2,0M751.3,292.1m-0.6,0a0.6,0.6 0 1,0 1.2,0a0.6,0.6 0 1,0 -1.2,0M549.2,269.4m-0.6,0a0.6,0.6 0 1,0 1.2,0a0.6,0.6 0 1,0 -1.2,0M721.2,284.1m-0.6,0a0.6,0.6 0 1,0 1.2,0a0.6,0.6 0 1,0 -1.2,0M500.4,273.5m-0.6,0a0.6,0.6 0 1,0 1.2,0a0.6,0.6 0 1,0 -1.2,0M631.6,289.0m-0.6,0a0.6,0.6 0 1,0 1.2,0a0.6,0.6 0 1,0 -1.2,0M594.8,328.9m-0.6,0a0.6,0.6 0 1,0 1.2,0a0.6,0.6 0 1,0 -1.2,0M715.6,319.1m-0.6,0a0.6,0.6 0 1,0 1.2,0a0.6,0.6 0 1,0 -1.2,0M434.0,295.1m-0.6,0a0.6,0.6 0 1,0 1.2,0a0.6,0.6 0 1,0 -1.2,0M701.4,330.1m-0.6,0a0.6,0.6 0 1,0 1.2,0a0.6,0.6 0 1,0 -1.2,0M562.4,324.5m-0.6,0a0.6,0.6 0 1,0 1.2,0a0.6,0.6 0 1,0 -1.2,0M634.3,290.8m-0.6,0a0.6,0.6 0 1,0 1.2,0a0.6,0.6 0 1,0 -1.2,0M705.6,293.4m-0.6,0a0.6,0.6 0 1,0 1.2,0a0.6,0.6 0 1,0 -1.2,0M647.8,279.1m-0.6,0a0.6,0.6 0 1,0 1.2,0a0.6,0.6 0 1,0 -1.2,0M543.9,290.3m-0.6,0a0.6,0.6 0 1,0 1.2,0a0.6,0.6 0 1,0 -1.2,0M727.6,282.3m-0.6,0a0.6,0.6 0 1,0 1.2,0a0.6,0.6 0 1,0 -1.2,0M718.9,302.4m-0.6,0a0.6,0.6 0 1,0 1.2,0a0.6,0.6 0 1,0 -1.2,0M566.5,344.8m-0.6,0a0.6,0.6 0 1,0 1.2,0a0.6,0.6 0 1,0 -1.2,0M528.6,320.3m-0.6,0a0.6,0.6 0 1,0 1.2,0a0.6,0.6 0 1,0 -1.2,0M581.0,283.0m-0.6,0a0.6,0.6 0 1,0 1.2,0a0.6,0.6 0 1,0 -1.2,0M530.8,270.1m-0.6,0a0.6,0.6 0 1,0 1.2,0a0.6,0.6 0 1,0 -1.2,0M628.2,327.5m-0.6,0a0.6,0.6 0 1,0 1.2,0a0.6,0.6 0 1,0 -1.2,0M718.2,324.4m-0.6,0a0.6,0.6 0 1,0 1.2,0a0.6,0.6 0 1,0 -1.2,0M764.7,290.1m-0.6,0a0.6,0.6 0 1,0 1.2,0a0.6,0.6 0 1,0 -1.2,0M495.1,322.4m-0.6,0a0.6,0.6 0 1,0 1.2,0a0.6,0.6 0 1,0 -1.2,0M700.2,306.5m-0.6,0a0.6,0.6 0 1,0 1.2,0a0.6,0.6 0 1,0 -1.2,0M458.1,273.9m-0.6,0a0.6,0.6 0 1,0 1.2,0a0.6,0.6 0 1,0 -1.2,0M446.6,287.8m-0.6,0a0.6,0.6 0 1,0 1.2,0a0.6,0.6 0 1,0 -1.2,0M709.9,311.5m-0.6,0a0.6,0.6 0 1,0 1.2,0a0.6,0.6 0 1,0 -1.2,0M491.4,298.7m-0.6,0a0.6,0.6 0 1,0 1.2,0a0.6,0.6 0 1,0 -1.2,0M504.4,297.9m-0.6,0a0.6,0.6 0 1,0 1.2,0a0.6,0.6 0 1,0 -1.2,0M682.2,314.8m-0.6,0a0.6,0.6 0 1,0 1.2,0a0.6,0.6 0 1,0 -1.2,0M673.4,284.7m-0.6,0a0.6,0.6 0 1,0 1.2,0a0.6,0.6 0 1,0 -1.2,0M703.1,296.6m-0.6,0a0.6,0.6 0 1,0 1.2,0a0.6,0.6 0 1,0 -1.2,0M608.2,345.0m-0.6,0a0.6,0.6 0 1,0 1.2,0a0.6,0.6 0 1,0 -1.2,0M700.9,271.4m-0.6,0a0.6,0.6 0 1,0 1.2,0a0.6,0.6 0 1,0 -1.2,0M740.4,272.6m-0.6,0a0.6,0.6 0 1,0 1.2,0a0.6,0.6 0 1,0 -1.2,0M665.5,331.8m-0.6,0a0.6,0.6 0 1,0 1.2,0a0.6,0.6 0 1,0 -1.2,0M740.2,284.1m-0.6,0a0.6,0.6 0 1,0 1.2,0a0.6,0.6 0 1,0 -1.2,0M669.6,264.2m-0.6,0a0.6,0.6 0 1,0 1.2,0a0.6,0.6 0 1,0 -1.2,0M512.8,337.6m-0.6,0a0.6,0.6 0 1,0 1.2,0a0.6,0.6 0 1,0 -1.2,0M591.0,352.3m-0.6,0a0.6,0.6 0 1,0 1.2,0a0.6,0.6 0 1,0 -1.2,0M457.7,283.2m-0.6,0a0.6,0.6 0 1,0 1.2,0a0.6,0.6 0 1,0 -1.2,0M595.4,344.4m-0.6,0a0.6,0.6 0 1,0 1.2,0a0.6,0.6 0 1,0 -1.2,0M583.2,288.5m-0.6,0a0.6,0.6 0 1,0 1.2,0a0.6,0.6 0 1,0 -1.2,0M524.7,332.4m-0.6,0a0.6,0.6 0 1,0 1.2,0a0.6,0.6 0 1,0 -1.2,0M594.5,278.0m-0.6,0a0.6,0.6 0 1,0 1.2,0a0.6,0.6 0 1,0 -1.2,0M737.4,286.2m-0.6,0a0.6,0.6 0 1,0 1.2,0a0.6,0.6 0 1,0 -1.2,0M731.5,311.4m-0.6,0a0.6,0.6 0 1,0 1.2,0a0.6,0.6 0 1,0 -1.2,0M603.3,280.8m-0.6,0a0.6,0.6 0 1,0 1.2,0a0.6,0.6 0 1,0 -1.2,0M616.8,269.6m-0.6,0a0.6,0.6 0 1,0 1.2,0a0.6,0.6 0 1,0 -1.2,0M620.1,314.2m-0.6,0a0.6,0.6 0 1,0 1.2,0a0.6,0.6 0 1,0 -1.2,0M610.7,302.2m-0.6,0a0.6,0.6 0 1,0 1.2,0a0.6,0.6 0 1,0 -1.2,0M478.8,270.1m-0.6,0a0.6,0.6 0 1,0 1.2,0a0.6,0.6 0 1,0 -1.2,0M534.6,322.2m-0.6,0a0.6,0.6 0 1,0 1.2,0a0.6,0.6 0 1,0 -1.2,0M632.4,273.3m-0.6,0a0.6,0.6 0 1,0 1.2,0a0.6,0.6 0 1,0 -1.2,0M730.9,320.0m-0.6,0a0.6,0.6 0 1,0 1.2,0a0.6,0.6 0 1,0 -1.2,0M664.0,343.1m-0.6,0a0.6,0.6 0 1,0 1.2,0a0.6,0.6 0 1,0 -1.2,0M438.2,308.6m-0.6,0a0.6,0.6 0 1,0 1.2,0a0.6,0.6 0 1,0 -1.2,0M474.0,322.0m-0.6,0a0.6,0.6 0 1,0 1.2,0a0.6,0.6 0 1,0 -1.2,0M724.2,306.8m-0.6,0a0.6,0.6 0 1,0 1.2,0a0.6,0.6 0 1,0 -1.2,0M526.3,299.6m-0.6,0a0.6,0.6 0 1,0 1.2,0a0.6,0.6 0 1,0 -1.2,0M596.3,296.6m-0.6,0a0.6,0.6 0 1,0 1.2,0a0.6,0.6 0 1,0 -1.2,0M718.6,295.3m-0.6,0a0.6,0.6 0 1,0 1.2,0a0.6,0.6 0 1,0 -1.2,0M702.1,268.5m-0.6,0a0.6,0.6 0 1,0 1.2,0a0.6,0.6 0 1,0 -1.2,0M540.3,305.2m-0.6,0a0.6,0.6 0 1,0 1.2,0a0.6,0.6 0 1,0 -1.2,0M559.7,350.2m-0.6,0a0.6,0.6 0 1,0 1.2,0a0.6,0.6 0 1,0 -1.2,0M615.4,327.4m-0.6,0a0.6,0.6 0 1,0 1.2,0a0.6,0.6 0 1,0 -1.2,0M675.6,321.2m-0.6,0a0.6,0.6 0 1,0 1.2,0a0.6,0.6 0 1,0 -1.2,0M564.8,283.7m-0.6,0a0.6,0.6 0 1,0 1.2,0a0.6,0.6 0 1,0 -1.2,0M511.3,300.9m-0.6,0a0.6,0.6 0 1,0 1.2,0a0.6,0.6 0 1,0 -1.2,0M576.4,337.2m-0.6,0a0.6,0.6 0 1,0 1.2,0a0.6,0.6 0 1,0 -1.2,0M750.0,284.9m-0.6,0a0.6,0.6 0 1,0 1.2,0a0.6,0.6 0 1,0 -1.2,0M723.7,320.5m-0.6,0a0.6,0.6 0 1,0 1.2,0a0.6,0.6 0 1,0 -1.2,0M679.9,263.7m-0.6,0a0.6,0.6 0 1,0 1.2,0a0.6,0.6 0 1,0 -1.2,0M637.1,266.9m-0.6,0a0.6,0.6 0 1,0 1.2,0a0.6,0.6 0 1,0 -1.2,0M626.2,348.9m-0.6,0a0.6,0.6 0 1,0 1.2,0a0.6,0.6 0 1,0 -1.2,0M500.6,269.4m-0.6,0a0.6,0.6 0 1,0 1.2,0a0.6,0.6 0 1,0 -1.2,0M667.5,325.5m-0.6,0a0.6,0.6 0 1,0 1.2,0a0.6,0.6 0 1,0 -1.2,0M693.2,307.0m-0.6,0a0.6,0.6 0 1,0 1.2,0a0.6,0.6 0 1,0 -1.2,0M457.8,286.6m-0.6,0a0.6,0.6 0 1,0 1.2,0a0.6,0.6 0 1,0 -1.2,0M567.2,300.7m-0.6,0a0.6,0.6 0 1,0 1.2,0a0.6,0.6 0 1,0 -1.2,0M630.1,334.6m-0.6,0a0.6,0.6 0 1,0 1.2,0a0.6,0.6 0 1,0 -1.2,0M641.7,285.2m-0.6,0a0.6,0.6 0 1,0 1.2,0a0.6,0.6 0 1,0 -1.2,0M708.7,264.1m-0.6,0a0.6,0.6 0 1,0 1.2,0a0.6,0.6 0 1,0 -1.2,0M697.2,335.1m-0.6,0a0.6,0.6 0 1,0 1.2,0a0.6,0.6 0 1,0 -1.2,0M478.5,287.9m-0.6,0a0.6,0.6 0 1,0 1.2,0a0.6,0.6 0 1,0 -1.2,0M527.8,335.6m-0.6,0a0.6,0.6 0 1,0 1.2,0a0.6,0.6 0 1,0 -1.2,0M565.3,350.4m-0.6,0a0.6,0.6 0 1,0 1.2,0a0.6,0.6 0 1,0 -1.2,0M737.3,304.4m-0.6,0a0.6,0.6 0 1,0 1.2,0a0.6,0.6 0 1,0 -1.2,0M642.6,265.7m-0.6,0a0.6,0.6 0 1,0 1.2,0a0.6,0.6 0 1,0 -1.2,0M613.5,277.6m-0.6,0a0.6,0.6 0 1,0 1.2,0a0.6,0.6 0 1,0 -1.2,0M617.2,291.8m-0.6,0a0.6,0.6 0 1,0 1.2,0a0.6,0.6 0 1,0 -1.2,0M700.2,287.5m-0.6,0a0.6,0.6 0 1,0 1.2,0a0.6,0.6 0 1,0 -1.2,0M615.4,315.2m-0.6,0a0.6,0.6 0 1,0 1.2,0a0.6,0.6 0 1,0 -1.2,0M739.8,312.0m-0.6,0a0.6,0.6 0 1,0 1.2,0a0.6,0.6 0 1,0 -1.2,0M530.7,282.2m-0.6,0a0.6,0.6 0 1,0 1.2,0a0.6,0.6 0 1,0 -1.2,0M751.8,306.3m-0.6,0a0.6,0.6 0 1,0 1.2,0a0.6,0.6 0 1,0 -1.2,0M449.8,294.3m-0.6,0a0.6,0.6 0 1,0 1.2,0a0.6,0.6 0 1,0 -1.2,0M593.9,346.0m-0.6,0a0.6,0.6 0 1,0 1.2,0a0.6,0.6 0 1,0 -1.2,0M607.8,269.0m-0.6,0a0.6,0.6 0 1,0 1.2,0a0.6,0.6 0 1,0 -1.2,0M682.5,325.7m-0.6,0a0.6,0.6 0 1,0 1.2,0a0.6,0.6 0 1,0 -1.2,0M754.1,281.2m-0.6,0a0.6,0.6 0 1,0 1.2,0a0.6,0.6 0 1,0 -1.2,0M547.8,347.2m-0.6,0a0.6,0.6 0 1,0 1.2,0a0.6,0.6 0 1,0 -1.2,0M517.5,325.3m-0.6,0a0.6,0.6 0 1,0 1.2,0a0.6,0.6 0 1,0 -1.2,0M591.5,274.8m-0.6,0a0.6,0.6 0 1,0 1.2,0a0.6,0.6 0 1,0 -1.2,0M644.0,319.5m-0.6,0a0.6,0.6 0 1,0 1.2,0a0.6,0.6 0 1,0 -1.2,0M576.2,315.4m-0.6,0a0.6,0.6 0 1,0 1.2,0a0.6,0.6 0 1,0 -1.2,0M654.5,283.5m-0.6,0a0.6,0.6 0 1,0 1.2,0a0.6,0.6 0 1,0 -1.2,0M637.0,329.6m-0.6,0a0.6,0.6 0 1,0 1.2,0a0.6,0.6 0 1,0 -1.2,0M735.9,315.8m-0.6,0a0.6,0.6 0 1,0 1.2,0a0.6,0.6 0 1,0 -1.2,0M712.9,264.7m-0.6,0a0.6,0.6 0 1,0 1.2,0a0.6,0.6 0 1,0 -1.2,0M590.7,307.0m-0.6,0a0.6,0.6 0 1,0 1.2,0a0.6,0.6 0 1,0 -1.2,0M654.3,287.5m-0.6,0a0.6,0.6 0 1,0 1.2,0a0.6,0.6 0 1,0 -1.2,0M464.3,270.8m-0.6,0a0.6,0.6 0 1,0 1.2,0a0.6,0.6 0 1,0 -1.2,0M613.9,269.0m-0.6,0a0.6,0.6 0 1,0 1.2,0a0.6,0.6 0 1,0 -1.2,0M653.7,265.5m-0.6,0a0.6,0.6 0 1,0 1.2,0a0.6,0.6 0 1,0 -1.2,0M620.4,287.5m-0.6,0a0.6,0.6 0 1,0 1.2,0a0.6,0.6 0 1,0 -1.2,0M658.7,343.5m-0.6,0a0.6,0.6 0 1,0 1.2,0a0.6,0.6 0 1,0 -1.2,0M463.4,320.7m-0.6,0a0.6,0.6 0 1,0 1.2,0a0.6,0.6 0 1,0 -1.2,0M566.3,292.9m-0.6,0a0.6,0.6 0 1,0 1.2,0a0.6,0.6 0 1,0 -1.2,0M597.1,351.8m-0.6,0a0.6,0.6 0 1,0 1.2,0a0.6,0.6 0 1,0 -1.2,0M695.4,268.4m-0.6,0a0.6,0.6 0 1,0 1.2,0a0.6,0.6 0 1,0 -1.2,0M508.8,330.8m-0.6,0a0.6,0.6 0 1,0 1.2,0a0.6,0.6 0 1,0 -1.2,0M493.0,308.5m-0.6,0a0.6,0.6 0 1,0 1.2,0a0.6,0.6 0 1,0 -1.2,0M643.1,307.5m-0.6,0a0.6,0.6 0 1,0 1.2,0a0.6,0.6 0 1,0 -1.2,0M583.7,276.5m-0.6,0a0.6,0.6 0 1,0 1.2,0a0.6,0.6 0 1,0 -1.2,0M690.1,268.8m-0.6,0a0.6,0.6 0 1,0 1.2,0a0.6,0.6 0 1,0 -1.2,0M609.3,351.9m-0.6,0a0.6,0.6 0 1,0 1.2,0a0.6,0.6 0 1,0 -1.2,0M611.8,329.1m-0.6,0a0.6,0.6 0 1,0 1.2,0a0.6,0.6 0 1,0 -1.2,0M718.7,319.7m-0.6,0a0.6,0.6 0 1,0 1.2,0a0.6,0.6 0 1,0 -1.2,0M725.0,294.5m-0.6,0a0.6,0.6 0 1,0 1.2,0a0.6,0.6 0 1,0 -1.2,0M654.7,296.4m-0.6,0a0.6,0.6 0 1,0 1.2,0a0.6,0.6 0 1,0 -1.2,0M467.7,306.5m-0.6,0a0.6,0.6 0 1,0 1.2,0a0.6,0.6 0 1,0 -1.2,0M737.0,317.1m-0.6,0a0.6,0.6 0 1,0 1.2,0a0.6,0.6 0 1,0 -1.2,0M717.8,270.5m-0.6,0a0.6,0.6 0 1,0 1.2,0a0.6,0.6 0 1,0 -1.2,0M606.2,333.6m-0.6,0a0.6,0.6 0 1,0 1.2,0a0.6,0.6 0 1,0 -1.2,0M603.0,315.3m-0.6,0a0.6,0.6 0 1,0 1.2,0a0.6,0.6 0 1,0 -1.2,0M655.5,274.6m-0.6,0a0.6,0.6 0 1,0 1.2,0a0.6,0.6 0 1,0 -1.2,0M673.4,280.5m-0.6,0a0.6,0.6 0 1,0 1.2,0a0.6,0.6 0 1,0 -1.2,0M635.6,298.1m-0.6,0a0.6,0.6 0 1,0 1.2,0a0.6,0.6 0 1,0 -1.2,0M661.0,318.9m-0.6,0a0.6,0.6 0 1,0 1.2,0a0.6,0.6 0 1,0 -1.2,0M646.5,285.8m-0.6,0a0.6,0.6 0 1,0 1.2,0a0.6,0.6 0 1,0 -1.2,0M591.2,270.8m-0.6,0a0.6,0.6 0 1,0 1.2,0a0.6,0.6 0 1,0 -1.2,0M712.1,290.5m-0.6,0a0.6,0.6 0 1,0 1.2,0a0.6,0.6 0 1,0 -1.2,0M551.7,307.4m-0.6,0a0.6,0.6 0 1,0 1.2,0a0.6,0.6 0 1,0 -1.2,0M575.2,276.2m-0.6,0a0.6,0.6 0 1,0 1.2,0a0.6,0.6 0 1,0 -1.2,0M707.9,324.2m-0.6,0a0.6,0.6 0 1,0 1.2,0a0.6,0.6 0 1,0 -1.2,0M458.6,304.7m-0.6,0a0.6,0.6 0 1,0 1.2,0a0.6,0.6 0 1,0 -1.2,0M689.1,326.8m-0.6,0a0.6,0.6 0 1,0 1.2,0a0.6,0.6 0 1,0 -1.2,0M708.0,277.9m-0.6,0a0.6,0.6 0 1,0 1.2,0a0.6,0.6 0 1,0 -1.2,0M495.3,311.7m-0.6,0a0.6,0.6 0 1,0 1.2,0a0.6,0.6 0 1,0 -1.2,0M716.7,309.3m-0.6,0a0.6,0.6 0 1,0 1.2,0a0.6,0.6 0 1,0 -1.2,0M632.2,278.5m-0.6,0a0.6,0.6 0 1,0 1.2,0a0.6,0.6 0 1,0 -1.2,0M674.5,314.9m-0.6,0a0.6,0.6 0 1,0 1.2,0a0.6,0.6 0 1,0 -1.2,0M724.7,322.3m-0.6,0a0.6,0.6 0 1,0 1.2,0a0.6,0.6 0 1,0 -1.2,0M630.9,335.5m-0.6,0a0.6,0.6 0 1,0 1.2,0a0.6,0.6 0 1,0 -1.2,0M582.0,308.9m-0.6,0a0.6,0.6 0 1,0 1.2,0a0.6,0.6 0 1,0 -1.2,0M575.0,289.7m-0.6,0a0.6,0.6 0 1,0 1.2,0a0.6,0.6 0 1,0 -1.2,0M599.7,289.0m-0.6,0a0.6,0.6 0 1,0 1.2,0a0.6,0.6 0 1,0 -1.2,0M724.9,291.8m-0.6,0a0.6,0.6 0 1,0 1.2,0a0.6,0.6 0 1,0 -1.2,0M534.6,300.0m-0.6,0a0.6,0.6 0 1,0 1.2,0a0.6,0.6 0 1,0 -1.2,0M697.5,294.9m-0.6,0a0.6,0.6 0 1,0 1.2,0a0.6,0.6 0 1,0 -1.2,0M506.9,276.7m-0.6,0a0.6,0.6 0 1,0 1.2,0a0.6,0.6 0 1,0 -1.2,0M700.8,300.7m-0.6,0a0.6,0.6 0 1,0 1.2,0a0.6,0.6 0 1,0 -1.2,0M660.5,332.8m-0.6,0a0.6,0.6 0 1,0 1.2,0a0.6,0.6 0 1,0 -1.2,0M480.7,326.4m-0.6,0a0.6,0.6 0 1,0 1.2,0a0.6,0.6 0 1,0 -1.2,0M597.8,344.0m-0.6,0a0.6,0.6 0 1,0 1.2,0a0.6,0.6 0 1,0 -1.2,0M759.3,285.1m-0.6,0a0.6,0.6 0 1,0 1.2,0a0.6,0.6 0 1,0 -1.2,0M449.6,311.4m-0.6,0a0.6,0.6 0 1,0 1.2,0a0.6,0.6 0 1,0 -1.2,0M741.4,279.0m-0.6,0a0.6,0.6 0 1,0 1.2,0a0.6,0.6 0 1,0 -1.2,0M591.9,312.6m-0.6,0a0.6,0.6 0 1,0 1.2,0a0.6,0.6 0 1,0 -1.2,0M448.4,310.5m-0.6,0a0.6,0.6 0 1,0 1.2,0a0.6,0.6 0 1,0 -1.2,0M628.0,320.5m-0.6,0a0.6,0.6 0 1,0 1.2,0a0.6,0.6 0 1,0 -1.2,0M657.4,342.8m-0.6,0a0.6,0.6 0 1,0 1.2,0a0.6,0.6 0 1,0 -1.2,0M535.5,329.1m-0.6,0a0.6,0.6 0 1,0 1.2,0a0.6,0.6 0 1,0 -1.2,0M545.6,333.5m-0.6,0a0.6,0.6 0 1,0 1.2,0a0.6,0.6 0 1,0 -1.2,0M686.7,331.3m-0.6,0a0.6,0.6 0 1,0 1.2,0a0.6,0.6 0 1,0 -1.2,0M700.2,317.1m-0.6,0a0.6,0.6 0 1,0 1.2,0a0.6,0.6 0 1,0 -1.2,0M728.6,296.0m-0.6,0a0.6,0.6 0 1,0 1.2,0a0.6,0.6 0 1,0 -1.2,0M626.2,279.4m-0.6,0a0.6,0.6 0 1,0 1.2,0a0.6,0.6 0 1,0 -1.2,0M694.9,279.1m-0.6,0a0.6,0.6 0 1,0 1.2,0a0.6,0.6 0 1,0 -1.2,0M701.4,308.2m-0.6,0a0.6,0.6 0 1,0 1.2,0a0.6,0.6 0 1,0 -1.2,0M729.3,277.4m-0.6,0a0.6,0.6 0 1,0 1.2,0a0.6,0.6 0 1,0 -1.2,0M651.9,288.8m-0.6,0a0.6,0.6 0 1,0 1.2,0a0.6,0.6 0 1,0 -1.2,0M678.9,285.5m-0.6,0a0.6,0.6 0 1,0 1.2,0a0.6,0.6 0 1,0 -1.2,0M700.2,324.3m-0.6,0a0.6,0.6 0 1,0 1.2,0a0.6,0.6 0 1,0 -1.2,0M667.7,297.0m-0.6,0a0.6,0.6 0 1,0 1.2,0a0.6,0.6 0 1,0 -1.2,0M622.1,324.9m-0.6,0a0.6,0.6 0 1,0 1.2,0a0.6,0.6 0 1,0 -1.2,0M725.2,276.9m-0.6,0a0.6,0.6 0 1,0 1.2,0a0.6,0.6 0 1,0 -1.2,0M543.3,344.3m-0.6,0a0.6,0.6 0 1,0 1.2,0a0.6,0.6 0 1,0 -1.2,0M744.8,275.8m-0.6,0a0.6,0.6 0 1,0 1.2,0a0.6,0.6 0 1,0 -1.2,0M529.8,301.2m-0.6,0a0.6,0.6 0 1,0 1.2,0a0.6,0.6 0 1,0 -1.2,0M634.3,315.7m-0.6,0a0.6,0.6 0 1,0 1.2,0a0.6,0.6 0 1,0 -1.2,0M540.1,320.2m-0.6,0a0.6,0.6 0 1,0 1.2,0a0.6,0.6 0 1,0 -1.2,0M676.8,320.2m-0.6,0a0.6,0.6 0 1,0 1.2,0a0.6,0.6 0 1,0 -1.2,0M560.0,276.4m-0.6,0a0.6,0.6 0 1,0 1.2,0a0.6,0.6 0 1,0 -1.2,0M656.5,301.0m-0.6,0a0.6,0.6 0 1,0 1.2,0a0.6,0.6 0 1,0 -1.2,0M703.2,286.7m-0.6,0a0.6,0.6 0 1,0 1.2,0a0.6,0.6 0 1,0 -1.2,0M594.4,276.8m-0.6,0a0.6,0.6 0 1,0 1.2,0a0.6,0.6 0 1,0 -1.2,0M625.6,267.9m-0.6,0a0.6,0.6 0 1,0 1.2,0a0.6,0.6 0 1,0 -1.2,0M666.0,315.0m-0.6,0a0.6,0.6 0 1,0 1.2,0a0.6,0.6 0 1,0 -1.2,0M734.1,300.0m-0.6,0a0.6,0.6 0 1,0 1.2,0a0.6,0.6 0 1,0 -1.2,0M555.7,281.4m-0.6,0a0.6,0.6 0 1,0 1.2,0a0.6,0.6 0 1,0 -1.2,0M714.8,281.6m-0.6,0a0.6,0.6 0 1,0 1.2,0a0.6,0.6 0 1,0 -1.2,0M496.5,330.5m-0.6,0a0.6,0.6 0 1,0 1.2,0a0.6,0.6 0 1,0 -1.2,0M611.6,350.4m-0.6,0a0.6,0.6 0 1,0 1.2,0a0.6,0.6 0 1,0 -1.2,0M733.3,283.4m-0.6,0a0.6,0.6 0 1,0 1.2,0a0.6,0.6 0 1,0 -1.2,0M637.3,306.4m-0.6,0a0.6,0.6 0 1,0 1.2,0a0.6,0.6 0 1,0 -1.2,0M655.4,293.6m-0.6,0a0.6,0.6 0 1,0 1.2,0a0.6,0.6 0 1,0 -1.2,0M713.8,287.3m-0.6,0a0.6,0.6 0 1,0 1.2,0a0.6,0.6 0 1,0 -1.2,0M516.8,293.1m-0.6,0a0.6,0.6 0 1,0 1.2,0a0.6,0.6 0 1,0 -1.2,0M693.7,300.5m-0.6,0a0.6,0.6 0 1,0 1.2,0a0.6,0.6 0 1,0 -1.2,0M610.1,282.5m-0.6,0a0.6,0.6 0 1,0 1.2,0a0.6,0.6 0 1,0 -1.2,0M646.0,324.4m-0.6,0a0.6,0.6 0 1,0 1.2,0a0.6,0.6 0 1,0 -1.2,0M707.8,269.6m-0.6,0a0.6,0.6 0 1,0 1.2,0a0.6,0.6 0 1,0 -1.2,0M666.5,341.0m-0.6,0a0.6,0.6 0 1,0 1.2,0a0.6,0.6 0 1,0 -1.2,0M707.0,312.4m-0.6,0a0.6,0.6 0 1,0 1.2,0a0.6,0.6 0 1,0 -1.2,0M735.3,310.9m-0.6,0a0.6,0.6 0 1,0 1.2,0a0.6,0.6 0 1,0 -1.2,0M549.1,310.8m-0.6,0a0.6,0.6 0 1,0 1.2,0a0.6,0.6 0 1,0 -1.2,0M757.1,290.2m-0.6,0a0.6,0.6 0 1,0 1.2,0a0.6,0.6 0 1,0 -1.2,0M464.8,295.8m-0.6,0a0.6,0.6 0 1,0 1.2,0a0.6,0.6 0 1,0 -1.2,0M601.1,340.1m-0.6,0a0.6,0.6 0 1,0 1.2,0a0.6,0.6 0 1,0 -1.2,0M731.4,306.6m-0.6,0a0.6,0.6 0 1,0 1.2,0a0.6,0.6 0 1,0 -1.2,0M678.3,290.8m-0.6,0a0.6,0.6 0 1,0 1.2,0a0.6,0.6 0 1,0 -1.2,0M552.8,293.8m-0.6,0a0.6,0.6 0 1,0 1.2,0a0.6,0.6 0 1,0 -1.2,0M518.7,333.3m-0.6,0a0.6,0.6 0 1,0 1.2,0a0.6,0.6 0 1,0 -1.2,0M700.4,280.8m-0.6,0a0.6,0.6 0 1,0 1.2,0a0.6,0.6 0 1,0 -1.2,0M477.2,309.7m-0.6,0a0.6,0.6 0 1,0 1.2,0a0.6,0.6 0 1,0 -1.2,0M740.8,273.3m-0.6,0a0.6,0.6 0 1,0 1.2,0a0.6,0.6 0 1,0 -1.2,0M604.7,276.1m-0.6,0a0.6,0.6 0 1,0 1.2,0a0.6,0.6 0 1,0 -1.2,0M605.2,340.1m-0.6,0a0.6,0.6 0 1,0 1.2,0a0.6,0.6 0 1,0 -1.2,0M715.0,281.7m-0.6,0a0.6,0.6 0 1,0 1.2,0a0.6,0.6 0 1,0 -1.2,0M613.7,343.1m-0.6,0a0.6,0.6 0 1,0 1.2,0a0.6,0.6 0 1,0 -1.2,0M602.3,351.0m-0.6,0a0.6,0.6 0 1,0 1.2,0a0.6,0.6 0 1,0 -1.2,0M622.1,321.2m-0.6,0a0.6,0.6 0 1,0 1.2,0a0.6,0.6 0 1,0 -1.2,0M751.3,292.2m-0.6,0a0.6,0.6 0 1,0 1.2,0a0.6,0.6 0 1,0 -1.2,0M694.6,278.7m-0.6,0a0.6,0.6 0 1,0 1.2,0a0.6,0.6 0 1,0 -1.2,0M741.9,309.0m-0.6,0a0.6,0.6 0 1,0 1.2,0a0.6,0.6 0 1,0 -1.2,0M572.4,329.2m-0.6,0a0.6,0.6 0 1,0 1.2,0a0.6,0.6 0 1,0 -1.2,0M499.0,326.6m-0.6,0a0.6,0.6 0 1,0 1.2,0a0.6,0.6 0 1,0 -1.2,0M746.8,276.2m-0.6,0a0.6,0.6 0 1,0 1.2,0a0.6,0.6 0 1,0 -1.2,0M763.4,287.7m-0.6,0a0.6,0.6 0 1,0 1.2,0a0.6,0.6 0 1,0 -1.2,0M471.9,296.5m-0.6,0a0.6,0.6 0 1,0 1.2,0a0.6,0.6 0 1,0 -1.2,0M689.4,327.4m-0.6,0a0.6,0.6 0 1,0 1.2,0a0.6,0.6 0 1,0 -1.2,0M607.8,294.6m-0.6,0a0.6,0.6 0 1,0 1.2,0a0.6,0.6 0 1,0 -1.2,0M674.4,338.4m-0.6,0a0.6,0.6 0 1,0 1.2,0a0.6,0.6 0 1,0 -1.2,0M680.6,332.9m-0.6,0a0.6,0.6 0 1,0 1.2,0a0.6,0.6 0 1,0 -1.2,0M666.1,284.2m-0.6,0a0.6,0.6 0 1,0 1.2,0a0.6,0.6 0 1,0 -1.2,0M619.8,268.1m-0.6,0a0.6,0.6 0 1,0 1.2,0a0.6,0.6 0 1,0 -1.2,0M744.2,284.4m-0.6,0a0.6,0.6 0 1,0 1.2,0a0.6,0.6 0 1,0 -1.2,0M572.0,325.6m-0.6,0a0.6,0.6 0 1,0 1.2,0a0.6,0.6 0 1,0 -1.2,0M559.7,330.2m-0.6,0a0.6,0.6 0 1,0 1.2,0a0.6,0.6 0 1,0 -1.2,0M573.8,310.6m-0.6,0a0.6,0.6 0 1,0 1.2,0a0.6,0.6 0 1,0 -1.2,0M506.4,280.3m-0.6,0a0.6,0.6 0 1,0 1.2,0a0.6,0.6 0 1,0 -1.2,0M704.3,322.1m-0.6,0a0.6,0.6 0 1,0 1.2,0a0.6,0.6 0 1,0 -1.2,0M652.5,318.8m-0.6,0a0.6,0.6 0 1,0 1.2,0a0.6,0.6 0 1,0 -1.2,0M689.3,333.6m-0.6,0a0.6,0.6 0 1,0 1.2,0a0.6,0.6 0 1,0 -1.2,0M638.1,340.5m-0.6,0a0.6,0.6 0 1,0 1.2,0a0.6,0.6 0 1,0 -1.2,0M435.0,301.5m-0.6,0a0.6,0.6 0 1,0 1.2,0a0.6,0.6 0 1,0 -1.2,0M764.7,290.2m-0.6,0a0.6,0.6 0 1,0 1.2,0a0.6,0.6 0 1,0 -1.2,0M653.1,270.1m-0.6,0a0.6,0.6 0 1,0 1.2,0a0.6,0.6 0 1,0 -1.2,0M482.6,291.8m-0.6,0a0.6,0.6 0 1,0 1.2,0a0.6,0.6 0 1,0 -1.2,0M544.7,325.5m-0.6,0a0.6,0.6 0 1,0 1.2,0a0.6,0.6 0 1,0 -1.2,0M558.5,349.9m-0.6,0a0.6,0.6 0 1,0 1.2,0a0.6,0.6 0 1,0 -1.2,0M575.7,303.0m-0.6,0a0.6,0.6 0 1,0 1.2,0a0.6,0.6 0 1,0 -1.2,0M659.2,334.9m-0.6,0a0.6,0.6 0 1,0 1.2,0a0.6,0.6 0 1,0 -1.2,0M689.2,335.9m-0.6,0a0.6,0.6 0 1,0 1.2,0a0.6,0.6 0 1,0 -1.2,0M735.4,319.2m-0.6,0a0.6,0.6 0 1,0 1.2,0a0.6,0.6 0 1,0 -1.2,0M488.9,299.1m-0.6,0a0.6,0.6 0 1,0 1.2,0a0.6,0.6 0 1,0 -1.2,0M525.3,308.3m-0.6,0a0.6,0.6 0 1,0 1.2,0a0.6,0.6 0 1,0 -1.2,0M693.8,320.6m-0.6,0a0.6,0.6 0 1,0 1.2,0a0.6,0.6 0 1,0 -1.2,0M634.6,283.6m-0.6,0a0.6,0.6 0 1,0 1.2,0a0.6,0.6 0 1,0 -1.2,0M691.9,291.9m-0.6,0a0.6,0.6 0 1,0 1.2,0a0.6,0.6 0 1,0 -1.2,0M535.0,328.7m-0.6,0a0.6,0.6 0 1,0 1.2,0a0.6,0.6 0 1,0 -1.2,0M638.8,333.7m-0.6,0a0.6,0.6 0 1,0 1.2,0a0.6,0.6 0 1,0 -1.2,0M527.1,288.4m-0.6,0a0.6,0.6 0 1,0 1.2,0a0.6,0.6 0 1,0 -1.2,0M649.5,312.8m-0.6,0a0.6,0.6 0 1,0 1.2,0a0.6,0.6 0 1,0 -1.2,0M519.2,314.4m-0.6,0a0.6,0.6 0 1,0 1.2,0a0.6,0.6 0 1,0 -1.2,0M599.3,321.7m-0.6,0a0.6,0.6 0 1,0 1.2,0a0.6,0.6 0 1,0 -1.2,0M603.2,315.2m-0.6,0a0.6,0.6 0 1,0 1.2,0a0.6,0.6 0 1,0 -1.2,0M528.2,292.9m-0.6,0a0.6,0.6 0 1,0 1.2,0a0.6,0.6 0 1,0 -1.2,0M572.8,286.6m-0.6,0a0.6,0.6 0 1,0 1.2,0a0.6,0.6 0 1,0 -1.2,0M706.9,298.9m-0.6,0a0.6,0.6 0 1,0 1.2,0a0.6,0.6 0 1,0 -1.2,0M517.1,280.4m-0.6,0a0.6,0.6 0 1,0 1.2,0a0.6,0.6 0 1,0 -1.2,0M730.3,313.3m-0.6,0a0.6,0.6 0 1,0 1.2,0a0.6,0.6 0 1,0 -1.2,0M622.0,332.7m-0.6,0a0.6,0.6 0 1,0 1.2,0a0.6,0.6 0 1,0 -1.2,0M676.7,316.2m-0.6,0a0.6,0.6 0 1,0 1.2,0a0.6,0.6 0 1,0 -1.2,0M687.9,313.2m-0.6,0a0.6,0.6 0 1,0 1.2,0a0.6,0.6 0 1,0 -1.2,0M725.5,267.7m-0.6,0a0.6,0.6 0 1,0 1.2,0a0.6,0.6 0 1,0 -1.2,0M696.3,300.5m-0.6,0a0.6,0.6 0 1,0 1.2,0a0.6,0.6 0 1,0 -1.2,0M597.9,336.1m-0.6,0a0.6,0.6 0 1,0 1.2,0a0.6,0.6 0 1,0 -1.2,0M674.5,263.4m-0.6,0a0.6,0.6 0 1,0 1.2,0a0.6,0.6 0 1,0 -1.2,0M614.9,338.2m-0.6,0a0.6,0.6 0 1,0 1.2,0a0.6,0.6 0 1,0 -1.2,0M669.0,316.4m-0.6,0a0.6,0.6 0 1,0 1.2,0a0.6,0.6 0 1,0 -1.2,0M657.1,281.9m-0.6,0a0.6,0.6 0 1,0 1.2,0a0.6,0.6 0 1,0 -1.2,0M693.2,284.3m-0.6,0a0.6,0.6 0 1,0 1.2,0a0.6,0.6 0 1,0 -1.2,0M557.8,288.6m-0.6,0a0.6,0.6 0 1,0 1.2,0a0.6,0.6 0 1,0 -1.2,0M754.6,309.3m-0.6,0a0.6,0.6 0 1,0 1.2,0a0.6,0.6 0 1,0 -1.2,0M603.0,347.0m-0.6,0a0.6,0.6 0 1,0 1.2,0a0.6,0.6 0 1,0 -1.2,0M697.6,334.6m-0.6,0a0.6,0.6 0 1,0 1.2,0a0.6,0.6 0 1,0 -1.2,0M763.7,291.9m-0.6,0a0.6,0.6 0 1,0 1.2,0a0.6,0.6 0 1,0 -1.2,0M440.4,311.3m-0.6,0a0.6,0.6 0 1,0 1.2,0a0.6,0.6 0 1,0 -1.2,0M707.4,303.1m-0.6,0a0.6,0.6 0 1,0 1.2,0a0.6,0.6 0 1,0 -1.2,0M690.7,316.9m-0.6,0a0.6,0.6 0 1,0 1.2,0a0.6,0.6 0 1,0 -1.2,0M695.5,311.8m-0.6,0a0.6,0.6 0 1,0 1.2,0a0.6,0.6 0 1,0 -1.2,0M740.8,302.9m-0.6,0a0.6,0.6 0 1,0 1.2,0a0.6,0.6 0 1,0 -1.2,0M628.1,310.3m-0.6,0a0.6,0.6 0 1,0 1.2,0a0.6,0.6 0 1,0 -1.2,0M694.0,336.4m-0.6,0a0.6,0.6 0 1,0 1.2,0a0.6,0.6 0 1,0 -1.2,0M751.8,311.4m-0.6,0a0.6,0.6 0 1,0 1.2,0a0.6,0.6 0 1,0 -1.2,0M737.3,312.3m-0.6,0a0.6,0.6 0 1,0 1.2,0a0.6,0.6 0 1,0 -1.2,0M515.5,313.2m-0.6,0a0.6,0.6 0 1,0 1.2,0a0.6,0.6 0 1,0 -1.2,0M559.9,307.8m-0.6,0a0.6,0.6 0 1,0 1.2,0a0.6,0.6 0 1,0 -1.2,0M584.3,302.4m-0.6,0a0.6,0.6 0 1,0 1.2,0a0.6,0.6 0 1,0 -1.2,0M661.8,265.9m-0.6,0a0.6,0.6 0 1,0 1.2,0a0.6,0.6 0 1,0 -1.2,0M496.8,318.8m-0.6,0a0.6,0.6 0 1,0 1.2,0a0.6,0.6 0 1,0 -1.2,0M673.4,339.7m-0.6,0a0.6,0.6 0 1,0 1.2,0a0.6,0.6 0 1,0 -1.2,0M695.3,315.3m-0.6,0a0.6,0.6 0 1,0 1.2,0a0.6,0.6 0 1,0 -1.2,0M647.0,299.2m-0.6,0a0.6,0.6 0 1,0 1.2,0a0.6,0.6 0 1,0 -1.2,0M583.5,335.8m-0.6,0a0.6,0.6 0 1,0 1.2,0a0.6,0.6 0 1,0 -1.2,0M589.2,319.5m-0.6,0a0.6,0.6 0 1,0 1.2,0a0.6,0.6 0 1,0 -1.2,0M576.1,270.0m-0.6,0a0.6,0.6 0 1,0 1.2,0a0.6,0.6 0 1,0 -1.2,0M474.9,319.0m-0.6,0a0.6,0.6 0 1,0 1.2,0a0.6,0.6 0 1,0 -1.2,0M595.7,269.3m-0.6,0a0.6,0.6 0 1,0 1.2,0a0.6,0.6 0 1,0 -1.2,0M526.0,276.0m-0.6,0a0.6,0.6 0 1,0 1.2,0a0.6,0.6 0 1,0 -1.2,0M516.1,323.0m-0.6,0a0.6,0.6 0 1,0 1.2,0a0.6,0.6 0 1,0 -1.2,0M648.1,344.4m-0.6,0a0.6,0.6 0 1,0 1.2,0a0.6,0.6 0 1,0 -1.2,0M661.5,292.6m-0.6,0a0.6,0.6 0 1,0 1.2,0a0.6,0.6 0 1,0 -1.2,0M651.2,330.9m-0.6,0a0.6,0.6 0 1,0 1.2,0a0.6,0.6 0 1,0 -1.2,0M704.1,263.4m-0.6,0a0.6,0.6 0 1,0 1.2,0a0.6,0.6 0 1,0 -1.2,0M577.6,301.4m-0.6,0a0.6,0.6 0 1,0 1.2,0a0.6,0.6 0 1,0 -1.2,0M738.7,317.3m-0.6,0a0.6,0.6 0 1,0 1.2,0a0.6,0.6 0 1,0 -1.2,0M665.9,281.2m-0.6,0a0.6,0.6 0 1,0 1.2,0a0.6,0.6 0 1,0 -1.2,0M707.4,326.9m-0.6,0a0.6,0.6 0 1,0 1.2,0a0.6,0.6 0 1,0 -1.2,0M586.0,346.3m-0.6,0a0.6,0.6 0 1,0 1.2,0a0.6,0.6 0 1,0 -1.2,0M657.1,298.5m-0.6,0a0.6,0.6 0 1,0 1.2,0a0.6,0.6 0 1,0 -1.2,0M674.5,338.6m-0.6,0a0.6,0.6 0 1,0 1.2,0a0.6,0.6 0 1,0 -1.2,0M506.7,334.2m-0.6,0a0.6,0.6 0 1,0 1.2,0a0.6,0.6 0 1,0 -1.2,0M644.8,266.5m-0.6,0a0.6,0.6 0 1,0 1.2,0a0.6,0.6 0 1,0 -1.2,0M683.6,337.4m-0.6,0a0.6,0.6 0 1,0 1.2,0a0.6,0.6 0 1,0 -1.2,0M615.1,350.6m-0.6,0a0.6,0.6 0 1,0 1.2,0a0.6,0.6 0 1,0 -1.2,0M717.9,309.2m-0.6,0a0.6,0.6 0 1,0 1.2,0a0.6,0.6 0 1,0 -1.2,0M576.0,349.9m-0.6,0a0.6,0.6 0 1,0 1.2,0a0.6,0.6 0 1,0 -1.2,0M743.0,295.1m-0.6,0a0.6,0.6 0 1,0 1.2,0a0.6,0.6 0 1,0 -1.2,0M731.1,274.0m-0.6,0a0.6,0.6 0 1,0 1.2,0a0.6,0.6 0 1,0 -1.2,0M596.2,299.5m-0.6,0a0.6,0.6 0 1,0 1.2,0a0.6,0.6 0 1,0 -1.2,0M536.6,296.4m-0.6,0a0.6,0.6 0 1,0 1.2,0a0.6,0.6 0 1,0 -1.2,0M656.8,307.6m-0.6,0a0.6,0.6 0 1,0 1.2,0a0.6,0.6 0 1,0 -1.2,0M505.4,325.6m-0.6,0a0.6,0.6 0 1,0 1.2,0a0.6,0.6 0 1,0 -1.2,0M535.7,279.1m-0.6,0a0.6,0.6 0 1,0 1.2,0a0.6,0.6 0 1,0 -1.2,0M553.6,285.0m-0.6,0a0.6,0.6 0 1,0 1.2,0a0.6,0.6 0 1,0 -1.2,0M636.6,312.3m-0.6,0a0.6,0.6 0 1,0 1.2,0a0.6,0.6 0 1,0 -1.2,0M507.5,268.2m-0.6,0a0.6,0.6 0 1,0 1.2,0a0.6,0.6 0 1,0 -1.2,0M744.3,299.0m-0.6,0a0.6,0.6 0 1,0 1.2,0a0.6,0.6 0 1,0 -1.2,0M685.7,274.3m-0.6,0a0.6,0.6 0 1,0 1.2,0a0.6,0.6 0 1,0 -1.2,0M714.9,287.0m-0.6,0a0.6,0.6 0 1,0 1.2,0a0.6,0.6 0 1,0 -1.2,0M713.7,265.3m-0.6,0a0.6,0.6 0 1,0 1.2,0a0.6,0.6 0 1,0 -1.2,0M471.7,270.0m-0.6,0a0.6,0.6 0 1,0 1.2,0a0.6,0.6 0 1,0 -1.2,0M707.0,290.2m-0.6,0a0.6,0.6 0 1,0 1.2,0a0.6,0.6 0 1,0 -1.2,0M644.5,291.7m-0.6,0a0.6,0.6 0 1,0 1.2,0a0.6,0.6 0 1,0 -1.2,0M714.3,314.8m-0.6,0a0.6,0.6 0 1,0 1.2,0a0.6,0.6 0 1,0 -1.2,0M745.8,310.3m-0.6,0a0.6,0.6 0 1,0 1.2,0a0.6,0.6 0 1,0 -1.2,0M718.3,275.8m-0.6,0a0.6,0.6 0 1,0 1.2,0a0.6,0.6 0 1,0 -1.2,0M748.9,287.7m-0.6,0a0.6,0.6 0 1,0 1.2,0a0.6,0.6 0 1,0 -1.2,0M766.1,295.4m-0.6,0a0.6,0.6 0 1,0 1.2,0a0.6,0.6 0 1,0 -1.2,0M578.4,343.2m-0.6,0a0.6,0.6 0 1,0 1.2,0a0.6,0.6 0 1,0 -1.2,0M677.5,326.0m-0.6,0a0.6,0.6 0 1,0 1.2,0a0.6,0.6 0 1,0 -1.2,0M577.1,308.2m-0.6,0a0.6,0.6 0 1,0 1.2,0a0.6,0.6 0 1,0 -1.2,0M550.2,333.3m-0.6,0a0.6,0.6 0 1,0 1.2,0a0.6,0.6 0 1,0 -1.2,0M558.3,321.5m-0.6,0a0.6,0.6 0 1,0 1.2,0a0.6,0.6 0 1,0 -1.2,0M557.6,280.8m-0.6,0a0.6,0.6 0 1,0 1.2,0a0.6,0.6 0 1,0 -1.2,0M735.3,295.4m-0.6,0a0.6,0.6 0 1,0 1.2,0a0.6,0.6 0 1,0 -1.2,0M758.3,297.9m-0.6,0a0.6,0.6 0 1,0 1.2,0a0.6,0.6 0 1,0 -1.2,0M744.4,301.1m-0.6,0a0.6,0.6 0 1,0 1.2,0a0.6,0.6 0 1,0 -1.2,0M583.4,327.3m-0.6,0a0.6,0.6 0 1,0 1.2,0a0.6,0.6 0 1,0 -1.2,0M705.8,273.3m-0.6,0a0.6,0.6 0 1,0 1.2,0a0.6,0.6 0 1,0 -1.2,0M636.5,323.8m-0.6,0a0.6,0.6 0 1,0 1.2,0a0.6,0.6 0 1,0 -1.2,0M715.8,325.6m-0.6,0a0.6,0.6 0 1,0 1.2,0a0.6,0.6 0 1,0 -1.2,0M643.2,312.4m-0.6,0a0.6,0.6 0 1,0 1.2,0a0.6,0.6 0 1,0 -1.2,0M699.4,311.1m-0.6,0a0.6,0.6 0 1,0 1.2,0a0.6,0.6 0 1,0 -1.2,0M675.6,263.3m-0.6,0a0.6,0.6 0 1,0 1.2,0a0.6,0.6 0 1,0 -1.2,0M440.6,309.4m-0.6,0a0.6,0.6 0 1,0 1.2,0a0.6,0.6 0 1,0 -1.2,0M740.6,290.1m-0.6,0a0.6,0.6 0 1,0 1.2,0a0.6,0.6 0 1,0 -1.2,0M657.3,281.5m-0.6,0a0.6,0.6 0 1,0 1.2,0a0.6,0.6 0 1,0 -1.2,0M651.3,330.7m-0.6,0a0.6,0.6 0 1,0 1.2,0a0.6,0.6 0 1,0 -1.2,0M485.7,326.0m-0.6,0a0.6,0.6 0 1,0 1.2,0a0.6,0.6 0 1,0 -1.2,0M573.6,271.6m-0.6,0a0.6,0.6 0 1,0 1.2,0a0.6,0.6 0 1,0 -1.2,0M660.7,306.4m-0.6,0a0.6,0.6 0 1,0 1.2,0a0.6,0.6 0 1,0 -1.2,0M696.7,275.7m-0.6,0a0.6,0.6 0 1,0 1.2,0a0.6,0.6 0 1,0 -1.2,0M730.4,304.9m-0.6,0a0.6,0.6 0 1,0 1.2,0a0.6,0.6 0 1,0 -1.2,0M735.7,290.6m-0.6,0a0.6,0.6 0 1,0 1.2,0a0.6,0.6 0 1,0 -1.2,0M756.3,299.6m-0.6,0a0.6,0.6 0 1,0 1.2,0a0.6,0.6 0 1,0 -1.2,0M735.7,270.8m-0.6,0a0.6,0.6 0 1,0 1.2,0a0.6,0.6 0 1,0 -1.2,0M503.8,311.3m-0.6,0a0.6,0.6 0 1,0 1.2,0a0.6,0.6 0 1,0 -1.2,0M622.8,320.7m-0.6,0a0.6,0.6 0 1,0 1.2,0a0.6,0.6 0 1,0 -1.2,0M613.5,321.8m-0.6,0a0.6,0.6 0 1,0 1.2,0a0.6,0.6 0 1,0 -1.2,0M601.6,329.0m-0.6,0a0.6,0.6 0 1,0 1.2,0a0.6,0.6 0 1,0 -1.2,0M566.5,349.7m-0.6,0a0.6,0.6 0 1,0 1.2,0a0.6,0.6 0 1,0 -1.2,0M553.4,271.9m-0.6,0a0.6,0.6 0 1,0 1.2,0a0.6,0.6 0 1,0 -1.2,0M757.4,294.1m-0.6,0a0.6,0.6 0 1,0 1.2,0a0.6,0.6 0 1,0 -1.2,0M685.7,289.6m-0.6,0a0.6,0.6 0 1,0 1.2,0a0.6,0.6 0 1,0 -1.2,0M664.6,338.2m-0.6,0a0.6,0.6 0 1,0 1.2,0a0.6,0.6 0 1,0 -1.2,0M728.6,321.9m-0.6,0a0.6,0.6 0 1,0 1.2,0a0.6,0.6 0 1,0 -1.2,0M567.5,323.2m-0.6,0a0.6,0.6 0 1,0 1.2,0a0.6,0.6 0 1,0 -1.2,0M692.5,336.7m-0.6,0a0.6,0.6 0 1,0 1.2,0a0.6,0.6 0 1,0 -1.2,0M524.7,312.2m-0.6,0a0.6,0.6 0 1,0 1.2,0a0.6,0.6 0 1,0 -1.2,0M591.7,291.6m-0.6,0a0.6,0.6 0 1,0 1.2,0a0.6,0.6 0 1,0 -1.2,0M731.6,315.3m-0.6,0a0.6,0.6 0 1,0 1.2,0a0.6,0.6 0 1,0 -1.2,0M692.8,264.0m-0.6,0a0.6,0.6 0 1,0 1.2,0a0.6,0.6 0 1,0 -1.2,0M498.0,282.7m-0.6,0a0.6,0.6 0 1,0 1.2,0a0.6,0.6 0 1,0 -1.2,0M731.3,302.9m-0.6,0a0.6,0.6 0 1,0 1.2,0a0.6,0.6 0 1,0 -1.2,0M685.9,264.0m-0.6,0a0.6,0.6 0 1,0 1.2,0a0.6,0.6 0 1,0 -1.2,0M754.9,287.9m-0.6,0a0.6,0.6 0 1,0 1.2,0a0.6,0.6 0 1,0 -1.2,0M720.3,311.4m-0.6,0a0.6,0.6 0 1,0 1.2,0a0.6,0.6 0 1,0 -1.2,0M736.8,276.6m-0.6,0a0.6,0.6 0 1,0 1.2,0a0.6,0.6 0 1,0 -1.2,0M671.0,268.8m-0.6,0a0.6,0.6 0 1,0 1.2,0a0.6,0.6 0 1,0 -1.2,0M631.7,285.2m-0.6,0a0.6,0.6 0 1,0 1.2,0a0.6,0.6 0 1,0 -1.2,0M596.8,285.2m-0.6,0a0.6,0.6 0 1,0 1.2,0a0.6,0.6 0 1,0 -1.2,0M648.0,344.5m-0.6,0a0.6,0.6 0 1,0 1.2,0a0.6,0.6 0 1,0 -1.2,0M663.9,285.9m-0.6,0a0.6,0.6 0 1,0 1.2,0a0.6,0.6 0 1,0 -1.2,0M721.8,296.4m-0.6,0a0.6,0.6 0 1,0 1.2,0a0.6,0.6 0 1,0 -1.2,0M618.1,293.9m-0.6,0a0.6,0.6 0 1,0 1.2,0a0.6,0.6 0 1,0 -1.2,0M520.6,273.6m-0.6,0a0.6,0.6 0 1,0 1.2,0a0.6,0.6 0 1,0 -1.2,0M644.2,301.7m-0.6,0a0.6,0.6 0 1,0 1.2,0a0.6,0.6 0 1,0 -1.2,0M511.1,274.6m-0.6,0a0.6,0.6 0 1,0 1.2,0a0.6,0.6 0 1,0 -1.2,0M651.6,338.1m-0.6,0a0.6,0.6 0 1,0 1.2,0a0.6,0.6 0 1,0 -1.2,0M485.7,303.0m-0.6,0a0.6,0.6 0 1,0 1.2,0a0.6,0.6 0 1,0 -1.2,0M730.9,291.8m-0.6,0a0.6,0.6 0 1,0 1.2,0a0.6,0.6 0 1,0 -1.2,0M510.2,306.5m-0.6,0a0.6,0.6 0 1,0 1.2,0a0.6,0.6 0 1,0 -1.2,0M550.7,296.7m-0.6,0a0.6,0.6 0 1,0 1.2,0a0.6,0.6 0 1,0 -1.2,0M756.2,291.6m-0.6,0a0.6,0.6 0 1,0 1.2,0a0.6,0.6 0 1,0 -1.2,0M445.7,279.6m-0.6,0a0.6,0.6 0 1,0 1.2,0a0.6,0.6 0 1,0 -1.2,0M462.1,320.9m-0.6,0a0.6,0.6 0 1,0 1.2,0a0.6,0.6 0 1,0 -1.2,0M619.4,281.3m-0.6,0a0.6,0.6 0 1,0 1.2,0a0.6,0.6 0 1,0 -1.2,0M750.8,277.1m-0.6,0a0.6,0.6 0 1,0 1.2,0a0.6,0.6 0 1,0 -1.2,0M734.9,290.1m-0.6,0a0.6,0.6 0 1,0 1.2,0a0.6,0.6 0 1,0 -1.2,0M730.1,278.5m-0.6,0a0.6,0.6 0 1,0 1.2,0a0.6,0.6 0 1,0 -1.2,0M653.6,335.0m-0.6,0a0.6,0.6 0 1,0 1.2,0a0.6,0.6 0 1,0 -1.2,0M478.7,303.1m-0.6,0a0.6,0.6 0 1,0 1.2,0a0.6,0.6 0 1,0 -1.2,0M586.7,333.6m-0.6,0a0.6,0.6 0 1,0 1.2,0a0.6,0.6 0 1,0 -1.2,0M510.6,315.8m-0.6,0a0.6,0.6 0 1,0 1.2,0a0.6,0.6 0 1,0 -1.2,0M649.8,338.6m-0.6,0a0.6,0.6 0 1,0 1.2,0a0.6,0.6 0 1,0 -1.2,0M702.3,314.1m-0.6,0a0.6,0.6 0 1,0 1.2,0a0.6,0.6 0 1,0 -1.2,0M607.6,337.9m-0.6,0a0.6,0.6 0 1,0 1.2,0a0.6,0.6 0 1,0 -1.2,0M559.8,337.9m-0.6,0a0.6,0.6 0 1,0 1.2,0a0.6,0.6 0 1,0 -1.2,0M569.1,302.9m-0.6,0a0.6,0.6 0 1,0 1.2,0a0.6,0.6 0 1,0 -1.2,0M713.3,312.8m-0.6,0a0.6,0.6 0 1,0 1.2,0a0.6,0.6 0 1,0 -1.2,0M612.0,310.0m-0.6,0a0.6,0.6 0 1,0 1.2,0a0.6,0.6 0 1,0 -1.2,0M680.5,264.1m-0.6,0a0.6,0.6 0 1,0 1.2,0a0.6,0.6 0 1,0 -1.2,0M729.4,268.8m-0.6,0a0.6,0.6 0 1,0 1.2,0a0.6,0.6 0 1,0 -1.2,0M689.8,263.0m-0.6,0a0.6,0.6 0 1,0 1.2,0a0.6,0.6 0 1,0 -1.2,0M650.3,312.1m-0.6,0a0.6,0.6 0 1,0 1.2,0a0.6,0.6 0 1,0 -1.2,0M642.3,279.3m-0.6,0a0.6,0.6 0 1,0 1.2,0a0.6,0.6 0 1,0 -1.2,0M615.6,277.4m-0.6,0a0.6,0.6 0 1,0 1.2,0a0.6,0.6 0 1,0 -1.2,0M553.0,300.6m-0.6,0a0.6,0.6 0 1,0 1.2,0a0.6,0.6 0 1,0 -1.2,0M714.7,298.5m-0.6,0a0.6,0.6 0 1,0 1.2,0a0.6,0.6 0 1,0 -1.2,0M455.9,302.3m-0.6,0a0.6,0.6 0 1,0 1.2,0a0.6,0.6 0 1,0 -1.2,0M681.8,326.1m-0.6,0a0.6,0.6 0 1,0 1.2,0a0.6,0.6 0 1,0 -1.2,0M755.4,286.2m-0.6,0a0.6,0.6 0 1,0 1.2,0a0.6,0.6 0 1,0 -1.2,0M747.4,302.5m-0.6,0a0.6,0.6 0 1,0 1.2,0a0.6,0.6 0 1,0 -1.2,0M484.7,317.3m-0.6,0a0.6,0.6 0 1,0 1.2,0a0.6,0.6 0 1,0 -1.2,0M694.5,329.4m-0.6,0a0.6,0.6 0 1,0 1.2,0a0.6,0.6 0 1,0 -1.2,0M500.0,303.4m-0.6,0a0.6,0.6 0 1,0 1.2,0a0.6,0.6 0 1,0 -1.2,0M676.3,297.6m-0.6,0a0.6,0.6 0 1,0 1.2,0a0.6,0.6 0 1,0 -1.2,0M587.1,330.7m-0.6,0a0.6,0.6 0 1,0 1.2,0a0.6,0.6 0 1,0 -1.2,0M506.3,315.5m-0.6,0a0.6,0.6 0 1,0 1.2,0a0.6,0.6 0 1,0 -1.2,0M755.9,303.7m-0.6,0a0.6,0.6 0 1,0 1.2,0a0.6,0.6 0 1,0 -1.2,0M640.6,295.8m-0.6,0a0.6,0.6 0 1,0 1.2,0a0.6,0.6 0 1,0 -1.2,0M684.6,320.3m-0.6,0a0.6,0.6 0 1,0 1.2,0a0.6,0.6 0 1,0 -1.2,0M497.7,303.6m-0.6,0a0.6,0.6 0 1,0 1.2,0a0.6,0.6 0 1,0 -1.2,0M680.2,280.8m-0.6,0a0.6,0.6 0 1,0 1.2,0a0.6,0.6 0 1,0 -1.2,0M583.4,326.8m-0.6,0a0.6,0.6 0 1,0 1.2,0a0.6,0.6 0 1,0 -1.2,0M699.7,291.0m-0.6,0a0.6,0.6 0 1,0 1.2,0a0.6,0.6 0 1,0 -1.2,0M529.6,306.8m-0.6,0a0.6,0.6 0 1,0 1.2,0a0.6,0.6 0 1,0 -1.2,0M707.1,264.7m-0.6,0a0.6,0.6 0 1,0 1.2,0a0.6,0.6 0 1,0 -1.2,0M733.5,273.8m-0.6,0a0.6,0.6 0 1,0 1.2,0a0.6,0.6 0 1,0 -1.2,0M645.3,306.0m-0.6,0a0.6,0.6 0 1,0 1.2,0a0.6,0.6 0 1,0 -1.2,0M584.4,280.5m-0.6,0a0.6,0.6 0 1,0 1.2,0a0.6,0.6 0 1,0 -1.2,0M478.8,270.0m-0.6,0a0.6,0.6 0 1,0 1.2,0a0.6,0.6 0 1,0 -1.2,0M604.8,325.1m-0.6,0a0.6,0.6 0 1,0 1.2,0a0.6,0.6 0 1,0 -1.2,0M728.8,272.4m-0.6,0a0.6,0.6 0 1,0 1.2,0a0.6,0.6 0 1,0 -1.2,0M663.3,274.9m-0.6,0a0.6,0.6 0 1,0 1.2,0a0.6,0.6 0 1,0 -1.2,0M669.7,306.3m-0.6,0a0.6,0.6 0 1,0 1.2,0a0.6,0.6 0 1,0 -1.2,0M756.6,295.2m-0.6,0a0.6,0.6 0 1,0 1.2,0a0.6,0.6 0 1,0 -1.2,0M736.8,294.4m-0.6,0a0.6,0.6 0 1,0 1.2,0a0.6,0.6 0 1,0 -1.2,0M511.0,284.6m-0.6,0a0.6,0.6 0 1,0 1.2,0a0.6,0.6 0 1,0 -1.2,0M617.6,284.8m-0.6,0a0.6,0.6 0 1,0 1.2,0a0.6,0.6 0 1,0 -1.2,0M736.6,306.9m-0.6,0a0.6,0.6 0 1,0 1.2,0a0.6,0.6 0 1,0 -1.2,0M545.4,346.6m-0.6,0a0.6,0.6 0 1,0 1.2,0a0.6,0.6 0 1,0 -1.2,0M679.4,268.2m-0.6,0a0.6,0.6 0 1,0 1.2,0a0.6,0.6 0 1,0 -1.2,0M729.7,309.0m-0.6,0a0.6,0.6 0 1,0 1.2,0a0.6,0.6 0 1,0 -1.2,0M627.3,295.8m-0.6,0a0.6,0.6 0 1,0 1.2,0a0.6,0.6 0 1,0 -1.2,0M520.8,319.0m-0.6,0a0.6,0.6 0 1,0 1.2,0a0.6,0.6 0 1,0 -1.2,0M733.5,298.9m-0.6,0a0.6,0.6 0 1,0 1.2,0a0.6,0.6 0 1,0 -1.2,0M762.5,292.1m-0.6,0a0.6,0.6 0 1,0 1.2,0a0.6,0.6 0 1,0 -1.2,0M668.2,269.9m-0.6,0a0.6,0.6 0 1,0 1.2,0a0.6,0.6 0 1,0 -1.2,0M438.6,281.8m-0.6,0a0.6,0.6 0 1,0 1.2,0a0.6,0.6 0 1,0 -1.2,0M731.1,286.9m-0.6,0a0.6,0.6 0 1,0 1.2,0a0.6,0.6 0 1,0 -1.2,0M751.8,311.2m-0.6,0a0.6,0.6 0 1,0 1.2,0a0.6,0.6 0 1,0 -1.2,0M508.4,293.1m-0.6,0a0.6,0.6 0 1,0 1.2,0a0.6,0.6 0 1,0 -1.2,0M753.8,299.3m-0.6,0a0.6,0.6 0 1,0 1.2,0a0.6,0.6 0 1,0 -1.2,0M583.2,276.2m-0.6,0a0.6,0.6 0 1,0 1.2,0a0.6,0.6 0 1,0 -1.2,0M469.4,280.0m-0.6,0a0.6,0.6 0 1,0 1.2,0a0.6,0.6 0 1,0 -1.2,0M434.8,303.5m-0.6,0a0.6,0.6 0 1,0 1.2,0a0.6,0.6 0 1,0 -1.2,0M693.5,294.3m-0.6,0a0.6,0.6 0 1,0 1.2,0a0.6,0.6 0 1,0 -1.2,0M547.3,289.3m-0.6,0a0.6,0.6 0 1,0 1.2,0a0.6,0.6 0 1,0 -1.2,0M614.4,338.6m-0.6,0a0.6,0.6 0 1,0 1.2,0a0.6,0.6 0 1,0 -1.2,0M610.9,289.7m-0.6,0a0.6,0.6 0 1,0 1.2,0a0.6,0.6 0 1,0 -1.2,0M593.5,336.5m-0.6,0a0.6,0.6 0 1,0 1.2,0a0.6,0.6 0 1,0 -1.2,0M734.7,289.0m-0.6,0a0.6,0.6 0 1,0 1.2,0a0.6,0.6 0 1,0 -1.2,0M702.8,273.4m-0.6,0a0.6,0.6 0 1,0 1.2,0a0.6,0.6 0 1,0 -1.2,0M664.9,327.3m-0.6,0a0.6,0.6 0 1,0 1.2,0a0.6,0.6 0 1,0 -1.2,0M479.9,283.6m-0.6,0a0.6,0.6 0 1,0 1.2,0a0.6,0.6 0 1,0 -1.2,0M764.5,296.7m-0.6,0a0.6,0.6 0 1,0 1.2,0a0.6,0.6 0 1,0 -1.2,0M746.8,288.1m-0.6,0a0.6,0.6 0 1,0 1.2,0a0.6,0.6 0 1,0 -1.2,0M538.0,288.1m-0.6,0a0.6,0.6 0 1,0 1.2,0a0.6,0.6 0 1,0 -1.2,0M454.4,318.5m-0.6,0a0.6,0.6 0 1,0 1.2,0a0.6,0.6 0 1,0 -1.2,0M726.2,313.4m-0.6,0a0.6,0.6 0 1,0 1.2,0a0.6,0.6 0 1,0 -1.2,0M657.7,329.1m-0.6,0a0.6,0.6 0 1,0 1.2,0a0.6,0.6 0 1,0 -1.2,0M568.5,279.0m-0.6,0a0.6,0.6 0 1,0 1.2,0a0.6,0.6 0 1,0 -1.2,0M611.1,302.5m-0.6,0a0.6,0.6 0 1,0 1.2,0a0.6,0.6 0 1,0 -1.2,0M514.5,308.5m-0.6,0a0.6,0.6 0 1,0 1.2,0a0.6,0.6 0 1,0 -1.2,0M635.8,268.0m-0.6,0a0.6,0.6 0 1,0 1.2,0a0.6,0.6 0 1,0 -1.2,0M637.2,290.5m-0.6,0a0.6,0.6 0 1,0 1.2,0a0.6,0.6 0 1,0 -1.2,0M759.8,305.3m-0.6,0a0.6,0.6 0 1,0 1.2,0a0.6,0.6 0 1,0 -1.2,0M747.6,303.2m-0.6,0a0.6,0.6 0 1,0 1.2,0a0.6,0.6 0 1,0 -1.2,0M442.3,289.1m-0.6,0a0.6,0.6 0 1,0 1.2,0a0.6,0.6 0 1,0 -1.2,0M644.3,334.3m-0.6,0a0.6,0.6 0 1,0 1.2,0a0.6,0.6 0 1,0 -1.2,0M687.1,268.2m-0.6,0a0.6,0.6 0 1,0 1.2,0a0.6,0.6 0 1,0 -1.2,0M762.2,301.2m-0.6,0a0.6,0.6 0 1,0 1.2,0a0.6,0.6 0 1,0 -1.2,0M544.1,297.1m-0.6,0a0.6,0.6 0 1,0 1.2,0a0.6,0.6 0 1,0 -1.2,0M575.8,344.9m-0.6,0a0.6,0.6 0 1,0 1.2,0a0.6,0.6 0 1,0 -1.2,0M659.1,264.8m-0.6,0a0.6,0.6 0 1,0 1.2,0a0.6,0.6 0 1,0 -1.2,0M543.7,303.0m-0.6,0a0.6,0.6 0 1,0 1.2,0a0.6,0.6 0 1,0 -1.2,0M482.1,293.8m-0.6,0a0.6,0.6 0 1,0 1.2,0a0.6,0.6 0 1,0 -1.2,0M719.9,306.9m-0.6,0a0.6,0.6 0 1,0 1.2,0a0.6,0.6 0 1,0 -1.2,0M603.8,301.2m-0.6,0a0.6,0.6 0 1,0 1.2,0a0.6,0.6 0 1,0 -1.2,0M490.1,275.2m-0.6,0a0.6,0.6 0 1,0 1.2,0a0.6,0.6 0 1,0 -1.2,0M760.5,285.7m-0.6,0a0.6,0.6 0 1,0 1.2,0a0.6,0.6 0 1,0 -1.2,0M742.0,297.6m-0.6,0a0.6,0.6 0 1,0 1.2,0a0.6,0.6 0 1,0 -1.2,0M683.0,331.2m-0.6,0a0.6,0.6 0 1,0 1.2,0a0.6,0.6 0 1,0 -1.2,0M652.2,305.5m-0.6,0a0.6,0.6 0 1,0 1.2,0a0.6,0.6 0 1,0 -1.2,0M486.3,282.0m-0.6,0a0.6,0.6 0 1,0 1.2,0a0.6,0.6 0 1,0 -1.2,0M719.5,314.3m-0.6,0a0.6,0.6 0 1,0 1.2,0a0.6,0.6 0 1,0 -1.2,0M668.7,341.3m-0.6,0a0.6,0.6 0 1,0 1.2,0a0.6,0.6 0 1,0 -1.2,0M729.5,268.9m-0.6,0a0.6,0.6 0 1,0 1.2,0a0.6,0.6 0 1,0 -1.2,0M519.6,339.5m-0.6,0a0.6,0.6 0 1,0 1.2,0a0.6,0.6 0 1,0 -1.2,0M569.5,337.5m-0.6,0a0.6,0.6 0 1,0 1.2,0a0.6,0.6 0 1,0 -1.2,0M619.5,307.4m-0.6,0a0.6,0.6 0 1,0 1.2,0a0.6,0.6 0 1,0 -1.2,0M432.9,290.3m-0.6,0a0.6,0.6 0 1,0 1.2,0a0.6,0.6 0 1,0 -1.2,0M649.7,306.7m-0.6,0a0.6,0.6 0 1,0 1.2,0a0.6,0.6 0 1,0 -1.2,0M684.7,285.8m-0.6,0a0.6,0.6 0 1,0 1.2,0a0.6,0.6 0 1,0 -1.2,0M672.0,267.2m-0.6,0a0.6,0.6 0 1,0 1.2,0a0.6,0.6 0 1,0 -1.2,0M756.1,281.3m-0.6,0a0.6,0.6 0 1,0 1.2,0a0.6,0.6 0 1,0 -1.2,0M671.8,331.3m-0.6,0a0.6,0.6 0 1,0 1.2,0a0.6,0.6 0 1,0 -1.2,0M688.5,312.0m-0.6,0a0.6,0.6 0 1,0 1.2,0a0.6,0.6 0 1,0 -1.2,0M759.1,283.2m-0.6,0a0.6,0.6 0 1,0 1.2,0a0.6,0.6 0 1,0 -1.2,0M647.7,292.6m-0.6,0a0.6,0.6 0 1,0 1.2,0a0.6,0.6 0 1,0 -1.2,0M728.9,297.8m-0.6,0a0.6,0.6 0 1,0 1.2,0a0.6,0.6 0 1,0 -1.2,0M570.8,294.8m-0.6,0a0.6,0.6 0 1,0 1.2,0a0.6,0.6 0 1,0 -1.2,0M733.2,302.1m-0.6,0a0.6,0.6 0 1,0 1.2,0a0.6,0.6 0 1,0 -1.2,0M657.7,324.6m-0.6,0a0.6,0.6 0 1,0 1.2,0a0.6,0.6 0 1,0 -1.2,0M738.6,299.8m-0.6,0a0.6,0.6 0 1,0 1.2,0a0.6,0.6 0 1,0 -1.2,0M465.3,313.9m-0.6,0a0.6,0.6 0 1,0 1.2,0a0.6,0.6 0 1,0 -1.2,0M457.8,319.8m-0.6,0a0.6,0.6 0 1,0 1.2,0a0.6,0.6 0 1,0 -1.2,0M608.9,321.4m-0.6,0a0.6,0.6 0 1,0 1.2,0a0.6,0.6 0 1,0 -1.2,0M604.1,287.8m-0.6,0a0.6,0.6 0 1,0 1.2,0a0.6,0.6 0 1,0 -1.2,0M559.6,307.6m-0.6,0a0.6,0.6 0 1,0 1.2,0a0.6,0.6 0 1,0 -1.2,0M500.9,288.5m-0.6,0a0.6,0.6 0 1,0 1.2,0a0.6,0.6 0 1,0 -1.2,0M487.4,328.5m-0.6,0a0.6,0.6 0 1,0 1.2,0a0.6,0.6 0 1,0 -1.2,0M603.1,351.6m-0.6,0a0.6,0.6 0 1,0 1.2,0a0.6,0.6 0 1,0 -1.2,0M648.2,265.2m-0.6,0a0.6,0.6 0 1,0 1.2,0a0.6,0.6 0 1,0 -1.2,0M694.1,331.5m-0.6,0a0.6,0.6 0 1,0 1.2,0a0.6,0.6 0 1,0 -1.2,0M560.9,299.9m-0.6,0a0.6,0.6 0 1,0 1.2,0a0.6,0.6 0 1,0 -1.2,0M599.0,318.7m-0.6,0a0.6,0.6 0 1,0 1.2,0a0.6,0.6 0 1,0 -1.2,0M626.8,272.5m-0.6,0a0.6,0.6 0 1,0 1.2,0a0.6,0.6 0 1,0 -1.2,0M741.6,291.3m-0.6,0a0.6,0.6 0 1,0 1.2,0a0.6,0.6 0 1,0 -1.2,0M553.4,271.7m-0.6,0a0.6,0.6 0 1,0 1.2,0a0.6,0.6 0 1,0 -1.2,0M640.3,275.0m-0.6,0a0.6,0.6 0 1,0 1.2,0a0.6,0.6 0 1,0 -1.2,0M724.5,310.9m-0.6,0a0.6,0.6 0 1,0 1.2,0a0.6,0.6 0 1,0 -1.2,0M434.6,301.8m-0.6,0a0.6,0.6 0 1,0 1.2,0a0.6,0.6 0 1,0 -1.2,0M663.7,343.2m-0.6,0a0.6,0.6 0 1,0 1.2,0a0.6,0.6 0 1,0 -1.2,0M631.8,347.9m-0.6,0a0.6,0.6 0 1,0 1.2,0a0.6,0.6 0 1,0 -1.2,0M556.4,293.0m-0.6,0a0.6,0.6 0 1,0 1.2,0a0.6,0.6 0 1,0 -1.2,0M749.6,313.3m-0.6,0a0.6,0.6 0 1,0 1.2,0a0.6,0.6 0 1,0 -1.2,0M495.8,276.5m-0.6,0a0.6,0.6 0 1,0 1.2,0a0.6,0.6 0 1,0 -1.2,0M680.1,269.2m-0.6,0a0.6,0.6 0 1,0 1.2,0a0.6,0.6 0 1,0 -1.2,0M635.7,268.1m-0.6,0a0.6,0.6 0 1,0 1.2,0a0.6,0.6 0 1,0 -1.2,0M621.0,351.2m-0.6,0a0.6,0.6 0 1,0 1.2,0a0.6,0.6 0 1,0 -1.2,0M625.3,293.7m-0.6,0a0.6,0.6 0 1,0 1.2,0a0.6,0.6 0 1,0 -1.2,0M534.9,342.3m-0.6,0a0.6,0.6 0 1,0 1.2,0a0.6,0.6 0 1,0 -1.2,0M584.5,350.8m-0.6,0a0.6,0.6 0 1,0 1.2,0a0.6,0.6 0 1,0 -1.2,0M664.1,302.6m-0.6,0a0.6,0.6 0 1,0 1.2,0a0.6,0.6 0 1,0 -1.2,0M708.4,317.1m-0.6,0a0.6,0.6 0 1,0 1.2,0a0.6,0.6 0 1,0 -1.2,0M724.7,315.5m-0.6,0a0.6,0.6 0 1,0 1.2,0a0.6,0.6 0 1,0 -1.2,0M624.1,275.1m-0.6,0a0.6,0.6 0 1,0 1.2,0a0.6,0.6 0 1,0 -1.2,0M662.3,268.4m-0.6,0a0.6,0.6 0 1,0 1.2,0a0.6,0.6 0 1,0 -1.2,0M633.4,274.5m-0.6,0a0.6,0.6 0 1,0 1.2,0a0.6,0.6 0 1,0 -1.2,0M674.3,311.3m-0.6,0a0.6,0.6 0 1,0 1.2,0a0.6,0.6 0 1,0 -1.2,0M687.3,281.8m-0.6,0a0.6,0.6 0 1,0 1.2,0a0.6,0.6 0 1,0 -1.2,0M655.4,271.5m-0.6,0a0.6,0.6 0 1,0 1.2,0a0.6,0.6 0 1,0 -1.2,0M751.0,288.9m-0.6,0a0.6,0.6 0 1,0 1.2,0a0.6,0.6 0 1,0 -1.2,0M721.5,266.3m-0.6,0a0.6,0.6 0 1,0 1.2,0a0.6,0.6 0 1,0 -1.2,0M579.9,322.8m-0.6,0a0.6,0.6 0 1,0 1.2,0a0.6,0.6 0 1,0 -1.2,0M435.4,286.5m-0.6,0a0.6,0.6 0 1,0 1.2,0a0.6,0.6 0 1,0 -1.2,0M707.4,278.4m-0.6,0a0.6,0.6 0 1,0 1.2,0a0.6,0.6 0 1,0 -1.2,0M525.9,340.0m-0.6,0a0.6,0.6 0 1,0 1.2,0a0.6,0.6 0 1,0 -1.2,0M678.2,332.8m-0.6,0a0.6,0.6 0 1,0 1.2,0a0.6,0.6 0 1,0 -1.2,0M643.3,312.5m-0.6,0a0.6,0.6 0 1,0 1.2,0a0.6,0.6 0 1,0 -1.2,0M588.6,288.2m-0.6,0a0.6,0.6 0 1,0 1.2,0a0.6,0.6 0 1,0 -1.2,0M594.9,269.4m-0.6,0a0.6,0.6 0 1,0 1.2,0a0.6,0.6 0 1,0 -1.2,0M623.9,334.2m-0.6,0a0.6,0.6 0 1,0 1.2,0a0.6,0.6 0 1,0 -1.2,0M697.7,295.2m-0.6,0a0.6,0.6 0 1,0 1.2,0a0.6,0.6 0 1,0 -1.2,0M728.7,281.9m-0.6,0a0.6,0.6 0 1,0 1.2,0a0.6,0.6 0 1,0 -1.2,0M571.3,294.7m-0.6,0a0.6,0.6 0 1,0 1.2,0a0.6,0.6 0 1,0 -1.2,0M726.3,317.7m-0.6,0a0.6,0.6 0 1,0 1.2,0a0.6,0.6 0 1,0 -1.2,0M708.9,330.0m-0.6,0a0.6,0.6 0 1,0 1.2,0a0.6,0.6 0 1,0 -1.2,0M659.0,326.9m-0.6,0a0.6,0.6 0 1,0 1.2,0a0.6,0.6 0 1,0 -1.2,0M591.6,340.0m-0.6,0a0.6,0.6 0 1,0 1.2,0a0.6,0.6 0 1,0 -1.2,0M637.4,347.0m-0.6,0a0.6,0.6 0 1,0 1.2,0a0.6,0.6 0 1,0 -1.2,0M691.7,317.1m-0.6,0a0.6,0.6 0 1,0 1.2,0a0.6,0.6 0 1,0 -1.2,0M731.2,294.2m-0.6,0a0.6,0.6 0 1,0 1.2,0a0.6,0.6 0 1,0 -1.2,0M762.3,296.5m-0.6,0a0.6,0.6 0 1,0 1.2,0a0.6,0.6 0 1,0 -1.2,0M660.9,279.3m-0.6,0a0.6,0.6 0 1,0 1.2,0a0.6,0.6 0 1,0 -1.2,0M735.4,281.5m-0.6,0a0.6,0.6 0 1,0 1.2,0a0.6,0.6 0 1,0 -1.2,0M534.7,313.3m-0.6,0a0.6,0.6 0 1,0 1.2,0a0.6,0.6 0 1,0 -1.2,0M474.5,279.4m-0.6,0a0.6,0.6 0 1,0 1.2,0a0.6,0.6 0 1,0 -1.2,0M690.8,297.0m-0.6,0a0.6,0.6 0 1,0 1.2,0a0.6,0.6 0 1,0 -1.2,0M710.8,295.3m-0.6,0a0.6,0.6 0 1,0 1.2,0a0.6,0.6 0 1,0 -1.2,0M745.8,291.1m-0.6,0a0.6,0.6 0 1,0 1.2,0a0.6,0.6 0 1,0 -1.2,0M650.2,325.0m-0.6,0a0.6,0.6 0 1,0 1.2,0a0.6,0.6 0 1,0 -1.2,0M711.7,322.4m-0.6,0a0.6,0.6 0 1,0 1.2,0a0.6,0.6 0 1,0 -1.2,0M522.1,286.9m-0.6,0a0.6,0.6 0 1,0 1.2,0a0.6,0.6 0 1,0 -1.2,0M635.5,300.5m-0.6,0a0.6,0.6 0 1,0 1.2,0a0.6,0.6 0 1,0 -1.2,0M642.4,318.0m-0.6,0a0.6,0.6 0 1,0 1.2,0a0.6,0.6 0 1,0 -1.2,0M726.5,300.2m-0.6,0a0.6,0.6 0 1,0 1.2,0a0.6,0.6 0 1,0 -1.2,0M632.2,295.5m-0.6,0a0.6,0.6 0 1,0 1.2,0a0.6,0.6 0 1,0 -1.2,0M753.3,303.7m-0.6,0a0.6,0.6 0 1,0 1.2,0a0.6,0.6 0 1,0 -1.2,0M692.6,306.6m-0.6,0a0.6,0.6 0 1,0 1.2,0a0.6,0.6 0 1,0 -1.2,0M707.7,306.6m-0.6,0a0.6,0.6 0 1,0 1.2,0a0.6,0.6 0 1,0 -1.2,0M558.9,314.1m-0.6,0a0.6,0.6 0 1,0 1.2,0a0.6,0.6 0 1,0 -1.2,0M683.2,337.9m-0.6,0a0.6,0.6 0 1,0 1.2,0a0.6,0.6 0 1,0 -1.2,0M741.5,279.7m-0.6,0a0.6,0.6 0 1,0 1.2,0a0.6,0.6 0 1,0 -1.2,0M718.7,266.5m-0.6,0a0.6,0.6 0 1,0 1.2,0a0.6,0.6 0 1,0 -1.2,0M505.7,307.7m-0.6,0a0.6,0.6 0 1,0 1.2,0a0.6,0.6 0 1,0 -1.2,0M516.9,337.2m-0.6,0a0.6,0.6 0 1,0 1.2,0a0.6,0.6 0 1,0 -1.2,0M458.1,274.0m-0.6,0a0.6,0.6 0 1,0 1.2,0a0.6,0.6 0 1,0 -1.2,0M661.0,276.5m-0.6,0a0.6,0.6 0 1,0 1.2,0a0.6,0.6 0 1,0 -1.2,0M473.3,316.9m-0.6,0a0.6,0.6 0 1,0 1.2,0a0.6,0.6 0 1,0 -1.2,0M757.5,301.6m-0.6,0a0.6,0.6 0 1,0 1.2,0a0.6,0.6 0 1,0 -1.2,0M541.1,270.7m-0.6,0a0.6,0.6 0 1,0 1.2,0a0.6,0.6 0 1,0 -1.2,0M722.4,272.2m-0.6,0a0.6,0.6 0 1,0 1.2,0a0.6,0.6 0 1,0 -1.2,0M582.6,270.3m-0.6,0a0.6,0.6 0 1,0 1.2,0a0.6,0.6 0 1,0 -1.2,0M713.4,292.6m-0.6,0a0.6,0.6 0 1,0 1.2,0a0.6,0.6 0 1,0 -1.2,0M674.8,272.9m-0.6,0a0.6,0.6 0 1,0 1.2,0a0.6,0.6 0 1,0 -1.2,0" fill="#1a1a1a"/>
<polygon points="443.8,280.6 457.8,274.4 458.4,281.3" fill="#4472c4"/>
<rect x="461.6" y="271.5" width="7.2" height="7.4" rx="0.8" fill="#1fb8c6" transform="rotate(-4 465.2 275.2)"/>
<rect x="470.9" y="270.8" width="7.4" height="7.2" rx="0.8" fill="#1fb8c6" transform="rotate(-3 474.6 274.4)"/>
<rect x="440.4" y="283.0" width="15.6" height="4.0" rx="0.8" fill="#1fb8c6"/>
<rect x="461.3" y="282.5" width="7.4" height="4.6" rx="0.8" fill="#1fb8c6"/>
<ellipse cx="474.2" cy="284.6" rx="4.2" ry="2.9" fill="#ffc000"/>
<ellipse cx="457.4" cy="292.2" rx="21.6" ry="4.1" fill="#7030a0" transform="rotate(3.2 457.4 292.2)"/>
<rect x="434.8" y="294.5" width="20.4" height="7.0" rx="2.5" fill="#ffc000"/>
<rect x="459.3" y="296.9" width="8.0" height="7.2" rx="0.8" fill="#1fb8c6" transform="rotate(3 463.3 300.5)"/>
<rect x="469.1" y="297.7" width="7.2" height="8.0" rx="0.8" fill="#1fb8c6" transform="rotate(12 472.7 301.7)"/>
<rect x="435.2" y="302.7" width="6.0" height="5.4" rx="0.8" fill="#1fb8c6" transform="rotate(30 438.2 305.4)"/>
<rect x="442.2" y="304.2" width="6.4" height="5.6" rx="0.8" fill="#1fb8c6" transform="rotate(12 445.4 307.0)"/>
<polygon points="452.4,303.7 456.1,306.4 454.7,310.8 450.1,310.8 448.7,306.4" fill="#548235" stroke="#548235" stroke-width="0.8" stroke-linejoin="round"/>
<rect x="456.7" y="306.8" width="8.6" height="6.4" rx="2.5" fill="#ffc000" transform="rotate(5 461.0 310.0)"/>
<ellipse cx="471.5" cy="312.0" rx="3.0" ry="4.6" fill="#ed7d31" transform="rotate(10 471.5 312.0)"/>
<polygon points="444.6,310.6 447.5,312.7 446.4,316.0 442.8,316.0 441.7,312.7" fill="#548235" stroke="#548235" stroke-width="0.8" stroke-linejoin="round"/>
<rect x="448.7" y="313.6" width="6.6" height="3.6" rx="1.5" fill="#ffc000" transform="rotate(20 452.0 315.4)"/>
<rect x="457.9" y="315.9" width="6.0" height="3.8" rx="0.8" fill="#1fb8c6" transform="rotate(12 460.9 317.8)"/>
<polygon points="467.6,316.1 470.7,318.4 469.5,322.1 465.7,322.1 464.5,318.4" fill="#548235" stroke="#548235" stroke-width="0.8" stroke-linejoin="round"/>
<ellipse cx="711" cy="265.9" rx="9.5" ry="1.7" fill="#ed7d31"/>
<ellipse cx="578" cy="289.5" rx="9" ry="1.6" fill="#ed7d31" transform="rotate(8 578 289.5)"/>
</g>
</svg>
</body></html>
